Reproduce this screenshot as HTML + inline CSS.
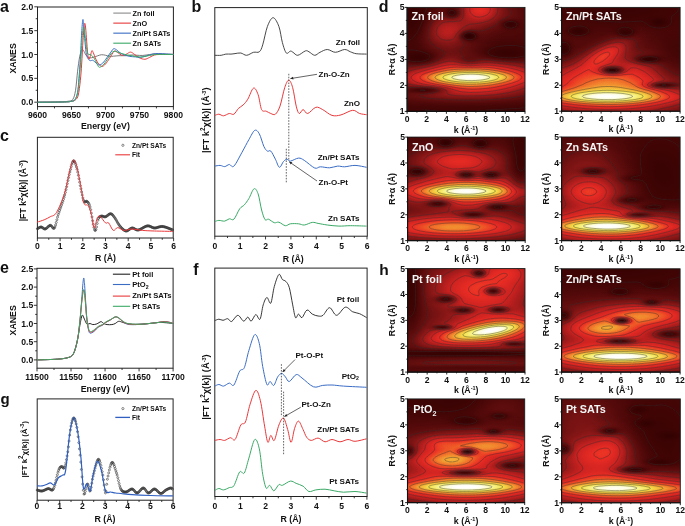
<!DOCTYPE html>
<html><head><meta charset="utf-8"><style>
html,body{margin:0;padding:0;background:#fff;width:685px;height:526px;overflow:hidden}
svg{display:block;font-family:"Liberation Sans",sans-serif;-webkit-font-smoothing:antialiased;will-change:transform}
</style></head><body>
<svg width="685" height="526" viewBox="0 0 685 526">
<defs>
<filter id="cm" x="0" y="0" width="1" height="1" color-interpolation-filters="sRGB"><feComponentTransfer><feFuncR type="table" tableValues="0.165 0.180 0.195 0.210 0.224 0.239 0.254 0.275 0.299 0.323 0.346 0.370 0.394 0.420 0.450 0.480 0.509 0.539 0.569 0.599 0.632 0.665 0.698 0.731 0.764 0.797 0.818 0.836 0.854 0.873 0.891 0.909 0.920 0.923 0.927 0.931 0.934 0.938 0.942 0.943 0.945 0.947 0.949 0.951 0.953 0.954 0.955 0.957 0.958 0.959 0.960 0.962 0.964 0.966 0.968 0.969 0.971 0.974 0.981 0.987 0.993 0.995 0.998 1.000"/><feFuncG type="table" tableValues="0.000 0.003 0.006 0.009 0.012 0.016 0.019 0.024 0.031 0.038 0.045 0.052 0.059 0.065 0.071 0.078 0.084 0.090 0.096 0.103 0.108 0.114 0.119 0.125 0.131 0.136 0.142 0.147 0.153 0.159 0.164 0.170 0.190 0.225 0.260 0.295 0.329 0.364 0.401 0.443 0.485 0.528 0.570 0.612 0.655 0.691 0.726 0.762 0.797 0.833 0.868 0.890 0.903 0.916 0.929 0.942 0.956 0.967 0.976 0.985 0.993 0.995 0.998 1.000"/><feFuncB type="table" tableValues="0.000 0.003 0.006 0.009 0.012 0.016 0.019 0.024 0.031 0.038 0.045 0.052 0.059 0.065 0.071 0.078 0.084 0.090 0.096 0.102 0.107 0.111 0.115 0.120 0.124 0.129 0.131 0.133 0.135 0.137 0.138 0.140 0.142 0.145 0.147 0.150 0.152 0.155 0.158 0.166 0.173 0.181 0.188 0.196 0.203 0.217 0.231 0.245 0.260 0.274 0.288 0.322 0.369 0.415 0.462 0.509 0.556 0.616 0.710 0.803 0.888 0.925 0.963 1.000"/></feComponentTransfer></filter>
<radialGradient id="gw"><stop offset="0.000" stop-color="#fff" stop-opacity="1.0000"/><stop offset="0.083" stop-color="#fff" stop-opacity="0.9692"/><stop offset="0.167" stop-color="#fff" stop-opacity="0.8825"/><stop offset="0.250" stop-color="#fff" stop-opacity="0.7548"/><stop offset="0.333" stop-color="#fff" stop-opacity="0.6065"/><stop offset="0.417" stop-color="#fff" stop-opacity="0.4578"/><stop offset="0.500" stop-color="#fff" stop-opacity="0.3247"/><stop offset="0.583" stop-color="#fff" stop-opacity="0.2163"/><stop offset="0.667" stop-color="#fff" stop-opacity="0.1353"/><stop offset="0.750" stop-color="#fff" stop-opacity="0.0796"/><stop offset="0.833" stop-color="#fff" stop-opacity="0.0439"/><stop offset="0.917" stop-color="#fff" stop-opacity="0.0228"/><stop offset="1.000" stop-color="#fff" stop-opacity="0.0000"/></radialGradient>
<radialGradient id="gb"><stop offset="0.000" stop-color="#000" stop-opacity="1.0000"/><stop offset="0.083" stop-color="#000" stop-opacity="0.9692"/><stop offset="0.167" stop-color="#000" stop-opacity="0.8825"/><stop offset="0.250" stop-color="#000" stop-opacity="0.7548"/><stop offset="0.333" stop-color="#000" stop-opacity="0.6065"/><stop offset="0.417" stop-color="#000" stop-opacity="0.4578"/><stop offset="0.500" stop-color="#000" stop-opacity="0.3247"/><stop offset="0.583" stop-color="#000" stop-opacity="0.2163"/><stop offset="0.667" stop-color="#000" stop-opacity="0.1353"/><stop offset="0.750" stop-color="#000" stop-opacity="0.0796"/><stop offset="0.833" stop-color="#000" stop-opacity="0.0439"/><stop offset="0.917" stop-color="#000" stop-opacity="0.0228"/><stop offset="1.000" stop-color="#000" stop-opacity="0.0000"/></radialGradient>
<clipPath id="cpd1"><rect x="407.1" y="7.4" width="117.9" height="104"/></clipPath>
<clipPath id="cpd2"><rect x="561.6" y="7.4" width="118.5" height="103.8"/></clipPath>
<clipPath id="cpd3"><rect x="407.6" y="137.1" width="117.6" height="103.5"/></clipPath>
<clipPath id="cpd4"><rect x="561.6" y="137" width="118.5" height="103.6"/></clipPath>
<clipPath id="cph1"><rect x="407.6" y="268.6" width="117.4" height="103.5"/></clipPath>
<clipPath id="cph2"><rect x="561.6" y="268.8" width="118.5" height="103.3"/></clipPath>
<clipPath id="cph3"><rect x="407.5" y="398.9" width="117.2" height="103.7"/></clipPath>
<clipPath id="cph4"><rect x="561.6" y="398.9" width="118.7" height="103.9"/></clipPath>
</defs>
<text x="0" y="11.8" font-size="16" text-anchor="start" font-weight="bold" fill="#111">a</text>
<text x="191.5" y="11.8" font-size="16" text-anchor="start" font-weight="bold" fill="#111">b</text>
<text x="0" y="141" font-size="16" text-anchor="start" font-weight="bold" fill="#111">c</text>
<text x="378.8" y="11.8" font-size="16" text-anchor="start" font-weight="bold" fill="#111">d</text>
<text x="0" y="273" font-size="16" text-anchor="start" font-weight="bold" fill="#111">e</text>
<text x="193.3" y="275.2" font-size="16" text-anchor="start" font-weight="bold" fill="#111">f</text>
<text x="0.5" y="403.5" font-size="15" text-anchor="start" font-weight="bold" fill="#111">g</text>
<text x="379.2" y="275" font-size="15.5" text-anchor="start" font-weight="bold" fill="#111">h</text>
<rect x="37.5" y="7" width="135.9" height="99.6" fill="none" stroke="#222" stroke-width="1"/>
<line x1="37.5" y1="106.6" x2="37.5" y2="109.8" stroke="#222" stroke-width="0.9"/>
<line x1="71.47" y1="106.6" x2="71.47" y2="109.8" stroke="#222" stroke-width="0.9"/>
<line x1="105.45" y1="106.6" x2="105.45" y2="109.8" stroke="#222" stroke-width="0.9"/>
<line x1="139.43" y1="106.6" x2="139.43" y2="109.8" stroke="#222" stroke-width="0.9"/>
<line x1="173.4" y1="106.6" x2="173.4" y2="109.8" stroke="#222" stroke-width="0.9"/>
<line x1="54.49" y1="106.6" x2="54.49" y2="108.4" stroke="#222" stroke-width="0.9"/>
<line x1="88.46" y1="106.6" x2="88.46" y2="108.4" stroke="#222" stroke-width="0.9"/>
<line x1="122.44" y1="106.6" x2="122.44" y2="108.4" stroke="#222" stroke-width="0.9"/>
<line x1="156.41" y1="106.6" x2="156.41" y2="108.4" stroke="#222" stroke-width="0.9"/>
<line x1="37.5" y1="102.2" x2="34.3" y2="102.2" stroke="#222" stroke-width="0.9"/>
<line x1="37.5" y1="78.35" x2="34.3" y2="78.35" stroke="#222" stroke-width="0.9"/>
<line x1="37.5" y1="54.5" x2="34.3" y2="54.5" stroke="#222" stroke-width="0.9"/>
<line x1="37.5" y1="30.65" x2="34.3" y2="30.65" stroke="#222" stroke-width="0.9"/>
<line x1="37.5" y1="6.8" x2="34.3" y2="6.8" stroke="#222" stroke-width="0.9"/>
<line x1="37.5" y1="90.28" x2="35.7" y2="90.28" stroke="#222" stroke-width="0.9"/>
<line x1="37.5" y1="66.42" x2="35.7" y2="66.42" stroke="#222" stroke-width="0.9"/>
<line x1="37.5" y1="42.58" x2="35.7" y2="42.58" stroke="#222" stroke-width="0.9"/>
<line x1="37.5" y1="18.72" x2="35.7" y2="18.72" stroke="#222" stroke-width="0.9"/>
<text x="37.5" y="117.7" font-size="8.6" text-anchor="middle" font-weight="bold" fill="#111">9600</text>
<text x="71.47" y="117.7" font-size="8.6" text-anchor="middle" font-weight="bold" fill="#111">9650</text>
<text x="105.45" y="117.7" font-size="8.6" text-anchor="middle" font-weight="bold" fill="#111">9700</text>
<text x="139.43" y="117.7" font-size="8.6" text-anchor="middle" font-weight="bold" fill="#111">9750</text>
<text x="173.4" y="117.7" font-size="8.6" text-anchor="middle" font-weight="bold" fill="#111">9800</text>
<text x="33.2" y="105.2" font-size="8.6" text-anchor="end" font-weight="bold" fill="#111">0.0</text>
<text x="33.2" y="81.35" font-size="8.6" text-anchor="end" font-weight="bold" fill="#111">0.5</text>
<text x="33.2" y="57.5" font-size="8.6" text-anchor="end" font-weight="bold" fill="#111">1.0</text>
<text x="33.2" y="33.65" font-size="8.6" text-anchor="end" font-weight="bold" fill="#111">1.5</text>
<text x="33.2" y="9.8" font-size="8.6" text-anchor="end" font-weight="bold" fill="#111">2.0</text>
<text x="105.4" y="129.2" font-size="8.8" text-anchor="middle" font-weight="bold" fill="#111">Energy (eV)</text>
<text x="16" y="58.4" font-size="8.8" text-anchor="middle" font-weight="bold" fill="#111" transform="rotate(-90 16 58.4)">XANES</text>
<path d="M37.5 102.2C40.9 102.16 52.79 102.12 57.88 101.96C62.98 101.8 65.59 101.68 68.08 101.25C70.57 100.81 71.59 101.17 72.83 99.34C74.08 97.51 74.76 94.97 75.55 90.28C76.34 85.58 76.91 76.76 77.59 71.19C78.27 65.63 78.95 60.38 79.63 56.89C80.31 53.39 81.1 51.4 81.67 50.21C82.23 49.01 82.46 49.17 83.03 49.73C83.59 50.29 84.39 52.43 85.06 53.55C85.74 54.66 86.31 55.69 87.1 56.41C87.9 57.12 88.8 57.68 89.82 57.84C90.84 58 91.97 57.68 93.22 57.36C94.46 57.04 95.94 56.37 97.3 55.93C98.65 55.49 100.01 54.86 101.37 54.74C102.73 54.62 104.09 54.94 105.45 55.22C106.81 55.49 108.17 56.25 109.53 56.41C110.89 56.57 112.02 56.29 113.6 56.17C115.19 56.05 117 55.77 119.04 55.69C121.08 55.61 123.8 55.81 125.83 55.69C127.87 55.57 129.46 55.06 131.27 54.98C133.08 54.9 134.78 55.14 136.71 55.22C138.63 55.3 140.67 55.57 142.82 55.45C144.97 55.33 147.35 54.78 149.62 54.5C151.88 54.22 154.15 53.86 156.41 53.78C158.68 53.7 160.38 53.94 163.21 54.02C166.04 54.1 171.7 54.22 173.4 54.26" fill="none" stroke="#6a6a6a" stroke-width="0.9" stroke-linejoin="round"/>
<path d="M37.5 102.2C42.03 102.16 59.02 102.12 64.68 101.96C70.34 101.8 69.66 101.6 71.47 101.25C73.29 100.89 74.42 100.85 75.55 99.81C76.68 98.78 77.48 98.22 78.27 95.05C79.06 91.87 79.74 85.9 80.31 80.73C80.87 75.57 81.21 70.8 81.67 64.04C82.12 57.28 82.57 46.79 83.03 40.19C83.48 33.59 83.99 26.83 84.39 24.45C84.78 22.06 85.07 23.65 85.4 25.88C85.74 28.11 86.03 33.03 86.42 37.8C86.82 42.57 87.33 50.92 87.78 54.5C88.24 58.08 88.69 59.11 89.14 59.27C89.59 59.43 90.05 56.88 90.5 55.45C90.95 54.02 91.41 51.16 91.86 50.68C92.31 50.21 92.54 51.16 93.22 52.59C93.9 54.02 95.03 57.36 95.94 59.27C96.84 61.18 97.64 62.85 98.66 64.04C99.67 65.23 100.92 66.42 102.05 66.42C103.19 66.42 104.2 65.39 105.45 64.04C106.7 62.69 108.05 60.46 109.53 58.32C111 56.17 112.92 52.11 114.28 51.16C115.64 50.21 116.32 51.88 117.68 52.59C119.04 53.31 120.97 55.22 122.44 55.45C123.91 55.69 125.16 54.58 126.51 54.02C127.87 53.47 129.23 52.04 130.59 52.11C131.95 52.19 133.2 53.55 134.67 54.5C136.14 55.45 137.73 57.04 139.43 57.84C141.12 58.63 143.16 59.35 144.86 59.27C146.56 59.19 148.03 58.08 149.62 57.36C151.2 56.65 152.68 55.45 154.37 54.98C156.07 54.5 157.77 54.58 159.81 54.5C161.85 54.42 164.34 54.5 166.6 54.5C168.87 54.5 172.27 54.5 173.4 54.5" fill="none" stroke="#e8383a" stroke-width="1.0" stroke-linejoin="round"/>
<path d="M37.5 102.2C42.03 102.16 59.02 102.12 64.68 101.96C70.34 101.8 69.78 101.6 71.47 101.25C73.17 100.89 73.85 101.25 74.87 99.81C75.89 98.38 76.91 96.24 77.59 92.66C78.27 89.08 78.5 83.91 78.95 78.35C79.4 72.78 79.86 66.82 80.31 59.27C80.76 51.72 81.25 39.63 81.67 33.03C82.09 26.44 82.48 20.87 82.82 19.68C83.16 18.49 83.33 22.06 83.71 25.88C84.08 29.7 84.61 37.8 85.06 42.58C85.52 47.35 85.86 51.72 86.42 54.5C86.99 57.28 87.78 58.24 88.46 59.27C89.14 60.3 89.82 60.54 90.5 60.7C91.18 60.86 91.86 60.06 92.54 60.22C93.22 60.38 93.79 61.02 94.58 61.66C95.37 62.29 96.5 63.48 97.3 64.04C98.09 64.6 98.43 65.15 99.33 64.99C100.24 64.84 101.49 64.28 102.73 63.09C103.98 61.89 105.45 59.67 106.81 57.84C108.17 56.01 109.75 53.63 110.89 52.11C112.02 50.6 112.7 49.17 113.6 48.78C114.51 48.38 115.19 49.01 116.32 49.73C117.45 50.45 119.04 52.19 120.4 53.07C121.76 53.94 122.89 54.42 124.48 54.98C126.06 55.53 128.1 56.09 129.91 56.41C131.72 56.73 133.65 56.73 135.35 56.89C137.05 57.04 138.29 57.52 140.1 57.36C141.92 57.2 144.07 56.49 146.22 55.93C148.37 55.37 150.98 54.42 153.01 54.02C155.05 53.63 156.19 53.55 158.45 53.55C160.72 53.55 164.11 53.86 166.6 54.02C169.1 54.18 172.27 54.42 173.4 54.5" fill="none" stroke="#3a6cc4" stroke-width="1.0" stroke-linejoin="round"/>
<path d="M37.5 102.2C42.03 102.16 59.02 102.12 64.68 101.96C70.34 101.8 69.78 101.6 71.47 101.25C73.17 100.89 73.85 101.25 74.87 99.81C75.89 98.38 76.85 96.24 77.59 92.66C78.33 89.08 78.72 84.31 79.29 78.35C79.86 72.39 80.48 64.04 80.99 56.89C81.5 49.73 81.89 40.39 82.35 35.42C82.8 30.45 83.25 27.07 83.71 27.07C84.16 27.07 84.61 32.04 85.06 35.42C85.52 38.8 85.97 44.32 86.42 47.35C86.88 50.37 87.33 52.35 87.78 53.55C88.24 54.74 88.58 54.26 89.14 54.5C89.71 54.74 90.39 54.42 91.18 54.98C91.97 55.53 92.99 56.49 93.9 57.84C94.8 59.19 95.82 61.58 96.62 63.09C97.41 64.6 97.98 66.27 98.66 66.9C99.33 67.54 99.79 67.38 100.69 66.9C101.6 66.42 102.85 65.55 104.09 64.04C105.34 62.53 106.92 59.67 108.17 57.84C109.41 56.01 110.55 54.18 111.57 53.07C112.58 51.96 113.26 51.32 114.28 51.16C115.3 51 116.44 51.72 117.68 52.11C118.93 52.51 120.17 53.07 121.76 53.55C123.34 54.02 125.38 54.58 127.19 54.98C129.01 55.37 130.82 55.61 132.63 55.93C134.44 56.25 136.37 56.73 138.07 56.89C139.76 57.04 140.9 57.12 142.82 56.89C144.75 56.65 147.35 55.85 149.62 55.45C151.88 55.06 153.58 54.66 156.41 54.5C159.24 54.34 163.77 54.5 166.6 54.5C169.44 54.5 172.27 54.5 173.4 54.5" fill="none" stroke="#3aa865" stroke-width="1.0" stroke-linejoin="round"/>
<line x1="113.3" y1="13.1" x2="131" y2="13.1" stroke="#8a8a8a" stroke-width="1.1"/>
<text x="132.6" y="15.9" font-size="7.3" text-anchor="start" font-weight="bold" fill="#111">Zn foil</text>
<line x1="113.3" y1="23.13" x2="131" y2="23.13" stroke="#e8383a" stroke-width="1.1"/>
<text x="132.6" y="25.93" font-size="7.3" text-anchor="start" font-weight="bold" fill="#111">ZnO</text>
<line x1="113.3" y1="33.16" x2="131" y2="33.16" stroke="#3a6cc4" stroke-width="1.1"/>
<text x="132.6" y="35.96" font-size="7.3" text-anchor="start" font-weight="bold" fill="#111">Zn/Pt SATs</text>
<line x1="113.3" y1="43.19" x2="131" y2="43.19" stroke="#3aa865" stroke-width="1.1"/>
<text x="132.6" y="45.99" font-size="7.3" text-anchor="start" font-weight="bold" fill="#111">Zn SATs</text>
<rect x="214.8" y="7.6" width="152.5" height="228.6" fill="none" stroke="#222" stroke-width="1"/>
<line x1="214.8" y1="236.2" x2="214.8" y2="239.4" stroke="#222" stroke-width="0.9"/>
<line x1="240.17" y1="236.2" x2="240.17" y2="239.4" stroke="#222" stroke-width="0.9"/>
<line x1="265.54" y1="236.2" x2="265.54" y2="239.4" stroke="#222" stroke-width="0.9"/>
<line x1="290.91" y1="236.2" x2="290.91" y2="239.4" stroke="#222" stroke-width="0.9"/>
<line x1="316.28" y1="236.2" x2="316.28" y2="239.4" stroke="#222" stroke-width="0.9"/>
<line x1="341.65" y1="236.2" x2="341.65" y2="239.4" stroke="#222" stroke-width="0.9"/>
<line x1="367.02" y1="236.2" x2="367.02" y2="239.4" stroke="#222" stroke-width="0.9"/>
<line x1="227.49" y1="236.2" x2="227.49" y2="238" stroke="#222" stroke-width="0.9"/>
<line x1="252.86" y1="236.2" x2="252.86" y2="238" stroke="#222" stroke-width="0.9"/>
<line x1="278.23" y1="236.2" x2="278.23" y2="238" stroke="#222" stroke-width="0.9"/>
<line x1="303.6" y1="236.2" x2="303.6" y2="238" stroke="#222" stroke-width="0.9"/>
<line x1="328.97" y1="236.2" x2="328.97" y2="238" stroke="#222" stroke-width="0.9"/>
<line x1="354.34" y1="236.2" x2="354.34" y2="238" stroke="#222" stroke-width="0.9"/>
<text x="214.8" y="248.8" font-size="8.6" text-anchor="middle" font-weight="bold" fill="#111">0</text>
<text x="240.17" y="248.8" font-size="8.6" text-anchor="middle" font-weight="bold" fill="#111">1</text>
<text x="265.54" y="248.8" font-size="8.6" text-anchor="middle" font-weight="bold" fill="#111">2</text>
<text x="290.91" y="248.8" font-size="8.6" text-anchor="middle" font-weight="bold" fill="#111">3</text>
<text x="316.28" y="248.8" font-size="8.6" text-anchor="middle" font-weight="bold" fill="#111">4</text>
<text x="341.65" y="248.8" font-size="8.6" text-anchor="middle" font-weight="bold" fill="#111">5</text>
<text x="367.02" y="248.8" font-size="8.6" text-anchor="middle" font-weight="bold" fill="#111">6</text>
<text x="293.21" y="261.5" font-size="8.8" text-anchor="middle" font-weight="bold" fill="#111">R (Å)</text>
<text x="208.7" y="120.2" font-size="9.4" text-anchor="middle" font-weight="bold" fill="#111" transform="rotate(-90 208.7 120.2)">|FT k<tspan font-size="6.3" dy="-3.4">2</tspan><tspan dy="3.4">χ(k)| (Å</tspan><tspan font-size="5.5" dy="-3">-3</tspan><tspan dy="3">)</tspan></text>
<path d="M214.8 55.3C215.87 55.3 219.37 55.5 221.2 55.3C223.03 55.1 224.17 54.3 225.8 54.1C227.43 53.9 229.47 54.18 231 54.1C232.53 54.02 233.37 53.78 235 53.6C236.63 53.42 238.87 52.72 240.8 53C242.73 53.28 244.48 55.42 246.6 55.3C248.72 55.18 251.38 52.88 253.5 52.3C255.62 51.72 257.77 53.03 259.3 51.8C260.83 50.57 261.35 49.12 262.7 44.9C264.05 40.68 265.67 31.03 267.4 26.5C269.13 21.97 271.18 17.7 273.1 17.7C275.02 17.7 277.35 22.35 278.9 26.5C280.45 30.65 281.17 38.18 282.4 42.6C283.63 47.02 284.97 51.58 286.3 53C287.63 54.42 289.28 51.22 290.4 51.1C291.52 50.98 291.77 51.6 293 52.3C294.23 53 295.73 55.53 297.8 55.3C299.87 55.07 303.53 51.48 305.4 50.9C307.27 50.32 307.45 51.07 309 51.8C310.55 52.53 312.87 55.22 314.7 55.3C316.53 55.38 317.9 53.27 320 52.3C322.1 51.33 324.73 49.5 327.3 49.5C329.87 49.5 332.52 52.3 335.4 52.3C338.28 52.3 342.1 49.58 344.6 49.5C347.1 49.42 348.47 51.1 350.4 51.8C352.33 52.5 353.5 53.32 356.2 53.7C358.9 54.08 364.87 54.03 366.6 54.1" fill="none" stroke="#333" stroke-width="0.9" stroke-linejoin="round"/>
<path d="M214.8 115.4C215.48 115.2 217.45 114.13 218.9 114.2C220.35 114.27 221.77 115.92 223.5 115.8C225.23 115.68 227.57 113.77 229.3 113.5C231.03 113.23 232.37 115.05 233.9 114.2C235.43 113.35 236.97 109.93 238.5 108.4C240.03 106.87 241.55 106.53 243.1 105C244.65 103.47 246.07 102.02 247.8 99.2C249.53 96.38 251.78 88.87 253.5 88.1C255.22 87.33 256.75 91.02 258.1 94.6C259.45 98.18 260.25 106.83 261.6 109.6C262.95 112.37 264.67 110.55 266.2 111.2C267.73 111.85 269.27 113 270.8 113.5C272.33 114 273.87 115.43 275.4 114.2C276.93 112.97 278.45 110.52 280 106.1C281.55 101.68 283.23 92.03 284.7 87.7C286.17 83.37 287.47 80.1 288.8 80.1C290.13 80.1 291.47 83.37 292.7 87.7C293.93 92.03 295.12 101.8 296.2 106.1C297.28 110.4 298.05 112.92 299.2 113.5C300.35 114.08 301.68 109.6 303.1 109.6C304.52 109.6 305.58 113.88 307.7 113.5C309.82 113.12 313.3 107.95 315.8 107.3C318.3 106.65 320 108.25 322.7 109.6C325.4 110.95 328.95 114.52 332 115.4C335.05 116.28 337.55 115.75 341 114.9C344.45 114.05 349.6 110.53 352.7 110.3C355.8 110.07 357.28 112.77 359.6 113.5C361.92 114.23 365.43 114.5 366.6 114.7" fill="none" stroke="#e8383a" stroke-width="1.0" stroke-linejoin="round"/>
<path d="M214.8 166.1C215.68 165.98 218.45 165.32 220.1 165.4C221.75 165.48 223.17 166.75 224.7 166.6C226.23 166.45 227.77 164.58 229.3 164.5C230.83 164.42 231.78 168.13 233.9 166.1C236.02 164.07 239.5 156.72 242 152.3C244.5 147.88 246.78 143.25 248.9 139.6C251.02 135.95 252.97 131.37 254.7 130.4C256.43 129.43 257.77 131.12 259.3 133.8C260.83 136.48 262.55 143.62 263.9 146.5C265.25 149.38 266.25 150.33 267.4 151.1C268.55 151.87 269.47 149.75 270.8 151.1C272.13 152.45 273.97 156.5 275.4 159.2C276.83 161.9 278.05 166.92 279.4 167.3C280.75 167.68 282.23 162.85 283.5 161.5C284.77 160.15 285.85 159.27 287 159.2C288.15 159.13 288.48 161.28 290.4 161.1C292.32 160.92 296.18 158.22 298.5 158.1C300.82 157.98 301.6 158.75 304.3 160.4C307 162.05 312.02 166.93 314.7 168C317.38 169.07 317.92 166.83 320.4 166.8C322.88 166.77 326.72 167.92 329.6 167.8C332.48 167.68 335.2 166.27 337.7 166.1C340.2 165.93 341.72 166.92 344.6 166.8C347.48 166.68 351.33 165.32 355 165.4C358.67 165.48 364.67 166.98 366.6 167.3" fill="none" stroke="#3a6cc4" stroke-width="1.0" stroke-linejoin="round"/>
<path d="M214.8 221.5C215.48 221.32 217.25 220.47 218.9 220.4C220.55 220.33 222.97 221.37 224.7 221.1C226.43 220.83 227.77 219.12 229.3 218.8C230.83 218.48 232.17 220.87 233.9 219.2C235.63 217.53 237.97 211.18 239.7 208.8C241.43 206.42 242.77 206.62 244.3 204.9C245.83 203.18 247.28 201.18 248.9 198.5C250.52 195.82 252.47 189.58 254 188.8C255.53 188.02 256.83 190.27 258.1 193.8C259.37 197.33 260.43 205.68 261.6 210C262.77 214.32 263.95 218.17 265.1 219.7C266.25 221.23 266.97 218.7 268.5 219.2C270.03 219.7 272.57 222.2 274.3 222.7C276.03 223.2 277.05 221.7 278.9 222.2C280.75 222.7 283.48 225.43 285.4 225.7C287.32 225.97 288.22 224.12 290.4 223.8C292.58 223.48 296.18 223.6 298.5 223.8C300.82 224 302 225.23 304.3 225C306.6 224.77 310 222.67 312.3 222.4C314.6 222.13 315.6 222.97 318.1 223.4C320.6 223.83 323.83 224.55 327.3 225C330.77 225.45 335.05 225.98 338.9 226.1C342.75 226.22 345.78 225.7 350.4 225.7C355.02 225.7 363.9 226.03 366.6 226.1" fill="none" stroke="#3aa865" stroke-width="1.0" stroke-linejoin="round"/>
<text x="360.1" y="45" font-size="8.1" text-anchor="end" font-weight="bold" fill="#111">Zn foil</text>
<text x="360.1" y="106.1" font-size="8.1" text-anchor="end" font-weight="bold" fill="#111">ZnO</text>
<text x="359.6" y="159.9" font-size="8.1" text-anchor="end" font-weight="bold" fill="#111">Zn/Pt SATs</text>
<text x="359.6" y="221" font-size="8.1" text-anchor="end" font-weight="bold" fill="#111">Zn SATs</text>
<line x1="288.8" y1="73.8" x2="288.8" y2="161" stroke="#222" stroke-width="0.7" stroke-dasharray="1.6 1.3"/>
<line x1="286.3" y1="148.8" x2="286.3" y2="182.3" stroke="#222" stroke-width="0.7" stroke-dasharray="1.6 1.3"/>
<line x1="317" y1="74.3" x2="290.4" y2="78.6" stroke="#222" stroke-width="0.7"/>
<path d="M290.4 78.6 L293.02 76.77 L293.47 79.51 Z" fill="#222"/>
<text x="318.6" y="77.3" font-size="8.0" text-anchor="start" font-weight="bold" fill="#111">Zn-O-Zn</text>
<line x1="317" y1="181" x2="289.2" y2="161.8" stroke="#222" stroke-width="0.7"/>
<path d="M289.2 161.8 L292.36 162.29 L290.78 164.58 Z" fill="#222"/>
<text x="318.6" y="185.4" font-size="8.0" text-anchor="start" font-weight="bold" fill="#111">Zn-O-Pt</text>
<rect x="37.4" y="137.3" width="135.8" height="100.7" fill="none" stroke="#222" stroke-width="1"/>
<line x1="37.4" y1="238" x2="37.4" y2="241.2" stroke="#222" stroke-width="0.9"/>
<line x1="60.1" y1="238" x2="60.1" y2="241.2" stroke="#222" stroke-width="0.9"/>
<line x1="82.8" y1="238" x2="82.8" y2="241.2" stroke="#222" stroke-width="0.9"/>
<line x1="105.5" y1="238" x2="105.5" y2="241.2" stroke="#222" stroke-width="0.9"/>
<line x1="128.2" y1="238" x2="128.2" y2="241.2" stroke="#222" stroke-width="0.9"/>
<line x1="150.9" y1="238" x2="150.9" y2="241.2" stroke="#222" stroke-width="0.9"/>
<line x1="173.6" y1="238" x2="173.6" y2="241.2" stroke="#222" stroke-width="0.9"/>
<line x1="48.75" y1="238" x2="48.75" y2="239.8" stroke="#222" stroke-width="0.9"/>
<line x1="71.45" y1="238" x2="71.45" y2="239.8" stroke="#222" stroke-width="0.9"/>
<line x1="94.15" y1="238" x2="94.15" y2="239.8" stroke="#222" stroke-width="0.9"/>
<line x1="116.85" y1="238" x2="116.85" y2="239.8" stroke="#222" stroke-width="0.9"/>
<line x1="139.55" y1="238" x2="139.55" y2="239.8" stroke="#222" stroke-width="0.9"/>
<line x1="162.25" y1="238" x2="162.25" y2="239.8" stroke="#222" stroke-width="0.9"/>
<text x="37.4" y="248.5" font-size="8.6" text-anchor="middle" font-weight="bold" fill="#111">0</text>
<text x="60.1" y="248.5" font-size="8.6" text-anchor="middle" font-weight="bold" fill="#111">1</text>
<text x="82.8" y="248.5" font-size="8.6" text-anchor="middle" font-weight="bold" fill="#111">2</text>
<text x="105.5" y="248.5" font-size="8.6" text-anchor="middle" font-weight="bold" fill="#111">3</text>
<text x="128.2" y="248.5" font-size="8.6" text-anchor="middle" font-weight="bold" fill="#111">4</text>
<text x="150.9" y="248.5" font-size="8.6" text-anchor="middle" font-weight="bold" fill="#111">5</text>
<text x="173.6" y="248.5" font-size="8.6" text-anchor="middle" font-weight="bold" fill="#111">6</text>
<text x="105.5" y="261.3" font-size="8.8" text-anchor="middle" font-weight="bold" fill="#111">R (Å)</text>
<text x="26.5" y="190.7" font-size="8.7" text-anchor="middle" font-weight="bold" fill="#111" transform="rotate(-90 26.5 190.7)">|FT k<tspan font-size="6.3" dy="-3.4">2</tspan><tspan dy="3.4">χ(k)| (Å</tspan><tspan font-size="5.5" dy="-3">-3</tspan><tspan dy="3">)</tspan></text>
<path d="M36.4 228.77a1.0 1.0 0 1 0 2 0a1.0 1.0 0 1 0 -2 0M37.05 228.34a1.0 1.0 0 1 0 2 0a1.0 1.0 0 1 0 -2 0M37.7 227.93a1.0 1.0 0 1 0 2 0a1.0 1.0 0 1 0 -2 0M38.35 227.56a1.0 1.0 0 1 0 2 0a1.0 1.0 0 1 0 -2 0M39 227.26a1.0 1.0 0 1 0 2 0a1.0 1.0 0 1 0 -2 0M39.65 227.05a1.0 1.0 0 1 0 2 0a1.0 1.0 0 1 0 -2 0M40.3 227.02a1.0 1.0 0 1 0 2 0a1.0 1.0 0 1 0 -2 0M40.95 227.26a1.0 1.0 0 1 0 2 0a1.0 1.0 0 1 0 -2 0M41.6 227.71a1.0 1.0 0 1 0 2 0a1.0 1.0 0 1 0 -2 0M42.25 228.24a1.0 1.0 0 1 0 2 0a1.0 1.0 0 1 0 -2 0M42.9 228.69a1.0 1.0 0 1 0 2 0a1.0 1.0 0 1 0 -2 0M43.55 228.97a1.0 1.0 0 1 0 2 0a1.0 1.0 0 1 0 -2 0M44.2 229a1.0 1.0 0 1 0 2 0a1.0 1.0 0 1 0 -2 0M44.85 228.73a1.0 1.0 0 1 0 2 0a1.0 1.0 0 1 0 -2 0M45.5 228.27a1.0 1.0 0 1 0 2 0a1.0 1.0 0 1 0 -2 0M46.15 227.69a1.0 1.0 0 1 0 2 0a1.0 1.0 0 1 0 -2 0M46.8 227.06a1.0 1.0 0 1 0 2 0a1.0 1.0 0 1 0 -2 0M47.45 226.44a1.0 1.0 0 1 0 2 0a1.0 1.0 0 1 0 -2 0M48.1 225.89a1.0 1.0 0 1 0 2 0a1.0 1.0 0 1 0 -2 0M48.75 225.47a1.0 1.0 0 1 0 2 0a1.0 1.0 0 1 0 -2 0M49.4 225.3a1.0 1.0 0 1 0 2 0a1.0 1.0 0 1 0 -2 0M50.05 225.58a1.0 1.0 0 1 0 2 0a1.0 1.0 0 1 0 -2 0M50.7 226.3a1.0 1.0 0 1 0 2 0a1.0 1.0 0 1 0 -2 0M51.35 227.22a1.0 1.0 0 1 0 2 0a1.0 1.0 0 1 0 -2 0M52 228.05a1.0 1.0 0 1 0 2 0a1.0 1.0 0 1 0 -2 0M52.65 228.45a1.0 1.0 0 1 0 2 0a1.0 1.0 0 1 0 -2 0M53.3 228.12a1.0 1.0 0 1 0 2 0a1.0 1.0 0 1 0 -2 0M53.95 226.93a1.0 1.0 0 1 0 2 0a1.0 1.0 0 1 0 -2 0M54.6 224.97a1.0 1.0 0 1 0 2 0a1.0 1.0 0 1 0 -2 0M55.25 222.48a1.0 1.0 0 1 0 2 0a1.0 1.0 0 1 0 -2 0M55.9 219.76a1.0 1.0 0 1 0 2 0a1.0 1.0 0 1 0 -2 0M56.55 217.1a1.0 1.0 0 1 0 2 0a1.0 1.0 0 1 0 -2 0M57.2 214.7a1.0 1.0 0 1 0 2 0a1.0 1.0 0 1 0 -2 0M57.85 212.6a1.0 1.0 0 1 0 2 0a1.0 1.0 0 1 0 -2 0M58.5 210.66a1.0 1.0 0 1 0 2 0a1.0 1.0 0 1 0 -2 0M59.15 208.79a1.0 1.0 0 1 0 2 0a1.0 1.0 0 1 0 -2 0M59.8 206.96a1.0 1.0 0 1 0 2 0a1.0 1.0 0 1 0 -2 0M60.45 205.12a1.0 1.0 0 1 0 2 0a1.0 1.0 0 1 0 -2 0M61.1 203.26a1.0 1.0 0 1 0 2 0a1.0 1.0 0 1 0 -2 0M61.75 201.34a1.0 1.0 0 1 0 2 0a1.0 1.0 0 1 0 -2 0M62.4 199.34a1.0 1.0 0 1 0 2 0a1.0 1.0 0 1 0 -2 0M63.05 197.23a1.0 1.0 0 1 0 2 0a1.0 1.0 0 1 0 -2 0M63.7 194.93a1.0 1.0 0 1 0 2 0a1.0 1.0 0 1 0 -2 0M64.35 192.38a1.0 1.0 0 1 0 2 0a1.0 1.0 0 1 0 -2 0M65 189.62a1.0 1.0 0 1 0 2 0a1.0 1.0 0 1 0 -2 0M65.65 186.68a1.0 1.0 0 1 0 2 0a1.0 1.0 0 1 0 -2 0M66.3 183.64a1.0 1.0 0 1 0 2 0a1.0 1.0 0 1 0 -2 0M66.95 180.57a1.0 1.0 0 1 0 2 0a1.0 1.0 0 1 0 -2 0M67.6 177.53a1.0 1.0 0 1 0 2 0a1.0 1.0 0 1 0 -2 0M68.25 174.65a1.0 1.0 0 1 0 2 0a1.0 1.0 0 1 0 -2 0M68.9 172.01a1.0 1.0 0 1 0 2 0a1.0 1.0 0 1 0 -2 0M69.55 169.36a1.0 1.0 0 1 0 2 0a1.0 1.0 0 1 0 -2 0M70.2 166.69a1.0 1.0 0 1 0 2 0a1.0 1.0 0 1 0 -2 0M70.85 164.25a1.0 1.0 0 1 0 2 0a1.0 1.0 0 1 0 -2 0M71.5 162.3a1.0 1.0 0 1 0 2 0a1.0 1.0 0 1 0 -2 0M72.15 161.12a1.0 1.0 0 1 0 2 0a1.0 1.0 0 1 0 -2 0M72.8 160.84a1.0 1.0 0 1 0 2 0a1.0 1.0 0 1 0 -2 0M73.45 161.4a1.0 1.0 0 1 0 2 0a1.0 1.0 0 1 0 -2 0M74.1 162.72a1.0 1.0 0 1 0 2 0a1.0 1.0 0 1 0 -2 0M74.75 164.61a1.0 1.0 0 1 0 2 0a1.0 1.0 0 1 0 -2 0M75.4 166.86a1.0 1.0 0 1 0 2 0a1.0 1.0 0 1 0 -2 0M76.05 169.28a1.0 1.0 0 1 0 2 0a1.0 1.0 0 1 0 -2 0M76.7 172.11a1.0 1.0 0 1 0 2 0a1.0 1.0 0 1 0 -2 0M77.35 175.31a1.0 1.0 0 1 0 2 0a1.0 1.0 0 1 0 -2 0M78 178.72a1.0 1.0 0 1 0 2 0a1.0 1.0 0 1 0 -2 0M78.65 182.2a1.0 1.0 0 1 0 2 0a1.0 1.0 0 1 0 -2 0M79.3 185.64a1.0 1.0 0 1 0 2 0a1.0 1.0 0 1 0 -2 0M79.95 188.87a1.0 1.0 0 1 0 2 0a1.0 1.0 0 1 0 -2 0M80.6 191.94a1.0 1.0 0 1 0 2 0a1.0 1.0 0 1 0 -2 0M81.25 195.06a1.0 1.0 0 1 0 2 0a1.0 1.0 0 1 0 -2 0M81.9 197.95a1.0 1.0 0 1 0 2 0a1.0 1.0 0 1 0 -2 0M82.55 200.26a1.0 1.0 0 1 0 2 0a1.0 1.0 0 1 0 -2 0M83.2 201.74a1.0 1.0 0 1 0 2 0a1.0 1.0 0 1 0 -2 0M83.85 202.12a1.0 1.0 0 1 0 2 0a1.0 1.0 0 1 0 -2 0M84.5 201.78a1.0 1.0 0 1 0 2 0a1.0 1.0 0 1 0 -2 0M85.15 201.3a1.0 1.0 0 1 0 2 0a1.0 1.0 0 1 0 -2 0M85.8 201.26a1.0 1.0 0 1 0 2 0a1.0 1.0 0 1 0 -2 0M86.45 201.82a1.0 1.0 0 1 0 2 0a1.0 1.0 0 1 0 -2 0M87.1 202.48a1.0 1.0 0 1 0 2 0a1.0 1.0 0 1 0 -2 0M87.75 203.46a1.0 1.0 0 1 0 2 0a1.0 1.0 0 1 0 -2 0M88.4 204.94a1.0 1.0 0 1 0 2 0a1.0 1.0 0 1 0 -2 0M89.05 206.96a1.0 1.0 0 1 0 2 0a1.0 1.0 0 1 0 -2 0M89.7 209.68a1.0 1.0 0 1 0 2 0a1.0 1.0 0 1 0 -2 0M90.35 213.14a1.0 1.0 0 1 0 2 0a1.0 1.0 0 1 0 -2 0M91 216.9a1.0 1.0 0 1 0 2 0a1.0 1.0 0 1 0 -2 0M91.65 220.7a1.0 1.0 0 1 0 2 0a1.0 1.0 0 1 0 -2 0M92.3 224.31a1.0 1.0 0 1 0 2 0a1.0 1.0 0 1 0 -2 0M92.95 227.46a1.0 1.0 0 1 0 2 0a1.0 1.0 0 1 0 -2 0M93.6 229.77a1.0 1.0 0 1 0 2 0a1.0 1.0 0 1 0 -2 0M94.25 230.6a1.0 1.0 0 1 0 2 0a1.0 1.0 0 1 0 -2 0M94.9 229.56a1.0 1.0 0 1 0 2 0a1.0 1.0 0 1 0 -2 0M95.55 226.96a1.0 1.0 0 1 0 2 0a1.0 1.0 0 1 0 -2 0M96.2 223.49a1.0 1.0 0 1 0 2 0a1.0 1.0 0 1 0 -2 0M96.85 220.26a1.0 1.0 0 1 0 2 0a1.0 1.0 0 1 0 -2 0M97.5 218.38a1.0 1.0 0 1 0 2 0a1.0 1.0 0 1 0 -2 0M98.15 217.32a1.0 1.0 0 1 0 2 0a1.0 1.0 0 1 0 -2 0M98.8 216.69a1.0 1.0 0 1 0 2 0a1.0 1.0 0 1 0 -2 0M99.45 216.36a1.0 1.0 0 1 0 2 0a1.0 1.0 0 1 0 -2 0M100.1 216.18a1.0 1.0 0 1 0 2 0a1.0 1.0 0 1 0 -2 0M100.75 216.05a1.0 1.0 0 1 0 2 0a1.0 1.0 0 1 0 -2 0M101.4 216.14a1.0 1.0 0 1 0 2 0a1.0 1.0 0 1 0 -2 0M102.05 216.37a1.0 1.0 0 1 0 2 0a1.0 1.0 0 1 0 -2 0M102.7 216.62a1.0 1.0 0 1 0 2 0a1.0 1.0 0 1 0 -2 0M103.35 216.81a1.0 1.0 0 1 0 2 0a1.0 1.0 0 1 0 -2 0M104 216.87a1.0 1.0 0 1 0 2 0a1.0 1.0 0 1 0 -2 0M104.65 216.75a1.0 1.0 0 1 0 2 0a1.0 1.0 0 1 0 -2 0M105.3 216.42a1.0 1.0 0 1 0 2 0a1.0 1.0 0 1 0 -2 0M105.95 215.96a1.0 1.0 0 1 0 2 0a1.0 1.0 0 1 0 -2 0M106.6 215.42a1.0 1.0 0 1 0 2 0a1.0 1.0 0 1 0 -2 0M107.25 214.88a1.0 1.0 0 1 0 2 0a1.0 1.0 0 1 0 -2 0M107.9 214.38a1.0 1.0 0 1 0 2 0a1.0 1.0 0 1 0 -2 0M108.55 213.97a1.0 1.0 0 1 0 2 0a1.0 1.0 0 1 0 -2 0M109.2 213.72a1.0 1.0 0 1 0 2 0a1.0 1.0 0 1 0 -2 0M109.85 213.74a1.0 1.0 0 1 0 2 0a1.0 1.0 0 1 0 -2 0M110.5 214a1.0 1.0 0 1 0 2 0a1.0 1.0 0 1 0 -2 0M111.15 214.48a1.0 1.0 0 1 0 2 0a1.0 1.0 0 1 0 -2 0M111.8 215.17a1.0 1.0 0 1 0 2 0a1.0 1.0 0 1 0 -2 0M112.45 216a1.0 1.0 0 1 0 2 0a1.0 1.0 0 1 0 -2 0M113.1 216.89a1.0 1.0 0 1 0 2 0a1.0 1.0 0 1 0 -2 0M113.75 217.77a1.0 1.0 0 1 0 2 0a1.0 1.0 0 1 0 -2 0M114.4 218.73a1.0 1.0 0 1 0 2 0a1.0 1.0 0 1 0 -2 0M115.05 219.82a1.0 1.0 0 1 0 2 0a1.0 1.0 0 1 0 -2 0M115.7 220.97a1.0 1.0 0 1 0 2 0a1.0 1.0 0 1 0 -2 0M116.35 222.13a1.0 1.0 0 1 0 2 0a1.0 1.0 0 1 0 -2 0M117 223.26a1.0 1.0 0 1 0 2 0a1.0 1.0 0 1 0 -2 0M117.65 224.31a1.0 1.0 0 1 0 2 0a1.0 1.0 0 1 0 -2 0M118.3 225.26a1.0 1.0 0 1 0 2 0a1.0 1.0 0 1 0 -2 0M118.95 226.08a1.0 1.0 0 1 0 2 0a1.0 1.0 0 1 0 -2 0M119.6 226.84a1.0 1.0 0 1 0 2 0a1.0 1.0 0 1 0 -2 0M120.25 227.58a1.0 1.0 0 1 0 2 0a1.0 1.0 0 1 0 -2 0M120.9 228.28a1.0 1.0 0 1 0 2 0a1.0 1.0 0 1 0 -2 0M121.55 228.93a1.0 1.0 0 1 0 2 0a1.0 1.0 0 1 0 -2 0M122.2 229.52a1.0 1.0 0 1 0 2 0a1.0 1.0 0 1 0 -2 0M122.85 230.03a1.0 1.0 0 1 0 2 0a1.0 1.0 0 1 0 -2 0M123.5 230.46a1.0 1.0 0 1 0 2 0a1.0 1.0 0 1 0 -2 0M124.15 230.78a1.0 1.0 0 1 0 2 0a1.0 1.0 0 1 0 -2 0M124.8 230.98a1.0 1.0 0 1 0 2 0a1.0 1.0 0 1 0 -2 0M125.45 231.01a1.0 1.0 0 1 0 2 0a1.0 1.0 0 1 0 -2 0M126.1 230.85a1.0 1.0 0 1 0 2 0a1.0 1.0 0 1 0 -2 0M126.75 230.54a1.0 1.0 0 1 0 2 0a1.0 1.0 0 1 0 -2 0M127.4 230.13a1.0 1.0 0 1 0 2 0a1.0 1.0 0 1 0 -2 0M128.05 229.66a1.0 1.0 0 1 0 2 0a1.0 1.0 0 1 0 -2 0M128.7 229.17a1.0 1.0 0 1 0 2 0a1.0 1.0 0 1 0 -2 0M129.35 228.72a1.0 1.0 0 1 0 2 0a1.0 1.0 0 1 0 -2 0M130 228.34a1.0 1.0 0 1 0 2 0a1.0 1.0 0 1 0 -2 0M130.65 228.08a1.0 1.0 0 1 0 2 0a1.0 1.0 0 1 0 -2 0M131.3 227.99a1.0 1.0 0 1 0 2 0a1.0 1.0 0 1 0 -2 0M131.95 228.08a1.0 1.0 0 1 0 2 0a1.0 1.0 0 1 0 -2 0M132.6 228.31a1.0 1.0 0 1 0 2 0a1.0 1.0 0 1 0 -2 0M133.25 228.65a1.0 1.0 0 1 0 2 0a1.0 1.0 0 1 0 -2 0M133.9 229.03a1.0 1.0 0 1 0 2 0a1.0 1.0 0 1 0 -2 0M134.55 229.4a1.0 1.0 0 1 0 2 0a1.0 1.0 0 1 0 -2 0M135.2 229.71a1.0 1.0 0 1 0 2 0a1.0 1.0 0 1 0 -2 0M135.85 229.92a1.0 1.0 0 1 0 2 0a1.0 1.0 0 1 0 -2 0M136.5 230.02a1.0 1.0 0 1 0 2 0a1.0 1.0 0 1 0 -2 0M137.15 230a1.0 1.0 0 1 0 2 0a1.0 1.0 0 1 0 -2 0M137.8 229.87a1.0 1.0 0 1 0 2 0a1.0 1.0 0 1 0 -2 0M138.45 229.65a1.0 1.0 0 1 0 2 0a1.0 1.0 0 1 0 -2 0M139.1 229.37a1.0 1.0 0 1 0 2 0a1.0 1.0 0 1 0 -2 0M139.75 229.05a1.0 1.0 0 1 0 2 0a1.0 1.0 0 1 0 -2 0M140.4 228.7a1.0 1.0 0 1 0 2 0a1.0 1.0 0 1 0 -2 0M141.05 228.34a1.0 1.0 0 1 0 2 0a1.0 1.0 0 1 0 -2 0M141.7 227.97a1.0 1.0 0 1 0 2 0a1.0 1.0 0 1 0 -2 0M142.35 227.6a1.0 1.0 0 1 0 2 0a1.0 1.0 0 1 0 -2 0M143 227.23a1.0 1.0 0 1 0 2 0a1.0 1.0 0 1 0 -2 0M143.65 226.89a1.0 1.0 0 1 0 2 0a1.0 1.0 0 1 0 -2 0M144.3 226.58a1.0 1.0 0 1 0 2 0a1.0 1.0 0 1 0 -2 0M144.95 226.3a1.0 1.0 0 1 0 2 0a1.0 1.0 0 1 0 -2 0M145.6 226.07a1.0 1.0 0 1 0 2 0a1.0 1.0 0 1 0 -2 0M146.25 225.92a1.0 1.0 0 1 0 2 0a1.0 1.0 0 1 0 -2 0M146.9 225.87a1.0 1.0 0 1 0 2 0a1.0 1.0 0 1 0 -2 0M147.55 225.91a1.0 1.0 0 1 0 2 0a1.0 1.0 0 1 0 -2 0M148.2 226.05a1.0 1.0 0 1 0 2 0a1.0 1.0 0 1 0 -2 0M148.85 226.26a1.0 1.0 0 1 0 2 0a1.0 1.0 0 1 0 -2 0M149.5 226.54a1.0 1.0 0 1 0 2 0a1.0 1.0 0 1 0 -2 0M150.15 226.86a1.0 1.0 0 1 0 2 0a1.0 1.0 0 1 0 -2 0M150.8 227.18a1.0 1.0 0 1 0 2 0a1.0 1.0 0 1 0 -2 0M151.45 227.48a1.0 1.0 0 1 0 2 0a1.0 1.0 0 1 0 -2 0M152.1 227.73a1.0 1.0 0 1 0 2 0a1.0 1.0 0 1 0 -2 0M152.75 227.9a1.0 1.0 0 1 0 2 0a1.0 1.0 0 1 0 -2 0M153.4 227.99a1.0 1.0 0 1 0 2 0a1.0 1.0 0 1 0 -2 0M154.05 227.99a1.0 1.0 0 1 0 2 0a1.0 1.0 0 1 0 -2 0M154.7 227.91a1.0 1.0 0 1 0 2 0a1.0 1.0 0 1 0 -2 0M155.35 227.78a1.0 1.0 0 1 0 2 0a1.0 1.0 0 1 0 -2 0M156 227.6a1.0 1.0 0 1 0 2 0a1.0 1.0 0 1 0 -2 0M156.65 227.4a1.0 1.0 0 1 0 2 0a1.0 1.0 0 1 0 -2 0M157.3 227.2a1.0 1.0 0 1 0 2 0a1.0 1.0 0 1 0 -2 0M157.95 226.99a1.0 1.0 0 1 0 2 0a1.0 1.0 0 1 0 -2 0M158.6 226.81a1.0 1.0 0 1 0 2 0a1.0 1.0 0 1 0 -2 0M159.25 226.66a1.0 1.0 0 1 0 2 0a1.0 1.0 0 1 0 -2 0M159.9 226.54a1.0 1.0 0 1 0 2 0a1.0 1.0 0 1 0 -2 0M160.55 226.47a1.0 1.0 0 1 0 2 0a1.0 1.0 0 1 0 -2 0M161.2 226.47a1.0 1.0 0 1 0 2 0a1.0 1.0 0 1 0 -2 0M161.85 226.52a1.0 1.0 0 1 0 2 0a1.0 1.0 0 1 0 -2 0M162.5 226.63a1.0 1.0 0 1 0 2 0a1.0 1.0 0 1 0 -2 0M163.15 226.77a1.0 1.0 0 1 0 2 0a1.0 1.0 0 1 0 -2 0M163.8 226.94a1.0 1.0 0 1 0 2 0a1.0 1.0 0 1 0 -2 0M164.45 227.14a1.0 1.0 0 1 0 2 0a1.0 1.0 0 1 0 -2 0M165.1 227.35a1.0 1.0 0 1 0 2 0a1.0 1.0 0 1 0 -2 0M165.75 227.57a1.0 1.0 0 1 0 2 0a1.0 1.0 0 1 0 -2 0M166.4 227.81a1.0 1.0 0 1 0 2 0a1.0 1.0 0 1 0 -2 0M167.05 228.06a1.0 1.0 0 1 0 2 0a1.0 1.0 0 1 0 -2 0M167.7 228.31a1.0 1.0 0 1 0 2 0a1.0 1.0 0 1 0 -2 0M168.35 228.57a1.0 1.0 0 1 0 2 0a1.0 1.0 0 1 0 -2 0M169 228.83a1.0 1.0 0 1 0 2 0a1.0 1.0 0 1 0 -2 0M169.65 229.1a1.0 1.0 0 1 0 2 0a1.0 1.0 0 1 0 -2 0M170.3 229.37a1.0 1.0 0 1 0 2 0a1.0 1.0 0 1 0 -2 0M170.95 229.64a1.0 1.0 0 1 0 2 0a1.0 1.0 0 1 0 -2 0M171.6 229.89a1.0 1.0 0 1 0 2 0a1.0 1.0 0 1 0 -2 0" fill="none" stroke="#303030" stroke-width="0.6"/>
<path d="M37 222.2C38.2 221.8 41.98 220.72 44.2 219.8C46.42 218.88 48.27 217.9 50.3 216.7C52.33 215.5 54.02 216.52 56.4 212.6C58.78 208.68 62.38 200.18 64.6 193.2C66.82 186.22 68.23 176.22 69.7 170.7C71.17 165.18 72.2 160.77 73.4 160.1C74.6 159.43 75.63 162.2 76.9 166.7C78.17 171.2 79.82 180.98 81 187.1C82.18 193.22 82.82 200.33 84 203.4C85.18 206.47 86.9 203.78 88.1 205.5C89.3 207.22 90.18 209.95 91.2 213.7C92.22 217.45 93.18 227.33 94.2 228C95.22 228.67 96.27 219.58 97.3 217.7C98.33 215.82 99.03 215.83 100.4 216.7C101.77 217.57 104.13 221.87 105.5 222.9C106.87 223.93 107.3 221.65 108.6 222.9C109.9 224.15 111.78 229.62 113.3 230.4C114.82 231.18 115.93 227.6 117.7 227.6C119.47 227.6 121.5 230.17 123.9 230.4C126.3 230.63 129.03 229 132.1 229C135.17 229 138.57 230.07 142.3 230.4C146.03 230.73 149.4 230.83 154.5 231C159.6 231.17 169.83 231.33 172.9 231.4" fill="none" stroke="#e8383a" stroke-width="1.0" stroke-linejoin="round"/>
<circle cx="122.9" cy="145.3" r="1.1" fill="none" stroke="#3a3a3a" stroke-width="0.6"/>
<text x="132" y="148.3" font-size="6.6" text-anchor="start" font-weight="bold" fill="#111">Zn/Pt SATs</text>
<line x1="115.3" y1="154.8" x2="130" y2="154.8" stroke="#e8383a" stroke-width="1.1"/>
<text x="132" y="157.4" font-size="6.6" text-anchor="start" font-weight="bold" fill="#111">Fit</text>
<rect x="37" y="268.3" width="136.1" height="99.9" fill="none" stroke="#222" stroke-width="1"/>
<line x1="37" y1="368.2" x2="37" y2="371.4" stroke="#222" stroke-width="0.9"/>
<line x1="71.03" y1="368.2" x2="71.03" y2="371.4" stroke="#222" stroke-width="0.9"/>
<line x1="105.05" y1="368.2" x2="105.05" y2="371.4" stroke="#222" stroke-width="0.9"/>
<line x1="139.07" y1="368.2" x2="139.07" y2="371.4" stroke="#222" stroke-width="0.9"/>
<line x1="173.1" y1="368.2" x2="173.1" y2="371.4" stroke="#222" stroke-width="0.9"/>
<line x1="54.01" y1="368.2" x2="54.01" y2="370" stroke="#222" stroke-width="0.9"/>
<line x1="88.04" y1="368.2" x2="88.04" y2="370" stroke="#222" stroke-width="0.9"/>
<line x1="122.06" y1="368.2" x2="122.06" y2="370" stroke="#222" stroke-width="0.9"/>
<line x1="156.09" y1="368.2" x2="156.09" y2="370" stroke="#222" stroke-width="0.9"/>
<line x1="37" y1="359.9" x2="33.8" y2="359.9" stroke="#222" stroke-width="0.9"/>
<line x1="37" y1="341.7" x2="33.8" y2="341.7" stroke="#222" stroke-width="0.9"/>
<line x1="37" y1="323.5" x2="33.8" y2="323.5" stroke="#222" stroke-width="0.9"/>
<line x1="37" y1="305.3" x2="33.8" y2="305.3" stroke="#222" stroke-width="0.9"/>
<line x1="37" y1="287.1" x2="33.8" y2="287.1" stroke="#222" stroke-width="0.9"/>
<line x1="37" y1="268.9" x2="33.8" y2="268.9" stroke="#222" stroke-width="0.9"/>
<line x1="37" y1="350.8" x2="35.2" y2="350.8" stroke="#222" stroke-width="0.9"/>
<line x1="37" y1="332.6" x2="35.2" y2="332.6" stroke="#222" stroke-width="0.9"/>
<line x1="37" y1="314.4" x2="35.2" y2="314.4" stroke="#222" stroke-width="0.9"/>
<line x1="37" y1="296.2" x2="35.2" y2="296.2" stroke="#222" stroke-width="0.9"/>
<line x1="37" y1="278" x2="35.2" y2="278" stroke="#222" stroke-width="0.9"/>
<text x="37" y="380.3" font-size="8.6" text-anchor="middle" font-weight="bold" fill="#111">11500</text>
<text x="71.03" y="380.3" font-size="8.6" text-anchor="middle" font-weight="bold" fill="#111">11550</text>
<text x="105.05" y="380.3" font-size="8.6" text-anchor="middle" font-weight="bold" fill="#111">11600</text>
<text x="139.07" y="380.3" font-size="8.6" text-anchor="middle" font-weight="bold" fill="#111">11650</text>
<text x="173.1" y="380.3" font-size="8.6" text-anchor="middle" font-weight="bold" fill="#111">11700</text>
<text x="33.2" y="362.9" font-size="8.6" text-anchor="end" font-weight="bold" fill="#111">0.0</text>
<text x="33.2" y="344.7" font-size="8.6" text-anchor="end" font-weight="bold" fill="#111">0.5</text>
<text x="33.2" y="326.5" font-size="8.6" text-anchor="end" font-weight="bold" fill="#111">1.0</text>
<text x="33.2" y="308.3" font-size="8.6" text-anchor="end" font-weight="bold" fill="#111">1.5</text>
<text x="33.2" y="290.1" font-size="8.6" text-anchor="end" font-weight="bold" fill="#111">2.0</text>
<text x="33.2" y="271.9" font-size="8.6" text-anchor="end" font-weight="bold" fill="#111">2.5</text>
<text x="105.2" y="391.5" font-size="8.8" text-anchor="middle" font-weight="bold" fill="#111">Energy (eV)</text>
<text x="15.6" y="320.3" font-size="8.8" text-anchor="middle" font-weight="bold" fill="#111" transform="rotate(-90 15.6 320.3)">XANES</text>
<path d="M37 359.9C40.4 359.78 52.31 359.54 57.41 359.17C62.52 358.81 65.13 358.38 67.62 357.72C70.12 357.05 71.14 356.62 72.39 355.17C73.63 353.71 74.2 351.83 75.11 348.98C76.02 346.13 77.04 342 77.83 338.06C78.62 334.12 79.25 328.84 79.87 325.32C80.5 321.8 81.12 318.65 81.57 316.95C82.03 315.25 82.2 314.95 82.59 315.13C82.99 315.31 83.39 316.77 83.95 318.04C84.52 319.31 85.43 321.74 86 322.77C86.56 323.8 86.68 324.11 87.36 324.23C88.04 324.35 89.17 323.44 90.08 323.5C90.99 323.56 91.67 324.53 92.8 324.59C93.94 324.65 95.52 324.35 96.88 323.86C98.25 323.38 99.83 321.74 100.97 321.68C102.1 321.62 102.67 323.01 103.69 323.5C104.71 323.99 105.73 324.41 107.09 324.59C108.45 324.77 110.49 324.77 111.86 324.59C113.22 324.41 114.12 324.05 115.26 323.5C116.39 322.95 117.41 321.5 118.66 321.32C119.91 321.13 121.38 322.04 122.74 322.41C124.1 322.77 125.24 323.2 126.83 323.5C128.41 323.8 130.23 324.11 132.27 324.23C134.31 324.35 136.81 324.29 139.07 324.23C141.34 324.17 143.61 324.05 145.88 323.86C148.15 323.68 150.42 323.38 152.69 323.14C154.95 322.89 157.22 322.47 159.49 322.41C161.76 322.35 164.03 322.59 166.29 322.77C168.56 322.95 171.97 323.38 173.1 323.5" fill="none" stroke="#222" stroke-width="1.0" stroke-linejoin="round"/>
<path d="M37 359.9C40.4 359.78 52.31 359.54 57.41 359.17C62.52 358.81 65.13 358.38 67.62 357.72C70.12 357.05 71.14 356.5 72.39 355.17C73.63 353.83 74.2 352.56 75.11 349.71C76.02 346.86 77.04 342.73 77.83 338.06C78.62 333.39 79.25 327.75 79.87 321.68C80.5 315.61 81.06 308.03 81.57 301.66C82.08 295.29 82.56 287.4 82.93 283.46C83.31 279.52 83.53 277.7 83.82 278C84.1 278.3 84.33 281.34 84.63 285.28C84.94 289.22 85.32 296.5 85.66 301.66C86 306.82 86.28 311.97 86.68 316.22C87.07 320.47 87.58 324.41 88.04 327.14C88.49 329.87 88.83 331.63 89.4 332.6C89.97 333.57 90.53 333.27 91.44 332.96C92.35 332.66 93.71 331.75 94.84 330.78C95.98 329.81 97 328.05 98.25 327.14C99.49 326.23 101.08 326.11 102.33 325.32C103.58 324.53 104.37 323.32 105.73 322.41C107.09 321.5 108.91 320.77 110.49 319.86C112.08 318.95 113.9 317.25 115.26 316.95C116.62 316.64 117.53 317.37 118.66 318.04C119.79 318.71 120.93 320.04 122.06 320.95C123.2 321.86 124.22 322.89 125.47 323.5C126.71 324.11 127.85 324.41 129.55 324.59C131.25 324.77 133.52 324.65 135.67 324.59C137.83 324.53 140.21 324.41 142.48 324.23C144.75 324.05 147.01 323.74 149.28 323.5C151.55 323.26 153.82 323.08 156.09 322.77C158.36 322.47 160.85 321.8 162.89 321.68C164.93 321.56 166.64 321.74 168.34 322.04C170.04 322.35 172.31 323.26 173.1 323.5" fill="none" stroke="#3a6cc4" stroke-width="1.0" stroke-linejoin="round"/>
<path d="M37 359.9C40.4 359.78 52.31 359.54 57.41 359.17C62.52 358.81 65.13 358.38 67.62 357.72C70.12 357.05 71.14 356.5 72.39 355.17C73.63 353.83 74.2 352.56 75.11 349.71C76.02 346.86 77.04 342.73 77.83 338.06C78.62 333.39 79.25 327.44 79.87 321.68C80.5 315.92 81.06 308.33 81.57 303.48C82.08 298.63 82.56 294.8 82.93 292.56C83.31 290.32 83.53 289.83 83.82 290.01C84.1 290.19 84.33 291.1 84.63 293.65C84.94 296.2 85.32 301.24 85.66 305.3C86 309.36 86.28 314.4 86.68 318.04C87.07 321.68 87.58 324.9 88.04 327.14C88.49 329.38 88.83 330.66 89.4 331.51C89.97 332.36 90.53 332.48 91.44 332.24C92.35 331.99 93.71 330.96 94.84 330.05C95.98 329.14 97 327.63 98.25 326.78C99.49 325.93 101.08 325.68 102.33 324.96C103.58 324.23 104.37 323.26 105.73 322.41C107.09 321.56 108.91 320.77 110.49 319.86C112.08 318.95 113.9 317.25 115.26 316.95C116.62 316.64 117.53 317.37 118.66 318.04C119.79 318.71 120.93 320.1 122.06 320.95C123.2 321.8 124.22 322.59 125.47 323.14C126.71 323.68 127.85 323.99 129.55 324.23C131.25 324.47 133.52 324.59 135.67 324.59C137.83 324.59 140.21 324.41 142.48 324.23C144.75 324.05 147.01 323.74 149.28 323.5C151.55 323.26 153.82 323.08 156.09 322.77C158.36 322.47 160.85 321.8 162.89 321.68C164.93 321.56 166.64 321.74 168.34 322.04C170.04 322.35 172.31 323.26 173.1 323.5" fill="none" stroke="#e8383a" stroke-width="1.0" stroke-linejoin="round"/>
<path d="M37 359.9C40.4 359.78 52.31 359.54 57.41 359.17C62.52 358.81 65.13 358.38 67.62 357.72C70.12 357.05 71.14 356.5 72.39 355.17C73.63 353.83 74.2 352.56 75.11 349.71C76.02 346.86 77.04 342.73 77.83 338.06C78.62 333.39 79.25 327.44 79.87 321.68C80.5 315.92 81.06 308.39 81.57 303.48C82.08 298.57 82.56 294.5 82.93 292.2C83.31 289.89 83.53 289.47 83.82 289.65C84.1 289.83 84.33 290.8 84.63 293.29C84.94 295.78 85.32 300.57 85.66 304.57C86 308.58 86.28 313.67 86.68 317.31C87.07 320.95 87.58 324.17 88.04 326.41C88.49 328.66 88.83 329.93 89.4 330.78C89.97 331.63 90.53 331.75 91.44 331.51C92.35 331.27 93.71 330.17 94.84 329.32C95.98 328.47 97 327.2 98.25 326.41C99.49 325.62 101.08 325.32 102.33 324.59C103.58 323.86 104.37 322.89 105.73 322.04C107.09 321.19 108.91 320.35 110.49 319.5C112.08 318.65 113.9 317.25 115.26 316.95C116.62 316.64 117.53 317.07 118.66 317.68C119.79 318.28 120.93 319.74 122.06 320.59C123.2 321.44 124.22 322.23 125.47 322.77C126.71 323.32 127.85 323.62 129.55 323.86C131.25 324.11 133.52 324.17 135.67 324.23C137.83 324.29 140.21 324.35 142.48 324.23C144.75 324.11 147.01 323.74 149.28 323.5C151.55 323.26 153.82 323.01 156.09 322.77C158.36 322.53 160.85 322.1 162.89 322.04C164.93 321.98 166.64 322.17 168.34 322.41C170.04 322.65 172.31 323.32 173.1 323.5" fill="none" stroke="#3aa865" stroke-width="1.0" stroke-linejoin="round"/>
<line x1="112.9" y1="274.2" x2="130.2" y2="274.2" stroke="#222" stroke-width="1.1"/>
<text x="132.2" y="276.5" font-size="7.6" text-anchor="start" font-weight="bold" fill="#111">Pt foil</text>
<line x1="112.9" y1="284.5" x2="130.2" y2="284.5" stroke="#3a6cc4" stroke-width="1.1"/>
<text x="132.2" y="286.8" font-size="7.6" text-anchor="start" font-weight="bold" fill="#111">PtO<tspan font-size="5.2" dy="1.8">2</tspan></text>
<line x1="112.9" y1="296.1" x2="130.2" y2="296.1" stroke="#e8383a" stroke-width="1.1"/>
<text x="132.2" y="298.4" font-size="7.6" text-anchor="start" font-weight="bold" fill="#111">Zn/Pt SATs</text>
<line x1="112.9" y1="306.3" x2="130.2" y2="306.3" stroke="#3aa865" stroke-width="1.1"/>
<text x="132.2" y="308.6" font-size="7.6" text-anchor="start" font-weight="bold" fill="#111">Pt SATs</text>
<rect x="37.2" y="398.9" width="135.9" height="101.3" fill="none" stroke="#222" stroke-width="1"/>
<line x1="37" y1="500.2" x2="37" y2="503.4" stroke="#222" stroke-width="0.9"/>
<line x1="59.68" y1="500.2" x2="59.68" y2="503.4" stroke="#222" stroke-width="0.9"/>
<line x1="82.36" y1="500.2" x2="82.36" y2="503.4" stroke="#222" stroke-width="0.9"/>
<line x1="105.04" y1="500.2" x2="105.04" y2="503.4" stroke="#222" stroke-width="0.9"/>
<line x1="127.72" y1="500.2" x2="127.72" y2="503.4" stroke="#222" stroke-width="0.9"/>
<line x1="150.4" y1="500.2" x2="150.4" y2="503.4" stroke="#222" stroke-width="0.9"/>
<line x1="173.08" y1="500.2" x2="173.08" y2="503.4" stroke="#222" stroke-width="0.9"/>
<line x1="48.34" y1="500.2" x2="48.34" y2="502" stroke="#222" stroke-width="0.9"/>
<line x1="71.02" y1="500.2" x2="71.02" y2="502" stroke="#222" stroke-width="0.9"/>
<line x1="93.7" y1="500.2" x2="93.7" y2="502" stroke="#222" stroke-width="0.9"/>
<line x1="116.38" y1="500.2" x2="116.38" y2="502" stroke="#222" stroke-width="0.9"/>
<line x1="139.06" y1="500.2" x2="139.06" y2="502" stroke="#222" stroke-width="0.9"/>
<line x1="161.74" y1="500.2" x2="161.74" y2="502" stroke="#222" stroke-width="0.9"/>
<text x="37" y="509.4" font-size="8.6" text-anchor="middle" font-weight="bold" fill="#111">0</text>
<text x="59.68" y="509.4" font-size="8.6" text-anchor="middle" font-weight="bold" fill="#111">1</text>
<text x="82.36" y="509.4" font-size="8.6" text-anchor="middle" font-weight="bold" fill="#111">2</text>
<text x="105.04" y="509.4" font-size="8.6" text-anchor="middle" font-weight="bold" fill="#111">3</text>
<text x="127.72" y="509.4" font-size="8.6" text-anchor="middle" font-weight="bold" fill="#111">4</text>
<text x="150.4" y="509.4" font-size="8.6" text-anchor="middle" font-weight="bold" fill="#111">5</text>
<text x="173.08" y="509.4" font-size="8.6" text-anchor="middle" font-weight="bold" fill="#111">6</text>
<text x="105.04" y="521.5" font-size="8.8" text-anchor="middle" font-weight="bold" fill="#111">R (Å)</text>
<text x="26.8" y="449.2" font-size="7.9" text-anchor="middle" font-weight="bold" fill="#111" transform="rotate(-90 26.8 449.2)">|FT k<tspan font-size="6.3" dy="-3.4">2</tspan><tspan dy="3.4">χ(k)| (Å</tspan><tspan font-size="5.5" dy="-3">-3</tspan><tspan dy="3">)</tspan></text>
<path d="M36.2 490.05a1.0 1.0 0 1 0 2 0a1.0 1.0 0 1 0 -2 0M36.85 490.25a1.0 1.0 0 1 0 2 0a1.0 1.0 0 1 0 -2 0M37.5 490.45a1.0 1.0 0 1 0 2 0a1.0 1.0 0 1 0 -2 0M38.15 490.65a1.0 1.0 0 1 0 2 0a1.0 1.0 0 1 0 -2 0M38.8 490.81a1.0 1.0 0 1 0 2 0a1.0 1.0 0 1 0 -2 0M39.45 490.94a1.0 1.0 0 1 0 2 0a1.0 1.0 0 1 0 -2 0M40.1 491.02a1.0 1.0 0 1 0 2 0a1.0 1.0 0 1 0 -2 0M40.75 491.03a1.0 1.0 0 1 0 2 0a1.0 1.0 0 1 0 -2 0M41.4 490.95a1.0 1.0 0 1 0 2 0a1.0 1.0 0 1 0 -2 0M42.05 490.77a1.0 1.0 0 1 0 2 0a1.0 1.0 0 1 0 -2 0M42.7 490.53a1.0 1.0 0 1 0 2 0a1.0 1.0 0 1 0 -2 0M43.35 490.25a1.0 1.0 0 1 0 2 0a1.0 1.0 0 1 0 -2 0M44 489.94a1.0 1.0 0 1 0 2 0a1.0 1.0 0 1 0 -2 0M44.65 489.62a1.0 1.0 0 1 0 2 0a1.0 1.0 0 1 0 -2 0M45.3 489.31a1.0 1.0 0 1 0 2 0a1.0 1.0 0 1 0 -2 0M45.95 489.02a1.0 1.0 0 1 0 2 0a1.0 1.0 0 1 0 -2 0M46.6 488.78a1.0 1.0 0 1 0 2 0a1.0 1.0 0 1 0 -2 0M47.25 488.61a1.0 1.0 0 1 0 2 0a1.0 1.0 0 1 0 -2 0M47.9 488.62a1.0 1.0 0 1 0 2 0a1.0 1.0 0 1 0 -2 0M48.55 488.89a1.0 1.0 0 1 0 2 0a1.0 1.0 0 1 0 -2 0M49.2 489.31a1.0 1.0 0 1 0 2 0a1.0 1.0 0 1 0 -2 0M49.85 489.76a1.0 1.0 0 1 0 2 0a1.0 1.0 0 1 0 -2 0M50.5 490.09a1.0 1.0 0 1 0 2 0a1.0 1.0 0 1 0 -2 0M51.15 490.16a1.0 1.0 0 1 0 2 0a1.0 1.0 0 1 0 -2 0M51.8 489.8a1.0 1.0 0 1 0 2 0a1.0 1.0 0 1 0 -2 0M52.45 488.9a1.0 1.0 0 1 0 2 0a1.0 1.0 0 1 0 -2 0M53.1 487.36a1.0 1.0 0 1 0 2 0a1.0 1.0 0 1 0 -2 0M53.75 485.29a1.0 1.0 0 1 0 2 0a1.0 1.0 0 1 0 -2 0M54.4 482.87a1.0 1.0 0 1 0 2 0a1.0 1.0 0 1 0 -2 0M55.05 480.21a1.0 1.0 0 1 0 2 0a1.0 1.0 0 1 0 -2 0M55.7 477.45a1.0 1.0 0 1 0 2 0a1.0 1.0 0 1 0 -2 0M56.35 474.73a1.0 1.0 0 1 0 2 0a1.0 1.0 0 1 0 -2 0M57 472.21a1.0 1.0 0 1 0 2 0a1.0 1.0 0 1 0 -2 0M57.65 470.19a1.0 1.0 0 1 0 2 0a1.0 1.0 0 1 0 -2 0M58.3 468.65a1.0 1.0 0 1 0 2 0a1.0 1.0 0 1 0 -2 0M58.95 467.55a1.0 1.0 0 1 0 2 0a1.0 1.0 0 1 0 -2 0M59.6 466.95a1.0 1.0 0 1 0 2 0a1.0 1.0 0 1 0 -2 0M60.25 466.62a1.0 1.0 0 1 0 2 0a1.0 1.0 0 1 0 -2 0M60.9 466.51a1.0 1.0 0 1 0 2 0a1.0 1.0 0 1 0 -2 0M61.55 467.13a1.0 1.0 0 1 0 2 0a1.0 1.0 0 1 0 -2 0M62.2 467.94a1.0 1.0 0 1 0 2 0a1.0 1.0 0 1 0 -2 0M62.85 468.27a1.0 1.0 0 1 0 2 0a1.0 1.0 0 1 0 -2 0M63.5 467.5a1.0 1.0 0 1 0 2 0a1.0 1.0 0 1 0 -2 0M64.15 465.56a1.0 1.0 0 1 0 2 0a1.0 1.0 0 1 0 -2 0M64.8 462.88a1.0 1.0 0 1 0 2 0a1.0 1.0 0 1 0 -2 0M65.45 459.63a1.0 1.0 0 1 0 2 0a1.0 1.0 0 1 0 -2 0M66.1 455.93a1.0 1.0 0 1 0 2 0a1.0 1.0 0 1 0 -2 0M66.75 451.87a1.0 1.0 0 1 0 2 0a1.0 1.0 0 1 0 -2 0M67.4 446.9a1.0 1.0 0 1 0 2 0a1.0 1.0 0 1 0 -2 0M68.05 441.05a1.0 1.0 0 1 0 2 0a1.0 1.0 0 1 0 -2 0M68.7 435.11a1.0 1.0 0 1 0 2 0a1.0 1.0 0 1 0 -2 0M69.35 429.92a1.0 1.0 0 1 0 2 0a1.0 1.0 0 1 0 -2 0M70 426.08a1.0 1.0 0 1 0 2 0a1.0 1.0 0 1 0 -2 0M70.65 422.98a1.0 1.0 0 1 0 2 0a1.0 1.0 0 1 0 -2 0M71.3 420.53a1.0 1.0 0 1 0 2 0a1.0 1.0 0 1 0 -2 0M71.95 418.85a1.0 1.0 0 1 0 2 0a1.0 1.0 0 1 0 -2 0M72.6 418.05a1.0 1.0 0 1 0 2 0a1.0 1.0 0 1 0 -2 0M73.25 418.23a1.0 1.0 0 1 0 2 0a1.0 1.0 0 1 0 -2 0M73.9 419.33a1.0 1.0 0 1 0 2 0a1.0 1.0 0 1 0 -2 0M74.55 421.28a1.0 1.0 0 1 0 2 0a1.0 1.0 0 1 0 -2 0M75.2 423.99a1.0 1.0 0 1 0 2 0a1.0 1.0 0 1 0 -2 0M75.85 427.41a1.0 1.0 0 1 0 2 0a1.0 1.0 0 1 0 -2 0M76.5 431.67a1.0 1.0 0 1 0 2 0a1.0 1.0 0 1 0 -2 0M77.15 436.84a1.0 1.0 0 1 0 2 0a1.0 1.0 0 1 0 -2 0M77.8 442.65a1.0 1.0 0 1 0 2 0a1.0 1.0 0 1 0 -2 0M78.45 448.85a1.0 1.0 0 1 0 2 0a1.0 1.0 0 1 0 -2 0M79.1 455.19a1.0 1.0 0 1 0 2 0a1.0 1.0 0 1 0 -2 0M79.75 462.07a1.0 1.0 0 1 0 2 0a1.0 1.0 0 1 0 -2 0M80.4 469.44a1.0 1.0 0 1 0 2 0a1.0 1.0 0 1 0 -2 0M81.05 476.92a1.0 1.0 0 1 0 2 0a1.0 1.0 0 1 0 -2 0M81.7 484.07a1.0 1.0 0 1 0 2 0a1.0 1.0 0 1 0 -2 0M82.35 490.28a1.0 1.0 0 1 0 2 0a1.0 1.0 0 1 0 -2 0M83 494.08a1.0 1.0 0 1 0 2 0a1.0 1.0 0 1 0 -2 0M83.65 493.58a1.0 1.0 0 1 0 2 0a1.0 1.0 0 1 0 -2 0M84.3 491.35a1.0 1.0 0 1 0 2 0a1.0 1.0 0 1 0 -2 0M84.95 488.6a1.0 1.0 0 1 0 2 0a1.0 1.0 0 1 0 -2 0M85.6 486.01a1.0 1.0 0 1 0 2 0a1.0 1.0 0 1 0 -2 0M86.25 484.19a1.0 1.0 0 1 0 2 0a1.0 1.0 0 1 0 -2 0M86.9 484.21a1.0 1.0 0 1 0 2 0a1.0 1.0 0 1 0 -2 0M87.55 486.38a1.0 1.0 0 1 0 2 0a1.0 1.0 0 1 0 -2 0M88.2 489.29a1.0 1.0 0 1 0 2 0a1.0 1.0 0 1 0 -2 0M88.85 491.07a1.0 1.0 0 1 0 2 0a1.0 1.0 0 1 0 -2 0M89.5 490.31a1.0 1.0 0 1 0 2 0a1.0 1.0 0 1 0 -2 0M90.15 487.31a1.0 1.0 0 1 0 2 0a1.0 1.0 0 1 0 -2 0M90.8 483.2a1.0 1.0 0 1 0 2 0a1.0 1.0 0 1 0 -2 0M91.45 479.25a1.0 1.0 0 1 0 2 0a1.0 1.0 0 1 0 -2 0M92.1 476.11a1.0 1.0 0 1 0 2 0a1.0 1.0 0 1 0 -2 0M92.75 473.47a1.0 1.0 0 1 0 2 0a1.0 1.0 0 1 0 -2 0M93.4 470.78a1.0 1.0 0 1 0 2 0a1.0 1.0 0 1 0 -2 0M94.05 468.14a1.0 1.0 0 1 0 2 0a1.0 1.0 0 1 0 -2 0M94.7 465.64a1.0 1.0 0 1 0 2 0a1.0 1.0 0 1 0 -2 0M95.35 463.38a1.0 1.0 0 1 0 2 0a1.0 1.0 0 1 0 -2 0M96 461.46a1.0 1.0 0 1 0 2 0a1.0 1.0 0 1 0 -2 0M96.65 460.02a1.0 1.0 0 1 0 2 0a1.0 1.0 0 1 0 -2 0M97.3 459.3a1.0 1.0 0 1 0 2 0a1.0 1.0 0 1 0 -2 0M97.95 459.59a1.0 1.0 0 1 0 2 0a1.0 1.0 0 1 0 -2 0M98.6 460.79a1.0 1.0 0 1 0 2 0a1.0 1.0 0 1 0 -2 0M99.25 462.8a1.0 1.0 0 1 0 2 0a1.0 1.0 0 1 0 -2 0M99.9 465.43a1.0 1.0 0 1 0 2 0a1.0 1.0 0 1 0 -2 0M100.55 468.47a1.0 1.0 0 1 0 2 0a1.0 1.0 0 1 0 -2 0M101.2 471.65a1.0 1.0 0 1 0 2 0a1.0 1.0 0 1 0 -2 0M101.85 475.09a1.0 1.0 0 1 0 2 0a1.0 1.0 0 1 0 -2 0M102.5 479.78a1.0 1.0 0 1 0 2 0a1.0 1.0 0 1 0 -2 0M103.15 485.09a1.0 1.0 0 1 0 2 0a1.0 1.0 0 1 0 -2 0M103.8 490a1.0 1.0 0 1 0 2 0a1.0 1.0 0 1 0 -2 0M104.45 492.91a1.0 1.0 0 1 0 2 0a1.0 1.0 0 1 0 -2 0M105.1 491.33a1.0 1.0 0 1 0 2 0a1.0 1.0 0 1 0 -2 0M105.75 484.24a1.0 1.0 0 1 0 2 0a1.0 1.0 0 1 0 -2 0M106.4 479.21a1.0 1.0 0 1 0 2 0a1.0 1.0 0 1 0 -2 0M107.05 476.04a1.0 1.0 0 1 0 2 0a1.0 1.0 0 1 0 -2 0M107.7 472.9a1.0 1.0 0 1 0 2 0a1.0 1.0 0 1 0 -2 0M108.35 469.94a1.0 1.0 0 1 0 2 0a1.0 1.0 0 1 0 -2 0M109 467.28a1.0 1.0 0 1 0 2 0a1.0 1.0 0 1 0 -2 0M109.65 465.04a1.0 1.0 0 1 0 2 0a1.0 1.0 0 1 0 -2 0M110.3 463.36a1.0 1.0 0 1 0 2 0a1.0 1.0 0 1 0 -2 0M110.95 462.44a1.0 1.0 0 1 0 2 0a1.0 1.0 0 1 0 -2 0M111.6 462.47a1.0 1.0 0 1 0 2 0a1.0 1.0 0 1 0 -2 0M112.25 463.3a1.0 1.0 0 1 0 2 0a1.0 1.0 0 1 0 -2 0M112.9 464.72a1.0 1.0 0 1 0 2 0a1.0 1.0 0 1 0 -2 0M113.55 466.55a1.0 1.0 0 1 0 2 0a1.0 1.0 0 1 0 -2 0M114.2 468.64a1.0 1.0 0 1 0 2 0a1.0 1.0 0 1 0 -2 0M114.85 470.84a1.0 1.0 0 1 0 2 0a1.0 1.0 0 1 0 -2 0M115.5 472.98a1.0 1.0 0 1 0 2 0a1.0 1.0 0 1 0 -2 0M116.15 475.1a1.0 1.0 0 1 0 2 0a1.0 1.0 0 1 0 -2 0M116.8 477.69a1.0 1.0 0 1 0 2 0a1.0 1.0 0 1 0 -2 0M117.45 480.57a1.0 1.0 0 1 0 2 0a1.0 1.0 0 1 0 -2 0M118.1 483.46a1.0 1.0 0 1 0 2 0a1.0 1.0 0 1 0 -2 0M118.75 486.03a1.0 1.0 0 1 0 2 0a1.0 1.0 0 1 0 -2 0M119.4 488.07a1.0 1.0 0 1 0 2 0a1.0 1.0 0 1 0 -2 0M120.05 489.47a1.0 1.0 0 1 0 2 0a1.0 1.0 0 1 0 -2 0M120.7 490.44a1.0 1.0 0 1 0 2 0a1.0 1.0 0 1 0 -2 0M121.35 491.11a1.0 1.0 0 1 0 2 0a1.0 1.0 0 1 0 -2 0M122 491.55a1.0 1.0 0 1 0 2 0a1.0 1.0 0 1 0 -2 0M122.65 491.8a1.0 1.0 0 1 0 2 0a1.0 1.0 0 1 0 -2 0M123.3 491.94a1.0 1.0 0 1 0 2 0a1.0 1.0 0 1 0 -2 0M123.95 491.99a1.0 1.0 0 1 0 2 0a1.0 1.0 0 1 0 -2 0M124.6 492a1.0 1.0 0 1 0 2 0a1.0 1.0 0 1 0 -2 0M125.25 491.96a1.0 1.0 0 1 0 2 0a1.0 1.0 0 1 0 -2 0M125.9 491.76a1.0 1.0 0 1 0 2 0a1.0 1.0 0 1 0 -2 0M126.55 491.42a1.0 1.0 0 1 0 2 0a1.0 1.0 0 1 0 -2 0M127.2 491a1.0 1.0 0 1 0 2 0a1.0 1.0 0 1 0 -2 0M127.85 490.54a1.0 1.0 0 1 0 2 0a1.0 1.0 0 1 0 -2 0M128.5 490.08a1.0 1.0 0 1 0 2 0a1.0 1.0 0 1 0 -2 0M129.15 489.66a1.0 1.0 0 1 0 2 0a1.0 1.0 0 1 0 -2 0M129.8 489.3a1.0 1.0 0 1 0 2 0a1.0 1.0 0 1 0 -2 0M130.45 489.06a1.0 1.0 0 1 0 2 0a1.0 1.0 0 1 0 -2 0M131.1 489a1.0 1.0 0 1 0 2 0a1.0 1.0 0 1 0 -2 0M131.75 489.21a1.0 1.0 0 1 0 2 0a1.0 1.0 0 1 0 -2 0M132.4 489.69a1.0 1.0 0 1 0 2 0a1.0 1.0 0 1 0 -2 0M133.05 490.38a1.0 1.0 0 1 0 2 0a1.0 1.0 0 1 0 -2 0M133.7 491.18a1.0 1.0 0 1 0 2 0a1.0 1.0 0 1 0 -2 0M134.35 491.95a1.0 1.0 0 1 0 2 0a1.0 1.0 0 1 0 -2 0M135 492.56a1.0 1.0 0 1 0 2 0a1.0 1.0 0 1 0 -2 0M135.65 492.93a1.0 1.0 0 1 0 2 0a1.0 1.0 0 1 0 -2 0M136.3 492.98a1.0 1.0 0 1 0 2 0a1.0 1.0 0 1 0 -2 0M136.95 492.72a1.0 1.0 0 1 0 2 0a1.0 1.0 0 1 0 -2 0M137.6 492.22a1.0 1.0 0 1 0 2 0a1.0 1.0 0 1 0 -2 0M138.25 491.57a1.0 1.0 0 1 0 2 0a1.0 1.0 0 1 0 -2 0M138.9 490.84a1.0 1.0 0 1 0 2 0a1.0 1.0 0 1 0 -2 0M139.55 490.09a1.0 1.0 0 1 0 2 0a1.0 1.0 0 1 0 -2 0M140.2 489.37a1.0 1.0 0 1 0 2 0a1.0 1.0 0 1 0 -2 0M140.85 488.73a1.0 1.0 0 1 0 2 0a1.0 1.0 0 1 0 -2 0M141.5 488.26a1.0 1.0 0 1 0 2 0a1.0 1.0 0 1 0 -2 0M142.15 488.02a1.0 1.0 0 1 0 2 0a1.0 1.0 0 1 0 -2 0M142.8 488.12a1.0 1.0 0 1 0 2 0a1.0 1.0 0 1 0 -2 0M143.45 488.58a1.0 1.0 0 1 0 2 0a1.0 1.0 0 1 0 -2 0M144.1 489.34a1.0 1.0 0 1 0 2 0a1.0 1.0 0 1 0 -2 0M144.75 490.29a1.0 1.0 0 1 0 2 0a1.0 1.0 0 1 0 -2 0M145.4 491.26a1.0 1.0 0 1 0 2 0a1.0 1.0 0 1 0 -2 0M146.05 492.11a1.0 1.0 0 1 0 2 0a1.0 1.0 0 1 0 -2 0M146.7 492.72a1.0 1.0 0 1 0 2 0a1.0 1.0 0 1 0 -2 0M147.35 492.99a1.0 1.0 0 1 0 2 0a1.0 1.0 0 1 0 -2 0M148 492.91a1.0 1.0 0 1 0 2 0a1.0 1.0 0 1 0 -2 0M148.65 492.58a1.0 1.0 0 1 0 2 0a1.0 1.0 0 1 0 -2 0M149.3 492.07a1.0 1.0 0 1 0 2 0a1.0 1.0 0 1 0 -2 0M149.95 491.46a1.0 1.0 0 1 0 2 0a1.0 1.0 0 1 0 -2 0M150.6 490.81a1.0 1.0 0 1 0 2 0a1.0 1.0 0 1 0 -2 0M151.25 490.19a1.0 1.0 0 1 0 2 0a1.0 1.0 0 1 0 -2 0M151.9 489.65a1.0 1.0 0 1 0 2 0a1.0 1.0 0 1 0 -2 0M152.55 489.24a1.0 1.0 0 1 0 2 0a1.0 1.0 0 1 0 -2 0M153.2 489.02a1.0 1.0 0 1 0 2 0a1.0 1.0 0 1 0 -2 0M153.85 489.06a1.0 1.0 0 1 0 2 0a1.0 1.0 0 1 0 -2 0M154.5 489.33a1.0 1.0 0 1 0 2 0a1.0 1.0 0 1 0 -2 0M155.15 489.79a1.0 1.0 0 1 0 2 0a1.0 1.0 0 1 0 -2 0M155.8 490.36a1.0 1.0 0 1 0 2 0a1.0 1.0 0 1 0 -2 0M156.45 491.01a1.0 1.0 0 1 0 2 0a1.0 1.0 0 1 0 -2 0M157.1 491.68a1.0 1.0 0 1 0 2 0a1.0 1.0 0 1 0 -2 0M157.75 492.33a1.0 1.0 0 1 0 2 0a1.0 1.0 0 1 0 -2 0M158.4 492.89a1.0 1.0 0 1 0 2 0a1.0 1.0 0 1 0 -2 0M159.05 493.3a1.0 1.0 0 1 0 2 0a1.0 1.0 0 1 0 -2 0M159.7 493.5a1.0 1.0 0 1 0 2 0a1.0 1.0 0 1 0 -2 0M160.35 493.45a1.0 1.0 0 1 0 2 0a1.0 1.0 0 1 0 -2 0M161 493.2a1.0 1.0 0 1 0 2 0a1.0 1.0 0 1 0 -2 0M161.65 492.8a1.0 1.0 0 1 0 2 0a1.0 1.0 0 1 0 -2 0M162.3 492.27a1.0 1.0 0 1 0 2 0a1.0 1.0 0 1 0 -2 0M162.95 491.68a1.0 1.0 0 1 0 2 0a1.0 1.0 0 1 0 -2 0M163.6 491.07a1.0 1.0 0 1 0 2 0a1.0 1.0 0 1 0 -2 0M164.25 490.51a1.0 1.0 0 1 0 2 0a1.0 1.0 0 1 0 -2 0M164.9 490.06a1.0 1.0 0 1 0 2 0a1.0 1.0 0 1 0 -2 0M165.55 489.7a1.0 1.0 0 1 0 2 0a1.0 1.0 0 1 0 -2 0M166.2 489.36a1.0 1.0 0 1 0 2 0a1.0 1.0 0 1 0 -2 0M166.85 489.03a1.0 1.0 0 1 0 2 0a1.0 1.0 0 1 0 -2 0M167.5 488.72a1.0 1.0 0 1 0 2 0a1.0 1.0 0 1 0 -2 0M168.15 488.44a1.0 1.0 0 1 0 2 0a1.0 1.0 0 1 0 -2 0M168.8 488.21a1.0 1.0 0 1 0 2 0a1.0 1.0 0 1 0 -2 0M169.45 488.04a1.0 1.0 0 1 0 2 0a1.0 1.0 0 1 0 -2 0M170.1 488.02a1.0 1.0 0 1 0 2 0a1.0 1.0 0 1 0 -2 0M170.75 488.33a1.0 1.0 0 1 0 2 0a1.0 1.0 0 1 0 -2 0M171.4 489.08a1.0 1.0 0 1 0 2 0a1.0 1.0 0 1 0 -2 0" fill="none" stroke="#303030" stroke-width="0.6"/>
<path d="M37 485.9C37.85 485.9 40.52 486.13 42.1 485.9C43.68 485.67 45.13 485.02 46.5 484.5C47.87 483.98 48.98 482.73 50.3 482.8C51.62 482.87 53.03 485.75 54.4 484.9C55.77 484.05 57.13 479.33 58.5 477.7C59.87 476.07 61.42 476.28 62.6 475.1C63.78 473.92 64.42 477.48 65.6 470.6C66.78 463.72 68.33 442.67 69.7 433.8C71.07 424.93 72.43 417.57 73.8 417.4C75.17 417.23 76.7 425.98 77.9 432.8C79.1 439.62 80.08 449.1 81 458.3C81.92 467.5 82.45 483.73 83.4 488C84.35 492.27 85.57 483.4 86.7 483.9C87.83 484.4 89.12 492.53 90.2 491C91.28 489.47 92.02 479.63 93.2 474.7C94.38 469.77 95.93 462.08 97.3 461.4C98.67 460.72 100.03 465.67 101.4 470.6C102.77 475.53 103.97 487.43 105.5 491C107.03 494.57 108.9 491.67 110.6 492C112.3 492.33 113.97 492.75 115.7 493C117.43 493.25 118.27 493.22 121 493.5C123.73 493.78 127.2 494.37 132.1 494.7C137 495.03 143.6 495.3 150.4 495.5C157.2 495.7 169.15 495.83 172.9 495.9" fill="none" stroke="#2f5fc0" stroke-width="1.2" stroke-linejoin="round"/>
<circle cx="122.9" cy="408.6" r="1.1" fill="none" stroke="#3a3a3a" stroke-width="0.6"/>
<text x="132" y="411.2" font-size="6.6" text-anchor="start" font-weight="bold" fill="#111">Zn/Pt SATs</text>
<line x1="115.3" y1="417.4" x2="130" y2="417.4" stroke="#2f5fc0" stroke-width="1.3"/>
<text x="132" y="420" font-size="6.6" text-anchor="start" font-weight="bold" fill="#111">Fit</text>
<rect x="214.8" y="268.1" width="152.3" height="228.4" fill="none" stroke="#222" stroke-width="1"/>
<line x1="215" y1="496.5" x2="215" y2="499.7" stroke="#222" stroke-width="0.9"/>
<line x1="240.32" y1="496.5" x2="240.32" y2="499.7" stroke="#222" stroke-width="0.9"/>
<line x1="265.64" y1="496.5" x2="265.64" y2="499.7" stroke="#222" stroke-width="0.9"/>
<line x1="290.96" y1="496.5" x2="290.96" y2="499.7" stroke="#222" stroke-width="0.9"/>
<line x1="316.28" y1="496.5" x2="316.28" y2="499.7" stroke="#222" stroke-width="0.9"/>
<line x1="341.6" y1="496.5" x2="341.6" y2="499.7" stroke="#222" stroke-width="0.9"/>
<line x1="366.92" y1="496.5" x2="366.92" y2="499.7" stroke="#222" stroke-width="0.9"/>
<line x1="227.66" y1="496.5" x2="227.66" y2="498.3" stroke="#222" stroke-width="0.9"/>
<line x1="252.98" y1="496.5" x2="252.98" y2="498.3" stroke="#222" stroke-width="0.9"/>
<line x1="278.3" y1="496.5" x2="278.3" y2="498.3" stroke="#222" stroke-width="0.9"/>
<line x1="303.62" y1="496.5" x2="303.62" y2="498.3" stroke="#222" stroke-width="0.9"/>
<line x1="328.94" y1="496.5" x2="328.94" y2="498.3" stroke="#222" stroke-width="0.9"/>
<line x1="354.26" y1="496.5" x2="354.26" y2="498.3" stroke="#222" stroke-width="0.9"/>
<text x="215" y="509.2" font-size="8.6" text-anchor="middle" font-weight="bold" fill="#111">0</text>
<text x="240.32" y="509.2" font-size="8.6" text-anchor="middle" font-weight="bold" fill="#111">1</text>
<text x="265.64" y="509.2" font-size="8.6" text-anchor="middle" font-weight="bold" fill="#111">2</text>
<text x="290.96" y="509.2" font-size="8.6" text-anchor="middle" font-weight="bold" fill="#111">3</text>
<text x="316.28" y="509.2" font-size="8.6" text-anchor="middle" font-weight="bold" fill="#111">4</text>
<text x="341.6" y="509.2" font-size="8.6" text-anchor="middle" font-weight="bold" fill="#111">5</text>
<text x="366.92" y="509.2" font-size="8.6" text-anchor="middle" font-weight="bold" fill="#111">6</text>
<text x="290.96" y="522" font-size="8.8" text-anchor="middle" font-weight="bold" fill="#111">R (Å)</text>
<text x="208.7" y="387" font-size="9.4" text-anchor="middle" font-weight="bold" fill="#111" transform="rotate(-90 208.7 387)">|FT k<tspan font-size="6.3" dy="-3.4">2</tspan><tspan dy="3.4">χ(k)| (Å</tspan><tspan font-size="5.5" dy="-3">-3</tspan><tspan dy="3">)</tspan></text>
<path d="M214.8 320.6C215.48 320.37 217.53 319.25 218.9 319.2C220.27 319.15 221.53 320.38 223 320.3C224.47 320.22 226.27 318.5 227.7 318.7C229.13 318.9 229.92 322.07 231.6 321.5C233.28 320.93 235.8 315.37 237.8 315.3C239.8 315.23 241.93 320.8 243.6 321.1C245.27 321.4 246.53 317.1 247.8 317.1C249.07 317.1 249.87 321.52 251.2 321.1C252.53 320.68 254.33 314.92 255.8 314.6C257.27 314.28 258.77 320.82 260 319.2C261.23 317.58 262.05 308.52 263.2 304.9C264.35 301.28 265.63 297.8 266.9 297.5C268.17 297.2 269.57 304.93 270.8 303.1C272.03 301.27 272.95 291.27 274.3 286.5C275.65 281.73 277.55 275.67 278.9 274.5C280.25 273.33 281.25 278.35 282.4 279.5C283.55 280.65 284.65 280.05 285.8 281.4C286.95 282.75 288.15 283.68 289.3 287.6C290.45 291.52 291.67 299.9 292.7 304.9C293.73 309.9 294.53 316.07 295.5 317.6C296.47 319.13 297.42 314.1 298.5 314.1C299.58 314.1 300.58 318.28 302 317.6C303.42 316.92 305.28 310.58 307 310C308.72 309.42 310.45 313.1 312.3 314.1C314.15 315.1 316.32 315.8 318.1 316C319.88 316.2 321.08 316.68 323 315.3C324.92 313.92 327.33 307.7 329.6 307.7C331.87 307.7 333.98 315.38 336.6 315.3C339.22 315.22 342.62 307.78 345.3 307.2C347.98 306.62 350.32 310.72 352.7 311.8C355.08 312.88 357.28 312.73 359.6 313.7C361.92 314.67 365.43 316.95 366.6 317.6" fill="none" stroke="#222" stroke-width="0.9" stroke-linejoin="round"/>
<path d="M214.8 386.1C215.48 385.83 217.45 384.5 218.9 384.5C220.35 384.5 221.77 386.33 223.5 386.1C225.23 385.87 227.57 383.28 229.3 383.1C231.03 382.92 232.17 387 233.9 385C235.63 383 237.97 373.98 239.7 371.1C241.43 368.22 242.77 371.15 244.3 367.7C245.83 364.25 247.17 355.9 248.9 350.4C250.63 344.9 252.97 335.85 254.7 334.7C256.43 333.55 257.97 338.2 259.3 343.5C260.63 348.8 261.43 359.67 262.7 366.5C263.97 373.33 265.67 382 266.9 384.5C268.13 387 268.95 381.35 270.1 381.5C271.25 381.65 272.53 386.17 273.8 385.4C275.07 384.63 276.38 378.9 277.7 376.9C279.02 374.9 280.42 373.4 281.7 373.4C282.98 373.4 284.13 375.55 285.4 376.9C286.67 378.25 287.5 381.88 289.3 381.5C291.1 381.12 294.08 375.18 296.2 374.6C298.32 374.02 299.12 375.97 302 378C304.88 380.03 310.05 385.57 313.5 386.8C316.95 388.03 319.62 385.7 322.7 385.4C325.78 385.1 328.53 384.88 332 385C335.47 385.12 337.73 385.72 343.5 386.1C349.27 386.48 362.75 387.1 366.6 387.3" fill="none" stroke="#3a6cc4" stroke-width="1.0" stroke-linejoin="round"/>
<path d="M214.8 440.4C215.68 440.25 218.45 439.5 220.1 439.5C221.75 439.5 222.97 440.7 224.7 440.4C226.43 440.1 228.77 437.85 230.5 437.7C232.23 437.55 233.38 441.62 235.1 439.5C236.82 437.38 239.08 427.92 240.8 425C242.52 422.08 243.85 425.47 245.4 422C246.95 418.53 248.37 409.47 250.1 404.2C251.83 398.93 254.08 390.97 255.8 390.4C257.52 389.83 258.93 394.85 260.4 400.8C261.87 406.75 263.37 419.18 264.6 426.1C265.83 433.02 266.77 440.75 267.8 442.3C268.83 443.85 269.72 435.72 270.8 435.4C271.88 435.08 272.95 442.13 274.3 440.4C275.65 438.67 277.37 428.72 278.9 425C280.43 421.28 282.03 417.33 283.5 418.1C284.97 418.87 286.43 425.57 287.7 429.6C288.97 433.63 289.95 442.5 291.1 442.3C292.25 442.1 293.37 431.93 294.6 428.4C295.83 424.87 297.08 420.9 298.5 421.1C299.92 421.3 301.75 426.92 303.1 429.6C304.45 432.28 305.25 435.4 306.6 437.2C307.95 439 309.28 440.25 311.2 440.4C313.12 440.55 315.8 437.87 318.1 438.1C320.4 438.33 322.68 441.57 325 441.8C327.32 442.03 329.5 439.5 332 439.5C334.5 439.5 337.33 441.8 340 441.8C342.67 441.8 345.5 439.58 348 439.5C350.5 439.42 351.9 441.42 355 441.3C358.1 441.18 364.67 439.22 366.6 438.8" fill="none" stroke="#e8383a" stroke-width="1.0" stroke-linejoin="round"/>
<path d="M214.8 490.4C215.48 490.08 217.45 488.58 218.9 488.5C220.35 488.42 221.77 490.05 223.5 489.9C225.23 489.75 227.57 488.3 229.3 487.6C231.03 486.9 232.17 488.32 233.9 485.7C235.63 483.08 237.97 474.02 239.7 471.9C241.43 469.78 242.77 475.3 244.3 473C245.83 470.7 247.17 463.67 248.9 458.1C250.63 452.53 252.97 441.15 254.7 439.6C256.43 438.05 257.97 443.03 259.3 448.8C260.63 454.57 261.55 467.65 262.7 474.2C263.85 480.75 265.03 486.25 266.2 488.1C267.37 489.95 268.43 484.85 269.7 485.3C270.97 485.75 272.27 490.92 273.8 490.8C275.33 490.68 277.47 485.52 278.9 484.6C280.33 483.68 280.48 485.88 282.4 485.3C284.32 484.72 288.1 481.42 290.4 481.1C292.7 480.78 294.08 482.55 296.2 483.4C298.32 484.25 300.98 484.85 303.1 486.2C305.22 487.55 306.78 490.88 308.9 491.5C311.02 492.12 313.12 490.28 315.8 489.9C318.48 489.52 321.93 489.05 325 489.2C328.07 489.35 331.12 490.3 334.2 490.8C337.28 491.3 340.03 492.08 343.5 492.2C346.97 492.32 351.15 491.35 355 491.5C358.85 491.65 364.67 492.83 366.6 493.1" fill="none" stroke="#3aa865" stroke-width="1.0" stroke-linejoin="round"/>
<text x="359.2" y="302.1" font-size="8.1" text-anchor="end" font-weight="bold" fill="#111">Pt foil</text>
<text x="359" y="378.5" font-size="8.1" text-anchor="end" font-weight="bold" fill="#111">PtO<tspan font-size="5.2" dy="1.8">2</tspan></text>
<text x="359.2" y="431.9" font-size="8.1" text-anchor="end" font-weight="bold" fill="#111">Zn/Pt SATs</text>
<text x="359" y="483.9" font-size="8.1" text-anchor="end" font-weight="bold" fill="#111">Pt SATs</text>
<line x1="281.4" y1="364.2" x2="281.4" y2="416.5" stroke="#222" stroke-width="0.7" stroke-dasharray="1.6 1.3"/>
<line x1="283.6" y1="391.7" x2="283.6" y2="454.5" stroke="#222" stroke-width="0.7" stroke-dasharray="1.6 1.3"/>
<line x1="295" y1="359.6" x2="282.6" y2="372" stroke="#222" stroke-width="0.7"/>
<path d="M282.6 372 L283.65 368.98 L285.62 370.95 Z" fill="#222"/>
<text x="295.5" y="358.4" font-size="8.0" text-anchor="start" font-weight="bold" fill="#111">Pt-O-Pt</text>
<line x1="300.8" y1="407.2" x2="284.4" y2="416.6" stroke="#222" stroke-width="0.7"/>
<path d="M284.4 416.6 L286.21 413.96 L287.59 416.37 Z" fill="#222"/>
<text x="301.5" y="406.5" font-size="8.0" text-anchor="start" font-weight="bold" fill="#111">Pt-O-Zn</text>
<g clip-path="url(#cpd1)"><g filter="url(#cm)">
<rect x="405.1" y="5.4" width="121.9" height="108" fill="rgb(31,31,31)"/>
<g style="isolation:isolate">
<ellipse cx="470.96" cy="77.34" rx="106.11" ry="11.7" fill="url(#gw)" fill-opacity="0.3" style="mix-blend-mode:plus-lighter"/>
<ellipse cx="470.96" cy="77.34" rx="123.79" ry="35.1" fill="url(#gw)" fill-opacity="0.7" style="mix-blend-mode:plus-lighter"/>
<ellipse cx="479.81" cy="7.4" rx="38.32" ry="32.76" fill="url(#gw)" fill-opacity="0.4" style="mix-blend-mode:plus-lighter"/>
<ellipse cx="444.44" cy="30.8" rx="58.95" ry="35.1" fill="url(#gw)" fill-opacity="0.3" style="mix-blend-mode:plus-lighter"/>
<ellipse cx="505.35" cy="15.2" rx="44.21" ry="31.2" fill="url(#gw)" fill-opacity="0.08" style="mix-blend-mode:plus-lighter"/>
<ellipse cx="456.23" cy="102.3" rx="147.37" ry="27.3" fill="url(#gw)" fill-opacity="0.05" style="mix-blend-mode:plus-lighter"/>
</g>
<ellipse cx="452.3" cy="13.12" rx="14.74" ry="10.14" fill="url(#gb)" fill-opacity="0.69"/>
<ellipse cx="469" cy="36" rx="17.68" ry="10.14" fill="url(#gb)" fill-opacity="0.95"/>
<ellipse cx="510.26" cy="24.3" rx="17.68" ry="9.36" fill="url(#gb)" fill-opacity="0.69"/>
<ellipse cx="505.35" cy="54.2" rx="58.95" ry="17.16" fill="url(#gb)" fill-opacity="0.69"/>
<ellipse cx="419.87" cy="58.1" rx="41.26" ry="15.6" fill="url(#gb)" fill-opacity="0.69"/>
<ellipse cx="424.79" cy="90.08" rx="47.16" ry="7.8" fill="url(#gb)" fill-opacity="0.69"/>
<ellipse cx="469" cy="60.7" rx="29.47" ry="11.7" fill="url(#gb)" fill-opacity="0.4"/>
<ellipse cx="414.96" cy="23" rx="41.26" ry="54.6" fill="url(#gb)" fill-opacity="0.63"/>
<ellipse cx="466.05" cy="107.5" rx="206.32" ry="19.5" fill="url(#gb)" fill-opacity="0.4"/>
</g>
<path d="M407.1 40.4 408.4 40.6 409.4 40.2 410.1 39.7 411.1 39.2 411.8 38.7 412.7 38.1 413.2 37.4 413.9 36.7 414.4 36.0 415.1 35.2 415.7 34.4 416.2 33.7 416.8 32.9 417.3 32.1 417.8 31.3 418.3 30.4 418.8 29.4 419.1 28.7 419.6 27.7 420.0 26.7 420.4 25.8 420.8 25.0 421.1 24.1 421.5 23.1 421.9 22.1 422.2 21.1 422.6 20.1 422.9 19.1 423.3 18.1 423.6 17.1 423.9 16.1 424.3 15.1 424.6 14.1 424.9 13.1 425.2 12.1 425.6 11.1 426.0 10.1 426.2 9.1 426.4 7.9M453.5 14.7 454.4 14.2 454.9 13.4 454.8 12.1 454.3 11.4 453.4 10.9 452.4 10.6 451.1 10.5 450.1 10.8 449.2 11.4 448.7 12.1 448.8 13.4 449.3 14.1 450.1 14.6 451.1 14.9 452.4 15.0 453.5 14.7M513.0 27.7 514.1 27.4 514.9 27.1 515.8 26.5 516.4 25.9 516.8 25.1 516.8 24.0 516.1 23.1 515.4 22.5 514.6 22.1 513.6 21.7 512.4 21.5 511.1 21.5 509.8 21.5 508.4 21.7 507.4 22.0 506.5 22.4 505.8 22.8 505.1 23.5 504.7 24.4 504.8 25.4 505.4 26.3 506.1 26.8 507.1 27.3 508.1 27.7 509.1 27.9 510.4 28.0 511.8 28.0 513.0 27.7M472.3 39.4 473.2 39.1 474.1 38.6 474.8 38.1 475.4 37.1 475.5 36.1 475.1 35.1 474.6 34.4 473.8 33.8 472.8 33.4 471.8 33.1 470.8 32.9 469.4 32.8 468.1 32.9 467.1 33.1 466.1 33.4 465.1 33.9 464.4 34.4 463.8 35.3 463.6 36.4 463.9 37.4 464.5 38.1 465.4 38.7 466.2 39.1 467.2 39.4 468.4 39.6 469.8 39.7 471.1 39.6 472.3 39.4M524.8 47.8 523.9 47.4 523.0 47.1 522.0 46.7 520.8 46.4 519.8 46.2 518.8 46.0 517.4 45.8 516.4 45.7 515.1 45.6 513.8 45.5 512.4 45.5 511.1 45.5 509.8 45.5 508.4 45.6 507.1 45.6 505.8 45.7 504.8 45.8 503.4 45.9 502.1 46.0 501.1 46.1 499.8 46.2 498.7 46.4 497.4 46.6 496.4 46.8 495.4 47.2 494.4 47.5 493.4 47.9 492.4 48.2 491.4 48.6 490.7 49.1 489.8 49.7 489.1 50.3 488.4 51.0 488.1 51.7 488.1 52.7 488.6 53.7 489.4 54.4 490.1 54.8 491.1 55.2 492.1 55.6 493.1 55.9 494.1 56.2 495.1 56.4 496.4 56.7 497.4 56.9 498.4 57.1 499.8 57.3 500.8 57.4 502.1 57.6 503.4 57.7 504.4 57.7 505.8 57.8 507.1 57.8 508.4 57.9 509.8 57.8 511.1 57.8 512.4 57.8 513.4 57.7 514.8 57.6 516.1 57.5 517.1 57.3 518.4 57.1 519.4 56.9 520.6 56.7 521.8 56.5 522.8 56.3 523.8 56.0M407.1 60.1 408.1 60.4 409.2 60.7 410.4 61.0 411.4 61.2 412.6 61.4 413.8 61.5 415.1 61.6 416.4 61.7 417.8 61.7 419.1 61.6 420.4 61.5 421.4 61.4 422.8 61.1 423.8 60.9 424.8 60.7 425.8 60.3 426.8 59.9 427.8 59.4 428.4 59.0 429.1 58.4 429.8 57.5 429.8 56.4 429.4 55.7 428.8 55.0 428.1 54.4 427.1 53.7 426.4 53.4 425.4 53.0 424.4 52.6 423.4 52.3 422.4 51.9 421.4 51.6 420.4 51.3 419.2 51.1 418.1 50.8 417.1 50.6 415.8 50.4 414.8 50.2 413.8 50.1 412.4 50.0 411.1 50.0 409.8 50.1 408.8 50.2 407.7 50.4M425.1 90.4 425.4 90.1 424.1 89.9 422.8 89.9 421.4 89.8 420.2 90.1 421.1 90.6 422.4 90.7 423.8 90.7 425.1 90.4M524.8 107.8 523.4 107.9 522.1 108.0 521.1 108.1 519.8 108.2 518.4 108.3 517.1 108.3 516.0 108.4 514.8 108.5 513.4 108.6 512.1 108.7 511.1 108.7 509.8 108.8 508.4 108.9 507.1 109.0 505.8 109.0 504.8 109.1 503.4 109.2 502.1 109.3 500.8 109.3 499.4 109.4 498.4 109.4 497.1 109.5 495.8 109.6 494.4 109.6 493.1 109.7 492.1 109.7 490.8 109.8 489.4 109.9 488.1 110.0 486.8 110.0 485.8 110.1 484.4 110.3 483.1 110.3 481.8 110.4 480.8 110.5 479.4 110.7 478.4 110.9 477.4 111.1 476.1 111.3M423.7 109.7 423.4 109.7 423.1 109.7 422.8 109.7 422.6 109.7 422.8 109.8 423.1 109.8 423.4 109.8 423.7 109.7M439.0 111.1 437.8 111.0 436.4 110.9 435.2 110.7 434.1 110.6 432.8 110.5 431.4 110.4 430.4 110.3 429.1 110.2 427.8 110.2 426.8 110.0 425.4 110.0 424.8 110.1 426.1 110.3 427.1 110.4 428.4 110.6 429.8 110.7 430.8 110.8 432.1 110.9 433.4 111.0 434.4 111.1 435.8 111.2 437.1 111.2 438.4 111.2M442.7 111.4 442.4 111.4 442.1 111.3 441.8 111.3 441.4 111.3 441.1 111.3 440.8 111.2 440.4 111.3 440.1 111.3 439.8 111.3 439.5 111.4M407.1 66.2 408.4 66.1 409.4 66.0 410.8 66.0 412.1 65.9 413.4 65.8 414.4 65.7 415.8 65.6 417.1 65.4 418.1 65.3 419.4 65.2 420.6 65.1 421.8 64.9 422.9 64.7 424.1 64.5 425.1 64.4 426.4 64.1 427.4 63.9 428.4 63.6 429.4 63.3 430.4 63.1 431.4 62.7 432.4 62.4 433.4 62.0 434.4 61.6 435.4 61.2 436.4 60.7 437.1 60.4 438.1 59.9 438.9 59.4 439.8 58.8 440.4 58.3 441.2 57.7 442.0 57.1 442.7 56.4 443.3 55.7 444.0 55.1 444.2 54.1 444.3 52.7 444.0 51.7 443.1 51.1 442.4 50.7 441.4 50.1 440.8 49.7 439.8 49.2 438.8 48.7 438.1 48.3 437.1 47.8 436.4 47.4 435.4 46.9 434.8 46.4 434.0 45.7 433.3 45.1 432.7 44.4 432.0 43.7 431.2 43.1 430.6 42.4 430.1 41.7 429.5 40.7 429.1 39.9 428.8 39.1 428.4 38.0 428.2 36.7 428.1 35.4 428.1 34.4 428.1 33.4 428.3 32.1 428.4 31.1 428.7 29.7 429.0 28.7 429.3 27.7 429.7 26.7 430.1 25.7 430.4 24.9 430.8 24.1 431.3 23.1 431.8 22.3 432.4 21.4 432.9 20.7 433.4 20.0 434.1 19.2 434.8 18.5 435.4 17.9 436.1 17.4 437.0 16.7 437.8 16.2 438.8 15.8 439.8 15.6 441.1 15.5 442.4 15.7 443.4 15.9 444.4 16.2 445.4 16.5 446.4 16.9 447.4 17.2 448.4 17.5 449.8 17.7 450.8 17.8 452.1 17.9 453.4 17.7 454.4 17.5 455.4 17.2 456.4 16.8 457.1 16.3 457.8 15.7 458.4 15.0 458.9 14.1 459.1 13.1 459.1 11.9 458.8 10.7 458.4 9.9 458.0 9.1 457.5 8.1 457.0 7.4M508.3 7.4 508.8 8.1 509.4 9.1 509.8 9.7 510.2 10.7 510.5 11.7 510.7 13.1 510.7 14.4 510.1 15.4 509.4 16.0 508.8 16.5 507.8 17.1 507.1 17.4 506.1 17.8 505.1 18.3 504.2 18.7 503.4 19.1 502.4 19.6 501.7 20.1 500.8 20.6 500.1 21.1 499.4 21.7 498.6 22.4 497.9 23.1 497.3 23.7 496.6 24.4 495.9 25.1 495.1 25.6 494.4 26.1 493.4 26.7 492.7 27.1 491.8 27.4 490.8 27.8 489.8 28.2 488.8 28.5 487.8 28.9 486.8 29.3 485.8 29.7 484.9 30.1 484.1 30.4 482.8 30.7 481.8 30.8 480.4 31.0 479.1 31.0 477.8 30.9 476.4 30.8 475.4 30.6 474.1 30.5 472.8 30.4 471.8 30.4 470.4 30.4 469.4 30.4 468.1 30.6 467.1 30.8 466.1 31.1 465.1 31.4 464.1 31.8 463.1 32.3 462.4 32.8 461.7 33.4 461.1 34.1 460.4 35.1 460.1 36.1 460.2 37.4 460.4 38.4 461.0 39.4 461.4 40.1 462.1 41.0 462.8 41.7 463.2 42.4 463.8 43.1 464.2 44.1 464.4 45.2 464.3 46.1 463.5 46.7 462.8 47.3 462.1 47.8 461.3 48.4 461.1 49.4 460.4 50.3 459.9 51.1 460.4 52.1 461.1 52.7 461.4 53.4 461.4 54.1 462.1 55.0 462.5 55.7 462.5 57.1 463.0 58.1 463.4 58.8 464.1 59.5 465.0 60.1 465.9 60.4 467.1 60.7 468.1 60.9 469.4 61.0 470.8 61.0 472.1 60.9 473.3 60.7 474.4 60.6 475.4 60.4 476.8 60.1 477.8 59.9 479.1 59.8 480.1 59.6 481.4 59.5 482.8 59.5 484.1 59.5 485.4 59.5 486.8 59.6 488.1 59.7 489.1 59.8 490.4 59.9 491.7 60.1 492.8 60.2 494.1 60.3 495.1 60.4 496.4 60.6 497.8 60.7 498.8 60.8 500.1 60.9 501.4 61.0 502.4 61.1 503.8 61.2 505.1 61.3 506.1 61.4 507.4 61.5 508.8 61.6 510.1 61.6 511.4 61.7 512.4 61.8 513.8 61.8 515.1 61.9 516.4 61.9 517.8 62.0 518.8 62.1 520.1 62.1 521.4 62.2 522.8 62.2 524.1 62.3M524.8 95.6 523.8 95.8 522.4 96.0 521.4 96.2 520.4 96.4 519.1 96.6 518.1 96.8 516.8 97.0 515.8 97.2 514.4 97.4 513.4 97.5 512.1 97.7 511.1 97.8 509.8 98.0 508.7 98.1 507.4 98.2 506.1 98.4 505.1 98.5 503.8 98.6 502.4 98.7 501.4 98.8 500.1 98.9 498.8 99.0 497.8 99.1 496.4 99.2 495.1 99.3 493.8 99.4 492.8 99.5 491.4 99.5 490.1 99.6 488.8 99.7 487.7 99.7 486.4 99.8 485.1 99.8 483.8 99.9 482.4 99.9 481.1 100.0 479.8 100.0 478.4 100.1 477.4 100.1 476.1 100.1 474.8 100.1 473.4 100.1 472.1 100.1 470.8 100.2 469.4 100.2 468.1 100.2 466.8 100.2 465.4 100.2 464.1 100.2 462.8 100.1 461.4 100.1 460.1 100.1 458.8 100.1 457.8 100.1 456.4 100.0 455.1 100.0 453.8 99.9 452.4 99.9 451.1 99.8 449.8 99.8 448.7 99.7 447.4 99.7 446.1 99.6 444.8 99.5 443.4 99.4 442.4 99.4 441.1 99.3 439.8 99.2 438.4 99.1 437.4 99.1 436.1 99.0 434.8 98.8 433.5 98.7 432.4 98.6 431.1 98.5 429.9 98.4 428.8 98.3 427.4 98.1 426.4 98.0 425.1 97.8 424.1 97.5 423.1 97.3 422.1 97.1 420.8 96.7 419.9 96.4 419.3 95.7 419.8 95.0 420.8 94.7 422.1 94.5 423.1 94.3 424.4 94.2 425.4 94.0 426.8 93.9 427.9 93.7 429.1 93.5 430.1 93.4 431.4 93.1 432.4 93.0 433.6 92.7 434.8 92.5 435.8 92.2 436.8 91.9 437.7 91.4 438.4 90.7 437.8 89.8 437.0 89.4 436.0 89.1 434.8 88.7 433.8 88.6 432.8 88.4 431.4 88.2 430.4 88.1 429.1 87.9 427.8 87.8 426.7 87.7 425.4 87.7 424.1 87.6 422.8 87.5 421.4 87.5 420.1 87.4 418.8 87.4 417.8 87.4 416.4 87.4 415.1 87.4 413.9 87.4 412.8 87.4 411.4 87.4 410.1 87.4 408.8 87.4 407.4 87.4M497.5 7.4 497.7 8.7 497.8 9.7 497.7 10.7 497.5 12.1 497.1 13.1 496.8 13.8 496.2 14.7 495.8 15.5 495.1 16.3 494.4 17.0 493.8 17.6 493.1 18.2 492.3 18.7 491.4 19.3 490.5 19.7 489.8 20.1 488.8 20.6 487.8 21.0 486.8 21.4 485.8 21.7 484.8 22.0 483.8 22.3 482.8 22.5 481.7 22.7 480.4 23.0 479.4 23.2 478.1 23.4 477.1 23.5 475.8 23.6 474.8 23.8 473.4 24.0 472.1 24.1 471.1 24.1 469.8 24.3 468.8 24.6 467.8 25.0 466.8 25.4 466.1 25.8 465.2 26.4 464.4 26.8 463.4 27.4 462.8 27.9 462.1 28.5 461.4 29.1 460.6 29.7 459.9 30.4 459.2 31.1 458.4 31.7 457.8 32.4 457.2 33.1 456.6 33.7 456.1 34.7 455.8 35.4 455.3 36.4 454.8 37.3 454.2 38.1 453.5 38.7 452.8 39.3 452.0 39.7 450.8 39.9 449.8 40.1 448.4 40.2 447.1 40.3 445.8 40.2 444.7 40.1 443.4 39.9 442.4 39.6 441.4 39.2 440.5 38.7 439.8 38.3 439.1 37.7 438.4 37.1 437.8 36.3 437.1 35.4 436.8 34.7 436.5 33.4 436.4 32.4 436.4 31.1 436.6 30.1 436.9 29.1 437.2 28.1 437.7 27.1 438.1 26.4 438.8 25.5 439.4 24.9 440.1 24.4 441.0 23.7 441.8 23.2 442.8 22.7 443.7 22.4 444.7 22.1 445.8 21.9 447.1 21.8 448.1 21.7 449.4 21.6 450.8 21.6 452.1 21.7 453.4 21.6 454.8 21.5 456.1 21.4 457.1 21.3 458.4 21.1 459.4 21.0 460.4 20.6 461.3 20.1 462.1 19.4 462.5 18.7 462.9 17.7 463.3 16.7 463.5 15.7 463.7 14.4 463.7 13.1 463.6 11.7 463.6 10.4 463.6 9.1 463.6 7.7M407.1 71.9 408.1 71.5 409.1 71.1 410.1 70.8 411.1 70.5 412.1 70.2 413.1 70.0 414.1 69.7 415.4 69.4 416.4 69.2 417.4 68.9 418.4 68.7 419.8 68.4 420.8 68.2 421.8 68.0 423.1 67.7 424.1 67.5 425.1 67.3 426.4 67.1 427.4 66.9 428.4 66.6 429.4 66.4 430.8 66.1 431.8 65.8 432.8 65.6 433.8 65.3 434.8 65.0 435.8 64.7 436.8 64.4 437.8 64.0 438.8 63.7 439.8 63.4 440.8 63.1 441.9 62.7 443.0 62.4 444.1 62.1 445.1 61.9 446.1 61.6 447.4 61.4 448.4 61.3 449.8 61.2 451.1 61.2 452.4 61.2 453.7 61.4 454.8 61.6 455.8 61.8 457.1 62.1 458.1 62.3 459.1 62.5 460.1 62.8 461.4 63.1 462.4 63.2 463.4 63.4 464.8 63.6 466.1 63.7 467.1 63.8 468.4 63.8 469.8 63.8 471.1 63.8 472.4 63.7 473.4 63.7 474.8 63.6 476.1 63.4 477.1 63.3 478.4 63.2 479.4 63.0 480.8 62.9 482.1 62.8 483.1 62.7 484.4 62.6 485.8 62.6 487.1 62.6 488.4 62.6 489.8 62.7 490.8 62.8 492.1 62.9 493.4 63.0 494.4 63.1 495.8 63.2 497.1 63.3 498.1 63.4 499.4 63.6 500.8 63.7 501.8 63.8 503.1 64.0 504.1 64.1 505.4 64.2 506.8 64.4 507.8 64.5 509.1 64.7 510.1 64.8 511.4 65.0 512.4 65.1 513.8 65.3 514.8 65.5 516.1 65.7 517.1 65.9 518.1 66.1 519.4 66.3 520.4 66.6 521.4 66.8 522.4 67.1 523.8 67.4 524.8 67.6M524.8 88.0 523.8 88.4 522.9 88.7 522.0 89.1 521.0 89.4 520.0 89.7 518.9 90.1 517.8 90.4 516.8 90.7 515.8 91.0 514.8 91.3 513.8 91.5 512.8 91.8 511.5 92.1 510.4 92.3 509.4 92.5 508.2 92.7 507.1 93.0 506.1 93.1 504.8 93.4 503.8 93.5 502.5 93.7 501.4 93.9 500.2 94.1 499.1 94.2 497.8 94.4 496.8 94.5 495.4 94.7 494.4 94.8 493.1 94.9 491.8 95.0 490.8 95.1 489.4 95.2 488.1 95.3 487.0 95.4 485.8 95.5 484.4 95.6 483.1 95.6 481.8 95.7 480.8 95.7 479.4 95.8 478.1 95.9 476.8 95.9 475.4 95.9 474.1 96.0 472.8 96.0 471.4 96.0 470.1 96.0 468.8 96.0 467.4 96.0 466.1 96.0 464.8 96.0 463.4 95.9 462.1 95.9 460.8 95.9 459.4 95.8 458.1 95.8 457.1 95.7 455.8 95.6 454.4 95.4 453.4 95.3 452.1 95.1 451.1 95.0 449.8 94.7 448.8 94.5 447.9 94.1 447.2 93.4 446.9 92.4 446.8 91.3 446.3 90.4 445.4 89.8 444.6 89.4 443.8 89.1 442.7 88.7 441.5 88.4 440.4 88.2 439.4 88.0 438.2 87.7 437.1 87.5 436.1 87.4 434.8 87.2 433.8 87.1 432.4 86.9 431.1 86.7 430.1 86.6 428.8 86.5 427.5 86.4 426.4 86.3 425.1 86.2 423.8 86.1 422.8 86.0 421.4 85.9 420.1 85.8 419.1 85.7 417.8 85.5 416.8 85.4 415.4 85.2 414.1 85.1 413.1 84.9 412.1 84.7 410.8 84.5 409.8 84.2 408.8 84.0 407.8 83.6M490.3 7.4 490.4 8.7 490.3 10.1 490.0 11.1 489.6 12.1 489.1 12.8 488.4 13.6 487.8 14.2 487.1 14.7 486.1 15.3 485.3 15.7 484.4 16.1 483.4 16.4 482.2 16.7 481.1 16.9 479.8 17.1 478.8 17.1 477.8 17.0 476.4 16.8 475.4 16.5 474.4 16.1 473.6 15.7 472.8 15.2 472.1 14.6 471.4 13.9 470.8 13.1 470.4 12.4 470.0 11.4 469.8 10.2 469.7 9.1 469.8 7.7M524.8 82.2 523.8 82.7 522.9 83.1 522.1 83.4 521.1 83.8 520.1 84.2 519.1 84.5 518.1 84.9 517.1 85.3 516.1 85.6 515.1 85.9 514.1 86.3 513.1 86.6 512.1 86.9 511.1 87.2 510.1 87.5 509.1 87.7 507.8 88.1 506.8 88.3 505.8 88.6 504.8 88.8 503.6 89.1 502.4 89.3 501.4 89.5 500.4 89.7 499.1 90.0 498.1 90.2 496.8 90.4 495.8 90.6 494.7 90.7 493.4 90.9 492.4 91.1 491.1 91.2 489.8 91.4 488.8 91.5 487.4 91.6 486.4 91.7 485.1 91.8 483.8 91.9 482.4 92.0 481.4 92.1 480.1 92.2 478.8 92.3 477.4 92.3 476.1 92.4 474.8 92.4 473.8 92.4 472.4 92.4 471.1 92.5 469.8 92.5 468.7 92.4 467.4 92.3 466.1 92.2 464.8 92.1 463.8 92.0 462.4 91.9 461.4 91.7 460.1 91.5 459.1 91.3 458.1 91.0 457.0 90.7 455.8 90.4 454.9 90.1 453.9 89.7 452.9 89.4 451.8 89.1 450.8 88.8 449.8 88.5 448.8 88.3 447.8 88.0 446.5 87.7 445.4 87.5 444.4 87.3 443.1 87.1 442.1 86.9 441.1 86.7 439.8 86.5 438.8 86.3 437.4 86.2 436.4 86.0 435.1 85.8 434.1 85.7 432.8 85.5 431.8 85.4 430.4 85.2 429.4 85.0 428.1 84.8 427.1 84.7 425.8 84.5 424.8 84.3 423.5 84.1 422.4 83.8 421.4 83.6 420.4 83.4 419.4 83.1 418.2 82.7 417.1 82.4 416.4 82.1 415.4 81.6 414.4 81.1 413.8 80.7 412.9 80.1 412.1 79.4 411.5 78.7 411.1 77.8 411.1 77.1 411.7 76.1 412.4 75.4 413.1 74.8 413.8 74.4 414.8 73.8 415.7 73.4 416.6 73.1 417.5 72.7 418.5 72.4 419.5 72.1 420.6 71.7 421.6 71.4 422.7 71.1 423.8 70.8 424.8 70.5 425.8 70.3 426.8 70.0 427.8 69.7 428.9 69.4 430.1 69.1 431.1 68.8 432.1 68.6 433.1 68.3 434.1 68.1 435.4 67.7 436.4 67.5 437.4 67.2 438.4 66.9 439.4 66.7 440.7 66.4 441.8 66.2 442.8 65.9 443.8 65.7 445.1 65.5 446.1 65.3 447.4 65.1 448.4 64.9 449.8 64.8 451.1 64.7 452.1 64.7 453.4 64.7 454.8 64.7 455.8 64.8 457.1 64.8 458.4 65.0 459.4 65.1 460.8 65.2 462.1 65.3 463.1 65.4 464.4 65.5 465.8 65.6 467.1 65.7 468.4 65.7 469.8 65.7 471.1 65.7 472.4 65.6 473.8 65.6 475.1 65.5 476.4 65.4 477.4 65.4 478.8 65.3 480.1 65.2 481.4 65.1 482.8 65.1 484.1 65.1 485.1 65.1 486.1 65.1 487.4 65.1 488.8 65.2 490.1 65.2 491.4 65.4 492.4 65.4 493.8 65.6 495.1 65.7 496.1 65.8 497.4 66.0 498.4 66.1 499.8 66.3 500.8 66.5 502.1 66.7 503.1 66.8 504.4 67.0 505.4 67.2 506.7 67.4 507.8 67.6 508.8 67.8 510.0 68.1 511.1 68.3 512.1 68.5 513.1 68.8 514.3 69.1 515.4 69.4 516.4 69.6 517.4 69.9 518.4 70.2 519.4 70.5 520.4 70.8 521.4 71.1 522.4 71.5 523.4 71.9 524.4 72.4M476.8 89.1 475.4 89.1 474.1 89.2 472.8 89.2 471.4 89.2 470.1 89.1 469.1 89.1 467.8 89.0 466.4 88.9 465.1 88.8 464.1 88.7 462.8 88.6 461.4 88.4 460.4 88.3 459.1 88.1 458.1 88.0 456.8 87.7 455.8 87.6 454.8 87.4 453.4 87.1 452.4 87.0 451.2 86.7 450.1 86.6 449.1 86.4 447.8 86.2 446.8 86.0 445.4 85.8 444.4 85.6 443.1 85.4 442.1 85.2 441.0 85.1 439.8 84.9 438.8 84.7 437.4 84.5 436.4 84.3 435.2 84.1 434.1 83.9 433.1 83.7 431.8 83.4 430.8 83.2 429.8 82.9 428.8 82.7 427.6 82.4 426.5 82.1 425.6 81.7 424.8 81.4 423.8 81.0 422.8 80.5 422.1 80.1 421.1 79.4 420.4 78.8 420.0 78.1 420.0 76.7 420.5 76.1 421.3 75.4 422.1 74.9 422.9 74.4 423.8 74.0 424.8 73.6 425.8 73.2 426.8 72.9 427.8 72.6 428.8 72.3 429.8 72.0 430.8 71.7 431.8 71.4 433.0 71.1 434.1 70.8 435.1 70.5 436.1 70.3 437.1 70.0 438.4 69.7 439.4 69.5 440.4 69.3 441.4 69.1 442.8 68.8 443.8 68.6 444.8 68.4 446.1 68.1 447.1 68.0 448.4 67.8 449.4 67.6 450.8 67.5 451.8 67.4 453.1 67.2 454.4 67.2 455.8 67.2 457.1 67.1 458.4 67.2 459.8 67.2 461.1 67.2 462.4 67.2 463.8 67.3 465.1 67.3 466.4 67.3 467.8 67.3 469.1 67.3 470.4 67.3 471.8 67.3 473.1 67.3 474.4 67.3 475.8 67.3 477.1 67.2 478.4 67.2 479.8 67.2 481.1 67.2 482.4 67.2 483.8 67.2 485.1 67.3 486.4 67.3 487.4 67.4 488.8 67.5 490.1 67.6 491.4 67.7 492.4 67.8 493.8 68.0 494.8 68.2 496.1 68.4 497.1 68.5 498.3 68.7 499.4 68.9 500.4 69.1 501.8 69.4 502.8 69.5 503.8 69.7 505.1 70.0 506.1 70.2 507.1 70.4 508.3 70.7 509.4 71.0 510.4 71.2 511.4 71.5 512.4 71.8 513.4 72.1 514.4 72.5 515.4 72.8 516.4 73.2 517.4 73.6 518.4 74.1 519.1 74.4 520.1 75.1 520.8 75.6 521.4 76.3 521.8 77.1 521.6 78.1 521.1 78.8 520.4 79.4 519.5 80.1 518.8 80.5 517.8 81.0 516.8 81.4 515.9 81.7 515.0 82.1 514.1 82.4 513.1 82.7 512.1 83.1 511.0 83.4 509.9 83.7 508.8 84.0 507.8 84.3 506.8 84.6 505.8 84.9 504.8 85.1 503.6 85.4 502.4 85.7 501.4 85.9 500.4 86.1 499.2 86.4 498.1 86.6 497.1 86.8 495.9 87.1 494.8 87.3 493.8 87.4 492.4 87.7 491.4 87.8 490.1 88.0 489.1 88.1 487.8 88.3 486.6 88.4 485.4 88.5 484.1 88.6 482.8 88.7 481.8 88.8 480.4 88.9 479.1 89.0 477.8 89.0 476.8 89.1M475.4 86.4 474.1 86.4 472.8 86.5 471.4 86.5 470.1 86.5 468.8 86.5 467.4 86.5 466.1 86.4 465.1 86.3 463.8 86.2 462.4 86.1 461.4 86.0 460.1 85.9 458.9 85.7 457.8 85.6 456.4 85.5 455.4 85.3 454.1 85.2 453.1 85.0 451.8 84.8 450.8 84.7 449.4 84.5 448.4 84.4 447.1 84.2 446.1 84.0 444.8 83.8 443.8 83.6 442.6 83.4 441.4 83.2 440.4 83.0 439.1 82.8 438.1 82.6 437.1 82.3 436.1 82.1 435.0 81.7 433.9 81.4 432.9 81.1 432.0 80.7 431.1 80.4 430.1 79.9 429.2 79.4 428.4 78.9 427.8 78.1 427.6 77.1 428.1 76.2 428.8 75.6 429.7 75.1 430.4 74.7 431.4 74.2 432.4 73.9 433.4 73.5 434.4 73.2 435.4 72.9 436.4 72.6 437.4 72.4 438.6 72.1 439.8 71.8 440.8 71.6 441.8 71.4 443.1 71.1 444.1 70.9 445.1 70.7 446.4 70.5 447.4 70.3 448.8 70.1 449.8 70.0 451.1 69.8 452.1 69.7 453.4 69.6 454.8 69.5 455.9 69.4 457.1 69.3 458.4 69.3 459.8 69.2 461.1 69.2 462.4 69.1 463.8 69.1 465.1 69.1 466.4 69.1 467.8 69.1 468.8 69.1 470.1 69.0 471.4 69.0 472.8 69.0 474.1 69.0 475.4 69.0 476.8 69.0 478.1 69.0 479.1 69.1 480.4 69.1 481.8 69.2 483.1 69.3 484.4 69.3 485.4 69.4 486.8 69.5 488.1 69.6 489.1 69.7 490.4 69.9 491.7 70.1 492.8 70.2 494.1 70.4 495.1 70.6 496.2 70.7 497.4 70.9 498.4 71.1 499.8 71.4 500.8 71.6 501.8 71.8 503.0 72.1 504.1 72.3 505.1 72.6 506.1 72.9 507.1 73.2 508.1 73.5 509.1 73.8 510.1 74.2 511.1 74.6 512.0 75.1 512.8 75.5 513.4 76.1 514.1 77.1 513.8 78.3 513.1 78.9 512.4 79.4 511.4 80.0 510.5 80.4 509.6 80.7 508.7 81.1 507.6 81.4 506.5 81.7 505.4 82.1 504.4 82.3 503.4 82.6 502.4 82.8 501.4 83.1 500.1 83.3 499.1 83.5 498.1 83.8 496.8 84.0 495.8 84.2 494.6 84.4 493.4 84.6 492.4 84.8 491.1 85.0 490.1 85.1 488.8 85.3 487.8 85.4 486.4 85.6 485.1 85.7 484.1 85.8 482.8 85.9 481.4 86.1 480.4 86.1 479.1 86.2 477.8 86.3 476.4 86.4 475.4 86.4M476.1 84.1 474.8 84.1 473.4 84.2 472.1 84.2 470.8 84.2 469.4 84.2 468.1 84.2 466.8 84.1 465.4 84.1 464.4 84.0 463.1 84.0 461.8 83.9 460.4 83.8 459.4 83.7 458.1 83.6 456.8 83.5 455.8 83.4 454.4 83.2 453.1 83.1 452.1 82.9 450.8 82.7 449.8 82.6 448.4 82.4 447.4 82.2 446.4 82.1 445.1 81.8 444.1 81.6 443.1 81.4 441.9 81.1 440.8 80.7 439.8 80.4 438.8 80.1 437.8 79.7 437.1 79.4 436.1 78.8 435.4 78.3 435.0 77.4 435.4 76.5 436.1 75.9 437.0 75.4 437.8 75.0 438.8 74.6 439.8 74.3 440.8 74.0 441.8 73.7 443.0 73.4 444.1 73.2 445.1 73.0 446.3 72.7 447.4 72.5 448.4 72.4 449.8 72.2 450.8 72.0 452.1 71.8 453.1 71.7 454.4 71.5 455.7 71.4 456.8 71.3 458.1 71.2 459.4 71.1 460.7 71.1 461.8 71.0 463.1 71.0 464.4 70.9 465.8 70.9 467.1 70.8 468.4 70.8 469.8 70.8 471.1 70.8 472.4 70.8 473.8 70.8 475.1 70.8 476.4 70.9 477.8 70.9 479.1 70.9 480.4 71.0 481.8 71.0 482.8 71.1 484.1 71.2 485.4 71.3 486.4 71.4 487.8 71.6 488.8 71.7 490.1 71.9 491.2 72.1 492.4 72.2 493.5 72.4 494.8 72.6 495.8 72.8 497.1 73.1 498.1 73.3 499.1 73.5 500.1 73.8 501.1 74.1 502.2 74.4 503.2 74.7 504.1 75.1 505.1 75.6 505.8 76.1 506.4 76.8 506.4 77.9 505.8 78.7 505.1 79.1 504.1 79.6 503.1 80.0 502.1 80.4 501.1 80.7 500.1 80.9 499.1 81.2 498.1 81.5 496.8 81.7 495.8 81.9 494.8 82.1 493.4 82.3 492.4 82.5 491.1 82.7 490.1 82.8 488.8 83.0 487.8 83.2 486.4 83.3 485.4 83.4 484.1 83.6 482.8 83.7 481.8 83.8 480.4 83.9 479.1 83.9 477.8 84.0 476.4 84.1M479.1 82.1 477.8 82.2 476.4 82.2 475.1 82.3 473.8 82.3 472.4 82.3 471.1 82.3 469.8 82.3 468.4 82.3 467.1 82.3 465.8 82.2 464.4 82.2 463.1 82.1 462.1 82.1 460.8 82.0 459.4 81.9 458.1 81.8 457.1 81.7 455.8 81.5 454.8 81.4 453.4 81.2 452.4 81.0 451.1 80.8 450.1 80.6 449.1 80.4 447.9 80.1 446.8 79.8 445.8 79.4 444.8 79.1 444.1 78.7 443.1 78.1 442.9 77.1 443.4 76.4 444.4 75.8 445.4 75.4 446.4 75.1 447.4 74.8 448.4 74.5 449.4 74.3 450.5 74.1 451.8 73.8 452.8 73.7 454.1 73.5 455.1 73.3 456.4 73.2 457.4 73.0 458.8 72.9 460.1 72.8 461.4 72.7 462.4 72.7 463.8 72.6 465.1 72.5 466.4 72.5 467.8 72.5 469.1 72.4 470.4 72.4 471.8 72.4 473.1 72.4 474.4 72.5 475.8 72.5 477.1 72.6 478.4 72.6 479.8 72.7 480.8 72.8 482.1 72.9 483.4 73.0 484.4 73.1 485.8 73.2 487.1 73.4 488.1 73.5 489.3 73.7 490.4 73.9 491.4 74.1 492.7 74.4 493.8 74.7 494.8 74.9 495.8 75.2 496.8 75.6 497.7 76.1 498.4 76.6 498.8 77.4 498.4 78.1 497.6 78.7 496.8 79.1 495.8 79.5 494.8 79.8 493.8 80.1 492.4 80.4 491.4 80.6 490.4 80.8 489.1 81.0 488.1 81.2 486.8 81.4 485.8 81.5 484.4 81.7 483.4 81.8 482.1 81.9 480.8 82.0 479.4 82.1M476.8 80.4 475.4 80.5 474.1 80.5 472.8 80.6 471.4 80.6 470.1 80.6 468.8 80.6 467.4 80.5 466.1 80.5 464.8 80.4 463.8 80.3 462.4 80.2 461.1 80.1 460.1 80.0 458.8 79.8 457.8 79.6 456.6 79.4 455.4 79.2 454.4 78.9 453.4 78.6 452.4 78.1 451.8 77.4 452.1 76.8 452.8 76.4 453.8 76.0 454.8 75.7 456.1 75.4 457.1 75.2 458.1 75.1 459.4 74.9 460.4 74.7 461.8 74.6 463.1 74.5 464.1 74.4 465.4 74.3 466.8 74.2 468.1 74.2 469.4 74.1 470.8 74.1 472.1 74.1 473.4 74.2 474.8 74.2 476.1 74.3 477.4 74.4 478.4 74.4 479.8 74.6 481.1 74.7 482.1 74.8 483.4 75.0 484.4 75.2 485.4 75.4 486.8 75.7 487.8 76.0 488.8 76.4 489.4 76.7 489.8 77.6 489.1 78.2 488.1 78.6 487.1 78.9 486.1 79.2 485.1 79.4 483.8 79.6 482.8 79.8 481.4 80.0 480.4 80.1 479.1 80.2 477.8 80.3 476.8 80.4" fill="none" stroke="#303030" stroke-opacity="0.6" stroke-width="0.7"/>
</g>
<rect x="407.1" y="7.4" width="117.9" height="104" fill="none" stroke="#1a1a1a" stroke-width="0.9"/>
<line x1="407.1" y1="7.4" x2="407.1" y2="111.9" stroke="#111" stroke-width="1.1"/>
<line x1="406.6" y1="111.4" x2="525" y2="111.4" stroke="#111" stroke-width="1.1"/>
<line x1="407.1" y1="111.4" x2="404.7" y2="111.4" stroke="#111" stroke-width="0.9"/>
<text x="404.5" y="114.3" font-size="8.6" text-anchor="end" font-weight="bold" fill="#111">1</text>
<line x1="407.1" y1="85.4" x2="404.7" y2="85.4" stroke="#111" stroke-width="0.9"/>
<text x="404.5" y="88.3" font-size="8.6" text-anchor="end" font-weight="bold" fill="#111">2</text>
<line x1="407.1" y1="59.4" x2="404.7" y2="59.4" stroke="#111" stroke-width="0.9"/>
<text x="404.5" y="62.3" font-size="8.6" text-anchor="end" font-weight="bold" fill="#111">3</text>
<line x1="407.1" y1="33.4" x2="404.7" y2="33.4" stroke="#111" stroke-width="0.9"/>
<text x="404.5" y="36.3" font-size="8.6" text-anchor="end" font-weight="bold" fill="#111">4</text>
<line x1="407.1" y1="7.4" x2="404.7" y2="7.4" stroke="#111" stroke-width="0.9"/>
<text x="404.5" y="10.3" font-size="8.6" text-anchor="end" font-weight="bold" fill="#111">5</text>
<line x1="407.1" y1="98.4" x2="405.8" y2="98.4" stroke="#111" stroke-width="0.8"/>
<line x1="407.1" y1="72.4" x2="405.8" y2="72.4" stroke="#111" stroke-width="0.8"/>
<line x1="407.1" y1="46.4" x2="405.8" y2="46.4" stroke="#111" stroke-width="0.8"/>
<line x1="407.1" y1="20.4" x2="405.8" y2="20.4" stroke="#111" stroke-width="0.8"/>
<line x1="407.1" y1="111.4" x2="407.1" y2="113.8" stroke="#111" stroke-width="0.9"/>
<text x="407.1" y="122" font-size="8.6" text-anchor="middle" font-weight="bold" fill="#111">0</text>
<line x1="426.75" y1="111.4" x2="426.75" y2="113.8" stroke="#111" stroke-width="0.9"/>
<text x="426.75" y="122" font-size="8.6" text-anchor="middle" font-weight="bold" fill="#111">2</text>
<line x1="446.4" y1="111.4" x2="446.4" y2="113.8" stroke="#111" stroke-width="0.9"/>
<text x="446.4" y="122" font-size="8.6" text-anchor="middle" font-weight="bold" fill="#111">4</text>
<line x1="466.05" y1="111.4" x2="466.05" y2="113.8" stroke="#111" stroke-width="0.9"/>
<text x="466.05" y="122" font-size="8.6" text-anchor="middle" font-weight="bold" fill="#111">6</text>
<line x1="485.7" y1="111.4" x2="485.7" y2="113.8" stroke="#111" stroke-width="0.9"/>
<text x="485.7" y="122" font-size="8.6" text-anchor="middle" font-weight="bold" fill="#111">8</text>
<line x1="505.35" y1="111.4" x2="505.35" y2="113.8" stroke="#111" stroke-width="0.9"/>
<text x="505.35" y="122" font-size="8.6" text-anchor="middle" font-weight="bold" fill="#111">10</text>
<line x1="525" y1="111.4" x2="525" y2="113.8" stroke="#111" stroke-width="0.9"/>
<text x="525" y="122" font-size="8.6" text-anchor="middle" font-weight="bold" fill="#111">12</text>
<line x1="416.93" y1="111.4" x2="416.93" y2="112.7" stroke="#111" stroke-width="0.8"/>
<line x1="436.58" y1="111.4" x2="436.58" y2="112.7" stroke="#111" stroke-width="0.8"/>
<line x1="456.23" y1="111.4" x2="456.23" y2="112.7" stroke="#111" stroke-width="0.8"/>
<line x1="475.88" y1="111.4" x2="475.88" y2="112.7" stroke="#111" stroke-width="0.8"/>
<line x1="495.52" y1="111.4" x2="495.52" y2="112.7" stroke="#111" stroke-width="0.8"/>
<line x1="515.17" y1="111.4" x2="515.17" y2="112.7" stroke="#111" stroke-width="0.8"/>
<text x="466.05" y="132.6" font-size="8.8" text-anchor="middle" font-weight="bold" fill="#111">k (Å<tspan font-size="5.5" dy="-3">-1</tspan><tspan dy="3">)</tspan></text>
<text x="395" y="59.4" font-size="8.8" text-anchor="middle" font-weight="bold" fill="#111" transform="rotate(-90 395 59.4)">R+α (Å)</text>
<text x="411.4" y="19.8" font-size="10.8" text-anchor="start" font-weight="bold" fill="#f4f4f4">Zn foil</text>
<g clip-path="url(#cpd2)"><g filter="url(#cm)">
<rect x="559.6" y="5.4" width="122.5" height="107.8" fill="rgb(38,38,38)"/>
<g style="isolation:isolate">
<ellipse cx="605.54" cy="96.93" rx="148.12" ry="12.46" fill="url(#gw)" fill-opacity="0.36" style="mix-blend-mode:plus-lighter"/>
<ellipse cx="609" cy="96.93" rx="148.12" ry="32.7" fill="url(#gw)" fill-opacity="0.58" style="mix-blend-mode:plus-lighter"/>
<ellipse cx="606.04" cy="77.47" rx="133.31" ry="31.14" fill="url(#gw)" fill-opacity="0.38" style="mix-blend-mode:plus-lighter"/>
<ellipse cx="605.05" cy="54.11" rx="53.33" ry="19.46" fill="url(#gw)" fill-opacity="0.36" style="mix-blend-mode:plus-lighter" transform="rotate(-27 605.05 54.11)"/>
<ellipse cx="630.73" cy="61.9" rx="74.06" ry="31.14" fill="url(#gw)" fill-opacity="0.1" style="mix-blend-mode:plus-lighter"/>
</g>
<ellipse cx="612.46" cy="70.2" rx="23.7" ry="7.79" fill="url(#gb)" fill-opacity="0.95"/>
<ellipse cx="648.5" cy="59.3" rx="26.66" ry="7.79" fill="url(#gb)" fill-opacity="0.86"/>
<ellipse cx="663.31" cy="85.25" rx="29.62" ry="6.23" fill="url(#gb)" fill-opacity="0.75"/>
<ellipse cx="578.39" cy="31.27" rx="20.74" ry="9.34" fill="url(#gb)" fill-opacity="0.69"/>
<ellipse cx="625.79" cy="32.57" rx="17.77" ry="9.34" fill="url(#gb)" fill-opacity="0.69"/>
<ellipse cx="658.87" cy="22.45" rx="17.77" ry="9.34" fill="url(#gb)" fill-opacity="0.69"/>
<ellipse cx="564.07" cy="48.92" rx="14.81" ry="15.57" fill="url(#gb)" fill-opacity="0.69"/>
<ellipse cx="620.85" cy="7.4" rx="177.75" ry="46.71" fill="url(#gb)" fill-opacity="0.52"/>
<ellipse cx="675.16" cy="59.3" rx="44.44" ry="62.28" fill="url(#gb)" fill-opacity="0.34"/>
</g>
<path d="M565.3 7.4 565.6 8.7 565.9 9.5 566.5 10.4 567.1 11.1 567.9 11.7 568.6 12.3 569.3 12.8 570.3 13.4 570.9 13.8 571.9 14.3 572.9 14.7 573.6 15.1 574.6 15.5 575.6 15.8 576.6 16.2 577.6 16.5 578.6 16.8 579.6 17.1 580.6 17.4 581.7 17.7 582.9 18.0 583.9 18.3 584.9 18.5 586.0 18.7 587.3 19.0 588.3 19.2 589.4 19.4 590.6 19.6 591.6 19.8 592.9 20.0 593.9 20.1 595.3 20.3 596.3 20.5 597.6 20.6 598.6 20.7 599.9 20.9 601.3 21.0 602.3 21.1 603.6 21.2 604.9 21.4 605.9 21.4 607.3 21.5 608.6 21.6 609.9 21.7 610.9 21.7 612.3 21.8 613.6 21.8 614.9 21.9 616.3 21.9 617.6 21.9 618.9 22.0 620.3 22.0 621.6 22.0 622.9 22.0 624.3 21.9 625.6 21.9 626.9 21.9 628.3 21.8 629.6 21.8 630.6 21.7 631.9 21.7 633.3 21.6 634.6 21.5 635.9 21.4 636.9 21.3 638.3 21.2 639.6 21.1 640.6 21.0 641.6 21.2 642.6 21.6 643.6 21.9 644.5 22.4 645.3 22.9 645.9 23.4 646.8 24.1 647.6 24.6 648.3 25.1 649.3 25.7 650.0 26.1 650.9 26.5 651.9 26.8 652.9 27.2 653.9 27.4 655.3 27.7 656.3 27.8 657.6 28.0 658.9 28.0 660.3 28.0 661.6 27.9 662.9 27.7 663.9 27.5 664.9 27.3 665.9 27.0 666.9 26.6 667.9 26.1 668.6 25.7 669.4 25.1 670.1 24.4 670.6 23.7 671.2 22.7 671.5 21.7 671.6 20.7 671.7 19.4 671.7 18.1 671.8 16.7 672.3 15.8 673.0 15.4 673.9 14.8 674.6 14.3 675.3 13.7 676.0 13.1 676.6 12.4 677.3 11.6 677.8 10.7 678.2 9.7 678.3 8.7 678.2 7.7M580.3 35.4 581.6 35.3 582.7 35.1 583.9 34.8 584.9 34.4 585.8 34.1 586.6 33.6 587.4 33.1 588.1 32.4 588.6 31.5 588.8 30.4 588.4 29.4 587.9 28.7 587.2 28.1 586.3 27.5 585.3 27.1 584.3 26.7 583.3 26.5 582.3 26.3 580.9 26.1 579.9 26.0 578.6 26.0 577.4 26.1 576.3 26.2 575.0 26.4 573.9 26.6 572.9 26.9 571.9 27.3 571.1 27.7 570.3 28.2 569.6 28.8 568.9 29.5 568.6 30.4 568.6 31.5 569.0 32.4 569.7 33.1 570.6 33.7 571.3 34.1 572.3 34.5 573.3 34.8 574.4 35.1 575.6 35.3 576.7 35.4 577.9 35.5 579.3 35.5 580.3 35.4M628.4 35.1 629.6 34.7 630.4 34.4 631.3 33.9 631.9 33.4 632.6 32.4 632.8 31.4 632.5 30.4 631.9 29.6 631.3 29.0 630.3 28.5 629.4 28.1 628.5 27.7 627.3 27.4 626.3 27.3 624.9 27.2 623.6 27.2 622.6 27.4 621.4 27.7 620.6 28.1 619.6 28.6 618.9 29.2 618.3 30.1 617.9 30.9 617.9 31.8 618.4 32.7 619.0 33.4 619.9 34.0 620.7 34.4 621.6 34.7 622.9 35.1 623.9 35.2 625.3 35.3 626.6 35.3 627.9 35.2M561.6 53.7 562.6 54.0 563.6 54.2 564.9 54.1 565.9 53.8 566.8 53.4 567.6 52.8 568.3 52.2 568.8 51.4 569.3 50.6 569.6 49.7 569.9 48.4 569.8 47.1 569.5 46.1 569.0 45.1 568.5 44.4 567.8 43.7 566.9 43.1 566.1 42.7 564.9 42.4 563.9 42.4 562.9 42.5 561.9 42.8M653.8 61.1 654.9 60.8 655.9 60.6 656.9 60.2 657.8 59.7 658.2 58.7 657.5 58.1 656.6 57.7 655.6 57.3 654.3 57.1 653.3 56.9 651.9 56.8 650.6 56.7 649.6 56.7 648.6 56.8 647.3 56.8 645.9 57.0 644.9 57.2 643.9 57.4 642.8 57.7 641.9 58.2 641.3 59.1 641.9 59.9 642.8 60.4 643.8 60.7 644.9 61.0 645.9 61.2 647.3 61.3 648.6 61.4 649.9 61.4 651.3 61.3 652.6 61.2 653.8 61.1M614.8 71.4 615.9 71.1 616.7 70.7 617.1 69.7 616.3 69.2 615.3 68.8 614.3 68.6 612.9 68.5 611.6 68.5 610.3 68.7 609.3 68.9 608.3 69.3 607.7 70.1 608.3 70.8 609.3 71.2 610.3 71.4 611.6 71.6 612.9 71.6 614.3 71.5M665.9 85.4 665.9 84.9 664.9 84.7 663.6 84.6 662.5 84.7 661.9 85.2 662.9 85.5 664.3 85.6 665.6 85.5M561.6 61.0 562.9 60.9 563.9 60.7 565.2 60.4 566.3 60.1 567.3 59.8 568.3 59.4 569.2 59.1 570.0 58.7 570.9 58.4 571.9 57.9 572.7 57.4 573.6 56.9 574.4 56.4 575.3 55.9 576.1 55.4 576.9 54.9 577.6 54.4 578.6 53.8 579.4 53.4 580.3 52.9 581.3 52.4 581.9 52.1 582.9 51.5 583.6 51.1 584.6 50.5 585.4 50.1 586.3 49.6 587.3 49.1 588.0 48.7 588.9 48.3 589.9 47.8 590.7 47.4 591.6 46.9 592.6 46.4 593.3 46.1 594.3 45.5 595.1 45.1 595.9 44.7 596.9 44.2 597.8 43.7 598.6 43.4 599.6 42.9 600.6 42.5 601.5 42.1 602.3 41.7 603.3 41.4 604.3 41.0 605.3 40.6 606.3 40.2 607.3 39.9 608.3 39.6 609.3 39.3 610.3 39.0 611.3 38.7 612.5 38.4 613.6 38.3 614.9 38.1 615.9 38.0 617.3 38.0 618.6 38.0 619.9 38.1 620.9 38.1 622.3 38.2 623.6 38.3 624.7 38.4 625.9 38.5 627.3 38.5 628.6 38.6 629.9 38.7 630.9 38.8 632.2 39.1 633.3 39.3 634.2 39.7 634.9 40.2 635.6 40.9 636.0 41.7 636.3 42.7 636.6 44.0 636.9 45.0 637.1 46.1 637.3 47.1 637.9 47.9 638.6 48.6 639.3 49.2 640.0 49.7 640.9 50.3 641.6 50.8 642.3 51.4 642.9 52.1 643.0 53.4 642.3 53.9 641.3 54.4 640.4 54.7 639.5 55.1 638.6 55.4 637.6 56.0 636.9 56.4 636.0 57.1 635.4 57.7 635.2 58.7 635.6 59.5 636.3 60.2 637.1 60.7 637.9 61.1 638.9 61.5 639.9 61.8 640.9 62.1 642.3 62.4 643.3 62.5 644.4 62.7 645.6 62.9 646.9 63.0 647.9 63.1 649.3 63.2 650.6 63.3 651.6 63.4 652.9 63.5 654.3 63.6 655.6 63.7 656.6 63.8 657.9 64.0 658.9 64.2 659.9 64.5 660.9 64.9 661.9 65.4 662.7 65.7 663.4 66.4 664.3 67.0 664.9 67.5 665.7 68.1 666.6 68.7 667.3 69.2 668.1 69.7 668.9 70.3 669.6 70.8 670.6 71.4 671.3 71.8 672.1 72.4 672.9 72.9 673.9 73.4 674.6 73.7 675.6 74.2 676.6 74.6 677.6 74.9 678.6 75.3 679.6 75.5M615.0 72.4 616.3 72.2 617.3 72.0 618.3 71.7 619.3 71.2 619.9 70.7 620.3 69.7 619.9 69.1 618.9 68.5 617.9 68.1 616.9 67.8 615.9 67.6 614.6 67.5 613.5 67.4 612.3 67.4 611.3 67.4 609.9 67.5 608.7 67.7 607.6 68.0 606.6 68.3 605.7 68.7 604.9 69.4 604.8 70.4 605.4 71.1 606.3 71.5 607.3 71.9 608.3 72.1 609.6 72.4 610.6 72.5 611.9 72.5 613.3 72.5 614.6 72.4M668.4 87.1 669.6 87.0 670.9 86.9 672.1 86.7 673.3 86.5 674.3 86.4 675.5 86.1 676.5 85.7 677.3 85.2 677.2 84.4 676.3 83.9 675.3 83.6 674.3 83.3 672.9 83.1 671.9 83.0 670.6 82.9 669.3 82.8 667.9 82.8 666.6 82.8 665.3 82.8 663.9 82.9 662.6 83.0 661.6 83.1 660.3 83.2 659.1 83.4 657.9 83.6 656.9 83.9 655.9 84.3 655.3 85.0 655.6 85.6 656.6 86.1 657.6 86.4 658.6 86.6 659.6 86.7 660.9 86.9 662.3 87.0 663.3 87.1 664.6 87.1 665.9 87.1 667.3 87.1 668.4 87.1M561.6 68.2 562.6 67.9 563.6 67.5 564.6 67.2 565.6 66.9 566.6 66.6 567.6 66.2 568.6 65.9 569.6 65.6 570.6 65.1 571.4 64.7 572.3 64.3 573.3 63.9 574.2 63.4 574.9 62.9 575.8 62.4 576.6 62.0 577.6 61.4 578.3 61.0 579.3 60.4 579.9 59.9 580.7 59.4 581.6 58.8 582.3 58.3 583.1 57.7 583.9 57.2 584.6 56.7 585.5 56.1 586.3 55.5 586.9 55.1 587.9 54.4 588.6 53.9 589.3 53.4 590.3 52.8 590.9 52.4 591.9 51.8 592.6 51.4 593.6 50.7 594.3 50.4 595.3 49.8 596.0 49.4 596.9 48.9 597.9 48.4 598.6 48.1 599.6 47.6 600.6 47.1 601.5 46.7 602.3 46.4 603.3 46.0 604.3 45.6 605.3 45.2 606.3 44.8 607.3 44.4 608.3 44.1 609.3 43.8 610.3 43.5 611.3 43.2 612.3 43.0 613.6 42.7 614.6 42.6 615.7 42.4 616.9 42.3 618.3 42.2 619.6 42.3 620.9 42.4 621.9 42.6 622.9 42.9 623.8 43.4 624.6 44.0 625.3 44.7 625.7 45.4 626.0 46.4 626.3 47.7 626.3 48.7 626.2 49.7 626.1 51.1 625.9 52.1 625.7 53.4 625.6 54.4 625.6 55.1 625.3 56.1 625.2 57.4 625.5 58.4 626.1 59.1 626.8 59.7 627.6 60.3 628.5 60.7 629.3 61.1 630.3 61.6 631.3 61.9 632.3 62.3 633.3 62.6 634.3 62.9 635.3 63.2 636.3 63.4 637.5 63.7 638.6 64.0 639.6 64.2 640.6 64.4 641.9 64.7 642.9 64.9 643.9 65.1 645.3 65.4 646.3 65.6 647.3 65.9 648.3 66.2 649.3 66.5 650.3 66.8 651.3 67.3 652.0 67.7 652.9 68.4 653.6 68.9 654.3 69.4 655.0 70.1 655.8 70.7 656.5 71.4 657.2 72.1 657.9 72.7 658.6 73.3 659.3 73.9 659.9 74.6 660.6 75.3 661.3 75.9 661.9 76.5 662.6 77.1 663.3 77.8 663.9 78.5 664.4 79.4 664.0 80.4 663.3 80.7 662.3 81.1 660.9 81.4 659.9 81.6 658.9 81.9 657.9 82.1 656.6 82.4 655.6 82.6 654.6 82.9 653.6 83.3 652.6 83.7 651.9 84.1 651.3 85.1 651.9 85.8 652.9 86.4 653.9 86.7 654.9 87.0 655.9 87.2 656.9 87.4 658.3 87.6 659.3 87.8 660.6 87.9 661.9 88.1 662.9 88.1 664.3 88.2 665.6 88.3 666.9 88.4 667.9 88.4 669.3 88.5 670.6 88.6 671.9 88.6 673.3 88.7 674.6 88.7 675.6 88.8 676.9 88.8 678.3 89.0 679.3 89.1M616.8 73.1 617.9 72.9 618.9 72.7 619.9 72.4 620.9 72.1 621.9 71.6 622.7 71.1 623.3 70.4 623.4 69.1 622.9 68.4 622.0 67.7 621.3 67.4 620.3 67.0 619.2 66.7 617.9 66.5 616.9 66.3 615.6 66.2 614.3 66.1 612.9 66.1 611.6 66.2 610.3 66.3 609.3 66.4 607.9 66.6 606.9 66.8 605.9 67.1 604.9 67.4 603.9 67.8 602.9 68.4 602.3 69.0 601.9 69.7 602.1 70.7 602.9 71.4 603.6 71.8 604.6 72.2 605.6 72.5 606.6 72.8 607.9 73.0 608.9 73.2 610.3 73.3 611.6 73.4 612.9 73.4 614.3 73.3 615.6 73.2 616.8 73.1M679.9 104.3 678.9 104.5 677.9 104.8 676.9 105.1 675.6 105.4 674.6 105.7 673.6 106.0 672.6 106.2 671.6 106.5 670.5 106.7 669.3 107.0 668.3 107.3 667.3 107.5 666.0 107.7 664.9 108.0 663.9 108.2 662.8 108.4 661.6 108.7 660.6 108.9 659.6 109.2 658.5 109.4 657.3 109.7 656.3 109.9 655.2 110.1 653.9 110.3 652.9 110.5 651.6 110.7 650.6 110.9 649.5 111.1M568.3 111.1 567.3 110.9 566.0 110.7 564.9 110.6 563.9 110.4 562.6 110.2 561.6 110.0M561.6 75.7 562.3 75.4 563.3 74.9 564.2 74.4 564.9 74.0 565.9 73.4 566.6 73.0 567.6 72.5 568.4 72.1 569.3 71.7 570.3 71.2 571.1 70.7 571.9 70.3 572.9 69.8 573.6 69.4 574.6 68.8 575.3 68.4 576.3 67.9 577.2 67.4 577.9 67.0 578.9 66.4 579.6 66.0 580.5 65.4 581.3 64.9 581.9 64.4 582.7 63.7 583.5 63.1 584.3 62.4 584.9 61.8 585.6 61.2 586.3 60.6 586.9 60.1 587.7 59.4 588.4 58.7 589.2 58.1 589.9 57.5 590.6 57.0 591.3 56.4 592.1 55.7 592.9 55.1 593.6 54.7 594.5 54.1 595.3 53.5 596.0 53.1 596.9 52.5 597.6 52.1 598.6 51.5 599.4 51.1 600.3 50.6 601.3 50.1 602.1 49.7 602.9 49.4 603.9 49.0 604.9 48.6 605.9 48.2 606.9 47.9 607.9 47.6 608.9 47.4 610.3 47.1 611.3 47.0 612.6 46.8 613.9 46.8 615.3 46.9 616.3 47.2 617.3 47.6 617.9 48.2 618.5 49.1 618.7 50.1 618.6 51.3 618.3 52.4 618.0 53.4 617.6 54.1 617.1 55.1 616.6 55.8 615.9 56.7 615.5 57.4 614.9 58.3 614.4 59.1 613.9 59.8 613.4 60.7 613.0 61.7 612.6 62.5 611.6 63.0 610.9 63.4 609.9 63.8 608.9 64.2 607.9 64.5 606.9 64.8 605.9 65.1 604.9 65.5 603.9 65.8 602.9 66.2 601.9 66.6 600.9 67.0 600.3 67.4 599.4 68.1 598.7 68.7 598.4 69.7 598.7 70.7 599.4 71.4 600.3 72.0 601.0 72.4 601.9 72.8 602.9 73.1 604.1 73.4 605.3 73.6 606.3 73.8 607.6 74.0 608.6 74.1 609.9 74.2 611.3 74.3 612.6 74.3 613.9 74.3 615.3 74.2 616.6 74.1 617.6 74.0 618.9 73.8 619.9 73.6 621.0 73.4 622.3 73.1 623.3 72.8 624.3 72.5 625.3 72.1 626.0 71.7 626.9 71.2 627.6 70.7 628.4 70.1 629.1 69.4 629.7 68.7 630.6 68.2 631.6 67.9 632.9 67.8 634.3 67.8 635.6 67.9 636.6 68.2 637.6 68.5 638.6 68.9 639.6 69.3 640.6 69.7 641.4 70.1 642.3 70.5 643.3 71.0 644.0 71.4 644.9 72.0 645.6 72.4 646.5 73.1 647.3 73.6 647.9 74.1 648.7 74.7 649.5 75.4 650.3 76.1 650.9 76.7 651.6 77.4 652.3 78.0 652.9 78.5 653.6 79.4 653.1 80.4 652.5 81.1 651.6 81.6 650.7 82.1 649.9 82.4 648.9 83.0 648.3 83.4 647.6 84.1 647.5 85.4 648.3 86.1 648.9 86.5 649.9 86.9 650.9 87.3 651.9 87.6 652.9 87.8 654.0 88.1 655.3 88.3 656.3 88.5 657.6 88.7 658.6 88.9 659.7 89.1 660.9 89.3 661.9 89.4 663.3 89.7 664.3 89.8 665.6 90.1 666.6 90.3 667.6 90.5 668.8 90.7 669.9 91.0 670.9 91.3 671.9 91.6 672.9 92.0 673.9 92.4 674.9 92.7 675.9 93.1 676.7 93.4 677.6 93.8 678.6 94.2 679.6 94.7M679.9 98.6 679.2 99.1 678.3 99.5 677.3 100.0 676.3 100.3 675.3 100.7 674.3 101.0 673.3 101.3 672.3 101.6 671.3 101.9 670.3 102.1 669.3 102.4 668.0 102.7 666.9 103.0 665.9 103.2 664.9 103.4 663.7 103.7 662.6 104.0 661.6 104.2 660.6 104.4 659.3 104.7 658.3 104.9 657.2 105.1 655.9 105.3 654.9 105.5 653.8 105.7 652.6 106.0 651.6 106.1 650.3 106.3 649.3 106.5 648.0 106.7 646.9 106.9 645.9 107.1 644.6 107.2 643.4 107.4 642.3 107.5 640.9 107.7 639.9 107.8 638.6 108.0 637.6 108.1 636.3 108.2 634.9 108.3 633.9 108.4 632.6 108.5 631.3 108.6 629.9 108.7 628.9 108.8 627.6 108.9 626.3 109.0 624.9 109.0 623.9 109.1 622.6 109.2 621.3 109.2 619.9 109.3 618.6 109.3 617.3 109.4 616.3 109.4 614.9 109.4 613.6 109.5 612.3 109.5 610.9 109.5 609.6 109.5 608.3 109.5 606.9 109.5 605.6 109.5 604.3 109.5 602.9 109.4 601.6 109.4 600.6 109.4 599.3 109.3 597.9 109.3 596.6 109.2 595.3 109.2 593.9 109.1 592.9 109.1 591.6 109.0 590.3 108.9 588.9 108.8 587.7 108.7 586.6 108.7 585.3 108.6 583.9 108.4 582.9 108.4 581.6 108.2 580.3 108.1 579.3 108.0 577.9 107.9 576.9 107.7 575.6 107.6 574.3 107.4 573.3 107.3 571.9 107.1 570.9 107.0 569.6 106.8 568.6 106.7 567.3 106.5 566.3 106.3 564.9 106.1 563.9 106.0 562.6 105.8 561.6 105.6M595.9 64.1 594.9 64.0 594.0 63.4 593.9 62.4 594.0 61.4 594.5 60.4 595.0 59.7 595.6 58.9 596.2 58.1 596.9 57.4 597.6 56.9 598.3 56.3 599.0 55.7 599.9 55.1 600.6 54.6 601.6 54.1 602.3 53.7 603.3 53.2 604.3 52.9 605.3 52.6 606.3 52.4 607.6 52.2 608.9 52.3 609.6 52.9 609.8 54.1 609.5 55.1 608.9 55.8 608.3 56.5 607.6 57.3 606.9 57.9 606.3 58.5 605.6 59.1 604.8 59.7 603.9 60.3 603.3 60.8 602.3 61.4 601.6 61.7 600.6 62.3 599.9 62.7 598.9 63.2 597.9 63.6 596.9 63.9 595.9 64.1M561.6 87.1 562.3 86.7 563.3 86.1 564.0 85.7 564.9 85.2 565.8 84.7 566.6 84.1 567.3 83.6 567.9 82.8 568.5 82.1 569.1 81.4 569.9 80.7 570.6 80.2 571.3 79.7 572.0 79.1 572.8 78.4 573.6 77.8 574.3 77.4 575.3 76.8 576.2 76.4 576.9 75.9 577.6 75.4 578.6 74.8 579.3 74.4 580.3 73.9 581.3 73.4 582.0 73.1 582.9 72.4 583.6 72.0 584.6 71.5 585.4 71.1 586.3 70.6 587.3 70.1 588.0 69.7 589.3 69.7 589.9 70.2 590.6 70.8 591.6 71.3 592.4 71.7 593.3 72.2 594.3 72.5 595.3 72.9 596.3 73.3 597.3 73.6 598.3 73.8 599.3 74.1 600.6 74.4 601.6 74.5 602.7 74.7 603.9 74.9 604.9 75.1 606.3 75.2 607.6 75.3 608.8 75.4 609.9 75.4 611.3 75.5 612.6 75.5 613.9 75.5 615.3 75.5 616.6 75.4 617.6 75.4 618.9 75.3 620.3 75.2 621.3 75.1 622.6 74.9 623.9 74.7 624.9 74.6 626.3 74.5 627.3 74.4 628.6 74.3 629.9 74.3 631.3 74.2 632.6 74.3 633.6 74.7 634.5 75.1 635.3 75.5 636.3 76.0 637.1 76.4 637.9 76.9 638.9 77.4 639.6 77.8 640.4 78.4 641.1 79.1 641.9 79.7 642.6 80.2 643.0 81.1 642.7 82.1 642.4 83.1 642.2 84.1 642.4 85.1 643.0 85.7 643.9 86.4 644.6 86.8 645.6 87.2 646.6 87.6 647.6 88.0 648.6 88.3 649.6 88.6 650.6 88.9 651.6 89.1 652.8 89.4 653.9 89.7 654.9 89.9 655.9 90.2 656.9 90.5 657.9 90.7 659.2 91.1 660.3 91.3 661.3 91.7 662.3 92.1 663.1 92.4 663.9 92.8 664.9 93.2 665.9 93.6 666.9 94.1 667.6 94.5 668.5 95.1 669.1 95.7 669.6 96.7 669.4 97.4 668.9 98.1 667.9 98.7 667.3 99.1 666.3 99.5 665.3 99.9 664.3 100.2 663.3 100.6 662.3 100.9 661.3 101.1 660.3 101.4 658.9 101.7 657.9 102.0 656.9 102.2 655.9 102.4 654.6 102.6 653.6 102.8 652.3 103.1 651.3 103.3 650.3 103.4 648.9 103.7 647.9 103.8 646.6 104.0 645.6 104.2 644.3 104.4 643.3 104.5 641.9 104.7 640.9 104.8 639.6 104.9 638.5 105.1 637.3 105.2 635.9 105.3 634.9 105.4 633.6 105.6 632.3 105.7 631.3 105.7 629.9 105.9 628.6 106.0 627.3 106.0 626.3 106.1 624.9 106.2 623.6 106.3 622.3 106.3 621.1 106.4 619.9 106.4 618.6 106.5 617.3 106.5 615.9 106.6 614.6 106.6 613.3 106.6 611.9 106.7 610.6 106.7 609.3 106.7 607.9 106.7 606.6 106.7 605.3 106.7 603.9 106.6 602.6 106.6 601.3 106.6 599.9 106.5 598.6 106.5 597.3 106.4 596.2 106.4 594.9 106.3 593.6 106.3 592.3 106.2 590.9 106.1 589.9 106.0 588.6 106.0 587.3 105.9 585.9 105.8 584.9 105.7 583.6 105.6 582.3 105.4 581.3 105.4 579.9 105.2 578.6 105.1 577.6 105.0 576.3 104.8 575.3 104.7 573.9 104.6 572.6 104.4 571.6 104.3 570.3 104.1 569.3 104.0 567.9 103.8 566.9 103.6 565.6 103.4 564.6 103.3 563.3 103.1 562.3 102.9M561.6 91.6 562.6 91.3 563.6 91.0 564.7 90.7 565.9 90.4 566.9 90.1 567.9 89.8 568.9 89.5 569.9 89.2 570.9 88.9 571.9 88.6 572.9 88.3 573.9 88.0 574.9 87.6 575.9 87.2 576.9 86.9 577.9 86.4 578.8 86.1 579.6 85.7 580.6 85.4 581.6 85.0 582.6 84.6 583.6 84.1 584.3 83.6 585.3 83.1 586.1 82.7 586.9 82.4 587.9 82.0 588.9 81.6 589.9 81.2 590.9 80.9 591.9 80.6 592.9 80.3 593.9 80.0 595.0 79.7 596.1 79.4 597.3 79.1 598.3 78.9 599.6 78.8 600.6 78.7 601.9 78.6 603.3 78.4 604.3 78.3 605.6 78.2 606.9 78.2 608.3 78.1 609.6 78.1 610.9 78.2 612.3 78.2 613.6 78.2 614.9 78.3 616.3 78.4 617.3 78.5 618.3 78.7 619.6 79.0 620.6 79.2 621.6 79.5 622.7 79.7 623.9 80.0 624.9 80.4 625.6 80.7 626.6 81.2 627.6 81.6 628.6 82.0 629.6 82.4 630.3 82.7 631.3 83.3 631.9 83.7 632.9 84.4 633.6 84.7 634.6 85.3 635.3 85.8 636.3 86.4 636.9 86.8 637.9 87.3 638.9 87.7 639.9 88.1 640.9 88.4 641.9 88.7 642.9 89.1 643.9 89.4 644.9 89.6 645.9 89.9 646.9 90.2 647.9 90.4 649.0 90.7 650.0 91.1 651.0 91.4 651.9 91.8 652.9 92.1 653.9 92.4 654.9 92.8 655.9 93.2 656.9 93.6 657.8 94.1 658.6 94.5 659.6 95.1 660.3 95.7 660.5 96.7 659.9 97.7 659.3 98.2 658.4 98.7 657.6 99.1 656.6 99.4 655.6 99.7 654.4 100.1 653.3 100.4 652.3 100.6 651.3 100.8 650.1 101.1 648.9 101.3 647.9 101.5 646.6 101.7 645.6 101.9 644.5 102.1 643.3 102.3 642.3 102.4 640.9 102.6 639.6 102.7 638.6 102.9 637.3 103.0 636.3 103.1 634.9 103.2 633.6 103.4 632.6 103.5 631.3 103.6 629.9 103.7 628.9 103.7 627.6 103.8 626.3 103.9 624.9 104.0 623.9 104.1 622.6 104.1 621.3 104.2 619.9 104.3 618.6 104.3 617.3 104.4 615.9 104.4 614.9 104.4 613.6 104.5 612.3 104.5 610.9 104.5 609.6 104.5 608.3 104.5 606.9 104.5 605.6 104.5 604.3 104.5 602.9 104.4 601.6 104.4 600.6 104.4 599.3 104.4 597.9 104.3 596.6 104.3 595.3 104.2 593.9 104.1 592.8 104.1 591.6 104.0 590.3 103.9 588.9 103.8 587.6 103.7 586.6 103.7 585.3 103.6 583.9 103.5 582.9 103.4 581.6 103.2 580.3 103.1 579.3 103.0 577.9 102.9 576.7 102.7 575.6 102.6 574.3 102.4 573.3 102.3 571.9 102.1 570.9 102.0 569.6 101.8 568.6 101.7 567.3 101.5 566.3 101.3 564.9 101.1 563.9 100.9 562.9 100.7 561.6 100.5M561.6 95.8 562.3 95.2 563.0 94.7 563.9 94.3 564.9 93.9 565.9 93.6 566.9 93.3 567.9 93.0 568.9 92.7 570.1 92.4 571.3 92.1 572.3 91.9 573.3 91.7 574.6 91.4 575.6 91.2 576.6 91.0 577.7 90.7 578.9 90.5 579.9 90.3 581.0 90.1 582.3 89.8 583.3 89.7 584.6 89.4 585.6 89.2 586.6 89.0 587.9 88.8 588.9 88.6 590.2 88.4 591.3 88.2 592.3 88.0 593.6 87.8 594.6 87.7 595.9 87.5 596.9 87.3 598.3 87.1 599.3 87.0 600.6 86.8 601.9 86.7 602.9 86.6 604.3 86.6 605.6 86.5 606.9 86.5 608.3 86.5 609.6 86.5 610.9 86.5 612.3 86.6 613.6 86.7 614.6 86.8 615.9 86.9 617.3 87.1 618.3 87.2 619.6 87.4 620.6 87.5 621.9 87.7 622.9 87.9 624.1 88.1 625.3 88.3 626.3 88.5 627.6 88.7 628.6 88.9 629.6 89.1 630.9 89.3 631.9 89.5 633.0 89.7 634.3 90.0 635.3 90.2 636.4 90.4 637.6 90.7 638.6 91.0 639.6 91.2 640.6 91.5 641.8 91.7 642.9 92.0 643.9 92.3 644.9 92.6 645.9 92.9 646.9 93.2 647.9 93.6 648.9 94.0 649.9 94.4 650.6 94.8 651.5 95.4 652.0 96.1 651.9 97.1 651.2 97.7 650.3 98.2 649.3 98.6 648.3 99.0 647.3 99.3 646.3 99.5 645.3 99.8 644.0 100.1 642.9 100.3 641.9 100.5 640.6 100.7 639.6 100.8 638.3 101.0 637.3 101.1 635.9 101.3 634.7 101.4 633.6 101.5 632.3 101.6 631.3 101.7 629.9 101.9 628.6 102.0 627.3 102.1 626.3 102.1 624.9 102.2 623.6 102.3 622.3 102.4 621.3 102.4 619.9 102.5 618.6 102.6 617.3 102.6 615.9 102.6 614.6 102.7 613.3 102.7 611.9 102.7 610.9 102.7 609.6 102.8 608.3 102.8 606.9 102.8 605.6 102.7 604.6 102.7 603.3 102.7 601.9 102.7 600.6 102.7 599.3 102.6 597.9 102.6 596.6 102.5 595.3 102.5 594.2 102.4 592.9 102.3 591.6 102.3 590.3 102.2 588.9 102.1 587.9 102.0 586.6 101.9 585.3 101.8 584.3 101.7 582.9 101.6 581.6 101.5 580.6 101.4 579.3 101.2 578.0 101.1 576.9 100.9 575.6 100.8 574.6 100.6 573.3 100.4 572.3 100.3 571.2 100.1 569.9 99.8 568.9 99.6 567.8 99.4 566.6 99.1 565.6 98.8 564.6 98.5 563.6 98.2 562.7 97.7 561.9 97.3M615.6 101.1 614.3 101.1 612.9 101.1 611.6 101.2 610.3 101.2 608.9 101.2 607.6 101.2 606.3 101.2 604.9 101.2 603.6 101.2 602.3 101.1 600.9 101.1 599.7 101.1 598.6 101.0 597.3 101.0 595.9 100.9 594.6 100.9 593.3 100.8 592.3 100.7 590.9 100.6 589.6 100.5 588.3 100.4 587.3 100.3 585.9 100.2 584.9 100.1 583.6 99.9 582.3 99.7 581.3 99.6 579.9 99.4 578.9 99.2 577.9 99.1 576.6 98.8 575.6 98.6 574.6 98.3 573.6 98.0 572.6 97.7 571.6 97.1 571.2 96.4 571.6 95.5 572.3 95.1 573.3 94.7 574.3 94.3 575.3 94.0 576.4 93.7 577.6 93.4 578.6 93.2 579.6 93.0 580.9 92.7 581.9 92.6 583.0 92.4 584.3 92.2 585.3 92.1 586.6 91.9 587.6 91.7 588.9 91.5 590.0 91.4 591.3 91.3 592.6 91.1 593.6 91.0 594.9 90.9 596.3 90.8 597.3 90.7 598.6 90.6 599.9 90.6 601.3 90.5 602.6 90.4 603.6 90.4 604.9 90.4 606.3 90.3 607.6 90.3 608.9 90.3 610.3 90.3 611.6 90.4 612.7 90.4 613.9 90.4 615.3 90.5 616.6 90.6 617.9 90.7 618.9 90.8 620.3 90.9 621.6 91.0 622.6 91.1 623.9 91.2 625.3 91.4 626.3 91.5 627.6 91.7 628.6 91.8 629.9 92.0 630.9 92.2 632.3 92.4 633.3 92.6 634.3 92.7 635.6 93.0 636.6 93.2 637.6 93.5 638.6 93.8 639.6 94.1 640.6 94.4 641.6 94.8 642.6 95.4 643.1 96.1 642.9 97.1 642.0 97.7 641.2 98.1 640.2 98.4 638.9 98.7 637.9 98.9 636.9 99.1 635.6 99.4 634.6 99.5 633.3 99.7 632.3 99.9 630.9 100.0 629.9 100.1 628.6 100.3 627.5 100.4 626.3 100.5 624.9 100.6 623.6 100.7 622.6 100.8 621.3 100.8 619.9 100.9 618.6 101.0 617.3 101.0 615.9 101.1M616.6 99.4 615.3 99.5 613.9 99.5 612.6 99.6 611.3 99.6 609.9 99.6 608.6 99.6 607.3 99.6 605.9 99.6 604.6 99.6 603.3 99.6 601.9 99.5 600.6 99.5 599.3 99.4 598.3 99.4 596.9 99.3 595.6 99.2 594.3 99.1 593.3 99.0 591.9 98.9 590.7 98.7 589.6 98.6 588.3 98.4 587.3 98.3 586.1 98.1 584.9 97.8 583.9 97.5 583.0 97.1 582.3 96.4 582.9 95.6 583.9 95.2 584.9 94.9 585.9 94.6 586.9 94.3 588.1 94.1 589.3 93.9 590.4 93.7 591.6 93.6 592.9 93.4 593.9 93.3 595.3 93.2 596.6 93.1 597.6 93.0 598.9 92.9 600.3 92.9 601.6 92.8 602.9 92.7 603.9 92.7 605.3 92.7 606.6 92.7 607.9 92.7 609.3 92.7 610.6 92.7 611.7 92.7 612.9 92.8 614.3 92.8 615.6 92.9 616.9 93.0 618.1 93.1 619.3 93.2 620.6 93.3 621.7 93.4 622.9 93.5 624.3 93.7 625.3 93.9 626.6 94.1 627.6 94.3 628.6 94.5 629.6 94.7 630.7 95.1 631.6 95.4 632.5 96.1 632.4 96.7 631.6 97.2 630.6 97.6 629.6 97.8 628.6 98.1 627.3 98.3 626.3 98.5 624.9 98.7 623.9 98.8 622.6 98.9 621.3 99.1 620.3 99.1 618.9 99.3 617.6 99.3 616.6 99.4" fill="none" stroke="#303030" stroke-opacity="0.6" stroke-width="0.7"/>
</g>
<rect x="561.6" y="7.4" width="118.5" height="103.8" fill="none" stroke="#1a1a1a" stroke-width="0.9"/>
<line x1="561.6" y1="7.4" x2="561.6" y2="111.7" stroke="#111" stroke-width="1.1"/>
<line x1="561.1" y1="111.2" x2="680.1" y2="111.2" stroke="#111" stroke-width="1.1"/>
<line x1="561.6" y1="111.2" x2="559.2" y2="111.2" stroke="#111" stroke-width="0.9"/>
<text x="559" y="114.1" font-size="8.6" text-anchor="end" font-weight="bold" fill="#111">1</text>
<line x1="561.6" y1="85.25" x2="559.2" y2="85.25" stroke="#111" stroke-width="0.9"/>
<text x="559" y="88.15" font-size="8.6" text-anchor="end" font-weight="bold" fill="#111">2</text>
<line x1="561.6" y1="59.3" x2="559.2" y2="59.3" stroke="#111" stroke-width="0.9"/>
<text x="559" y="62.2" font-size="8.6" text-anchor="end" font-weight="bold" fill="#111">3</text>
<line x1="561.6" y1="33.35" x2="559.2" y2="33.35" stroke="#111" stroke-width="0.9"/>
<text x="559" y="36.25" font-size="8.6" text-anchor="end" font-weight="bold" fill="#111">4</text>
<line x1="561.6" y1="7.4" x2="559.2" y2="7.4" stroke="#111" stroke-width="0.9"/>
<text x="559" y="10.3" font-size="8.6" text-anchor="end" font-weight="bold" fill="#111">5</text>
<line x1="561.6" y1="98.23" x2="560.3" y2="98.23" stroke="#111" stroke-width="0.8"/>
<line x1="561.6" y1="72.28" x2="560.3" y2="72.28" stroke="#111" stroke-width="0.8"/>
<line x1="561.6" y1="46.33" x2="560.3" y2="46.33" stroke="#111" stroke-width="0.8"/>
<line x1="561.6" y1="20.38" x2="560.3" y2="20.38" stroke="#111" stroke-width="0.8"/>
<line x1="561.6" y1="111.2" x2="561.6" y2="113.6" stroke="#111" stroke-width="0.9"/>
<text x="561.6" y="121.8" font-size="8.6" text-anchor="middle" font-weight="bold" fill="#111">0</text>
<line x1="581.35" y1="111.2" x2="581.35" y2="113.6" stroke="#111" stroke-width="0.9"/>
<text x="581.35" y="121.8" font-size="8.6" text-anchor="middle" font-weight="bold" fill="#111">2</text>
<line x1="601.1" y1="111.2" x2="601.1" y2="113.6" stroke="#111" stroke-width="0.9"/>
<text x="601.1" y="121.8" font-size="8.6" text-anchor="middle" font-weight="bold" fill="#111">4</text>
<line x1="620.85" y1="111.2" x2="620.85" y2="113.6" stroke="#111" stroke-width="0.9"/>
<text x="620.85" y="121.8" font-size="8.6" text-anchor="middle" font-weight="bold" fill="#111">6</text>
<line x1="640.6" y1="111.2" x2="640.6" y2="113.6" stroke="#111" stroke-width="0.9"/>
<text x="640.6" y="121.8" font-size="8.6" text-anchor="middle" font-weight="bold" fill="#111">8</text>
<line x1="660.35" y1="111.2" x2="660.35" y2="113.6" stroke="#111" stroke-width="0.9"/>
<text x="660.35" y="121.8" font-size="8.6" text-anchor="middle" font-weight="bold" fill="#111">10</text>
<line x1="680.1" y1="111.2" x2="680.1" y2="113.6" stroke="#111" stroke-width="0.9"/>
<text x="680.1" y="121.8" font-size="8.6" text-anchor="middle" font-weight="bold" fill="#111">12</text>
<line x1="571.48" y1="111.2" x2="571.48" y2="112.5" stroke="#111" stroke-width="0.8"/>
<line x1="591.23" y1="111.2" x2="591.23" y2="112.5" stroke="#111" stroke-width="0.8"/>
<line x1="610.98" y1="111.2" x2="610.98" y2="112.5" stroke="#111" stroke-width="0.8"/>
<line x1="630.73" y1="111.2" x2="630.73" y2="112.5" stroke="#111" stroke-width="0.8"/>
<line x1="650.48" y1="111.2" x2="650.48" y2="112.5" stroke="#111" stroke-width="0.8"/>
<line x1="670.23" y1="111.2" x2="670.23" y2="112.5" stroke="#111" stroke-width="0.8"/>
<text x="620.85" y="132.4" font-size="8.8" text-anchor="middle" font-weight="bold" fill="#111">k (Å<tspan font-size="5.5" dy="-3">-1</tspan><tspan dy="3">)</tspan></text>
<text x="549.5" y="59.3" font-size="8.8" text-anchor="middle" font-weight="bold" fill="#111" transform="rotate(-90 549.5 59.3)">R+α (Å)</text>
<text x="565.9" y="20.4" font-size="10.8" text-anchor="start" font-weight="bold" fill="#f4f4f4">Zn/Pt SATs</text>
<g clip-path="url(#cpd3)"><g filter="url(#cm)">
<rect x="405.6" y="135.1" width="121.6" height="107.5" fill="rgb(33,33,33)"/>
<g style="isolation:isolate">
<ellipse cx="466.4" cy="191.18" rx="111.72" ry="11.64" fill="url(#gw)" fill-opacity="0.3" style="mix-blend-mode:plus-lighter"/>
<ellipse cx="466.4" cy="191.18" rx="126.42" ry="32.6" fill="url(#gw)" fill-opacity="0.7" style="mix-blend-mode:plus-lighter"/>
<ellipse cx="454.64" cy="227.14" rx="147" ry="23.29" fill="url(#gw)" fill-opacity="0.62" style="mix-blend-mode:plus-lighter"/>
<ellipse cx="459.54" cy="160.39" rx="88.2" ry="24.84" fill="url(#gw)" fill-opacity="0.4" style="mix-blend-mode:plus-lighter"/>
</g>
<ellipse cx="445.82" cy="142.79" rx="16.17" ry="9.31" fill="url(#gb)" fill-opacity="0.8"/>
<ellipse cx="480.12" cy="143.83" rx="16.17" ry="9.31" fill="url(#gb)" fill-opacity="0.8"/>
<ellipse cx="417.4" cy="171.77" rx="20.58" ry="9.31" fill="url(#gb)" fill-opacity="0.8"/>
<ellipse cx="466.4" cy="174.88" rx="20.58" ry="7.76" fill="url(#gb)" fill-opacity="0.8"/>
<ellipse cx="490.9" cy="174.88" rx="20.58" ry="7.76" fill="url(#gb)" fill-opacity="0.8"/>
<ellipse cx="437.98" cy="203.6" rx="26.46" ry="7.76" fill="url(#gb)" fill-opacity="0.75"/>
<ellipse cx="497.76" cy="206.96" rx="26.46" ry="7.76" fill="url(#gb)" fill-opacity="0.75"/>
<ellipse cx="473.26" cy="214.72" rx="26.46" ry="6.21" fill="url(#gb)" fill-opacity="0.69"/>
<ellipse cx="520.3" cy="162.97" rx="23.52" ry="77.62" fill="url(#gb)" fill-opacity="0.52"/>
</g>
<path d="M513.9 137.1 513.5 138.1 513.2 139.1 512.9 140.1 512.9 141.2 513.3 142.4 513.5 143.4 513.7 144.4 513.8 145.8 514.0 146.8 514.3 147.8 514.6 149.1 514.8 150.1 515.1 151.1 515.3 152.1 515.6 153.2 515.8 154.4 516.0 155.4 516.1 156.8 516.2 158.1 516.3 159.4 516.2 160.8 516.3 161.8 516.6 162.9 516.8 164.1 517.0 165.1 517.3 166.4 517.4 167.4 517.9 168.4 518.3 169.2 518.9 170.0 519.6 170.6 520.6 171.0 521.9 170.8 522.6 170.4 523.4 169.8 523.9 169.1 524.5 168.1 524.9 167.1M446.9 145.8 447.9 145.6 448.9 145.3 449.9 144.9 450.7 144.4 451.5 143.8 452.0 143.1 452.3 142.1 452.1 141.1 451.6 140.3 450.9 139.7 449.9 139.1 449.0 138.8 447.9 138.5 446.9 138.3 445.6 138.3 444.3 138.3 443.3 138.5 442.3 138.8 441.3 139.2 440.3 139.8 439.6 140.3 439.1 141.1 438.9 142.1 439.2 143.1 439.7 143.8 440.4 144.4 441.3 144.9 442.3 145.3 443.3 145.6 444.3 145.8 445.6 145.8 446.9 145.8M481.2 146.8 482.3 146.6 483.3 146.4 484.3 146.0 485.3 145.4 485.9 144.8 486.4 144.1 486.7 143.1 486.4 142.1 485.9 141.4 485.2 140.8 484.3 140.2 483.3 139.9 482.3 139.6 481.0 139.4 479.9 139.4 478.9 139.5 477.6 139.7 476.6 140.0 475.6 140.4 474.9 140.8 474.3 141.5 473.7 142.4 473.8 143.8 474.3 144.6 474.9 145.2 475.7 145.8 476.6 146.2 477.6 146.5 478.9 146.7 479.9 146.8 481.2 146.8M419.5 173.8 420.5 173.4 421.3 173.1 422.0 172.4 422.1 171.1 421.5 170.4 420.6 169.9 419.6 169.6 418.6 169.4 417.3 169.3 415.9 169.3 414.7 169.4 413.6 169.7 412.6 170.1 411.9 170.5 411.3 171.4 411.7 172.4 412.5 173.1 413.3 173.5 414.3 173.8 415.6 174.0 416.9 174.1 418.3 174.0 419.5 173.8M493.0 175.8 493.9 175.3 494.3 174.4 493.6 173.9 492.6 173.6 491.6 173.4 490.3 173.4 489.3 173.6 488.3 173.9 487.5 174.4 487.9 175.3 488.9 175.8 489.9 175.9 491.3 176.0 492.6 175.8M467.9 175.4 468.6 175.0 468.3 174.3 467.3 173.9 465.9 173.9 464.6 174.1 463.9 174.6 464.3 175.2 465.3 175.6 466.6 175.6 467.9 175.4M438.5 203.8 438.4 203.4 438.3 203.4 437.9 203.3 437.6 203.4 437.3 203.4 437.0 203.4 436.9 203.5 436.6 203.8 436.9 203.9 437.3 203.9 437.6 204.0 437.9 203.9 438.3 203.8 438.5 203.8M499.8 208.1 500.9 207.9 501.9 207.4 501.9 206.7 500.9 206.2 499.9 206.0 498.6 205.9 497.3 205.9 495.9 206.0 494.9 206.3 494.0 206.8 494.6 207.7 495.6 208.0 496.6 208.2 497.9 208.2 499.3 208.2M407.6 157.7 408.3 156.8 408.9 156.1 409.6 155.5 410.3 155.0 411.1 154.4 411.9 153.9 412.8 153.4 413.6 153.0 414.6 152.5 415.6 152.1 416.4 151.8 417.3 151.4 418.3 151.1 419.3 150.7 420.3 150.4 421.3 150.1 422.4 149.8 423.6 149.5 424.6 149.2 425.6 149.0 426.6 148.7 427.9 148.4 428.9 148.2 429.9 148.0 431.3 147.8 432.3 147.7 433.6 147.7 434.9 147.7 436.3 147.8 437.3 147.8 438.6 147.9 439.9 148.1 440.9 148.2 442.3 148.3 443.6 148.3 444.9 148.4 446.3 148.3 447.6 148.2 448.6 148.1 449.9 147.9 450.9 147.7 452.1 147.4 453.3 147.1 454.3 146.9 455.3 146.6 456.3 146.3 457.5 146.1 458.6 145.9 459.6 145.8 460.9 145.5 462.3 145.5 463.6 145.5 464.9 145.7 465.9 145.9 466.9 146.1 468.2 146.4 469.3 146.7 470.3 147.1 471.3 147.4 472.3 147.8 473.3 148.1 474.3 148.4 475.3 148.6 476.3 148.8 477.6 149.0 478.6 149.2 479.9 149.3 481.3 149.3 482.6 149.3 483.9 149.3 485.3 149.2 486.3 149.1 487.6 149.0 488.9 148.9 490.3 148.9 491.6 149.0 492.9 149.0 493.9 149.1 495.2 149.4 496.3 149.7 497.3 150.1 498.1 150.4 498.9 150.8 499.9 151.3 500.9 151.8 501.6 152.2 502.5 152.8 503.3 153.4 503.9 154.0 504.6 154.7 505.1 155.4 505.6 156.3 506.0 157.1 506.3 158.1 506.5 159.4 506.7 160.4 507.0 161.4 507.2 162.8 507.2 164.1 507.1 165.4 507.2 166.8 507.3 167.8 507.3 169.1 507.7 170.1 508.1 171.1 508.4 172.1 508.9 172.9 509.6 173.6 510.3 174.3 510.9 175.0 511.6 175.7 512.2 176.4 512.9 177.1 513.6 177.8 514.2 178.4 514.8 179.1 515.5 179.8 516.3 180.4 516.9 180.9 517.9 181.4 518.8 181.8 519.8 182.1 520.9 182.3 522.3 182.4 523.6 182.2 524.6 182.0M407.6 175.8 408.9 175.9 410.3 176.1 411.3 176.2 412.6 176.3 413.9 176.4 415.3 176.4 416.6 176.4 417.9 176.3 419.3 176.1 420.3 176.0 421.3 175.8 422.4 175.4 423.4 175.1 424.3 174.7 425.3 174.2 425.9 173.7 426.6 172.9 427.0 172.1 426.9 171.0 426.4 170.1 425.8 169.4 424.9 168.8 424.2 168.4 423.3 168.0 422.3 167.6 421.3 167.3 420.3 167.1 419.0 166.8 417.9 166.6 416.7 166.4 415.6 166.3 414.3 166.2 413.3 166.1 411.9 165.9 410.6 165.8 409.6 165.7 408.5 165.4 407.6 164.9M495.0 177.1 496.3 176.8 497.3 176.5 498.2 176.1 498.9 175.7 499.6 175.1 500.1 174.1 499.6 173.3 498.8 172.8 497.9 172.4 496.9 172.1 495.6 171.8 494.6 171.7 493.3 171.5 491.9 171.5 490.6 171.5 489.3 171.7 488.3 171.8 486.9 172.1 485.9 172.4 484.9 172.7 484.2 173.1 483.4 173.8 483.1 174.8 483.6 175.5 484.5 176.1 485.3 176.5 486.3 176.8 487.6 177.1 488.6 177.3 489.9 177.4 491.3 177.4 492.6 177.4 493.9 177.3 495.0 177.1M469.6 176.8 470.9 176.4 471.8 176.1 472.6 175.6 473.3 174.9 473.2 174.1 472.4 173.4 471.6 173.1 470.6 172.7 469.3 172.4 468.3 172.3 466.9 172.2 465.6 172.2 464.3 172.3 463.3 172.5 462.1 172.8 461.2 173.1 460.3 173.6 459.6 174.4 460.0 175.4 460.9 176.1 461.8 176.4 462.9 176.8 463.9 176.9 465.3 177.1 466.6 177.1 467.9 177.0 469.3 176.8M438.7 206.4 439.9 206.3 441.3 206.1 442.3 205.9 443.3 205.7 444.3 205.3 445.1 204.8 445.6 204.1 445.3 203.2 444.6 202.7 443.6 202.3 442.6 202.0 441.3 201.8 440.3 201.6 438.9 201.5 437.6 201.5 436.3 201.5 434.9 201.5 433.6 201.7 432.6 201.8 431.3 202.1 430.3 202.4 429.4 202.8 428.6 203.3 428.0 204.1 428.6 204.9 429.6 205.4 430.6 205.8 431.6 206.0 432.6 206.2 433.9 206.4 434.9 206.4 436.3 206.5 437.6 206.5 438.7 206.4M524.9 205.7 523.9 205.8 522.6 205.8 521.3 205.9 519.9 206.0 518.9 206.1 517.6 206.4 516.6 206.6 515.3 206.6 514.3 206.4 512.9 206.1 511.9 205.9 510.9 205.7 509.9 205.4 508.6 205.2 507.6 205.0 506.4 204.8 505.3 204.6 504.1 204.4 502.9 204.3 501.6 204.2 500.3 204.2 498.9 204.1 497.6 204.2 496.3 204.2 494.9 204.3 493.9 204.5 492.6 204.7 491.6 204.9 490.6 205.2 489.6 205.5 488.6 206.0 487.9 206.5 487.5 207.4 487.9 208.4 488.6 208.9 489.6 209.4 490.6 209.7 491.6 210.0 492.6 210.2 493.9 210.4 494.9 210.6 496.3 210.7 497.3 210.8 498.6 210.8 499.9 210.9 501.3 210.9 502.6 210.9 503.9 210.8 504.9 210.8 506.3 210.7 507.6 210.6 508.9 210.5 509.9 210.4 510.9 210.5 512.3 210.6 513.3 210.8 514.3 211.2 514.9 211.8 515.9 212.3 516.8 212.8 517.6 213.1 518.6 213.6 519.6 214.0 520.6 214.3 521.6 214.6 522.6 214.8 523.9 215.0 524.9 215.2M475.0 216.4 476.3 216.4 477.6 216.3 478.9 216.1 479.9 215.9 480.9 215.7 481.9 215.4 482.9 214.8 483.3 214.1 482.6 213.5 481.7 213.1 480.6 212.8 479.6 212.6 478.6 212.4 477.3 212.3 475.9 212.2 474.6 212.2 473.3 212.1 471.9 212.2 470.6 212.3 469.3 212.4 468.3 212.5 466.9 212.7 465.9 213.0 464.9 213.3 464.2 213.8 464.3 214.8 465.3 215.4 466.3 215.7 467.3 215.9 468.3 216.1 469.6 216.3 470.9 216.4 472.1 216.4 473.3 216.5 474.6 216.4M524.9 238.0 523.9 238.2 522.6 238.3 521.6 238.5 520.3 238.7 519.3 238.8 517.9 239.0 516.9 239.2 515.6 239.4 514.6 239.5 513.3 239.6 512.1 239.8 510.9 239.9 509.6 240.0 508.6 240.1 507.3 240.3 505.9 240.4M407.6 182.1 408.6 181.8 409.6 181.5 410.6 181.2 411.6 180.8 412.6 180.5 413.6 180.2 414.6 180.0 415.6 179.7 416.7 179.4 417.9 179.2 418.9 179.0 420.0 178.8 421.3 178.5 422.3 178.3 423.3 178.0 424.3 177.7 425.3 177.4 426.3 177.1 427.3 176.8 428.3 176.4 429.3 175.9 430.3 175.4 430.9 175.1 431.9 174.5 432.6 173.9 433.2 173.1 433.6 172.1 433.7 171.1 433.3 170.3 432.6 169.5 431.9 168.8 431.3 168.2 430.6 167.7 429.7 167.1 428.9 166.6 428.2 166.1 427.3 165.5 426.6 165.1 425.6 164.4 424.9 163.9 424.3 163.4 423.7 162.4 423.9 161.1 424.3 160.2 424.5 159.1 424.9 158.4 425.6 157.7 426.3 157.1 427.1 156.4 427.9 155.9 428.9 155.4 429.6 155.1 430.6 154.7 431.6 154.3 432.6 153.9 433.6 153.6 434.6 153.3 435.6 153.1 436.8 152.8 437.9 152.5 438.9 152.3 440.0 152.1 441.3 151.9 442.3 151.7 443.6 151.6 444.9 151.5 445.9 151.4 447.3 151.3 448.6 151.2 449.6 151.1 450.9 150.9 452.3 150.8 453.3 150.7 454.6 150.6 455.9 150.5 457.3 150.5 458.6 150.4 459.9 150.4 461.3 150.5 462.6 150.5 463.9 150.5 465.3 150.6 466.6 150.7 467.9 150.7 468.9 150.8 470.3 151.0 471.3 151.1 472.6 151.4 473.6 151.5 474.9 151.7 475.9 151.9 477.2 152.1 478.3 152.3 479.4 152.4 480.6 152.6 481.6 152.8 482.9 153.0 483.9 153.2 484.9 153.5 485.9 153.8 486.9 154.2 487.9 154.6 488.9 155.0 489.9 155.4 490.6 155.8 491.6 156.4 492.3 156.8 493.0 157.4 493.7 158.1 494.3 159.0 494.8 159.8 495.3 160.4 495.8 161.4 496.0 162.4 495.8 163.4 495.4 164.4 494.9 165.2 494.5 166.1 493.9 166.9 493.0 167.4 492.2 167.8 491.3 168.2 490.3 168.6 489.3 168.9 488.3 169.2 487.2 169.4 485.9 169.8 484.9 170.1 483.9 170.4 482.9 170.7 481.9 171.0 480.9 171.3 479.9 171.6 478.9 171.8 477.6 171.9 476.3 171.8 475.3 171.7 473.9 171.4 472.9 171.3 471.7 171.1 470.6 170.9 469.3 170.8 468.3 170.8 466.9 170.7 465.6 170.7 464.6 170.8 463.3 170.9 461.9 171.1 460.9 171.3 459.9 171.5 458.9 171.8 457.9 172.1 456.9 172.6 456.3 173.1 455.7 174.1 455.9 175.2 456.6 175.9 457.5 176.4 458.3 176.8 459.3 177.2 460.3 177.5 461.6 177.7 462.6 177.9 463.9 178.0 464.9 178.1 466.3 178.1 467.6 178.1 468.6 178.1 469.9 177.9 470.9 177.8 472.3 177.5 473.3 177.3 474.3 177.1 475.3 176.8 476.6 176.5 477.6 176.3 478.9 176.3 479.9 176.5 480.9 176.8 482.0 177.1 483.1 177.4 484.3 177.7 485.3 177.9 486.3 178.1 487.6 178.3 488.6 178.5 489.9 178.6 491.3 178.6 492.6 178.6 493.9 178.6 495.3 178.5 496.3 178.4 497.6 178.3 498.9 178.1 499.9 178.0 501.3 177.9 502.6 177.9 503.9 177.9 504.9 178.1 505.9 178.5 506.9 178.8 507.9 179.4 508.6 179.9 509.3 180.5 510.1 181.1 510.9 181.7 511.6 182.2 512.3 182.8 513.1 183.4 513.9 184.1 514.6 184.5 515.4 185.1 516.3 185.7 517.0 186.1 517.9 186.6 518.9 187.1 519.7 187.4 520.8 187.8 521.9 188.0 522.9 188.1 524.3 188.1M524.9 196.2 523.6 196.4 522.6 196.6 521.6 196.9 520.6 197.3 519.6 197.7 518.8 198.1 517.9 198.6 517.1 199.1 516.3 199.7 515.6 200.1 514.6 200.6 513.6 201.1 512.6 201.4 511.6 201.7 510.6 202.0 509.6 202.2 508.3 202.4 507.3 202.5 505.9 202.6 504.6 202.6 503.3 202.7 501.9 202.7 500.6 202.7 499.6 202.8 498.3 202.8 496.9 202.9 495.6 203.0 494.3 203.1 493.3 203.2 491.9 203.4 490.9 203.5 489.6 203.7 488.6 203.9 487.6 204.2 486.6 204.4 485.6 204.8 484.6 205.1 483.6 205.6 482.6 206.1 481.9 206.4 480.9 207.0 480.3 207.5 479.3 208.1 478.6 208.6 477.6 208.9 476.6 209.1 475.3 209.3 474.3 209.5 472.9 209.6 471.6 209.7 470.3 209.7 468.9 209.8 467.9 209.8 466.6 209.9 465.3 210.0 463.9 210.1 462.9 210.2 461.6 210.3 460.5 210.4 459.3 210.6 457.9 210.7 456.9 210.9 455.6 211.0 454.6 211.1 453.3 211.3 452.1 211.4 451.6 212.1 452.3 212.5 453.3 212.9 454.1 213.4 454.9 213.8 455.9 214.3 456.8 214.8 457.6 215.1 458.6 215.5 459.6 215.8 460.7 216.1 461.9 216.4 462.9 216.6 464.0 216.8 465.3 217.0 466.3 217.1 467.6 217.2 468.9 217.4 470.0 217.4 471.3 217.5 472.6 217.5 473.9 217.6 475.3 217.6 476.6 217.5 477.9 217.5 478.9 217.4 480.3 217.3 481.6 217.2 482.9 217.1 483.9 217.0 485.3 216.8 486.3 216.7 487.6 216.6 488.6 216.4 489.9 216.3 491.3 216.1 492.3 216.0 493.6 216.0 494.9 216.0 496.3 216.1 497.3 216.1 498.6 216.2 499.8 216.4 500.9 216.6 501.9 216.8 503.3 217.1 504.3 217.3 505.3 217.5 506.3 217.8 507.4 218.1 508.6 218.4 509.6 218.7 510.6 219.0 511.6 219.4 512.6 219.7 513.6 220.1 514.6 220.4 515.5 220.8 516.4 221.1 517.6 221.4 518.6 221.7 519.6 222.1 520.6 222.4 521.6 222.7 522.6 223.1 523.5 223.4 524.3 223.8M407.6 217.4 408.9 217.1 409.9 217.0 411.1 216.8 412.3 216.6 413.4 216.4 414.6 216.3 415.8 216.1 416.9 216.0 418.3 215.8 419.3 215.7 420.6 215.5 421.6 215.4 422.9 215.2 423.9 215.1 425.3 214.9 426.3 214.8 427.6 214.6 428.9 214.5 429.9 214.4 431.3 214.2 432.6 214.1 433.6 214.0 434.9 213.8 435.9 213.7 437.3 213.5 438.3 213.3 439.6 213.1 440.6 213.0 441.9 212.8 442.9 212.6 444.3 212.5 445.3 212.4 446.6 212.2 447.6 212.0 448.6 211.6 448.6 211.2 447.8 210.8 448.6 210.3 449.6 209.9 449.3 209.3 448.6 208.7 448.9 207.9 449.5 207.1 449.9 206.4 450.4 205.4 450.4 204.1 449.9 203.4 449.0 202.8 448.3 202.4 447.3 202.0 446.3 201.6 445.3 201.4 444.1 201.1 442.9 200.9 441.9 200.7 440.6 200.6 439.3 200.5 438.1 200.4 436.9 200.4 435.6 200.4 434.4 200.4 433.3 200.5 431.9 200.6 430.6 200.7 429.6 200.8 428.3 201.0 427.3 201.1 425.9 201.3 424.9 201.5 423.6 201.7 422.6 201.9 421.3 202.1 420.3 202.1 418.9 202.2 417.6 202.2 416.3 202.2 415.3 202.0 413.9 201.8 412.9 201.7 411.9 201.4 410.9 201.1 409.8 200.8 408.7 200.4 407.7 200.1M524.9 230.3 524.0 230.8 523.3 231.1 522.3 231.5 521.3 231.9 520.3 232.2 519.3 232.5 518.3 232.8 517.3 233.1 516.1 233.4 514.9 233.7 513.9 234.0 512.9 234.2 511.9 234.5 510.6 234.8 509.6 234.9 508.6 235.1 507.3 235.3 506.3 235.5 504.9 235.7 503.9 235.8 502.6 236.0 501.6 236.1 500.3 236.3 499.2 236.4 497.9 236.6 496.6 236.7 495.6 236.8 494.3 237.0 493.0 237.1 491.9 237.2 490.6 237.3 489.3 237.4 488.3 237.5 486.9 237.6 485.6 237.7 484.6 237.8 483.3 237.9 481.9 238.0 480.6 238.1 479.6 238.1 478.3 238.2 476.9 238.2 475.6 238.3 474.3 238.4 472.9 238.4 471.9 238.5 470.6 238.5 469.3 238.6 467.9 238.6 466.6 238.6 465.3 238.7 463.9 238.7 462.6 238.7 461.3 238.7 459.9 238.8 458.9 238.8 457.6 238.8 456.3 238.8 454.9 238.8 453.6 238.8 452.3 238.8 450.9 238.8 449.6 238.8 448.6 238.8 447.3 238.7 445.9 238.7 444.6 238.7 443.3 238.7 441.9 238.6 440.6 238.6 439.3 238.5 437.9 238.5 436.6 238.4 435.6 238.4 434.3 238.4 432.9 238.3 431.6 238.2 430.3 238.1 429.3 238.1 427.9 238.0 426.6 237.9 425.3 237.8 424.2 237.8 422.9 237.7 421.6 237.6 420.3 237.5 419.3 237.4 417.9 237.3 416.6 237.1 415.6 237.1 414.3 236.9 412.9 236.8 411.9 236.7 410.6 236.5 409.6 236.4 408.3 236.2M457.6 168.8 456.3 168.8 454.9 168.9 453.6 169.0 452.3 169.0 451.3 168.8 449.9 168.5 448.9 168.2 447.9 167.9 446.9 167.6 445.9 167.2 444.9 166.9 443.9 166.6 442.9 166.2 442.0 165.8 441.3 165.4 440.3 164.8 439.6 164.4 438.7 163.8 438.0 163.1 437.5 162.4 437.4 161.1 437.9 160.2 438.6 159.6 439.3 158.9 439.9 158.3 440.8 157.8 441.6 157.3 442.6 156.9 443.6 156.6 444.6 156.2 445.6 156.0 446.6 155.7 447.9 155.5 448.9 155.3 450.2 155.1 451.3 155.0 452.6 154.8 453.6 154.7 454.9 154.6 456.3 154.6 457.6 154.5 458.9 154.5 460.3 154.5 461.6 154.5 462.9 154.6 464.3 154.7 465.6 154.8 466.6 154.9 467.9 155.0 468.9 155.1 470.3 155.4 471.3 155.5 472.4 155.8 473.6 156.1 474.6 156.3 475.6 156.7 476.6 157.0 477.5 157.4 478.3 157.9 479.1 158.4 479.9 159.0 480.6 159.5 481.3 160.1 481.9 161.1 481.9 161.9 481.6 162.8 480.9 163.5 480.2 164.1 479.4 164.8 478.6 165.3 477.8 165.8 476.9 166.2 475.9 166.6 474.9 167.0 474.0 167.4 472.9 167.6 471.7 167.8 470.6 167.9 469.3 168.0 467.9 168.1 466.9 168.2 465.6 168.2 464.3 168.3 463.1 168.4 461.9 168.5 460.6 168.6 459.3 168.7 457.9 168.8M407.6 187.6 408.5 187.1 409.3 186.8 410.3 186.4 411.3 186.0 412.3 185.6 413.3 185.2 414.3 184.9 415.3 184.6 416.3 184.2 417.3 183.9 418.3 183.6 419.3 183.3 420.3 183.0 421.3 182.8 422.3 182.4 423.3 182.1 424.4 181.8 425.5 181.4 426.6 181.1 427.6 180.9 428.6 180.6 429.6 180.4 430.8 180.1 431.9 179.8 432.9 179.6 433.9 179.3 434.9 179.0 436.0 178.8 437.3 178.5 438.3 178.3 439.3 178.0 440.4 177.8 441.6 177.5 442.6 177.3 443.6 177.1 444.9 176.8 445.9 176.6 447.3 176.6 448.6 176.7 449.6 176.8 450.9 177.0 451.9 177.1 453.2 177.4 454.3 177.7 455.3 177.9 456.3 178.1 457.6 178.4 458.6 178.6 459.7 178.8 460.9 178.9 462.3 179.1 463.3 179.1 464.6 179.2 465.9 179.3 467.3 179.2 468.6 179.2 469.9 179.1 470.9 179.0 472.3 178.9 473.3 178.8 474.6 178.7 475.9 178.5 477.3 178.5 478.6 178.5 479.9 178.6 481.1 178.8 482.3 178.9 483.5 179.1 484.6 179.3 485.6 179.5 486.9 179.6 487.9 179.8 489.3 179.9 490.6 180.0 491.9 180.1 492.9 180.1 494.3 180.2 495.6 180.2 496.9 180.3 498.3 180.4 499.3 180.5 500.6 180.8 501.6 180.9 502.6 181.2 503.6 181.6 504.6 182.0 505.5 182.4 506.3 182.8 507.3 183.4 507.9 183.8 508.9 184.4 509.6 184.8 510.5 185.4 511.3 186.0 511.9 186.5 512.7 187.1 513.5 187.8 514.3 188.4 514.9 189.1 515.5 189.8 516.0 190.4 516.4 191.4 516.3 192.8 515.9 193.4 515.3 194.3 514.6 195.0 513.9 195.6 513.3 196.1 512.4 196.8 511.6 197.3 510.8 197.8 509.9 198.3 509.0 198.8 508.3 199.2 507.3 199.6 506.3 199.9 505.3 200.1 503.9 200.4 502.9 200.6 501.9 200.8 500.6 201.0 499.6 201.1 498.3 201.2 496.9 201.3 495.9 201.4 494.6 201.6 493.3 201.7 492.3 201.8 490.9 202.0 489.9 202.1 488.6 202.3 487.6 202.4 486.3 202.7 485.3 202.8 483.9 203.1 482.9 203.2 481.9 203.4 480.6 203.7 479.6 203.8 478.3 204.1 477.3 204.3 476.2 204.4 474.9 204.6 473.9 204.8 472.6 205.0 471.6 205.1 470.3 205.2 468.9 205.2 467.6 205.2 466.3 205.3 464.9 205.3 463.6 205.2 462.6 205.1 461.3 204.8 460.3 204.7 459.2 204.4 457.9 204.1 457.0 203.8 456.0 203.4 455.1 203.1 454.3 202.7 453.3 202.4 452.3 202.0 451.3 201.7 450.3 201.3 449.3 201.1 448.1 200.8 446.9 200.5 445.9 200.3 444.7 200.1 443.6 199.9 442.3 199.8 441.3 199.7 439.9 199.5 438.6 199.5 437.6 199.4 436.3 199.4 434.9 199.3 433.6 199.3 432.3 199.3 430.9 199.3 429.6 199.3 428.3 199.3 426.9 199.3 425.6 199.3 424.3 199.2 422.9 199.1 421.9 199.0 420.6 198.9 419.6 198.7 418.3 198.5 417.3 198.3 416.3 197.9 415.3 197.6 414.3 197.3 413.3 197.0 412.3 196.6 411.3 196.2 410.3 195.8 409.3 195.4 408.6 195.1 407.6 194.6M407.6 221.7 408.9 221.4 409.9 221.2 410.9 221.0 412.3 220.8 413.3 220.6 414.3 220.4 415.6 220.2 416.6 220.0 417.8 219.8 418.9 219.6 419.9 219.4 421.3 219.2 422.3 219.1 423.6 218.9 424.8 218.8 425.9 218.6 427.3 218.5 428.3 218.4 429.6 218.3 430.9 218.1 431.9 218.1 433.3 217.9 434.6 217.8 435.8 217.8 436.9 217.7 438.3 217.6 439.6 217.5 440.9 217.5 441.9 217.4 443.3 217.3 444.6 217.3 445.9 217.2 447.3 217.1 448.6 217.1 449.3 217.1 450.6 217.2 451.9 217.2 453.3 217.3 454.6 217.4 455.6 217.5 456.9 217.6 458.3 217.7 459.3 217.8 460.6 217.9 461.9 218.1 462.9 218.2 464.3 218.3 465.6 218.4 466.6 218.5 467.9 218.5 469.3 218.6 470.6 218.7 471.9 218.7 473.1 218.8 474.3 218.8 475.6 218.8 476.9 218.9 478.3 218.9 479.6 218.9 480.9 218.9 482.3 218.9 483.6 219.0 484.9 219.0 486.3 219.1 487.3 219.1 488.6 219.2 489.9 219.3 491.3 219.4 492.3 219.6 493.4 219.8 494.6 220.0 495.6 220.2 496.9 220.4 497.9 220.6 498.9 220.9 499.9 221.1 501.1 221.4 502.2 221.8 503.2 222.1 504.3 222.4 505.3 222.7 506.3 223.1 507.1 223.4 507.9 223.8 508.9 224.3 509.6 224.8 510.4 225.4 511.0 226.1 511.3 227.1 511.0 228.1 510.5 228.8 509.7 229.4 508.9 229.9 507.9 230.4 507.0 230.8 506.0 231.1 504.9 231.4 503.9 231.7 502.9 231.9 501.9 232.2 500.8 232.4 499.6 232.7 498.6 232.9 497.4 233.1 496.3 233.3 495.3 233.5 493.9 233.7 492.9 233.8 491.6 234.0 490.6 234.1 489.3 234.3 488.0 234.4 486.9 234.5 485.6 234.7 484.6 234.8 483.3 234.9 481.9 235.0 480.9 235.1 479.6 235.2 478.3 235.3 476.9 235.4 475.9 235.5 474.6 235.6 473.3 235.6 471.9 235.7 470.6 235.8 469.6 235.8 468.3 235.9 466.9 235.9 465.6 236.0 464.3 236.0 462.9 236.0 461.6 236.1 460.3 236.1 459.3 236.1 457.9 236.1 456.6 236.1 455.3 236.1 453.9 236.1 452.6 236.1 451.3 236.1 449.9 236.1 448.9 236.1 447.6 236.1 446.3 236.0 444.9 236.0 443.6 236.0 442.3 235.9 440.9 235.9 439.6 235.8 438.4 235.8 437.3 235.7 435.9 235.6 434.6 235.6 433.3 235.5 432.3 235.4 430.9 235.3 429.6 235.2 428.3 235.1 427.3 235.0 425.9 234.9 424.6 234.8 423.6 234.7 422.3 234.6 421.1 234.4 419.9 234.3 418.6 234.1 417.6 234.0 416.3 233.8 415.3 233.7 413.9 233.5 412.9 233.3 411.7 233.1 410.6 232.9 409.6 232.7 408.3 232.4M476.3 201.8 474.9 201.8 473.6 201.9 472.3 202.0 470.9 202.0 469.6 202.0 468.3 202.0 466.9 202.0 465.6 202.0 464.3 202.0 462.9 201.9 461.6 201.8 460.6 201.7 459.3 201.5 458.3 201.4 456.9 201.1 455.9 201.0 454.9 200.8 453.6 200.5 452.6 200.3 451.6 200.1 450.3 199.8 449.3 199.6 448.0 199.4 446.9 199.3 445.8 199.1 444.6 198.9 443.3 198.8 442.3 198.7 440.9 198.5 439.8 198.4 438.6 198.3 437.3 198.2 435.9 198.1 434.9 198.0 433.6 197.9 432.3 197.8 431.3 197.7 429.9 197.6 428.6 197.5 427.6 197.3 426.3 197.1 425.3 197.0 424.1 196.8 423.0 196.4 421.9 196.1 420.9 195.8 419.9 195.5 418.9 195.1 418.0 194.8 417.2 194.4 416.3 194.0 415.3 193.4 414.6 193.0 413.9 192.4 413.3 191.4 413.3 190.8 413.9 189.8 414.6 189.2 415.3 188.7 416.3 188.2 417.1 187.8 417.9 187.4 418.9 187.0 419.9 186.7 420.9 186.4 421.9 186.1 422.9 185.8 424.1 185.4 425.3 185.1 426.3 184.9 427.3 184.6 428.3 184.4 429.5 184.1 430.6 183.8 431.6 183.6 432.6 183.4 433.8 183.1 434.9 182.8 435.9 182.6 436.9 182.4 438.3 182.1 439.3 182.0 440.3 181.8 441.6 181.5 442.6 181.4 443.9 181.2 444.9 181.0 446.3 180.8 447.3 180.7 448.6 180.5 449.6 180.4 450.9 180.3 452.3 180.2 453.6 180.3 454.9 180.3 456.3 180.3 457.6 180.3 458.9 180.4 459.9 180.4 461.3 180.5 462.6 180.5 463.9 180.6 465.3 180.6 466.6 180.6 467.9 180.6 469.3 180.6 470.6 180.5 471.9 180.5 473.3 180.5 474.3 180.4 475.6 180.4 476.9 180.4 477.9 180.5 479.3 180.5 480.6 180.6 481.6 180.8 482.9 180.9 484.1 181.1 485.3 181.3 486.6 181.4 487.6 181.5 488.9 181.7 489.9 181.8 491.3 182.0 492.3 182.1 493.6 182.3 494.9 182.4 495.9 182.6 496.9 182.9 498.0 183.1 499.2 183.4 500.3 183.7 501.3 184.0 502.3 184.4 503.3 184.7 504.3 185.1 505.0 185.4 505.9 185.8 506.9 186.4 507.6 186.8 508.6 187.4 509.3 187.9 509.9 188.5 510.6 189.2 511.2 190.1 511.6 191.1 511.6 191.8 511.3 192.8 510.6 193.8 509.9 194.4 509.3 194.9 508.5 195.4 507.6 196.0 506.6 196.4 505.9 196.8 504.9 197.1 503.9 197.5 502.9 197.8 501.9 198.1 500.9 198.4 499.7 198.8 498.6 199.0 497.6 199.2 496.3 199.4 495.3 199.5 493.9 199.7 492.9 199.8 491.6 200.0 490.6 200.1 489.3 200.3 488.0 200.4 486.9 200.6 485.6 200.7 484.6 200.9 483.3 201.0 482.3 201.2 480.9 201.3 479.9 201.4 478.6 201.6 477.3 201.7 476.3 201.8M466.6 233.4 465.3 233.5 463.9 233.5 462.6 233.6 461.3 233.6 459.9 233.7 458.6 233.7 457.3 233.7 455.9 233.7 454.6 233.7 453.3 233.7 451.9 233.7 450.6 233.7 449.3 233.7 447.9 233.6 446.6 233.6 445.3 233.5 443.9 233.5 442.6 233.4 441.6 233.4 440.3 233.3 438.9 233.2 437.6 233.2 436.6 233.1 435.3 233.0 433.9 232.9 432.9 232.8 431.6 232.6 430.3 232.5 429.3 232.4 427.9 232.2 426.9 232.1 425.6 231.9 424.6 231.7 423.3 231.5 422.3 231.3 421.0 231.1 419.9 230.9 418.9 230.6 417.9 230.4 416.9 230.1 415.9 229.8 414.9 229.4 413.9 228.9 413.2 228.4 412.5 227.8 412.2 226.8 412.6 226.1 413.4 225.4 414.3 224.9 415.3 224.5 416.3 224.1 417.3 223.8 418.3 223.5 419.3 223.3 420.3 223.1 421.6 222.8 422.6 222.6 423.6 222.4 424.9 222.2 425.9 222.0 427.3 221.8 428.3 221.7 429.6 221.5 430.6 221.3 431.9 221.1 432.9 221.0 434.3 220.9 435.3 220.8 436.6 220.6 437.9 220.5 439.1 220.4 440.3 220.3 441.6 220.3 442.9 220.2 444.3 220.1 445.3 220.1 446.6 220.0 447.9 220.0 449.3 219.9 450.6 219.9 451.9 219.9 453.3 219.9 454.6 219.8 455.9 219.8 457.3 219.9 458.6 219.9 459.9 219.9 461.3 220.0 462.6 220.0 463.6 220.1 464.9 220.2 466.3 220.2 467.6 220.3 468.9 220.4 469.9 220.5 471.3 220.5 472.6 220.6 473.9 220.7 475.3 220.8 476.3 220.9 477.6 221.0 478.6 221.1 479.9 221.3 480.9 221.4 482.3 221.7 483.3 221.8 484.6 222.1 485.6 222.3 486.6 222.5 487.8 222.8 488.9 223.1 489.9 223.3 490.9 223.6 491.9 223.9 492.9 224.2 493.9 224.5 494.9 225.0 495.7 225.4 496.5 226.1 496.9 227.1 496.3 228.1 495.6 228.6 494.8 229.1 493.9 229.5 492.9 229.8 491.9 230.1 490.9 230.4 489.6 230.8 488.6 231.0 487.6 231.2 486.3 231.4 485.3 231.6 484.3 231.8 482.9 232.0 481.9 232.1 480.6 232.3 479.4 232.4 478.3 232.6 476.9 232.7 475.9 232.8 474.6 232.9 473.3 233.0 472.2 233.1 470.9 233.2 469.6 233.3 468.3 233.3 466.9 233.4M474.3 199.4 472.9 199.5 471.6 199.5 470.3 199.6 468.9 199.6 467.6 199.6 466.3 199.6 464.9 199.6 463.6 199.6 462.3 199.6 460.9 199.5 459.6 199.4 458.6 199.3 457.3 199.2 456.3 199.1 454.9 198.9 453.7 198.8 452.6 198.6 451.3 198.5 450.3 198.3 448.9 198.2 447.9 198.0 446.6 197.9 445.6 197.8 444.3 197.6 443.0 197.4 441.9 197.3 440.6 197.2 439.6 197.0 438.3 196.9 437.3 196.7 435.9 196.6 434.9 196.4 433.6 196.2 432.6 196.1 431.3 195.8 430.3 195.6 429.3 195.3 428.3 195.1 427.2 194.8 426.2 194.4 425.3 194.1 424.3 193.7 423.3 193.2 422.6 192.8 421.8 192.1 421.3 191.1 421.7 190.1 422.5 189.4 423.3 189.0 424.3 188.5 425.2 188.1 426.1 187.8 427.2 187.4 428.3 187.1 429.3 186.8 430.3 186.6 431.3 186.3 432.3 186.1 433.6 185.8 434.6 185.6 435.6 185.4 436.9 185.2 437.9 185.0 439.2 184.8 440.3 184.6 441.3 184.4 442.6 184.2 443.6 184.0 444.9 183.8 445.9 183.7 447.3 183.5 448.3 183.4 449.6 183.2 450.8 183.1 451.9 183.0 453.3 182.9 454.6 182.8 455.6 182.7 456.9 182.6 458.3 182.5 459.6 182.5 460.7 182.4 461.9 182.4 463.3 182.4 464.6 182.4 465.9 182.4 467.3 182.4 468.6 182.4 469.9 182.4 471.2 182.4 472.3 182.5 473.6 182.5 474.9 182.6 476.3 182.7 477.4 182.8 478.6 182.9 479.9 183.0 481.1 183.1 482.3 183.2 483.6 183.4 484.6 183.5 485.9 183.7 486.9 183.8 488.3 184.0 489.3 184.1 490.6 184.3 491.6 184.5 492.9 184.7 493.9 184.9 495.3 185.1 496.3 185.3 497.3 185.5 498.4 185.8 499.6 186.1 500.6 186.4 501.6 186.7 502.6 187.1 503.4 187.4 504.3 187.9 505.2 188.4 505.9 189.0 506.6 189.6 507.1 190.4 507.3 191.4 507.0 192.4 506.4 193.1 505.6 193.7 504.9 194.2 503.9 194.7 502.9 195.1 501.9 195.4 500.9 195.8 499.9 196.1 498.9 196.4 497.9 196.6 496.9 196.8 495.6 197.0 494.6 197.2 493.3 197.4 492.3 197.6 491.2 197.8 489.9 198.0 488.9 198.1 487.6 198.3 486.3 198.4 485.3 198.5 483.9 198.7 482.9 198.8 481.6 198.9 480.3 199.0 479.3 199.1 477.9 199.2 476.6 199.3 475.3 199.4 474.3 199.4M463.6 230.8 462.3 230.9 460.9 230.9 459.6 231.0 458.3 231.0 456.9 231.0 455.6 231.0 454.3 231.0 452.9 231.0 451.6 231.0 450.3 231.0 448.9 230.9 447.6 230.9 446.3 230.8 445.2 230.8 443.9 230.7 442.6 230.6 441.3 230.5 440.3 230.3 438.9 230.2 437.9 230.1 436.6 229.9 435.6 229.7 434.3 229.5 433.3 229.2 432.3 229.0 431.3 228.7 430.3 228.2 429.5 227.8 429.1 226.8 429.7 226.1 430.6 225.6 431.6 225.2 432.6 224.9 433.6 224.7 434.8 224.4 435.9 224.2 436.9 224.1 438.3 223.9 439.3 223.8 440.6 223.6 441.9 223.5 442.9 223.4 444.3 223.3 445.6 223.2 446.9 223.1 447.9 223.1 449.3 223.0 450.6 222.9 451.9 222.9 453.3 222.9 454.6 222.9 455.9 222.9 457.3 222.9 458.6 222.9 459.9 223.0 461.3 223.0 462.6 223.1 463.6 223.1 464.9 223.2 466.3 223.4 467.3 223.5 468.6 223.6 469.9 223.8 470.9 223.9 472.3 224.1 473.3 224.3 474.3 224.4 475.6 224.7 476.6 225.0 477.6 225.3 478.6 225.7 479.4 226.1 480.0 226.8 479.6 227.7 478.9 228.2 477.9 228.6 476.9 228.9 475.9 229.2 474.9 229.4 473.6 229.7 472.6 229.9 471.3 230.0 470.3 230.2 468.9 230.3 467.9 230.4 466.6 230.6 465.3 230.7 463.9 230.8M473.9 197.4 472.6 197.5 471.3 197.5 469.9 197.6 468.6 197.6 467.3 197.6 465.9 197.6 464.6 197.6 463.3 197.6 461.9 197.6 460.6 197.5 459.3 197.5 458.3 197.4 456.9 197.4 455.6 197.3 454.3 197.2 453.2 197.1 451.9 197.0 450.6 196.8 449.6 196.7 448.3 196.6 447.2 196.4 445.9 196.3 444.6 196.1 443.6 196.0 442.3 195.8 441.3 195.7 439.9 195.4 438.9 195.3 437.9 195.0 436.7 194.8 435.6 194.5 434.6 194.2 433.6 193.9 432.6 193.6 431.6 193.2 430.7 192.8 429.9 192.3 429.3 191.6 429.3 190.6 429.9 189.9 430.6 189.4 431.6 189.0 432.6 188.6 433.6 188.2 434.6 188.0 435.6 187.7 436.6 187.4 437.9 187.1 438.9 186.9 439.9 186.7 441.3 186.5 442.3 186.3 443.6 186.1 444.6 186.0 445.9 185.8 446.9 185.7 448.3 185.6 449.4 185.4 450.6 185.3 451.9 185.2 453.0 185.1 454.3 185.0 455.6 184.9 456.9 184.8 457.9 184.7 459.3 184.7 460.6 184.6 461.9 184.6 463.3 184.6 464.6 184.5 465.9 184.5 467.3 184.5 468.6 184.6 469.9 184.6 471.3 184.6 472.6 184.7 473.9 184.7 474.9 184.8 476.3 184.9 477.6 185.0 478.9 185.1 479.9 185.1 481.3 185.3 482.6 185.4 483.6 185.5 484.9 185.6 486.0 185.8 487.3 185.9 488.6 186.1 489.6 186.2 490.8 186.4 491.9 186.6 492.9 186.8 494.3 187.1 495.3 187.3 496.3 187.5 497.3 187.8 498.3 188.1 499.3 188.5 500.3 189.0 501.0 189.4 501.7 190.1 502.2 191.1 501.8 192.1 501.0 192.8 500.3 193.2 499.3 193.7 498.4 194.1 497.3 194.4 496.3 194.7 495.3 194.9 494.3 195.1 492.9 195.4 491.9 195.6 490.7 195.8 489.6 195.9 488.5 196.1 487.3 196.3 485.9 196.4 484.9 196.6 483.6 196.7 482.6 196.8 481.3 196.9 479.9 197.1 478.9 197.1 477.6 197.2 476.3 197.3 474.9 197.4 473.9 197.4M472.9 195.8 471.6 195.8 470.3 195.9 468.9 195.9 467.6 195.9 466.3 195.9 464.9 195.9 463.6 195.9 462.3 195.9 460.9 195.8 459.6 195.8 458.6 195.7 457.3 195.7 455.9 195.6 454.6 195.5 453.6 195.4 452.3 195.3 450.9 195.1 449.9 195.0 448.6 194.8 447.6 194.7 446.3 194.5 445.3 194.3 444.2 194.1 442.9 193.8 441.9 193.6 440.9 193.3 439.9 193.0 438.9 192.6 438.0 192.1 437.3 191.4 437.3 190.8 437.9 190.1 438.9 189.6 439.9 189.2 440.9 188.9 441.9 188.6 442.9 188.4 444.1 188.1 445.3 187.9 446.3 187.7 447.6 187.5 448.6 187.3 449.9 187.2 450.9 187.0 452.3 186.9 453.6 186.8 454.6 186.7 455.9 186.6 457.3 186.5 458.6 186.5 459.6 186.4 460.9 186.4 462.3 186.3 463.6 186.3 464.9 186.3 466.3 186.3 467.6 186.3 468.9 186.3 470.3 186.3 471.6 186.4 472.9 186.4 473.9 186.5 475.3 186.5 476.6 186.6 477.9 186.7 478.9 186.8 480.3 186.9 481.6 187.0 482.6 187.2 483.9 187.3 484.9 187.5 486.3 187.7 487.3 187.9 488.4 188.1 489.6 188.4 490.6 188.6 491.6 188.9 492.6 189.2 493.6 189.6 494.6 190.1 495.3 190.8 495.2 191.4 494.6 192.1 493.6 192.6 492.6 193.0 491.6 193.3 490.6 193.6 489.6 193.8 488.3 194.1 487.3 194.3 486.3 194.5 484.9 194.7 483.9 194.8 482.6 195.0 481.6 195.1 480.3 195.3 478.9 195.4 477.9 195.5 476.6 195.6 475.3 195.7 473.9 195.7 472.9 195.8M471.3 194.1 469.9 194.2 468.6 194.2 467.3 194.2 465.9 194.2 464.6 194.2 463.3 194.2 461.9 194.1 460.9 194.1 459.6 194.0 458.3 193.9 456.9 193.8 455.9 193.7 454.6 193.5 453.6 193.4 452.3 193.2 451.3 193.0 450.0 192.8 448.9 192.5 447.9 192.2 447.1 191.8 446.5 191.1 447.0 190.4 447.9 190.0 448.9 189.7 449.9 189.4 451.3 189.2 452.3 189.0 453.6 188.8 454.6 188.6 455.9 188.5 456.9 188.4 458.3 188.3 459.6 188.2 460.8 188.1 461.9 188.0 463.3 188.0 464.6 188.0 465.9 188.0 467.3 188.0 468.6 188.0 469.9 188.0 471.3 188.1 472.3 188.1 473.6 188.2 474.9 188.3 476.2 188.4 477.3 188.6 478.6 188.7 479.6 188.9 480.9 189.1 481.9 189.3 482.9 189.5 483.9 189.8 484.9 190.2 485.9 190.8 485.9 191.4 484.9 192.0 483.9 192.4 482.9 192.7 481.9 192.9 480.9 193.1 479.6 193.3 478.6 193.5 477.3 193.6 476.0 193.8 474.9 193.9 473.6 194.0 472.3 194.1 471.3 194.1" fill="none" stroke="#303030" stroke-opacity="0.6" stroke-width="0.7"/>
</g>
<rect x="407.6" y="137.1" width="117.6" height="103.5" fill="none" stroke="#1a1a1a" stroke-width="0.9"/>
<line x1="407.6" y1="137.1" x2="407.6" y2="241.1" stroke="#111" stroke-width="1.1"/>
<line x1="407.1" y1="240.6" x2="525.2" y2="240.6" stroke="#111" stroke-width="1.1"/>
<line x1="407.6" y1="240.6" x2="405.2" y2="240.6" stroke="#111" stroke-width="0.9"/>
<text x="405" y="243.5" font-size="8.6" text-anchor="end" font-weight="bold" fill="#111">1</text>
<line x1="407.6" y1="214.72" x2="405.2" y2="214.72" stroke="#111" stroke-width="0.9"/>
<text x="405" y="217.62" font-size="8.6" text-anchor="end" font-weight="bold" fill="#111">2</text>
<line x1="407.6" y1="188.85" x2="405.2" y2="188.85" stroke="#111" stroke-width="0.9"/>
<text x="405" y="191.75" font-size="8.6" text-anchor="end" font-weight="bold" fill="#111">3</text>
<line x1="407.6" y1="162.97" x2="405.2" y2="162.97" stroke="#111" stroke-width="0.9"/>
<text x="405" y="165.88" font-size="8.6" text-anchor="end" font-weight="bold" fill="#111">4</text>
<line x1="407.6" y1="137.1" x2="405.2" y2="137.1" stroke="#111" stroke-width="0.9"/>
<text x="405" y="140" font-size="8.6" text-anchor="end" font-weight="bold" fill="#111">5</text>
<line x1="407.6" y1="227.66" x2="406.3" y2="227.66" stroke="#111" stroke-width="0.8"/>
<line x1="407.6" y1="201.79" x2="406.3" y2="201.79" stroke="#111" stroke-width="0.8"/>
<line x1="407.6" y1="175.91" x2="406.3" y2="175.91" stroke="#111" stroke-width="0.8"/>
<line x1="407.6" y1="150.04" x2="406.3" y2="150.04" stroke="#111" stroke-width="0.8"/>
<line x1="407.6" y1="240.6" x2="407.6" y2="243" stroke="#111" stroke-width="0.9"/>
<text x="407.6" y="251.2" font-size="8.6" text-anchor="middle" font-weight="bold" fill="#111">0</text>
<line x1="427.2" y1="240.6" x2="427.2" y2="243" stroke="#111" stroke-width="0.9"/>
<text x="427.2" y="251.2" font-size="8.6" text-anchor="middle" font-weight="bold" fill="#111">2</text>
<line x1="446.8" y1="240.6" x2="446.8" y2="243" stroke="#111" stroke-width="0.9"/>
<text x="446.8" y="251.2" font-size="8.6" text-anchor="middle" font-weight="bold" fill="#111">4</text>
<line x1="466.4" y1="240.6" x2="466.4" y2="243" stroke="#111" stroke-width="0.9"/>
<text x="466.4" y="251.2" font-size="8.6" text-anchor="middle" font-weight="bold" fill="#111">6</text>
<line x1="486" y1="240.6" x2="486" y2="243" stroke="#111" stroke-width="0.9"/>
<text x="486" y="251.2" font-size="8.6" text-anchor="middle" font-weight="bold" fill="#111">8</text>
<line x1="505.6" y1="240.6" x2="505.6" y2="243" stroke="#111" stroke-width="0.9"/>
<text x="505.6" y="251.2" font-size="8.6" text-anchor="middle" font-weight="bold" fill="#111">10</text>
<line x1="525.2" y1="240.6" x2="525.2" y2="243" stroke="#111" stroke-width="0.9"/>
<text x="525.2" y="251.2" font-size="8.6" text-anchor="middle" font-weight="bold" fill="#111">12</text>
<line x1="417.4" y1="240.6" x2="417.4" y2="241.9" stroke="#111" stroke-width="0.8"/>
<line x1="437" y1="240.6" x2="437" y2="241.9" stroke="#111" stroke-width="0.8"/>
<line x1="456.6" y1="240.6" x2="456.6" y2="241.9" stroke="#111" stroke-width="0.8"/>
<line x1="476.2" y1="240.6" x2="476.2" y2="241.9" stroke="#111" stroke-width="0.8"/>
<line x1="495.8" y1="240.6" x2="495.8" y2="241.9" stroke="#111" stroke-width="0.8"/>
<line x1="515.4" y1="240.6" x2="515.4" y2="241.9" stroke="#111" stroke-width="0.8"/>
<text x="466.4" y="261.8" font-size="8.8" text-anchor="middle" font-weight="bold" fill="#111">k (Å<tspan font-size="5.5" dy="-3">-1</tspan><tspan dy="3">)</tspan></text>
<text x="395.5" y="188.85" font-size="8.8" text-anchor="middle" font-weight="bold" fill="#111" transform="rotate(-90 395.5 188.85)">R+α (Å)</text>
<text x="411.9" y="151" font-size="10.8" text-anchor="start" font-weight="bold" fill="#f4f4f4">ZnO</text>
<g clip-path="url(#cpd4)"><g filter="url(#cm)">
<rect x="559.6" y="135" width="122.5" height="107.6" fill="rgb(31,31,31)"/>
<g style="isolation:isolate">
<ellipse cx="607.02" cy="226.35" rx="133.31" ry="10.1" fill="url(#gw)" fill-opacity="0.3" style="mix-blend-mode:plus-lighter"/>
<ellipse cx="610.98" cy="226.35" rx="148.12" ry="31.08" fill="url(#gw)" fill-opacity="0.7" style="mix-blend-mode:plus-lighter"/>
<ellipse cx="588.26" cy="191.91" rx="44.44" ry="21.76" fill="url(#gw)" fill-opacity="0.2" style="mix-blend-mode:plus-lighter"/>
<ellipse cx="591.23" cy="193.98" rx="88.88" ry="46.62" fill="url(#gw)" fill-opacity="0.25" style="mix-blend-mode:plus-lighter"/>
<ellipse cx="586.29" cy="162.9" rx="74.06" ry="46.62" fill="url(#gw)" fill-opacity="0.12" style="mix-blend-mode:plus-lighter"/>
</g>
<ellipse cx="592.9" cy="171.45" rx="23.7" ry="7.77" fill="url(#gb)" fill-opacity="0.75"/>
<ellipse cx="629.74" cy="200.2" rx="26.66" ry="7.77" fill="url(#gb)" fill-opacity="0.57"/>
<ellipse cx="652.45" cy="207.45" rx="26.66" ry="6.22" fill="url(#gb)" fill-opacity="0.57"/>
<ellipse cx="638.62" cy="214.96" rx="29.62" ry="5.44" fill="url(#gb)" fill-opacity="0.69"/>
<ellipse cx="660.35" cy="175.85" rx="65.18" ry="77.7" fill="url(#gb)" fill-opacity="0.46"/>
<ellipse cx="630.73" cy="178.44" rx="23.7" ry="7.77" fill="url(#gb)" fill-opacity="0.34"/>
</g>
<path d="M679.9 147.3 679.3 146.6 678.6 146.0 677.8 145.3 676.9 144.7 676.3 144.2 675.6 143.7 674.6 143.0 673.9 142.6 672.9 142.1 672.1 141.7 671.3 141.3 670.3 140.8 669.3 140.4 668.3 140.1 667.3 139.8 666.3 139.5 665.3 139.3 663.9 139.1 662.9 139.0 661.6 138.9 660.3 138.8 658.9 138.9 657.6 139.0 656.6 139.1 655.3 139.3 654.3 139.5 653.3 139.8 652.3 140.1 651.3 140.4 650.4 141.0 649.7 141.7 649.0 142.3 648.3 143.0 647.6 143.7 647.0 144.3 646.4 145.0 645.8 145.7 645.3 146.3 644.6 147.2 644.0 148.0 643.5 148.7 643.0 149.7 642.6 150.5 642.2 151.3 641.7 152.3 641.3 153.2 640.9 154.0 640.5 155.0 640.5 156.3 640.6 157.7 640.6 158.7 640.7 160.0 640.7 161.3 640.7 162.7 640.6 164.0 640.7 165.3 640.8 166.7 641.0 167.7 641.2 169.0 641.3 170.0 641.6 171.3 641.6 172.3 641.5 173.3 641.1 174.3 640.3 175.0 639.6 175.4 638.6 175.7 637.6 176.1 636.3 176.3 635.3 176.5 634.3 176.7 632.9 177.0 631.9 177.3 631.2 177.7 631.4 178.7 632.3 179.0 633.4 179.3 634.6 179.5 635.9 179.7 636.9 179.7 638.3 179.8 639.6 180.0 640.6 180.2 641.6 180.5 642.6 180.8 643.5 181.3 644.3 181.9 644.9 182.6 645.5 183.3 646.0 184.0 646.5 185.0 646.9 186.0 647.3 186.8 647.6 187.7 648.1 188.7 648.6 189.6 649.0 190.3 649.5 191.3 649.9 192.1 650.4 193.0 650.9 193.8 651.5 194.7 651.9 195.4 652.4 196.3 653.3 196.7 654.3 197.1 655.3 197.5 656.3 197.9 657.3 198.2 658.3 198.5 659.3 198.7 660.6 199.0 661.6 199.2 662.6 199.3 663.9 199.6 665.0 199.7 666.3 199.7 667.6 199.8 668.9 199.8 670.3 199.9 671.6 199.9 672.9 199.9 674.3 199.9 675.6 199.9 676.9 199.8 678.3 199.8 679.6 199.7M595.6 172.3 596.6 172.0 597.1 171.0 596.3 170.4 595.3 170.2 594.2 170.0 592.9 169.9 591.8 170.0 590.6 170.2 589.6 170.5 588.9 171.0 589.3 171.9 590.3 172.3 591.3 172.5 592.6 172.6 593.9 172.6 595.3 172.4M634.3 201.0 635.3 200.8 636.3 200.4 636.8 199.7 635.9 199.1 634.9 198.8 633.9 198.6 632.6 198.6 631.3 198.6 630.2 198.7 628.9 198.9 627.9 199.3 627.3 199.7 627.6 200.5 628.6 200.9 629.6 201.1 630.9 201.2 632.3 201.2 633.6 201.1M657.0 208.3 658.3 208.1 659.3 207.9 660.3 207.6 661.1 207.0 660.8 206.0 659.9 205.6 658.8 205.3 657.6 205.2 656.3 205.1 654.9 205.0 653.6 205.1 652.3 205.2 651.0 205.3 649.9 205.5 648.9 205.7 647.9 206.1 647.0 206.7 647.2 207.3 647.9 207.7 648.9 208.1 650.3 208.3 651.3 208.4 652.6 208.5 653.9 208.5 655.3 208.5 656.6 208.4M561.6 161.8 562.2 161.0 562.7 160.3 563.3 159.7 564.0 159.0 564.7 158.3 565.5 157.7 566.3 157.0 566.9 156.4 567.6 155.9 568.4 155.3 569.3 154.8 570.0 154.3 570.9 153.9 571.9 153.4 572.7 153.0 573.6 152.7 574.6 152.3 575.6 152.0 576.6 151.7 577.9 151.3 578.9 151.1 579.9 150.9 581.3 150.7 582.3 150.6 583.6 150.5 584.9 150.4 586.3 150.3 587.6 150.4 588.9 150.4 590.3 150.5 591.6 150.7 592.6 150.8 593.7 151.0 594.9 151.3 595.9 151.5 596.9 151.8 597.9 152.1 598.9 152.5 599.9 153.0 600.6 153.3 601.6 153.9 602.3 154.3 603.2 155.0 603.9 155.5 604.6 156.0 605.5 156.7 606.3 157.3 606.9 157.8 607.6 158.4 608.3 159.2 608.9 160.0 609.6 160.7 610.2 161.3 610.8 162.0 611.3 162.7 611.9 163.5 612.5 164.3 612.9 165.1 613.6 165.9 614.2 166.7 614.6 167.3 615.3 168.3 615.7 169.0 616.3 169.9 616.8 170.7 617.3 171.3 617.8 172.3 618.0 173.3 617.9 174.7 617.8 175.7 617.9 177.0 618.2 178.0 618.6 178.9 619.2 179.7 619.8 180.3 620.6 181.0 621.3 181.4 622.1 182.0 622.9 182.6 623.6 183.0 624.4 183.7 625.1 184.3 625.7 185.0 626.3 185.7 626.7 186.7 627.1 187.7 627.4 188.7 627.7 189.7 627.9 190.8 628.1 192.0 627.8 193.0 627.3 193.9 626.6 194.5 625.8 195.0 624.9 195.4 623.9 196.0 623.3 196.3 622.3 196.8 621.4 197.3 620.6 197.8 619.9 198.3 619.2 199.0 618.9 200.0 619.3 201.0 619.9 201.5 620.7 202.0 621.6 202.5 622.6 202.8 623.6 203.2 624.6 203.4 625.7 203.7 626.9 203.9 627.9 204.1 629.3 204.3 630.3 204.5 631.4 204.7 632.6 204.9 633.6 205.2 634.6 205.6 635.4 206.0 636.3 206.6 637.0 207.0 637.9 207.6 638.6 208.0 639.6 208.5 640.6 208.8 641.6 209.2 642.6 209.4 643.6 209.7 644.9 210.0 645.9 210.2 647.0 210.3 648.3 210.5 649.4 210.7 650.6 210.8 651.9 210.9 653.3 211.0 654.3 211.1 655.6 211.1 656.9 211.2 658.3 211.2 659.6 211.3 660.9 211.3 662.3 211.3 663.3 211.3 664.6 211.4 665.9 211.5 667.3 211.6 668.5 211.7 669.6 211.7 670.9 211.9 672.0 212.0 673.3 212.2 674.6 212.3 675.6 212.4 676.9 212.6 677.9 212.7 679.3 212.9M597.5 174.3 598.6 174.2 599.8 174.0 600.9 173.7 601.9 173.5 602.9 173.1 603.9 172.7 604.7 172.3 605.6 171.7 605.8 170.7 605.3 169.9 604.4 169.3 603.6 169.0 602.6 168.6 601.5 168.3 600.3 168.1 599.3 167.9 597.9 167.8 596.6 167.7 595.6 167.6 594.3 167.6 592.9 167.6 591.6 167.6 590.6 167.7 589.3 167.8 588.2 168.0 586.9 168.2 585.9 168.5 584.9 168.8 583.9 169.2 583.1 169.7 582.3 170.3 582.1 171.3 582.6 172.1 583.4 172.7 584.3 173.1 585.3 173.5 586.3 173.8 587.4 174.0 588.6 174.2 589.6 174.3 590.9 174.5 592.3 174.5 593.6 174.5 594.9 174.5 596.3 174.4 597.5 174.3M642.2 216.0 643.3 215.9 644.6 215.8 645.6 215.7 646.9 215.4 647.9 215.1 648.8 214.7 648.7 214.0 647.9 213.6 646.8 213.3 645.6 213.1 644.3 213.0 643.3 212.9 641.9 212.9 640.6 212.9 639.3 212.9 637.9 213.0 636.9 213.1 635.6 213.2 634.6 213.4 633.3 213.6 632.3 213.9 631.6 214.7 632.6 215.3 633.6 215.5 634.6 215.7 635.9 215.9 637.3 216.0 638.3 216.0 639.6 216.1 640.9 216.0 642.2 216.0M561.6 209.0 562.3 208.6 563.3 208.1 563.9 207.5 564.6 206.7 565.1 206.0 565.6 205.2 565.7 204.0 565.5 203.0 565.3 202.0 564.7 201.0 564.3 200.0 563.9 199.2 563.6 198.1 563.4 197.0 563.0 196.0 562.6 195.3 562.2 194.3 561.9 193.3 561.7 192.0 561.8 190.7 561.9 189.7 562.3 188.4 562.6 187.6 563.1 186.7 563.6 185.8 564.2 185.0 564.7 184.3 565.3 183.7 565.9 183.0 566.7 182.3 567.4 181.7 568.2 181.0 568.9 180.4 569.6 179.9 570.4 179.3 571.3 178.8 571.9 178.3 572.9 177.8 573.7 177.3 574.6 176.9 575.6 176.5 576.8 176.3 577.9 176.2 579.3 176.1 580.6 176.1 581.9 176.1 583.3 176.2 584.6 176.3 585.6 176.4 586.9 176.5 588.3 176.5 589.6 176.6 590.6 176.7 591.9 176.7 593.3 176.8 594.6 176.8 595.9 176.9 597.3 177.0 598.3 177.0 599.6 177.2 600.8 177.3 601.9 177.6 602.9 177.8 604.0 178.0 604.9 178.4 605.9 179.0 606.6 179.4 607.4 180.0 608.3 180.7 608.9 181.2 609.6 181.7 610.3 182.3 611.1 183.0 611.8 183.7 612.3 184.3 612.9 185.0 613.6 185.9 614.1 186.7 614.6 187.7 614.9 188.4 615.3 189.3 615.6 190.5 615.8 191.7 615.7 193.0 615.4 194.0 614.9 194.7 614.4 195.7 613.9 196.4 613.3 197.3 612.8 198.0 612.3 199.0 611.9 199.9 611.9 200.9 612.3 201.8 612.8 202.7 613.6 203.3 614.3 203.7 615.2 204.3 615.9 204.7 616.9 205.2 617.9 205.6 618.9 206.0 619.9 206.3 620.9 206.6 621.9 206.9 622.9 207.1 623.9 207.4 625.0 207.7 626.0 208.0 626.9 208.4 627.9 208.7 629.1 209.0 630.2 209.3 631.2 209.7 631.9 210.1 632.9 210.7 632.9 211.3 631.9 211.8 630.9 212.1 629.9 212.4 628.9 212.8 627.9 213.2 627.1 213.7 626.9 214.7 627.6 215.2 628.6 215.6 629.6 215.9 630.6 216.1 631.8 216.3 632.9 216.5 634.3 216.6 635.3 216.7 636.6 216.8 637.9 216.9 639.3 216.9 640.6 216.9 641.9 216.9 643.3 216.9 644.6 216.9 645.9 216.9 647.3 216.8 648.6 216.7 649.9 216.7 650.9 216.6 652.3 216.5 653.6 216.4 654.9 216.3 655.9 216.3 657.3 216.2 658.6 216.2 659.9 216.2 661.3 216.3 662.3 216.4 663.6 216.6 664.6 216.7 665.9 216.9 666.9 217.1 668.2 217.3 669.3 217.5 670.3 217.7 671.6 217.9 672.6 218.1 673.6 218.3 674.9 218.6 675.9 218.8 676.9 219.1 678.1 219.3 679.3 219.6M679.9 233.4 678.9 233.7 677.9 234.0 676.6 234.3 675.6 234.6 674.6 234.9 673.6 235.1 672.6 235.4 671.6 235.7 670.6 236.0 669.3 236.3 668.3 236.6 667.3 236.8 666.3 237.1 665.0 237.3 663.9 237.6 662.9 237.8 661.8 238.0 660.6 238.2 659.6 238.4 658.3 238.7 657.3 238.8 656.2 239.0 654.9 239.2 653.9 239.4 652.6 239.6 651.6 239.7 650.3 239.9 649.3 240.0 647.9 240.2 646.7 240.3M573.1 240.3 571.9 240.2 570.6 240.0 569.6 239.9 568.3 239.7 567.3 239.6 565.9 239.4 564.9 239.2 563.6 239.0 562.6 238.9M591.9 204.0 590.6 204.1 589.6 204.0 588.3 203.8 587.3 203.6 586.3 203.3 584.9 203.0 583.9 202.7 582.9 202.4 581.9 202.0 581.1 201.7 580.3 201.3 579.3 200.8 578.3 200.4 577.5 200.0 576.6 199.4 575.9 198.9 575.2 198.3 574.6 197.7 573.9 196.8 573.4 196.0 572.7 195.3 572.2 194.7 571.7 193.7 571.4 192.7 571.2 191.7 571.3 190.7 571.6 189.7 572.1 188.7 572.6 187.9 573.3 187.1 573.9 186.5 574.6 186.0 575.5 185.3 576.3 184.9 577.3 184.3 577.9 184.0 578.9 183.6 579.9 183.2 580.9 182.9 581.9 182.6 583.2 182.3 584.3 182.1 585.3 182.0 586.6 181.9 587.9 181.8 589.3 181.8 590.6 181.8 591.9 181.9 592.9 182.0 594.3 182.3 595.3 182.5 596.3 182.7 597.3 183.1 598.3 183.5 599.3 183.9 600.1 184.3 600.9 184.8 601.8 185.3 602.6 185.9 603.3 186.4 603.9 187.0 604.6 187.7 605.3 188.6 605.7 189.3 606.1 190.3 606.3 191.3 606.3 192.7 606.1 193.7 605.6 194.6 605.2 195.3 604.9 196.3 604.4 197.3 603.9 198.0 603.3 198.7 602.5 199.3 601.6 200.0 600.9 200.4 600.2 201.0 599.3 201.7 598.6 202.0 597.6 202.5 596.6 202.8 595.6 203.1 594.6 203.5 593.6 203.8 592.3 204.0M561.6 216.0 562.6 215.6 563.6 215.2 564.6 214.9 565.6 214.6 566.6 214.3 567.6 214.0 568.7 213.7 569.9 213.3 570.9 213.0 571.9 212.7 572.9 212.4 573.9 212.1 574.9 211.8 575.9 211.4 576.9 211.1 577.9 210.8 578.9 210.5 579.9 210.2 580.9 210.0 582.2 209.7 583.3 209.4 584.3 209.1 585.3 208.9 586.3 208.6 587.3 208.3 588.5 208.0 589.6 207.7 590.6 207.5 591.6 207.3 592.9 207.2 594.3 207.3 595.3 207.4 596.6 207.6 597.6 207.7 598.9 207.9 599.9 208.1 601.3 208.3 602.3 208.4 603.6 208.6 604.6 208.8 605.9 209.0 606.9 209.2 607.9 209.4 609.3 209.6 610.3 209.8 611.3 210.0 612.6 210.3 613.6 210.4 614.9 210.6 615.9 210.8 617.3 211.0 618.2 211.3 619.1 211.7 619.9 212.0 620.6 212.7 621.1 213.7 621.6 214.3 622.4 215.0 623.3 215.4 624.3 215.8 625.3 216.1 626.3 216.3 627.6 216.6 628.6 216.8 629.9 217.0 630.9 217.1 632.3 217.3 633.3 217.4 634.6 217.5 635.9 217.6 637.2 217.7 638.3 217.7 639.6 217.8 640.9 217.9 642.3 217.9 643.6 218.0 644.9 218.0 645.9 218.0 647.3 218.1 648.6 218.1 649.9 218.2 651.3 218.3 652.3 218.4 653.6 218.5 654.8 218.7 655.9 218.8 657.3 219.0 658.3 219.2 659.3 219.4 660.5 219.7 661.6 219.9 662.6 220.1 663.6 220.4 664.9 220.6 665.9 220.9 666.9 221.1 668.0 221.3 669.3 221.6 670.3 221.8 671.3 222.1 672.3 222.3 673.5 222.7 674.6 223.0 675.6 223.3 676.6 223.6 677.5 224.0 678.3 224.3 679.3 224.9 679.9 225.6M679.9 227.1 679.3 227.7 678.3 228.3 677.6 228.7 676.6 229.1 675.6 229.5 674.6 229.9 673.6 230.2 672.6 230.5 671.6 230.8 670.6 231.1 669.6 231.3 668.4 231.7 667.3 232.0 666.3 232.2 665.3 232.5 664.3 232.7 663.2 233.0 661.9 233.3 660.9 233.5 659.9 233.8 658.9 234.0 657.6 234.3 656.6 234.5 655.6 234.7 654.3 235.0 653.3 235.2 652.3 235.4 650.9 235.6 649.9 235.8 648.7 236.0 647.6 236.2 646.6 236.4 645.3 236.6 644.3 236.8 642.9 237.0 641.9 237.1 640.6 237.3 639.6 237.4 638.3 237.6 637.3 237.7 635.9 237.8 634.6 237.9 633.6 238.0 632.3 238.2 630.9 238.3 629.9 238.4 628.6 238.5 627.3 238.6 625.9 238.7 624.9 238.7 623.6 238.8 622.3 238.9 620.9 238.9 619.6 239.0 618.6 239.0 617.3 239.0 615.9 239.1 614.6 239.1 613.3 239.1 611.9 239.1 610.6 239.1 609.3 239.1 607.9 239.1 606.6 239.1 605.3 239.1 603.9 239.1 602.6 239.0 601.6 239.0 600.3 239.0 598.9 238.9 597.6 238.9 596.3 238.8 594.9 238.7 593.7 238.7 592.6 238.6 591.3 238.5 589.9 238.4 588.8 238.3 587.6 238.2 586.3 238.1 584.9 238.0 583.9 237.9 582.6 237.8 581.6 237.7 580.3 237.5 578.9 237.4 577.9 237.2 576.6 237.1 575.6 236.9 574.3 236.7 573.3 236.6 571.9 236.4 570.9 236.2 569.9 236.0 568.6 235.8 567.6 235.6 566.3 235.4 565.3 235.2 564.0 235.0 562.9 234.8 561.9 234.6M589.6 195.7 588.3 195.7 587.3 195.6 585.9 195.4 584.9 195.1 583.9 194.8 583.1 194.3 582.3 193.7 581.7 193.0 581.3 192.1 581.3 191.2 581.6 190.3 582.3 189.6 583.1 189.0 583.9 188.6 584.9 188.2 585.9 188.0 587.3 187.7 588.6 187.7 589.9 187.7 591.3 187.9 592.3 188.1 593.3 188.4 594.3 188.9 595.0 189.3 595.9 190.0 596.4 190.7 596.7 191.7 596.3 192.7 595.8 193.3 595.1 194.0 594.3 194.5 593.3 194.9 592.3 195.2 591.3 195.5 589.9 195.7M561.6 220.1 562.6 219.8 563.6 219.6 564.6 219.3 565.8 219.0 566.9 218.7 567.9 218.5 568.9 218.2 569.9 217.9 570.9 217.7 572.2 217.3 573.3 217.1 574.3 216.9 575.3 216.7 576.6 216.4 577.6 216.2 578.6 216.0 579.9 215.7 580.9 215.5 581.9 215.3 583.3 215.0 584.3 214.9 585.5 214.7 586.6 214.5 587.9 214.3 588.9 214.2 590.3 214.1 591.3 214.0 592.6 213.9 593.9 213.8 595.3 213.7 596.3 213.6 597.6 213.6 598.9 213.5 600.3 213.5 601.6 213.5 602.9 213.5 604.3 213.5 605.6 213.6 606.6 213.7 607.9 213.8 609.3 213.9 610.3 214.1 611.5 214.3 612.6 214.5 613.6 214.7 614.7 215.0 615.9 215.3 616.9 215.6 617.9 215.9 618.9 216.1 619.9 216.4 621.3 216.6 622.3 216.8 623.3 217.0 624.6 217.2 625.6 217.4 626.9 217.6 627.9 217.8 629.3 217.9 630.3 218.0 631.6 218.2 632.9 218.3 633.9 218.4 635.3 218.6 636.4 218.7 637.6 218.8 638.9 218.9 639.9 219.0 641.3 219.2 642.6 219.3 643.6 219.4 644.9 219.6 645.9 219.7 647.3 219.9 648.3 220.0 649.6 220.3 650.6 220.5 651.6 220.7 652.9 221.0 653.9 221.2 654.9 221.4 656.1 221.7 657.3 221.9 658.3 222.2 659.3 222.4 660.3 222.7 661.6 223.0 662.6 223.3 663.6 223.6 664.6 223.9 665.6 224.2 666.6 224.6 667.3 225.0 668.2 225.7 668.4 226.7 667.9 227.3 666.9 227.9 666.1 228.3 665.3 228.7 664.3 229.1 663.3 229.4 662.3 229.7 661.1 230.0 659.9 230.3 658.9 230.6 657.9 230.8 656.9 231.0 655.7 231.3 654.6 231.6 653.6 231.8 652.5 232.0 651.3 232.3 650.3 232.5 649.2 232.7 647.9 232.9 646.9 233.1 645.6 233.3 644.6 233.5 643.5 233.7 642.3 233.9 641.3 234.0 639.9 234.2 638.9 234.4 637.6 234.6 636.6 234.7 635.3 234.9 634.0 235.0 632.9 235.1 631.6 235.3 630.6 235.4 629.3 235.5 627.9 235.6 626.9 235.7 625.6 235.8 624.3 235.9 622.9 236.0 621.9 236.0 620.6 236.1 619.3 236.2 617.9 236.2 616.6 236.3 615.3 236.3 614.3 236.3 612.9 236.4 611.6 236.4 610.3 236.4 608.9 236.4 607.6 236.4 606.3 236.4 605.3 236.3 603.9 236.3 602.6 236.3 601.3 236.2 599.9 236.2 598.6 236.1 597.3 236.1 596.3 236.0 594.9 235.9 593.6 235.8 592.3 235.8 591.0 235.7 589.9 235.6 588.6 235.5 587.3 235.4 586.3 235.3 584.9 235.1 583.7 235.0 582.6 234.9 581.3 234.7 580.3 234.6 578.9 234.4 577.9 234.3 576.6 234.1 575.6 233.9 574.3 233.7 573.3 233.6 571.9 233.4 570.9 233.2 569.8 233.0 568.6 232.8 567.6 232.6 566.3 232.4 565.3 232.2 564.3 232.0 562.9 231.7 561.9 231.5M561.6 222.9 562.6 222.7 563.9 222.3 564.9 222.1 565.9 221.8 566.9 221.6 568.2 221.3 569.3 221.1 570.3 220.9 571.4 220.7 572.6 220.4 573.6 220.2 574.9 220.0 575.9 219.8 576.9 219.6 578.3 219.4 579.3 219.2 580.4 219.0 581.6 218.8 582.6 218.6 583.9 218.4 584.9 218.3 586.3 218.1 587.3 218.0 588.6 217.8 589.9 217.7 590.9 217.6 592.3 217.4 593.3 217.3 594.6 217.2 595.9 217.1 597.3 217.1 598.4 217.0 599.6 217.0 600.9 216.9 602.3 216.9 603.6 216.9 604.9 216.9 606.3 216.9 607.6 216.9 608.9 217.0 609.9 217.1 611.3 217.1 612.6 217.3 613.6 217.4 614.9 217.6 615.9 217.7 617.3 217.8 618.6 218.0 619.6 218.1 620.9 218.3 621.9 218.4 623.3 218.6 624.3 218.7 625.6 218.9 626.7 219.0 627.9 219.1 629.3 219.3 630.3 219.4 631.6 219.6 632.6 219.7 633.9 219.9 635.0 220.0 636.3 220.2 637.4 220.3 638.6 220.5 639.6 220.7 640.9 221.0 641.9 221.1 643.0 221.3 644.3 221.6 645.3 221.8 646.4 222.0 647.6 222.2 648.6 222.5 649.6 222.7 650.9 223.0 651.9 223.2 652.9 223.5 653.9 223.8 654.9 224.2 655.9 224.5 656.9 225.0 657.6 225.5 658.2 226.3 657.6 227.3 656.9 227.7 655.9 228.2 654.9 228.5 653.9 228.9 652.9 229.1 651.9 229.4 650.9 229.7 649.6 229.9 648.6 230.2 647.6 230.4 646.3 230.7 645.3 230.8 644.3 231.0 642.9 231.2 641.9 231.4 640.6 231.6 639.6 231.8 638.3 232.0 637.3 232.1 635.9 232.3 634.9 232.4 633.6 232.6 632.6 232.7 631.3 232.9 630.1 233.0 628.9 233.1 627.6 233.2 626.6 233.3 625.3 233.4 623.9 233.5 622.6 233.6 621.6 233.7 620.3 233.8 618.9 233.9 617.6 234.0 616.5 234.0 615.3 234.0 613.9 234.1 612.6 234.1 611.3 234.1 609.9 234.1 608.6 234.1 607.3 234.1 605.9 234.1 604.6 234.0 603.5 234.0 602.3 234.0 600.9 233.9 599.6 233.9 598.3 233.8 596.9 233.7 595.9 233.6 594.6 233.6 593.3 233.5 591.9 233.4 590.9 233.3 589.6 233.2 588.3 233.1 587.3 233.0 585.9 232.8 584.6 232.7 583.6 232.6 582.3 232.4 581.3 232.3 579.9 232.2 578.7 232.0 577.6 231.8 576.3 231.7 575.3 231.5 574.0 231.3 572.9 231.2 571.8 231.0 570.6 230.8 569.6 230.6 568.3 230.4 567.3 230.2 566.2 230.0 564.9 229.7 563.9 229.5 562.9 229.3 561.7 229.0M616.9 232.0 615.6 232.1 614.3 232.1 612.9 232.1 611.6 232.1 610.3 232.1 608.9 232.1 607.6 232.1 606.3 232.1 604.9 232.1 603.6 232.1 602.3 232.0 601.3 232.0 599.9 231.9 598.6 231.9 597.3 231.8 595.9 231.7 594.6 231.7 593.6 231.6 592.3 231.5 590.9 231.4 589.9 231.3 588.6 231.2 587.3 231.1 586.2 231.0 584.9 230.9 583.6 230.7 582.6 230.6 581.3 230.5 580.0 230.3 578.9 230.2 577.6 230.0 576.6 229.8 575.5 229.7 574.3 229.5 573.3 229.3 571.9 229.0 570.9 228.8 569.9 228.6 568.9 228.3 567.7 228.0 566.8 227.7 565.9 227.3 564.9 226.7 564.6 226.0 564.9 225.3 565.9 224.7 566.7 224.3 567.6 224.0 568.7 223.7 569.9 223.3 570.9 223.1 571.9 222.9 572.9 222.6 574.3 222.4 575.3 222.2 576.3 222.0 577.6 221.8 578.6 221.6 579.9 221.4 580.9 221.3 582.3 221.1 583.3 220.9 584.6 220.8 585.6 220.6 586.9 220.5 588.3 220.4 589.3 220.2 590.6 220.1 591.9 220.0 592.9 219.9 594.3 219.8 595.6 219.7 596.7 219.7 597.9 219.6 599.3 219.5 600.6 219.5 601.9 219.5 603.3 219.4 604.6 219.4 605.9 219.4 607.3 219.4 608.6 219.5 609.9 219.5 611.3 219.6 612.6 219.6 613.6 219.7 614.9 219.8 616.3 219.8 617.6 219.9 618.6 220.0 619.9 220.1 621.3 220.2 622.3 220.3 623.6 220.5 624.9 220.6 625.9 220.7 627.3 220.9 628.5 221.0 629.6 221.1 630.9 221.3 631.9 221.5 633.2 221.7 634.3 221.8 635.4 222.0 636.6 222.2 637.6 222.4 638.9 222.6 639.9 222.8 641.0 223.0 642.3 223.3 643.3 223.5 644.3 223.7 645.3 224.0 646.4 224.3 647.3 224.7 648.3 225.1 649.0 225.7 648.9 226.9 648.3 227.4 647.3 227.8 646.3 228.2 645.3 228.5 644.3 228.8 643.3 229.0 641.9 229.3 640.9 229.5 639.9 229.7 638.6 229.9 637.6 230.1 636.3 230.3 635.3 230.4 633.9 230.6 632.9 230.7 631.6 230.9 630.4 231.0 629.3 231.1 627.9 231.2 626.9 231.3 625.6 231.5 624.3 231.6 622.9 231.7 621.9 231.7 620.6 231.8 619.3 231.9 617.9 232.0 616.9 232.0M617.9 230.3 616.6 230.4 615.3 230.5 613.9 230.5 612.6 230.5 611.3 230.6 609.9 230.6 608.6 230.6 607.3 230.6 605.9 230.5 604.6 230.5 603.3 230.5 601.9 230.5 600.6 230.4 599.3 230.4 598.3 230.3 596.9 230.3 595.6 230.2 594.3 230.1 592.9 230.0 591.9 229.9 590.6 229.8 589.3 229.7 588.3 229.6 586.9 229.4 585.9 229.3 584.6 229.2 583.4 229.0 582.3 228.8 581.2 228.7 579.9 228.5 578.9 228.3 577.7 228.0 576.6 227.7 575.6 227.5 574.6 227.1 573.8 226.7 573.4 225.7 574.3 225.0 575.1 224.7 576.1 224.3 577.3 224.0 578.3 223.8 579.3 223.6 580.5 223.3 581.6 223.1 582.6 223.0 583.9 222.8 584.9 222.6 586.3 222.5 587.5 222.3 588.6 222.2 589.9 222.1 590.9 222.0 592.3 221.9 593.6 221.7 594.6 221.7 595.9 221.6 597.3 221.5 598.6 221.4 599.9 221.4 600.9 221.3 602.3 221.3 603.6 221.3 604.9 221.2 606.3 221.2 607.6 221.2 608.9 221.3 610.3 221.3 611.3 221.3 612.6 221.4 613.9 221.5 615.3 221.5 616.6 221.6 617.6 221.7 618.9 221.8 620.3 221.9 621.6 222.0 622.6 222.1 623.9 222.2 625.1 222.3 626.3 222.5 627.6 222.6 628.6 222.7 629.9 222.9 630.9 223.1 632.3 223.3 633.3 223.5 634.3 223.7 635.6 224.0 636.6 224.3 637.6 224.5 638.6 224.9 639.6 225.3 640.3 226.0 640.1 226.7 639.3 227.3 638.3 227.7 637.3 228.0 636.3 228.2 635.3 228.5 634.2 228.7 632.9 228.9 631.9 229.1 630.6 229.3 629.6 229.4 628.3 229.5 627.1 229.7 625.9 229.8 624.6 229.9 623.3 230.0 622.3 230.1 620.9 230.2 619.6 230.2 618.3 230.3M614.3 229.0 612.9 229.1 611.6 229.1 610.3 229.1 608.9 229.1 607.6 229.1 606.3 229.1 604.9 229.1 603.6 229.0 602.6 229.0 601.3 228.9 599.9 228.9 598.6 228.8 597.3 228.7 596.3 228.6 594.9 228.5 593.6 228.4 592.6 228.3 591.3 228.2 589.9 228.0 588.9 227.9 587.6 227.7 586.6 227.5 585.6 227.2 584.6 226.9 583.6 226.3 583.6 225.7 584.6 225.1 585.6 224.8 586.6 224.5 587.6 224.3 588.9 224.1 589.9 223.9 591.3 223.8 592.3 223.6 593.6 223.5 594.9 223.4 595.9 223.3 597.3 223.2 598.6 223.1 599.9 223.1 601.3 223.0 602.3 223.0 603.6 222.9 604.9 222.9 606.3 222.9 607.6 222.9 608.9 222.9 610.3 222.9 611.6 223.0 612.6 223.0 613.9 223.1 615.3 223.2 616.6 223.3 617.7 223.3 618.9 223.4 620.3 223.6 621.3 223.7 622.6 223.8 623.8 224.0 624.9 224.2 625.9 224.4 627.3 224.7 628.3 224.9 629.3 225.2 630.1 225.7 630.3 226.4 629.3 227.0 628.3 227.3 627.3 227.6 626.3 227.8 625.1 228.0 623.9 228.2 622.7 228.3 621.6 228.4 620.3 228.6 619.3 228.7 617.9 228.8 616.6 228.9 615.3 229.0 614.3 229.0" fill="none" stroke="#303030" stroke-opacity="0.6" stroke-width="0.7"/>
</g>
<rect x="561.6" y="137" width="118.5" height="103.6" fill="none" stroke="#1a1a1a" stroke-width="0.9"/>
<line x1="561.6" y1="137" x2="561.6" y2="241.1" stroke="#111" stroke-width="1.1"/>
<line x1="561.1" y1="240.6" x2="680.1" y2="240.6" stroke="#111" stroke-width="1.1"/>
<line x1="561.6" y1="240.6" x2="559.2" y2="240.6" stroke="#111" stroke-width="0.9"/>
<text x="559" y="243.5" font-size="8.6" text-anchor="end" font-weight="bold" fill="#111">1</text>
<line x1="561.6" y1="214.7" x2="559.2" y2="214.7" stroke="#111" stroke-width="0.9"/>
<text x="559" y="217.6" font-size="8.6" text-anchor="end" font-weight="bold" fill="#111">2</text>
<line x1="561.6" y1="188.8" x2="559.2" y2="188.8" stroke="#111" stroke-width="0.9"/>
<text x="559" y="191.7" font-size="8.6" text-anchor="end" font-weight="bold" fill="#111">3</text>
<line x1="561.6" y1="162.9" x2="559.2" y2="162.9" stroke="#111" stroke-width="0.9"/>
<text x="559" y="165.8" font-size="8.6" text-anchor="end" font-weight="bold" fill="#111">4</text>
<line x1="561.6" y1="137" x2="559.2" y2="137" stroke="#111" stroke-width="0.9"/>
<text x="559" y="139.9" font-size="8.6" text-anchor="end" font-weight="bold" fill="#111">5</text>
<line x1="561.6" y1="227.65" x2="560.3" y2="227.65" stroke="#111" stroke-width="0.8"/>
<line x1="561.6" y1="201.75" x2="560.3" y2="201.75" stroke="#111" stroke-width="0.8"/>
<line x1="561.6" y1="175.85" x2="560.3" y2="175.85" stroke="#111" stroke-width="0.8"/>
<line x1="561.6" y1="149.95" x2="560.3" y2="149.95" stroke="#111" stroke-width="0.8"/>
<line x1="561.6" y1="240.6" x2="561.6" y2="243" stroke="#111" stroke-width="0.9"/>
<text x="561.6" y="251.2" font-size="8.6" text-anchor="middle" font-weight="bold" fill="#111">0</text>
<line x1="581.35" y1="240.6" x2="581.35" y2="243" stroke="#111" stroke-width="0.9"/>
<text x="581.35" y="251.2" font-size="8.6" text-anchor="middle" font-weight="bold" fill="#111">2</text>
<line x1="601.1" y1="240.6" x2="601.1" y2="243" stroke="#111" stroke-width="0.9"/>
<text x="601.1" y="251.2" font-size="8.6" text-anchor="middle" font-weight="bold" fill="#111">4</text>
<line x1="620.85" y1="240.6" x2="620.85" y2="243" stroke="#111" stroke-width="0.9"/>
<text x="620.85" y="251.2" font-size="8.6" text-anchor="middle" font-weight="bold" fill="#111">6</text>
<line x1="640.6" y1="240.6" x2="640.6" y2="243" stroke="#111" stroke-width="0.9"/>
<text x="640.6" y="251.2" font-size="8.6" text-anchor="middle" font-weight="bold" fill="#111">8</text>
<line x1="660.35" y1="240.6" x2="660.35" y2="243" stroke="#111" stroke-width="0.9"/>
<text x="660.35" y="251.2" font-size="8.6" text-anchor="middle" font-weight="bold" fill="#111">10</text>
<line x1="680.1" y1="240.6" x2="680.1" y2="243" stroke="#111" stroke-width="0.9"/>
<text x="680.1" y="251.2" font-size="8.6" text-anchor="middle" font-weight="bold" fill="#111">12</text>
<line x1="571.48" y1="240.6" x2="571.48" y2="241.9" stroke="#111" stroke-width="0.8"/>
<line x1="591.23" y1="240.6" x2="591.23" y2="241.9" stroke="#111" stroke-width="0.8"/>
<line x1="610.98" y1="240.6" x2="610.98" y2="241.9" stroke="#111" stroke-width="0.8"/>
<line x1="630.73" y1="240.6" x2="630.73" y2="241.9" stroke="#111" stroke-width="0.8"/>
<line x1="650.48" y1="240.6" x2="650.48" y2="241.9" stroke="#111" stroke-width="0.8"/>
<line x1="670.23" y1="240.6" x2="670.23" y2="241.9" stroke="#111" stroke-width="0.8"/>
<text x="620.85" y="261.8" font-size="8.8" text-anchor="middle" font-weight="bold" fill="#111">k (Å<tspan font-size="5.5" dy="-3">-1</tspan><tspan dy="3">)</tspan></text>
<text x="549.5" y="188.8" font-size="8.8" text-anchor="middle" font-weight="bold" fill="#111" transform="rotate(-90 549.5 188.8)">R+α (Å)</text>
<text x="565.9" y="150.9" font-size="10.8" text-anchor="start" font-weight="bold" fill="#f4f4f4">Zn SATs</text>
<g clip-path="url(#cph1)"><g filter="url(#cm)">
<rect x="405.6" y="266.6" width="121.4" height="107.5" fill="rgb(36,36,36)"/>
<g style="isolation:isolate">
<ellipse cx="499.56" cy="328.63" rx="58.7" ry="10.87" fill="url(#gw)" fill-opacity="0.3" style="mix-blend-mode:plus-lighter" transform="rotate(-8 499.56 328.63)"/>
<ellipse cx="498.59" cy="329.15" rx="88.05" ry="31.05" fill="url(#gw)" fill-opacity="0.36" style="mix-blend-mode:plus-lighter" transform="rotate(-8 498.59 329.15)"/>
<ellipse cx="461.41" cy="336.39" rx="76.31" ry="17.08" fill="url(#gw)" fill-opacity="0.35" style="mix-blend-mode:plus-lighter" transform="rotate(-6 461.41 336.39)"/>
<ellipse cx="485.87" cy="333.29" rx="146.75" ry="34.93" fill="url(#gw)" fill-opacity="0.22" style="mix-blend-mode:plus-lighter"/>
<ellipse cx="480.98" cy="289.3" rx="102.72" ry="54.34" fill="url(#gw)" fill-opacity="0.45" style="mix-blend-mode:plus-lighter"/>
<ellipse cx="510.32" cy="271.19" rx="44.02" ry="23.29" fill="url(#gw)" fill-opacity="0.2" style="mix-blend-mode:plus-lighter"/>
<ellipse cx="466.3" cy="364.34" rx="176.1" ry="11.64" fill="url(#gw)" fill-opacity="0.1" style="mix-blend-mode:plus-lighter"/>
</g>
<ellipse cx="479.02" cy="273.26" rx="14.67" ry="7.76" fill="url(#gb)" fill-opacity="0.8"/>
<ellipse cx="493.2" cy="291.11" rx="17.61" ry="7.76" fill="url(#gb)" fill-opacity="0.8"/>
<ellipse cx="446.15" cy="299.13" rx="20.54" ry="7.76" fill="url(#gb)" fill-opacity="0.75"/>
<ellipse cx="463.56" cy="310.26" rx="20.54" ry="6.21" fill="url(#gb)" fill-opacity="0.75"/>
<ellipse cx="498.29" cy="309.74" rx="20.54" ry="6.21" fill="url(#gb)" fill-opacity="0.75"/>
<ellipse cx="442.82" cy="327.34" rx="20.54" ry="4.66" fill="url(#gb)" fill-opacity="0.69"/>
<ellipse cx="513.75" cy="343.9" rx="23.48" ry="4.66" fill="url(#gb)" fill-opacity="0.63"/>
<ellipse cx="410.54" cy="289.3" rx="23.48" ry="93.15" fill="url(#gb)" fill-opacity="0.63"/>
<ellipse cx="466.3" cy="353.47" rx="176.1" ry="7.76" fill="url(#gb)" fill-opacity="0.75"/>
<ellipse cx="466.3" cy="367.44" rx="146.75" ry="5.43" fill="url(#gb)" fill-opacity="0.34"/>
</g>
<path d="M407.6 315.3 408.5 315.9 409.4 316.3 410.4 316.3 411.3 315.9 412.0 315.3 412.6 314.5 413.2 313.6 413.6 312.6 413.9 311.7 414.3 310.8 414.6 309.7 414.8 308.6 414.9 307.4 415.1 306.3 415.3 304.9 415.4 303.9 415.6 302.6 415.6 301.5 415.6 300.3 415.6 298.9 415.6 297.6 415.6 296.3 415.6 294.9 415.6 293.6 415.6 292.3 415.6 290.9 415.6 289.6 415.6 288.3 415.6 286.9 415.6 285.6 415.6 284.3 415.6 282.9 415.6 281.6 415.6 280.3 415.6 278.9 415.6 277.6 415.6 276.6 415.5 275.3 415.5 273.9 415.4 272.6 415.4 271.3 415.3 269.9 415.3 268.6M479.7 273.9 480.5 273.3 479.9 272.6 478.6 272.4 477.6 272.8 477.6 273.6 478.6 274.0 479.7 273.9M446.4 299.9 447.6 299.6 448.0 298.9 447.3 298.5 445.9 298.3 444.6 298.4 443.6 298.9 443.9 299.6 444.9 299.9 445.9 300.0M464.8 310.6 465.3 310.2 464.3 309.7 462.9 309.7 461.7 309.9 461.9 310.6 462.9 310.8 464.3 310.7M524.9 352.9 523.6 352.8 522.3 352.7 521.0 352.6 519.9 352.5 518.6 352.5 517.3 352.4 515.9 352.3 514.6 352.3 513.6 352.3 512.3 352.2 510.9 352.2 509.6 352.1 508.3 352.1 506.9 352.1 505.6 352.0 504.3 352.0 502.9 351.9 501.9 351.9 500.6 351.9 499.3 351.9 497.9 351.8 496.6 351.8 495.3 351.8 493.9 351.8 492.6 351.8 491.3 351.7 489.9 351.7 488.6 351.7 487.3 351.7 485.9 351.6 484.6 351.6 483.6 351.6 482.3 351.6 480.9 351.6 479.6 351.5 478.3 351.5 476.9 351.5 475.6 351.5 474.3 351.5 472.9 351.5 471.6 351.5 470.3 351.5 468.9 351.5 467.6 351.5 466.3 351.5 464.9 351.5 463.6 351.5 462.3 351.4 460.9 351.4 459.6 351.4 458.3 351.4 456.9 351.4 455.6 351.4 454.3 351.4 452.9 351.4 451.6 351.4 450.3 351.4 448.9 351.4 447.6 351.4 446.3 351.4 444.9 351.4 443.6 351.4 442.3 351.4 440.9 351.4 439.6 351.4 438.3 351.5 436.9 351.5 435.6 351.5 434.3 351.5 432.9 351.5 431.6 351.5 430.3 351.5 428.9 351.5 427.6 351.5 426.3 351.5 424.9 351.5 423.6 351.4 422.3 351.4 420.9 351.4 419.6 351.3 418.3 351.3 416.9 351.3 415.7 351.3 414.6 351.3 413.3 351.2 411.9 351.2 410.6 351.3 409.6 351.3 408.3 351.3M407.6 355.7 408.9 355.7 410.3 355.8 411.6 355.8 412.9 355.8 414.3 355.8 415.6 355.8 416.9 355.8 418.3 355.8 419.6 355.8 420.9 355.8 422.3 355.8 423.6 355.8 424.9 355.8 426.3 355.8 427.6 355.8 428.9 355.8 430.3 355.8 431.6 355.8 432.9 355.8 434.3 355.8 435.6 355.8 436.9 355.8 438.3 355.8 439.6 355.8 440.9 355.8 442.3 355.8 443.6 355.8 444.9 355.8 446.3 355.8 447.6 355.8 448.9 355.8 450.3 355.8 451.6 355.8 452.9 355.8 454.3 355.8 455.6 355.8 456.9 355.8 458.3 355.8 459.6 355.8 460.9 355.8 462.3 355.8 463.6 355.8 464.9 355.8 466.3 355.8 467.6 355.8 468.9 355.8 470.3 355.8 471.6 355.7 472.9 355.7 474.3 355.7 475.6 355.7 476.9 355.7 478.3 355.7 479.6 355.7 480.9 355.6 482.3 355.6 483.6 355.6 484.6 355.6 485.9 355.6 487.3 355.6 488.6 355.5 489.9 355.5 491.3 355.5 492.6 355.5 493.9 355.5 495.3 355.4 496.6 355.4 497.9 355.4 499.3 355.4 500.6 355.3 501.9 355.3 502.9 355.3 504.3 355.2 505.6 355.2 506.9 355.2 508.3 355.1 509.6 355.1 510.9 355.0 512.3 355.0 513.6 354.9 514.6 354.9 515.9 354.9 517.3 354.8 518.6 354.7 519.9 354.7 521.3 354.6 522.3 354.6 523.6 354.5 524.9 354.4M524.9 348.5 523.6 348.6 522.6 348.7 521.3 348.7 519.9 348.8 518.6 348.9 517.3 348.9 516.3 349.0 514.9 349.1 513.6 349.1 512.3 349.2 510.9 349.2 509.6 349.3 508.6 349.3 507.3 349.3 505.9 349.4 504.6 349.4 503.3 349.4 501.9 349.4 500.6 349.5 499.3 349.5 497.9 349.5 496.6 349.5 495.3 349.5 493.9 349.5 492.6 349.6 491.3 349.6 489.9 349.6 488.6 349.6 487.3 349.6 486.3 349.6 484.9 349.6 483.6 349.6 482.3 349.6 480.9 349.6 479.6 349.6 478.3 349.6 476.9 349.6 475.6 349.6 474.3 349.6 472.9 349.6 471.6 349.6 470.6 349.6 469.3 349.6 467.9 349.6 466.6 349.6 465.3 349.6 463.9 349.5 462.6 349.5 461.3 349.5 459.9 349.5 458.6 349.5 457.3 349.5 455.9 349.4 454.6 349.4 453.3 349.4 451.9 349.4 450.6 349.4 449.3 349.3 447.9 349.3 446.6 349.3 445.6 349.3 444.3 349.2 442.9 349.2 441.6 349.2 440.3 349.1 438.9 349.1 437.6 349.1 436.3 349.0 434.9 349.0 433.9 348.9 432.6 348.8 431.3 348.8 429.9 348.7 428.6 348.6 427.6 348.5 426.3 348.4 425.0 348.3 423.9 348.1 422.6 347.9 421.6 347.7 420.6 347.5 419.6 347.3 418.6 346.9 417.6 346.6 416.6 346.2 415.6 345.6 414.9 345.1 414.3 344.5 413.6 343.8 412.9 343.0 412.5 342.3 412.3 340.9 412.5 339.6 412.9 338.6 413.3 337.9 413.9 336.9 414.3 336.3 414.9 335.4 415.6 334.6 416.1 333.9 416.7 333.3 417.3 332.6 417.9 331.8 418.5 330.9 418.9 330.3 419.6 329.3 420.0 328.6 420.6 327.8 421.3 327.0 421.9 326.3 422.5 325.6 422.9 324.9 423.5 323.9 423.9 323.3 424.5 322.3 424.9 321.5 425.4 320.6 425.9 319.6 426.3 318.9 426.7 317.9 426.9 316.6 427.1 315.6 427.4 314.6 427.4 313.3 427.4 311.9 427.3 310.9 426.9 309.6 426.7 308.6 426.5 307.6 426.2 306.6 425.9 305.6 425.6 304.3 425.5 303.3 425.3 301.9 425.2 300.9 424.9 299.9 424.6 298.7 424.4 297.6 424.2 296.6 424.0 295.3 423.9 294.3 423.8 292.9 423.7 291.6 423.7 290.3 423.7 288.9 423.7 287.6 423.8 286.3 423.9 284.9 424.0 283.9 424.1 282.6 424.3 281.6 424.5 280.3 424.7 279.3 425.0 278.3 425.3 277.1 425.6 275.9 425.9 274.9 426.3 273.9 426.6 273.1 427.0 272.3 427.5 271.3 427.9 270.5 428.6 269.6 429.1 268.9M480.8 275.3 481.8 274.9 482.6 274.4 483.3 273.6 483.3 272.6 482.8 271.9 481.9 271.3 481.0 270.9 479.9 270.7 478.6 270.6 477.3 270.8 476.3 271.0 475.3 271.5 474.6 272.1 474.3 272.9 474.6 273.9 475.3 274.6 475.9 274.9 476.9 275.3 478.3 275.5 479.6 275.5 480.8 275.3M495.0 292.9 496.3 292.6 496.9 292.3 497.7 291.6 497.6 290.5 496.9 289.9 495.9 289.5 494.9 289.3 493.6 289.1 492.3 289.2 491.3 289.4 490.3 289.7 489.3 290.3 488.8 290.9 489.2 291.9 489.9 292.4 490.9 292.8 491.9 293.0 493.3 293.1 494.6 293.0M447.6 301.9 448.9 301.7 449.9 301.4 450.9 301.0 451.7 300.6 452.5 299.9 452.7 298.9 452.3 298.3 451.4 297.6 450.6 297.3 449.6 296.9 448.3 296.6 447.3 296.5 445.9 296.4 444.6 296.4 443.3 296.4 441.9 296.6 440.9 296.8 439.9 297.0 438.9 297.4 437.9 297.9 437.3 298.4 436.9 299.3 437.3 300.2 437.9 300.7 438.9 301.2 439.9 301.5 440.9 301.8 441.9 301.9 443.3 302.1 444.6 302.1 445.9 302.1 447.3 302.0M501.2 311.3 502.3 311.1 503.3 310.8 504.2 310.3 504.6 309.6 504.2 308.9 503.3 308.5 502.3 308.2 500.9 308.0 499.9 307.9 498.6 307.8 497.3 307.8 496.3 307.9 494.9 308.1 493.9 308.4 492.9 308.8 492.3 309.5 492.6 310.3 493.3 310.7 494.3 311.0 495.5 311.3 496.6 311.4 497.9 311.5 499.3 311.5 500.6 311.3M465.4 312.3 466.6 312.1 467.6 311.9 468.6 311.6 469.6 311.1 470.2 310.3 469.6 309.4 468.7 308.9 467.6 308.6 466.6 308.4 465.6 308.3 464.3 308.1 462.9 308.1 461.6 308.1 460.3 308.2 459.3 308.4 458.2 308.6 457.1 308.9 456.3 309.3 455.6 309.9 455.8 310.9 456.6 311.4 457.6 311.8 458.6 312.0 459.9 312.2 460.9 312.3 462.3 312.4 463.6 312.4 464.9 312.3M442.9 328.6 443.9 328.5 445.3 328.4 446.3 328.2 447.3 327.9 448.3 327.3 448.0 326.6 447.3 326.3 446.1 325.9 444.9 325.7 443.6 325.6 442.6 325.5 441.3 325.5 439.9 325.5 438.9 325.6 437.6 325.7 436.3 325.9 435.3 326.2 434.4 326.6 434.3 327.3 435.3 327.9 436.3 328.2 437.3 328.3 438.6 328.5 439.9 328.6 440.9 328.6 442.3 328.6M518.2 345.6 519.3 345.5 520.6 345.3 521.6 345.2 522.6 344.9 523.5 344.3 522.9 343.5 521.9 343.2 520.9 342.9 519.6 342.7 518.6 342.6 517.3 342.5 515.9 342.4 514.6 342.4 513.3 342.5 511.9 342.5 510.9 342.6 509.6 342.8 508.6 343.0 507.6 343.4 506.9 343.9 507.4 344.6 508.3 344.9 509.6 345.3 510.6 345.4 511.9 345.5 512.9 345.6 514.3 345.7 515.6 345.7 516.9 345.7 518.2 345.6M491.6 364.6 490.3 364.6 488.9 364.6 487.6 364.6 486.3 364.7 484.9 364.7 483.6 364.7 482.3 364.7 480.9 364.7 479.6 364.7 478.3 364.7 476.9 364.7 475.6 364.7 474.3 364.7 472.9 364.7 471.6 364.7 470.3 364.7 468.9 364.7 467.6 364.7 466.3 364.7 464.9 364.7 463.6 364.7 462.3 364.7 460.9 364.7 459.6 364.7 458.3 364.7 456.9 364.7 455.6 364.7 454.3 364.7 452.9 364.7 451.6 364.7 450.3 364.6 448.9 364.6 447.6 364.6 446.6 364.6 445.3 364.6 443.9 364.5 442.6 364.5 441.3 364.5 439.9 364.5 438.6 364.4 437.3 364.4 435.9 364.4 434.6 364.3 433.3 364.3 432.3 364.2 430.9 364.2 429.6 364.1 428.3 364.0 426.9 364.0 425.9 363.9 424.6 363.8 423.6 363.5 422.9 362.9 423.6 362.4 424.6 362.0 425.6 361.8 426.9 361.6 427.9 361.6 429.3 361.4 430.6 361.3 431.6 361.3 432.9 361.2 434.3 361.1 435.6 361.0 436.8 360.9 437.9 360.9 439.3 360.9 440.6 360.8 441.9 360.8 443.3 360.7 444.6 360.7 445.9 360.7 447.3 360.6 448.3 360.6 449.6 360.5 450.9 360.4 452.3 360.4 453.6 360.3 454.9 360.3 455.9 360.2 457.3 360.2 458.6 360.2 459.9 360.1 461.3 360.1 462.6 360.1 463.9 360.0 465.3 360.0 466.6 360.0 467.9 360.0 469.3 360.0 470.6 360.0 471.9 360.0 473.3 360.0 474.6 360.0 475.9 360.0 477.3 360.0 478.6 360.0 479.9 360.0 481.3 360.1 482.6 360.1 483.9 360.1 485.3 360.2 486.6 360.2 487.9 360.3 488.9 360.3 490.3 360.4 491.6 360.4 492.9 360.5 494.3 360.6 495.3 360.6 496.6 360.7 497.9 360.7 499.3 360.8 500.6 360.8 501.9 360.9 503.3 360.9 504.3 361.0 505.6 361.1 506.9 361.2 507.9 361.3 509.3 361.4 510.6 361.6 511.6 361.7 512.9 361.8 513.9 362.0 515.3 362.2 516.3 362.5 516.6 363.1 515.6 363.5 514.6 363.6 513.3 363.8 511.9 363.9 510.9 364.0 509.6 364.1 508.3 364.1 506.9 364.2 505.6 364.3 504.6 364.3 503.3 364.3 501.9 364.4 500.6 364.4 499.3 364.5 497.9 364.5 496.6 364.5 495.3 364.6 493.9 364.6 492.6 364.6 491.6 364.6M524.9 341.2 523.6 341.2 522.3 341.3 520.9 341.3 519.9 341.3 518.6 341.3 517.3 341.3 515.9 341.3 514.6 341.4 513.3 341.5 511.9 341.6 510.9 341.6 509.6 341.8 508.3 341.9 507.3 342.1 506.1 342.3 504.9 342.5 503.9 342.8 502.9 343.2 502.2 343.6 501.4 344.3 501.4 345.6 500.6 346.1 499.6 346.4 498.6 346.6 497.3 346.9 496.3 347.0 494.9 347.1 493.6 347.2 492.3 347.2 491.3 347.3 489.9 347.3 488.6 347.4 487.3 347.4 485.9 347.5 484.6 347.5 483.3 347.5 481.9 347.5 480.6 347.6 479.3 347.6 478.3 347.6 476.9 347.6 475.6 347.6 474.3 347.6 472.9 347.6 471.6 347.6 470.3 347.6 468.9 347.6 467.6 347.6 466.6 347.6 465.3 347.6 463.9 347.6 462.6 347.5 461.3 347.5 459.9 347.5 458.6 347.5 457.3 347.4 455.9 347.4 454.6 347.4 453.3 347.3 452.3 347.3 450.9 347.2 449.6 347.2 448.3 347.1 446.9 347.0 445.6 347.0 444.6 346.9 443.3 346.8 441.9 346.7 440.9 346.6 439.6 346.5 438.3 346.3 437.3 346.2 435.9 346.1 434.6 345.9 433.6 345.8 432.3 345.6 431.3 345.4 430.3 345.1 429.3 344.9 428.3 344.5 427.3 344.1 426.3 343.6 425.6 343.2 424.7 342.6 424.0 341.9 423.4 341.3 422.9 340.3 422.7 339.3 422.9 338.0 423.3 337.2 423.8 336.3 424.4 335.6 425.0 334.9 425.6 334.3 426.3 333.6 426.9 332.9 427.6 332.3 428.5 331.6 429.3 331.0 430.1 330.6 431.1 330.3 432.3 330.0 433.3 329.9 434.6 329.8 435.9 329.8 437.3 329.7 438.6 329.7 439.9 329.6 441.0 329.6 442.3 329.5 443.6 329.4 444.9 329.3 445.9 329.2 447.3 329.0 448.3 328.8 449.3 328.5 450.3 328.2 451.3 327.7 451.8 326.9 451.3 326.1 450.5 325.6 449.6 325.2 448.6 324.8 447.6 324.5 446.5 324.3 445.6 323.9 444.6 323.3 444.6 322.5 445.6 322.0 446.4 321.6 447.3 321.2 448.2 320.6 448.9 319.9 449.5 319.3 450.2 318.6 450.9 317.9 451.5 317.3 451.9 316.3 452.3 315.5 453.3 315.1 454.3 314.8 455.3 314.6 456.6 314.5 457.9 314.4 459.3 314.3 460.5 314.3 461.6 314.2 462.9 314.1 464.3 314.0 465.3 313.9 466.6 313.7 467.6 313.5 468.9 313.3 469.9 313.0 470.9 312.7 471.9 312.4 472.9 311.9 473.6 311.4 474.2 310.6 473.9 309.6 473.2 308.9 472.3 308.4 471.3 308.0 470.3 307.7 469.3 307.5 468.2 307.3 466.9 307.1 465.7 306.9 464.6 306.8 463.3 306.8 461.9 306.7 460.6 306.7 459.3 306.7 457.9 306.8 456.6 306.8 455.3 306.9 454.3 307.0 452.9 307.1 451.6 307.1 450.3 307.1 448.9 307.0 447.9 306.7 447.5 305.9 448.0 305.3 448.9 304.7 449.9 304.3 450.6 303.9 451.6 303.5 452.6 303.1 453.5 302.6 454.3 302.2 455.1 301.6 455.8 300.9 456.3 300.1 456.3 298.9 455.9 298.2 455.3 297.5 454.4 296.9 453.6 296.5 452.6 296.1 451.6 295.7 450.6 295.4 449.6 295.2 448.3 294.9 447.3 294.8 445.9 294.6 444.9 294.5 443.6 294.3 442.6 294.3 441.3 294.1 439.9 293.9 438.9 293.8 437.9 293.5 436.9 293.1 436.1 292.6 435.6 291.9 435.4 290.6 435.3 289.3 435.4 287.9 435.6 286.6 435.8 285.6 436.2 284.6 436.6 283.6 436.9 282.9 437.5 281.9 437.9 281.2 438.6 280.3 439.1 279.6 439.7 278.9 440.3 278.3 441.0 277.6 441.7 276.9 442.5 276.3 443.3 275.7 443.9 275.2 444.7 274.6 445.6 274.0 446.3 273.6 447.3 273.0 448.0 272.6 448.9 272.1 449.9 271.6 450.6 271.3 451.6 270.8 452.6 270.4 453.6 270.0 454.5 269.6 455.4 269.3 456.4 268.9 457.4 268.6M477.2 268.6 475.9 268.8 474.9 269.0 473.9 269.4 473.0 269.9 472.3 270.5 471.6 271.3 471.3 272.3 471.3 272.9 471.7 273.9 472.3 274.6 473.2 275.3 473.9 275.7 474.9 276.1 475.9 276.3 477.3 276.6 478.3 276.6 479.6 276.6 480.6 276.5 481.8 276.3 482.8 275.9 483.6 275.6 484.6 274.9 485.2 274.3 485.6 273.5 485.6 272.3 485.3 271.5 484.6 270.7 483.9 270.2 482.9 269.6 482.0 269.3 480.9 268.9 479.9 268.7 478.6 268.6M496.5 293.9 497.6 293.7 498.6 293.3 499.3 292.9 500.1 292.3 500.6 291.3 500.3 290.3 499.6 289.6 498.6 289.0 497.6 288.7 496.6 288.4 495.6 288.2 494.3 288.1 492.9 288.1 491.6 288.2 490.6 288.3 489.6 288.6 488.6 288.9 487.6 289.5 486.9 290.0 486.5 290.9 486.7 291.9 487.4 292.6 488.3 293.2 489.3 293.6 490.3 293.9 491.3 294.1 492.6 294.2 493.9 294.2 495.3 294.1 496.5 293.9M524.9 295.7 524.6 296.9 524.4 297.9 524.1 298.9 523.8 299.9 523.6 300.9 523.4 302.3 523.3 303.3 523.1 304.6 523.6 305.6 524.0 306.3 524.6 307.3M503.1 312.3 504.3 312.1 505.3 311.9 506.3 311.6 507.3 311.3 508.3 310.8 509.1 310.3 509.5 309.3 508.9 308.5 508.0 307.9 507.2 307.6 506.0 307.3 504.9 307.1 503.9 306.9 502.6 306.7 501.3 306.7 499.9 306.6 498.6 306.6 497.3 306.6 495.9 306.7 494.6 306.9 493.6 307.0 492.4 307.3 491.3 307.6 490.3 307.9 489.6 308.3 488.7 308.9 488.3 309.9 488.9 310.7 489.9 311.3 490.8 311.6 491.9 311.9 492.9 312.1 493.9 312.3 495.3 312.4 496.6 312.5 497.9 312.6 499.3 312.6 500.6 312.5 501.9 312.4 503.1 312.3M517.3 268.6 518.2 269.3 518.9 269.9 519.6 270.6 520.1 271.3 520.6 272.3 520.9 273.3 521.0 274.3 520.9 275.6 520.7 276.6 520.3 277.6 519.9 278.3 519.3 279.3 518.9 279.9 518.3 280.9 517.8 281.6 517.3 282.3 516.6 283.3 516.1 283.9 515.6 284.7 515.1 285.6 514.6 286.3 514.1 287.3 513.6 288.2 513.2 288.9 512.8 289.9 512.3 290.9 511.9 291.6 511.3 292.6 510.8 293.3 510.2 293.9 509.6 294.7 508.9 295.6 508.4 296.3 507.8 296.9 507.3 297.7 506.6 298.6 506.1 299.3 505.6 300.0 504.9 300.7 504.3 301.4 503.6 302.0 502.8 302.6 502.1 303.3 501.3 303.7 499.9 303.9 498.9 304.0 497.6 304.3 496.6 304.4 495.6 304.6 494.3 304.8 493.2 304.9 491.9 305.1 490.9 305.3 489.6 305.6 488.6 305.8 487.6 306.0 486.3 306.3 485.3 306.5 484.3 306.8 483.3 307.1 482.3 307.4 480.9 307.4 479.6 307.3 478.6 307.1 477.6 306.7 476.6 306.5 475.6 306.2 474.5 305.9 473.3 305.6 472.3 305.4 471.3 305.2 470.2 304.9 468.9 304.6 467.9 304.4 466.9 304.2 465.9 303.9 464.9 303.6 463.9 303.2 463.3 302.4 462.8 301.6 462.3 300.6 461.9 299.7 461.5 298.9 460.9 298.1 460.3 297.4 459.6 296.8 458.9 296.3 457.9 295.6 457.3 295.2 456.3 294.7 455.5 294.3 454.6 293.8 453.6 293.3 452.9 292.9 452.0 292.3 451.3 291.8 450.6 290.9 450.5 289.9 450.5 288.6 450.6 287.6 450.9 286.5 451.3 285.6 451.8 284.6 452.3 283.8 452.9 282.9 453.5 282.3 454.2 281.6 454.9 280.9 455.6 280.3 456.3 279.8 457.1 279.3 457.9 278.7 458.7 278.3 459.6 277.8 460.6 277.3 461.4 276.9 462.3 276.6 463.3 276.2 464.3 275.8 465.2 275.6 466.3 275.8 467.6 275.9 468.6 276.1 469.6 276.4 470.6 276.7 471.6 277.0 472.6 277.3 473.9 277.6 474.9 277.8 476.0 277.9 477.3 278.0 478.6 278.0 479.9 278.0 480.9 277.9 482.3 277.6 483.3 277.4 484.3 277.1 485.3 276.6 485.9 276.3 486.9 275.6 487.6 275.0 488.2 274.3 488.6 273.5 488.9 272.5 489.1 271.3 489.4 270.3 489.9 269.4 490.6 268.6M497.5 295.6 498.6 295.5 499.6 295.3 500.9 294.9 501.9 294.6 502.9 294.3 503.6 293.9 504.5 293.3 505.0 292.6 505.2 291.3 504.7 290.3 504.1 289.6 503.3 289.0 502.5 288.6 501.6 288.2 500.6 287.8 499.6 287.6 498.3 287.3 497.3 287.1 495.9 286.9 494.9 286.9 493.6 286.8 492.3 286.9 491.3 287.0 489.9 287.2 488.9 287.4 487.9 287.7 486.9 288.1 485.9 288.5 485.3 289.0 484.5 289.6 483.9 290.6 483.9 291.6 484.3 292.4 484.9 293.1 485.6 293.6 486.6 294.2 487.5 294.6 488.5 294.9 489.6 295.2 490.6 295.4 491.9 295.6 492.9 295.6 494.3 295.7 495.6 295.7 496.9 295.7M524.9 336.7 523.9 337.1 522.9 337.6 522.0 337.9 521.1 338.3 520.2 338.6 519.2 338.9 518.1 339.3 516.9 339.5 515.9 339.7 514.6 339.9 513.6 340.0 512.3 340.2 511.3 340.3 509.9 340.5 508.9 340.6 507.6 340.8 506.6 341.0 505.3 341.2 504.3 341.3 502.9 341.6 501.9 341.7 500.9 342.0 499.6 342.3 498.6 342.5 497.6 342.8 496.6 343.0 495.6 343.3 494.3 343.6 493.3 343.8 492.3 344.0 490.9 344.3 489.9 344.4 488.6 344.5 487.6 344.6 486.3 344.7 484.9 344.8 483.6 344.9 482.3 344.9 481.3 345.0 479.9 345.0 478.6 345.1 477.3 345.1 475.9 345.2 474.6 345.2 473.3 345.3 472.3 345.3 470.9 345.3 469.6 345.3 468.3 345.3 466.9 345.3 465.6 345.3 464.3 345.3 462.9 345.3 461.7 345.3 460.6 345.2 459.3 345.2 457.9 345.1 456.6 345.1 455.3 345.0 453.9 345.0 452.9 344.9 451.6 344.8 450.3 344.7 448.9 344.6 447.9 344.5 446.6 344.4 445.6 344.3 444.3 344.1 443.1 343.9 441.9 343.8 440.9 343.6 439.6 343.3 438.6 343.1 437.6 342.8 436.6 342.6 435.6 342.2 434.6 341.8 433.6 341.3 432.9 340.9 432.1 340.3 431.6 339.6 431.2 338.6 431.4 337.6 431.9 336.6 432.4 335.9 433.0 335.3 433.7 334.6 434.6 333.9 435.3 333.5 436.1 332.9 436.9 332.5 437.9 332.0 438.9 331.6 439.9 331.3 440.9 331.1 441.9 330.9 443.3 330.6 444.3 330.5 445.5 330.3 446.6 330.1 447.6 329.9 448.9 329.7 449.9 329.5 450.9 329.2 451.9 328.9 452.9 328.6 453.9 328.1 454.8 327.6 455.5 326.9 455.9 325.9 456.3 324.9 456.9 324.3 457.6 323.8 458.6 323.3 459.5 322.9 460.3 322.6 461.3 322.2 462.3 321.7 463.3 321.3 464.0 320.9 464.9 320.6 465.9 320.2 466.9 319.8 467.9 319.3 468.9 318.9 469.7 318.6 470.6 318.2 471.6 317.6 472.3 317.3 473.3 316.8 474.3 316.4 475.2 315.9 475.9 315.5 476.7 314.9 477.6 314.6 478.6 314.1 479.6 313.7 480.4 313.3 481.5 312.9 482.6 312.9 483.6 313.0 484.9 313.1 486.3 313.3 487.3 313.4 488.6 313.5 489.6 313.6 490.9 313.8 492.3 313.9 493.3 314.0 494.6 314.0 495.9 314.1 497.3 314.1 498.6 314.1 499.9 314.1 501.3 314.1 502.6 314.1 503.9 314.0 505.3 313.9 506.3 313.9 507.6 313.8 508.9 313.8 510.3 313.8 511.6 313.8 512.9 313.8 513.9 314.0 514.9 314.3 515.9 314.6 517.0 314.9 518.2 315.3 519.3 315.6 520.3 315.8 521.3 316.0 522.3 316.3 523.4 316.6 524.4 316.9M478.9 295.7 477.7 295.6 476.6 295.4 475.6 295.2 474.6 294.9 473.6 294.6 472.6 294.1 471.6 293.6 470.9 293.1 470.3 292.6 469.6 291.9 468.9 290.9 468.6 290.0 468.5 288.9 468.8 287.9 469.3 287.0 469.9 286.3 470.6 285.6 471.3 285.2 472.2 284.6 472.9 284.3 473.9 283.8 474.8 283.3 475.6 282.9 476.6 282.5 477.6 282.2 478.6 281.9 479.9 281.6 480.9 281.3 481.9 281.1 482.9 280.9 483.9 280.6 485.3 280.3 486.3 280.3 487.6 280.0 488.6 279.9 489.9 279.8 490.9 279.5 491.9 279.2 492.9 278.9 493.9 278.3 494.6 277.8 495.6 277.3 496.3 276.9 497.3 276.3 497.9 275.8 498.8 275.3 499.6 274.7 500.4 274.3 501.3 273.9 502.5 273.6 503.6 273.3 504.5 273.3 505.6 273.5 506.6 273.9 507.3 274.5 507.2 275.3 506.6 276.2 505.9 276.9 505.3 277.3 504.3 277.9 503.6 278.3 502.6 278.8 501.8 279.3 500.9 279.8 500.3 280.4 499.3 280.9 498.6 281.3 497.9 282.2 497.3 282.9 496.8 283.6 495.6 283.7 494.3 283.9 493.3 283.9 491.9 284.1 490.9 284.3 489.6 284.5 488.6 284.8 487.6 285.1 486.6 285.4 485.6 285.8 484.6 286.1 483.6 286.5 482.6 286.9 481.9 287.3 481.0 287.9 480.3 288.6 479.8 289.3 479.3 289.9 478.8 290.9 478.7 292.3 479.0 293.3 479.0 294.6 478.9 295.7M524.9 331.5 524.3 331.9 523.3 332.6 522.6 333.0 521.6 333.5 520.7 333.9 519.9 334.3 518.9 334.8 517.9 335.3 517.1 335.6 516.3 335.9 515.3 336.3 514.3 336.6 513.3 337.0 512.3 337.3 511.2 337.6 510.1 337.9 509.0 338.3 507.9 338.6 506.9 338.8 505.9 339.1 504.9 339.3 503.6 339.6 502.6 339.8 501.6 340.0 500.3 340.2 499.3 340.4 497.9 340.6 496.9 340.8 495.9 340.9 494.6 341.2 493.6 341.3 492.3 341.5 491.3 341.6 489.9 341.8 488.6 341.9 487.6 342.0 486.3 342.1 484.9 342.3 483.9 342.3 482.6 342.5 481.3 342.5 480.3 342.6 478.9 342.7 477.6 342.8 476.3 342.8 474.9 342.9 473.6 342.9 472.6 343.0 471.3 343.0 469.9 343.0 468.6 343.0 467.3 343.0 465.9 343.0 464.6 343.0 463.3 343.0 461.9 343.0 460.6 343.0 459.3 342.9 458.3 342.9 456.9 342.8 455.6 342.7 454.3 342.6 453.3 342.6 451.9 342.4 450.6 342.3 449.6 342.1 448.3 341.9 447.3 341.8 446.3 341.6 445.0 341.3 443.9 341.0 442.9 340.6 442.1 340.3 441.3 339.8 440.6 339.3 439.9 338.6 439.6 337.3 440.0 336.3 440.6 335.6 441.3 334.9 442.1 334.3 442.9 333.7 443.7 333.3 444.6 332.8 445.6 332.3 446.3 331.9 447.3 331.6 448.5 331.3 449.6 330.9 450.6 330.6 451.6 330.3 452.6 330.1 453.6 329.8 454.6 329.5 455.6 329.1 456.6 328.8 457.6 328.4 458.6 327.9 459.3 327.6 460.3 327.1 461.3 326.6 462.0 326.3 462.9 325.8 463.9 325.5 464.9 325.2 465.9 324.9 466.9 324.6 468.0 324.3 469.0 323.9 470.1 323.6 471.2 323.3 472.3 323.0 473.3 322.7 474.3 322.4 475.3 322.1 476.3 321.8 477.3 321.6 478.5 321.3 479.6 321.0 480.6 320.8 481.6 320.5 482.6 320.3 483.9 320.0 484.9 319.7 485.9 319.5 487.3 319.3 488.3 319.1 489.6 318.9 490.6 318.8 491.9 318.7 492.9 318.6 494.3 318.4 495.6 318.3 496.6 318.3 497.9 318.2 499.3 318.1 500.6 318.1 501.9 318.1 503.3 318.1 504.6 318.2 505.9 318.2 506.9 318.3 508.3 318.4 509.6 318.5 510.9 318.6 511.9 318.7 513.3 318.8 514.3 319.0 515.6 319.1 516.6 319.3 517.9 319.5 518.9 319.7 520.3 319.9 521.3 320.1 522.3 320.3 523.6 320.6 524.6 320.9M475.3 340.9 473.9 341.0 472.6 341.1 471.3 341.1 469.9 341.1 468.6 341.2 467.3 341.2 465.9 341.2 464.6 341.1 463.3 341.1 461.9 341.0 460.6 341.0 459.6 340.9 458.3 340.8 456.9 340.7 455.9 340.6 454.6 340.4 453.6 340.2 452.3 340.0 451.3 339.7 450.3 339.4 449.3 339.1 448.3 338.6 447.6 338.1 447.0 337.3 447.3 335.9 447.8 335.3 448.4 334.6 449.3 334.0 449.9 333.6 450.9 333.0 451.9 332.6 452.6 332.3 453.6 331.8 454.6 331.4 455.6 331.0 456.6 330.7 457.6 330.3 458.6 330.0 459.6 329.6 460.6 329.3 461.6 328.9 462.6 328.6 463.6 328.3 464.6 328.0 465.6 327.7 466.6 327.4 467.6 327.1 468.6 326.8 469.6 326.5 470.6 326.2 471.8 325.9 472.9 325.6 473.9 325.4 474.9 325.1 475.9 324.9 477.0 324.6 478.3 324.3 479.3 324.1 480.3 323.9 481.5 323.6 482.6 323.4 483.6 323.2 484.8 322.9 485.9 322.7 486.9 322.6 488.3 322.3 489.3 322.2 490.6 322.0 491.6 321.9 492.9 321.7 493.9 321.6 495.3 321.4 496.6 321.3 497.6 321.3 498.9 321.2 500.3 321.1 501.6 321.1 502.9 321.0 504.3 321.0 505.6 321.0 506.9 321.0 508.3 321.1 509.6 321.1 510.9 321.2 512.1 321.3 513.3 321.4 514.6 321.5 515.6 321.6 516.9 321.8 517.9 322.0 519.3 322.3 520.3 322.5 521.3 322.8 522.3 323.2 523.1 323.6 523.9 324.2 524.6 324.9 524.8 325.9 524.4 326.9 523.9 327.6 523.2 328.3 522.5 328.9 521.6 329.6 520.9 330.0 520.0 330.6 519.3 331.0 518.3 331.5 517.5 331.9 516.6 332.4 515.6 332.8 514.6 333.2 513.8 333.6 512.9 333.9 511.9 334.3 510.9 334.7 509.9 335.0 508.9 335.4 507.9 335.7 506.9 336.0 505.9 336.3 504.9 336.6 503.8 336.9 502.6 337.2 501.6 337.5 500.6 337.7 499.6 337.9 498.3 338.2 497.3 338.4 496.2 338.6 494.9 338.8 493.9 339.0 492.6 339.2 491.6 339.4 490.3 339.6 489.3 339.7 487.9 339.9 486.9 340.0 485.6 340.1 484.3 340.3 483.3 340.4 481.9 340.5 480.6 340.6 479.6 340.7 478.3 340.8 476.9 340.8 475.6 340.9M470.9 339.3 469.6 339.3 468.3 339.3 467.3 339.2 465.9 339.2 464.6 339.1 463.3 339.1 461.9 339.0 460.9 338.8 459.6 338.6 458.6 338.4 457.6 338.2 456.6 337.9 455.6 337.4 454.9 336.9 454.8 335.6 455.3 334.8 455.9 334.2 456.8 333.6 457.6 333.1 458.6 332.6 459.3 332.2 460.3 331.8 461.3 331.4 462.3 331.0 463.3 330.7 464.3 330.3 465.3 330.0 466.3 329.6 467.3 329.3 468.3 329.0 469.3 328.7 470.3 328.4 471.3 328.1 472.3 327.9 473.3 327.6 474.6 327.3 475.6 327.0 476.6 326.8 477.6 326.5 478.7 326.3 479.9 326.0 480.9 325.8 481.9 325.6 483.3 325.3 484.3 325.1 485.3 324.9 486.6 324.7 487.6 324.5 488.9 324.3 489.9 324.1 491.3 324.0 492.3 323.8 493.6 323.7 494.6 323.5 495.9 323.4 497.3 323.3 498.3 323.2 499.6 323.1 500.9 323.1 502.3 323.0 503.6 323.0 504.9 322.9 506.3 322.9 507.6 323.0 508.9 323.0 510.3 323.1 511.6 323.2 512.6 323.3 513.9 323.5 514.9 323.7 515.9 324.0 516.9 324.3 517.9 324.7 518.7 325.3 519.3 326.1 519.2 326.9 518.6 327.8 517.9 328.5 517.3 329.0 516.3 329.6 515.6 330.0 514.6 330.5 513.8 330.9 512.9 331.3 511.9 331.7 510.9 332.2 509.9 332.6 508.9 332.9 508.0 333.3 506.9 333.6 505.9 333.9 504.9 334.2 503.9 334.5 502.9 334.8 501.9 335.1 500.9 335.4 499.9 335.6 498.6 335.9 497.6 336.2 496.6 336.4 495.5 336.6 494.3 336.8 493.3 337.0 492.1 337.3 490.9 337.5 489.9 337.6 488.6 337.8 487.6 337.9 486.3 338.1 485.1 338.3 483.9 338.4 482.6 338.6 481.6 338.7 480.3 338.8 478.9 338.9 477.9 339.0 476.6 339.1 475.3 339.1 473.9 339.2 472.6 339.2 471.3 339.3M480.3 336.9 478.9 337.0 477.6 337.1 476.3 337.2 474.9 337.2 473.6 337.2 472.3 337.2 470.9 337.2 469.6 337.1 468.3 337.0 467.3 336.9 465.9 336.7 464.9 336.4 463.9 336.0 463.3 335.6 462.9 334.6 463.5 333.9 464.2 333.3 464.9 332.9 465.9 332.3 466.7 331.9 467.6 331.5 468.6 331.1 469.6 330.8 470.6 330.4 471.6 330.1 472.6 329.8 473.6 329.4 474.6 329.1 475.6 328.8 476.6 328.6 477.7 328.3 478.9 327.9 479.9 327.7 480.9 327.5 481.9 327.2 483.3 327.0 484.3 326.7 485.3 326.6 486.6 326.3 487.6 326.1 488.7 325.9 489.9 325.7 490.9 325.6 492.3 325.4 493.3 325.3 494.6 325.1 495.9 325.0 496.9 324.9 498.3 324.8 499.6 324.7 500.9 324.6 501.9 324.6 503.3 324.6 504.6 324.6 505.6 324.6 506.9 324.7 508.3 324.8 509.6 324.9 510.6 325.1 511.6 325.4 512.6 325.7 513.4 326.3 513.8 327.3 513.3 328.2 512.6 328.8 511.8 329.3 510.9 329.8 510.0 330.3 509.3 330.6 508.3 331.0 507.3 331.4 506.3 331.8 505.3 332.1 504.3 332.4 503.3 332.8 502.3 333.1 501.3 333.3 500.3 333.6 499.0 333.9 497.9 334.2 496.9 334.4 495.9 334.7 494.7 334.9 493.6 335.1 492.6 335.3 491.3 335.5 490.3 335.7 488.9 335.9 487.9 336.1 486.6 336.3 485.6 336.4 484.3 336.6 483.3 336.7 481.9 336.8 480.6 336.9M484.6 334.6 483.3 334.7 481.9 334.8 480.6 334.9 479.3 334.9 477.9 334.9 476.6 334.8 475.3 334.7 474.3 334.5 473.3 334.2 472.5 333.6 472.9 332.7 473.6 332.1 474.5 331.6 475.3 331.3 476.3 330.8 477.3 330.5 478.3 330.1 479.3 329.8 480.3 329.5 481.3 329.2 482.3 328.9 483.5 328.6 484.6 328.3 485.6 328.1 486.6 327.9 487.9 327.6 488.9 327.5 490.0 327.3 491.3 327.1 492.3 326.9 493.6 326.8 494.9 326.6 495.9 326.5 497.3 326.4 498.6 326.3 499.8 326.3 500.9 326.2 502.2 326.3 503.3 326.3 504.6 326.5 505.6 326.7 506.6 327.1 507.3 327.7 507.1 328.6 506.3 329.3 505.6 329.7 504.6 330.2 503.7 330.6 502.8 330.9 501.8 331.3 500.7 331.6 499.6 331.9 498.6 332.2 497.6 332.5 496.6 332.7 495.5 332.9 494.3 333.2 493.3 333.4 492.0 333.6 490.9 333.8 489.9 334.0 488.6 334.2 487.6 334.3 486.3 334.4 484.9 334.6" fill="none" stroke="#303030" stroke-opacity="0.6" stroke-width="0.7"/>
</g>
<rect x="407.6" y="268.6" width="117.4" height="103.5" fill="none" stroke="#1a1a1a" stroke-width="0.9"/>
<line x1="407.6" y1="268.6" x2="407.6" y2="372.6" stroke="#111" stroke-width="1.1"/>
<line x1="407.1" y1="372.1" x2="525" y2="372.1" stroke="#111" stroke-width="1.1"/>
<line x1="407.6" y1="372.1" x2="405.2" y2="372.1" stroke="#111" stroke-width="0.9"/>
<text x="405" y="375" font-size="8.6" text-anchor="end" font-weight="bold" fill="#111">1</text>
<line x1="407.6" y1="346.23" x2="405.2" y2="346.23" stroke="#111" stroke-width="0.9"/>
<text x="405" y="349.12" font-size="8.6" text-anchor="end" font-weight="bold" fill="#111">2</text>
<line x1="407.6" y1="320.35" x2="405.2" y2="320.35" stroke="#111" stroke-width="0.9"/>
<text x="405" y="323.25" font-size="8.6" text-anchor="end" font-weight="bold" fill="#111">3</text>
<line x1="407.6" y1="294.48" x2="405.2" y2="294.48" stroke="#111" stroke-width="0.9"/>
<text x="405" y="297.38" font-size="8.6" text-anchor="end" font-weight="bold" fill="#111">4</text>
<line x1="407.6" y1="268.6" x2="405.2" y2="268.6" stroke="#111" stroke-width="0.9"/>
<text x="405" y="271.5" font-size="8.6" text-anchor="end" font-weight="bold" fill="#111">5</text>
<line x1="407.6" y1="359.16" x2="406.3" y2="359.16" stroke="#111" stroke-width="0.8"/>
<line x1="407.6" y1="333.29" x2="406.3" y2="333.29" stroke="#111" stroke-width="0.8"/>
<line x1="407.6" y1="307.41" x2="406.3" y2="307.41" stroke="#111" stroke-width="0.8"/>
<line x1="407.6" y1="281.54" x2="406.3" y2="281.54" stroke="#111" stroke-width="0.8"/>
<line x1="407.6" y1="372.1" x2="407.6" y2="374.5" stroke="#111" stroke-width="0.9"/>
<text x="407.6" y="382.7" font-size="8.6" text-anchor="middle" font-weight="bold" fill="#111">0</text>
<line x1="427.17" y1="372.1" x2="427.17" y2="374.5" stroke="#111" stroke-width="0.9"/>
<text x="427.17" y="382.7" font-size="8.6" text-anchor="middle" font-weight="bold" fill="#111">2</text>
<line x1="446.73" y1="372.1" x2="446.73" y2="374.5" stroke="#111" stroke-width="0.9"/>
<text x="446.73" y="382.7" font-size="8.6" text-anchor="middle" font-weight="bold" fill="#111">4</text>
<line x1="466.3" y1="372.1" x2="466.3" y2="374.5" stroke="#111" stroke-width="0.9"/>
<text x="466.3" y="382.7" font-size="8.6" text-anchor="middle" font-weight="bold" fill="#111">6</text>
<line x1="485.87" y1="372.1" x2="485.87" y2="374.5" stroke="#111" stroke-width="0.9"/>
<text x="485.87" y="382.7" font-size="8.6" text-anchor="middle" font-weight="bold" fill="#111">8</text>
<line x1="505.43" y1="372.1" x2="505.43" y2="374.5" stroke="#111" stroke-width="0.9"/>
<text x="505.43" y="382.7" font-size="8.6" text-anchor="middle" font-weight="bold" fill="#111">10</text>
<line x1="525" y1="372.1" x2="525" y2="374.5" stroke="#111" stroke-width="0.9"/>
<text x="525" y="382.7" font-size="8.6" text-anchor="middle" font-weight="bold" fill="#111">12</text>
<line x1="417.38" y1="372.1" x2="417.38" y2="373.4" stroke="#111" stroke-width="0.8"/>
<line x1="436.95" y1="372.1" x2="436.95" y2="373.4" stroke="#111" stroke-width="0.8"/>
<line x1="456.52" y1="372.1" x2="456.52" y2="373.4" stroke="#111" stroke-width="0.8"/>
<line x1="476.08" y1="372.1" x2="476.08" y2="373.4" stroke="#111" stroke-width="0.8"/>
<line x1="495.65" y1="372.1" x2="495.65" y2="373.4" stroke="#111" stroke-width="0.8"/>
<line x1="515.22" y1="372.1" x2="515.22" y2="373.4" stroke="#111" stroke-width="0.8"/>
<text x="466.3" y="393.3" font-size="8.8" text-anchor="middle" font-weight="bold" fill="#111">k (Å<tspan font-size="5.5" dy="-3">-1</tspan><tspan dy="3">)</tspan></text>
<text x="395.5" y="320.35" font-size="8.8" text-anchor="middle" font-weight="bold" fill="#111" transform="rotate(-90 395.5 320.35)">R+α (Å)</text>
<text x="411.9" y="282.9" font-size="10.8" text-anchor="start" font-weight="bold" fill="#f4f4f4">Pt foil</text>
<g clip-path="url(#cph2)"><g filter="url(#cm)">
<rect x="559.6" y="266.8" width="122.5" height="107.3" fill="rgb(33,33,33)"/>
<g style="isolation:isolate">
<ellipse cx="619.86" cy="356.61" rx="142.2" ry="10.07" fill="url(#gw)" fill-opacity="0.3" style="mix-blend-mode:plus-lighter"/>
<ellipse cx="620.85" cy="356.61" rx="154.05" ry="30.99" fill="url(#gw)" fill-opacity="0.7" style="mix-blend-mode:plus-lighter"/>
<ellipse cx="646.52" cy="315.29" rx="94.8" ry="21.69" fill="url(#gw)" fill-opacity="0.42" style="mix-blend-mode:plus-lighter"/>
<ellipse cx="603.08" cy="328.71" rx="71.1" ry="19.37" fill="url(#gw)" fill-opacity="0.42" style="mix-blend-mode:plus-lighter"/>
<ellipse cx="620.85" cy="323.03" rx="162.94" ry="46.48" fill="url(#gw)" fill-opacity="0.22" style="mix-blend-mode:plus-lighter"/>
</g>
<ellipse cx="621.84" cy="320.71" rx="17.77" ry="6.2" fill="url(#gb)" fill-opacity="0.95"/>
<ellipse cx="619.86" cy="341.37" rx="35.55" ry="6.2" fill="url(#gb)" fill-opacity="0.8"/>
<ellipse cx="669.24" cy="334.14" rx="26.66" ry="7.75" fill="url(#gb)" fill-opacity="0.69"/>
<ellipse cx="651.46" cy="302.37" rx="17.77" ry="6.2" fill="url(#gb)" fill-opacity="0.69"/>
<ellipse cx="564.07" cy="315.54" rx="14.81" ry="11.62" fill="url(#gb)" fill-opacity="0.69"/>
<ellipse cx="619.86" cy="292.04" rx="20.74" ry="7.75" fill="url(#gb)" fill-opacity="0.57"/>
<ellipse cx="656.4" cy="284.81" rx="20.74" ry="7.75" fill="url(#gb)" fill-opacity="0.57"/>
<ellipse cx="620.85" cy="268.8" rx="177.75" ry="38.74" fill="url(#gb)" fill-opacity="0.46"/>
</g>
<path d="M561.6 276.8 562.6 277.1 563.6 277.4 564.6 277.7 565.6 278.0 566.6 278.3 567.6 278.6 568.6 278.8 569.9 279.0 570.9 279.2 572.3 279.4 573.3 279.5 574.6 279.6 575.9 279.8 576.9 279.9 578.3 280.1 579.3 280.2 580.6 280.3 581.9 280.4 582.9 280.5 584.3 280.6 585.6 280.8 586.6 280.9 587.9 281.0 589.3 281.1 590.3 281.1 591.6 281.2 592.9 281.3 594.3 281.4 595.3 281.5 596.6 281.6 597.9 281.6 599.3 281.7 600.6 281.8 601.6 281.8 602.9 281.9 604.3 281.9 605.6 282.0 606.9 282.0 608.3 282.1 609.6 282.1 610.6 282.1 611.9 282.2 613.3 282.2 614.6 282.2 615.9 282.2 617.3 282.2 618.6 282.3 619.9 282.3 621.3 282.3 622.6 282.3 623.9 282.3 625.3 282.2 626.6 282.2 627.9 282.2 629.3 282.2 630.6 282.1 631.6 282.1 632.9 282.1 634.3 282.0 635.6 282.0 636.9 282.0 637.9 282.1 639.3 282.4 640.3 282.6 641.3 283.1 641.9 283.6 642.6 284.1 643.3 284.8 644.2 285.5 644.9 285.9 645.9 286.5 646.6 286.8 647.6 287.1 648.6 287.5 649.9 287.8 650.9 288.0 651.9 288.2 653.3 288.3 654.6 288.4 655.9 288.5 657.3 288.4 658.6 288.4 659.9 288.2 660.9 288.1 662.3 287.8 663.3 287.6 664.3 287.3 665.3 286.9 666.2 286.5 666.9 286.0 667.6 285.4 668.3 284.5 668.6 283.6 668.6 282.7 668.4 281.5 668.7 280.5 669.6 279.8 670.3 279.4 671.3 279.1 672.6 278.9 673.6 278.7 674.6 278.4 675.6 278.1 676.7 277.8 677.8 277.5 678.9 277.1 679.9 276.8M620.4 294.5 621.6 294.4 622.9 294.2 623.9 294.1 624.9 293.8 625.9 293.4 626.9 292.9 627.6 292.3 627.9 291.1 627.3 290.1 626.6 289.6 625.6 289.1 624.7 288.8 623.6 288.5 622.6 288.3 621.3 288.2 619.9 288.2 618.6 288.2 617.3 288.3 616.3 288.5 614.9 288.8 613.9 289.1 613.2 289.5 612.3 290.1 611.8 290.8 611.8 292.1 612.5 292.8 613.3 293.2 614.3 293.7 615.3 294.0 616.3 294.2 617.6 294.4 618.9 294.5 619.9 294.5M652.9 302.8 653.7 302.5 653.9 301.7 652.9 301.3 651.9 301.1 650.8 301.1 649.6 301.4 648.9 301.8 649.3 302.5 650.3 302.9 651.6 303.0 652.9 302.8M561.6 316.1 562.3 316.7 563.3 317.1 564.6 317.0 565.6 316.5 566.2 315.8 566.3 314.8 565.9 314.0 565.2 313.5 564.1 313.1 563.3 313.2 562.3 313.5 561.6 314.2M622.8 321.5 623.9 321.2 624.6 320.5 623.6 319.8 622.6 319.6 621.3 319.6 619.9 319.8 619.2 320.1 619.0 320.8 619.9 321.3 620.9 321.5 622.3 321.5M671.2 334.8 672.3 334.5 672.8 333.8 671.9 333.3 670.9 333.1 669.6 333.0 668.3 333.1 667.3 333.3 666.5 333.8 666.9 334.5 668.1 334.8 669.3 334.9 670.6 334.9M621.9 341.1 620.6 340.8 619.6 340.8 618.6 340.9 617.9 341.1 619.3 341.4 620.6 341.4 621.9 341.1M561.6 320.3 562.9 320.3 564.3 320.2 565.3 320.1 566.3 319.8 567.3 319.3 568.1 318.8 568.9 318.1 569.6 317.5 570.0 316.8 570.5 315.8 570.7 314.8 570.7 313.5 570.6 312.3 570.3 311.1 569.9 310.4 569.3 309.5 568.8 308.8 568.3 307.9 568.2 306.8 568.7 306.1 569.6 305.5 570.3 305.1 571.3 304.7 572.4 304.5 573.6 304.2 574.6 304.0 575.6 303.8 576.9 303.5 577.9 303.3 578.9 303.1 580.3 302.8 581.3 302.7 582.4 302.5 583.6 302.2 584.6 302.1 585.9 301.9 586.9 301.7 588.3 301.5 589.3 301.4 590.6 301.2 591.6 301.1 592.9 300.9 593.9 300.8 595.3 300.6 596.4 300.5 597.6 300.3 598.9 300.2 599.9 300.1 601.3 300.0 602.6 299.9 603.6 299.8 604.9 299.7 606.3 299.6 607.6 299.5 608.6 299.4 609.9 299.3 611.3 299.2 612.6 299.1 613.6 299.1 614.9 299.1 616.3 299.1 617.6 299.0 618.9 299.0 620.3 298.9 621.6 298.9 622.9 298.8 623.9 298.8 625.3 298.7 626.6 298.7 627.9 298.6 629.3 298.5 630.3 298.5 631.6 298.4 632.9 298.4 634.3 298.4 635.6 298.4 636.9 298.4 638.1 298.5 639.3 298.7 640.3 298.9 641.3 299.2 642.0 299.8 642.3 300.9 642.8 301.8 643.4 302.5 644.3 303.0 645.2 303.5 646.2 303.8 647.3 304.0 648.3 304.2 649.6 304.4 650.9 304.5 651.9 304.5 652.9 304.4 654.3 304.3 655.5 304.1 656.6 303.9 657.6 303.6 658.6 303.2 659.6 302.8 660.3 302.3 660.9 301.8 661.7 301.1 662.5 300.5 663.3 300.1 664.6 299.9 665.9 299.9 667.3 299.8 667.9 299.8 669.3 300.0 670.6 300.1 671.6 300.2 672.9 300.3 674.0 300.5 675.3 300.6 676.6 300.8 677.6 300.9 678.9 301.1 679.9 301.2M623.0 322.1 624.3 321.9 625.3 321.6 626.2 321.1 626.3 320.1 625.6 319.6 624.6 319.3 623.6 319.0 622.3 318.9 620.9 318.9 619.6 319.1 618.6 319.3 617.6 319.7 617.0 320.5 617.6 321.3 618.6 321.8 619.6 322.0 620.6 322.1 621.9 322.2 623.0 322.1M679.9 331.5 678.9 331.3 677.7 331.1 676.6 331.0 675.3 330.8 674.3 330.8 672.9 330.7 671.6 330.7 670.3 330.7 668.9 330.8 667.9 330.8 666.6 331.0 665.4 331.1 664.3 331.3 663.3 331.5 662.3 331.8 661.3 332.1 660.3 332.6 659.6 333.1 659.1 334.1 659.6 334.9 660.3 335.5 661.3 335.9 662.3 336.3 663.3 336.5 664.5 336.8 665.6 337.0 666.8 337.1 667.9 337.2 669.3 337.3 670.6 337.3 671.9 337.3 673.3 337.3 674.6 337.2 675.6 337.1 676.9 336.9 678.0 336.8 679.3 336.6M625.4 342.5 626.6 342.3 627.6 342.1 628.8 341.8 629.6 341.4 629.3 340.5 628.3 340.2 627.3 340.0 626.2 339.8 624.9 339.7 623.6 339.6 622.3 339.5 621.3 339.5 619.9 339.5 618.9 339.5 617.6 339.5 616.3 339.6 614.9 339.7 613.9 339.8 612.6 340.1 611.6 340.3 610.6 340.7 610.3 341.2 611.1 341.8 612.3 342.1 613.3 342.3 614.4 342.5 615.6 342.6 616.9 342.7 618.3 342.7 619.6 342.7 620.9 342.7 622.3 342.7 623.6 342.6 624.9 342.5M561.6 325.6 562.3 325.1 563.2 324.5 563.9 324.1 564.9 323.6 565.9 323.2 566.8 322.8 567.6 322.4 568.6 321.9 569.4 321.5 570.3 320.9 571.0 320.5 571.8 319.8 572.6 319.1 573.3 318.6 573.9 317.9 574.6 317.3 575.3 316.6 575.9 316.0 576.6 315.3 577.3 314.8 578.1 314.1 578.9 313.5 579.8 313.1 580.6 312.8 581.6 312.4 582.6 312.0 583.6 311.6 584.6 311.3 585.6 311.0 586.6 310.7 587.6 310.4 588.6 310.1 589.6 309.8 590.7 309.5 591.7 309.1 592.7 308.8 593.8 308.5 594.9 308.1 595.9 307.9 596.9 307.6 597.9 307.4 598.9 307.1 600.3 306.9 601.3 306.7 602.3 306.5 603.6 306.2 604.6 306.1 605.9 305.8 606.9 305.7 608.3 305.5 609.3 305.4 610.6 305.2 611.6 305.0 612.9 304.9 613.9 304.8 615.3 304.6 616.6 304.5 617.6 304.4 618.9 304.3 620.3 304.2 621.3 304.1 622.6 304.0 623.9 303.9 624.9 303.8 626.3 303.7 627.6 303.6 628.9 303.6 630.3 303.5 631.3 303.5 632.6 303.4 633.9 303.4 635.1 303.5 636.3 303.6 637.6 303.7 638.6 303.8 639.9 304.1 640.9 304.3 641.9 304.5 643.3 304.8 644.3 305.0 645.4 305.1 646.6 305.3 647.9 305.4 648.9 305.5 650.3 305.6 651.6 305.6 652.9 305.6 654.3 305.6 655.6 305.5 656.6 305.4 657.9 305.3 659.3 305.2 660.3 305.1 661.6 304.9 662.9 304.8 663.9 304.8 665.3 304.8 666.6 304.8 667.9 304.8 668.9 304.9 670.3 305.1 671.3 305.3 672.6 305.5 673.6 305.6 674.7 305.8 675.9 306.0 676.9 306.2 678.1 306.5 679.3 306.7M624.9 322.5 626.2 322.1 627.0 321.8 627.9 321.1 628.0 320.1 627.3 319.5 626.6 319.1 625.6 318.8 624.3 318.5 623.3 318.4 621.9 318.3 620.6 318.3 619.3 318.5 618.3 318.6 617.3 318.9 616.3 319.3 615.6 319.9 615.6 321.1 616.3 321.6 617.3 322.1 618.3 322.4 619.3 322.6 620.6 322.7 621.9 322.7 623.3 322.7 624.6 322.5M679.9 326.1 678.9 326.4 677.9 326.6 676.9 326.8 675.6 327.0 674.6 327.1 673.3 327.4 672.3 327.6 671.3 327.8 669.9 328.1 668.9 328.3 667.7 328.5 666.6 328.6 665.6 328.8 664.3 329.0 663.3 329.2 661.9 329.5 660.9 329.7 659.9 329.9 658.9 330.2 657.9 330.5 656.9 330.8 655.9 331.2 654.9 331.7 654.3 332.1 653.4 332.8 652.9 333.5 652.6 334.3 652.9 335.3 653.6 336.1 654.3 336.7 655.2 337.1 656.2 337.5 657.2 337.8 658.3 338.1 659.3 338.4 660.3 338.6 661.3 338.9 662.4 339.1 663.6 339.3 664.7 339.5 665.9 339.6 667.2 339.8 668.3 339.9 669.6 340.1 670.6 340.3 671.9 340.4 672.9 340.6 674.2 340.8 675.3 340.9 676.5 341.1 677.6 341.3 678.6 341.6 679.6 341.9M561.6 340.8 562.3 340.4 563.2 339.8 563.9 339.1 563.9 338.1 563.7 337.1 563.5 336.1 562.9 335.4 562.3 334.6 561.7 333.8M623.9 343.5 624.9 343.4 626.3 343.3 627.6 343.2 628.6 343.1 629.9 342.9 630.9 342.8 632.3 342.6 633.3 342.3 634.3 342.1 635.3 341.7 636.0 341.1 635.6 340.3 634.6 339.8 633.6 339.6 632.6 339.3 631.4 339.1 630.3 339.0 628.9 338.8 627.9 338.8 626.6 338.7 625.3 338.6 623.9 338.5 622.6 338.5 621.3 338.5 619.9 338.5 618.6 338.6 617.3 338.6 615.9 338.7 614.6 338.8 613.6 338.8 612.3 339.0 610.9 339.1 609.9 339.3 608.7 339.5 607.6 339.7 606.6 340.0 605.6 340.4 604.9 340.9 605.3 341.6 606.3 342.1 607.3 342.4 608.3 342.6 609.3 342.8 610.6 343.0 611.6 343.1 612.9 343.3 614.3 343.4 615.6 343.4 616.6 343.5 617.9 343.5 619.3 343.5 620.6 343.5 621.9 343.5 623.3 343.5M591.5 371.8 590.3 371.7 588.9 371.6 587.6 371.5 586.6 371.4 585.3 371.3 583.9 371.1 582.9 371.0 581.6 370.9 580.6 370.8 579.3 370.6 577.9 370.5 576.9 370.3 575.6 370.2 574.6 370.0 573.3 369.8 572.3 369.7 570.9 369.5 569.9 369.4 568.6 369.1 567.6 369.0 566.6 368.8 565.3 368.6 564.3 368.4 563.0 368.1 561.9 367.9M679.9 367.8 678.6 368.1 677.6 368.3 676.6 368.5 675.3 368.7 674.3 368.9 672.9 369.1 671.9 369.3 670.9 369.5 669.6 369.7 668.6 369.8 667.3 370.0 666.2 370.1 664.9 370.3 663.6 370.5 662.6 370.6 661.3 370.7 660.3 370.9 658.9 371.0 657.6 371.1 656.6 371.2 655.3 371.4 654.1 371.5 652.9 371.6 651.6 371.7 650.3 371.8M561.6 348.5 562.7 348.1 563.9 347.8 564.9 347.5 565.9 347.3 566.9 347.0 567.9 346.7 568.9 346.4 570.1 346.1 571.3 345.8 572.1 345.5 573.0 345.1 573.9 344.8 574.9 344.4 575.9 344.1 577.0 343.8 578.1 343.5 579.0 343.1 579.9 342.7 580.9 342.2 581.8 341.8 582.6 341.1 583.3 340.6 583.6 339.8 583.0 339.1 582.4 338.5 581.6 337.9 580.9 337.4 579.9 336.9 579.0 336.5 578.3 336.0 577.4 335.5 576.6 335.0 575.7 334.5 574.9 334.0 574.1 333.5 573.3 332.8 572.6 332.2 571.9 331.6 571.3 330.8 570.9 330.1 570.8 328.8 571.0 327.8 571.3 326.6 571.6 325.7 572.3 324.9 572.9 324.3 573.6 323.8 574.5 323.1 575.3 322.6 575.9 322.1 576.9 321.5 577.6 321.1 578.6 320.7 579.6 320.2 580.5 319.8 581.3 319.5 582.3 319.1 583.3 318.7 584.3 318.3 585.3 317.9 586.2 317.5 587.1 317.1 587.9 316.8 588.9 316.4 589.9 316.1 590.9 315.7 591.9 315.3 592.9 314.9 593.9 314.5 594.8 314.1 595.6 313.8 596.6 313.4 597.6 313.1 598.6 312.7 599.6 312.4 600.6 312.0 601.6 311.7 602.6 311.4 603.6 311.1 604.6 310.8 605.9 310.5 606.9 310.2 607.9 310.0 608.9 309.8 610.3 309.5 611.3 309.3 612.3 309.1 613.5 308.8 614.6 308.6 615.6 308.4 616.9 308.2 617.9 308.0 619.3 307.8 620.3 307.7 621.6 307.5 622.6 307.4 623.9 307.2 624.9 307.1 626.3 307.0 627.6 306.9 628.8 306.8 629.9 306.7 631.3 306.6 632.6 306.6 633.9 306.5 634.9 306.5 636.3 306.4 637.6 306.4 638.9 306.4 639.9 306.5 641.3 306.5 642.6 306.6 643.9 306.7 645.3 306.8 646.3 306.8 647.6 306.9 648.9 307.0 650.3 307.0 651.6 307.1 652.9 307.1 653.9 307.1 655.3 307.2 656.6 307.2 657.9 307.2 659.3 307.3 660.6 307.3 661.9 307.4 662.9 307.6 664.3 307.7 665.3 307.9 666.6 308.1 667.6 308.3 668.7 308.5 669.9 308.7 670.9 308.9 671.9 309.2 673.2 309.5 674.3 309.8 675.3 310.1 676.3 310.4 677.3 310.7 678.3 311.1 679.1 311.5 679.9 311.9M624.9 323.1 625.9 323.0 626.9 322.7 627.9 322.4 628.9 321.9 629.6 321.2 629.7 320.1 629.1 319.5 628.3 319.0 627.3 318.5 626.3 318.3 625.3 318.0 623.9 317.8 622.9 317.7 621.6 317.7 620.3 317.7 619.1 317.8 617.9 318.0 616.9 318.1 615.8 318.5 614.9 318.8 614.0 319.5 613.6 320.1 613.8 321.1 614.6 321.8 615.3 322.1 616.3 322.5 617.3 322.8 618.6 323.1 619.6 323.2 620.9 323.3 622.3 323.3 623.6 323.3 624.9 323.1M679.9 320.0 679.0 320.5 678.3 320.8 677.3 321.2 676.3 321.6 675.3 322.0 674.3 322.3 673.3 322.6 672.3 322.9 671.3 323.1 670.2 323.5 669.1 323.8 668.0 324.1 666.9 324.4 665.9 324.7 664.9 324.9 663.9 325.1 662.6 325.4 661.6 325.7 660.6 325.9 659.6 326.2 658.5 326.5 657.4 326.8 656.3 327.1 655.3 327.4 654.3 327.7 653.3 328.1 652.3 328.4 651.3 328.8 650.3 329.1 649.3 329.5 648.6 329.8 647.6 330.3 646.6 330.8 645.9 331.1 644.9 331.8 644.3 332.3 643.5 332.8 642.6 333.4 641.9 334.0 641.3 334.6 640.6 335.1 639.6 335.7 638.6 336.1 637.6 336.3 636.6 336.5 635.5 336.8 634.3 336.9 632.9 337.1 631.6 337.1 630.6 337.2 629.3 337.2 627.9 337.2 626.6 337.3 625.3 337.3 623.9 337.3 622.6 337.4 621.3 337.4 619.9 337.5 618.9 337.5 617.6 337.5 616.3 337.6 614.9 337.7 613.6 337.7 612.6 337.8 611.3 337.9 609.9 338.0 608.8 338.1 607.6 338.2 606.3 338.4 605.3 338.5 603.9 338.7 602.9 338.8 601.6 339.1 600.6 339.3 599.6 339.5 598.3 339.8 597.5 340.1 596.6 340.8 596.6 341.5 597.6 341.9 598.6 342.2 599.6 342.5 600.9 342.8 601.9 343.0 602.9 343.2 604.3 343.4 605.3 343.5 606.6 343.7 607.7 343.8 608.9 343.9 610.3 344.0 611.6 344.1 612.6 344.2 613.9 344.2 615.3 344.3 616.6 344.3 617.9 344.4 619.3 344.4 620.6 344.4 621.9 344.4 623.3 344.3 624.6 344.3 625.9 344.2 627.3 344.2 628.3 344.1 629.6 344.0 630.9 344.0 632.3 343.8 633.3 343.7 634.6 343.6 635.7 343.5 636.9 343.3 638.3 343.2 639.3 343.0 640.6 342.8 641.6 342.7 642.9 342.5 643.9 342.4 645.3 342.2 646.6 342.2 647.9 342.1 649.3 342.2 650.6 342.3 651.9 342.4 653.3 342.5 654.3 342.5 655.6 342.7 656.6 342.9 657.9 343.1 658.9 343.3 659.9 343.5 661.3 343.7 662.3 343.9 663.3 344.1 664.6 344.4 665.6 344.6 666.6 344.9 667.7 345.1 668.9 345.4 669.9 345.7 670.9 346.0 671.9 346.3 672.9 346.5 673.9 346.8 674.9 347.1 676.3 347.5 677.3 347.7 678.3 348.0 679.3 348.3M679.9 363.2 678.8 363.5 677.6 363.7 676.6 364.0 675.6 364.2 674.3 364.5 673.3 364.7 672.3 364.9 670.9 365.1 669.9 365.3 668.8 365.5 667.6 365.7 666.6 365.8 665.3 366.1 664.3 366.2 662.9 366.5 661.9 366.6 660.8 366.8 659.6 367.0 658.5 367.1 657.3 367.3 656.0 367.5 654.9 367.6 653.6 367.8 652.6 367.9 651.3 368.0 650.0 368.1 648.9 368.2 647.6 368.4 646.4 368.5 645.3 368.6 643.9 368.7 642.6 368.8 641.6 368.8 640.3 368.9 638.9 369.0 637.6 369.1 636.3 369.1 635.3 369.2 633.9 369.2 632.6 369.3 631.3 369.3 629.9 369.4 628.6 369.4 627.3 369.4 625.9 369.5 624.9 369.5 623.6 369.5 622.3 369.5 620.9 369.5 619.6 369.5 618.3 369.5 616.9 369.5 615.8 369.5 614.6 369.4 613.3 369.4 611.9 369.4 610.6 369.3 609.3 369.3 607.9 369.2 606.6 369.2 605.3 369.1 604.3 369.1 602.9 369.0 601.6 368.9 600.3 368.8 599.3 368.8 597.9 368.7 596.6 368.6 595.3 368.5 594.3 368.4 592.9 368.3 591.6 368.1 590.6 368.0 589.3 367.9 588.3 367.8 586.9 367.6 585.6 367.5 584.6 367.3 583.3 367.2 582.3 367.0 580.9 366.8 579.9 366.7 578.6 366.5 577.6 366.3 576.6 366.1 575.3 365.9 574.3 365.7 572.9 365.5 571.9 365.3 570.7 365.1 569.6 364.9 568.6 364.7 567.3 364.5 566.3 364.3 565.3 364.0 564.2 363.8 562.9 363.5 561.9 363.3M606.3 336.5 604.9 336.5 603.6 336.5 602.3 336.5 600.9 336.5 599.6 336.5 598.3 336.5 597.3 336.4 595.9 336.3 594.9 336.1 593.6 335.9 592.6 335.7 591.6 335.4 590.3 335.1 589.3 334.8 588.3 334.5 587.3 334.2 586.3 333.8 585.3 333.5 584.5 333.1 583.6 332.7 582.6 332.1 581.9 331.7 581.1 331.1 580.4 330.5 579.8 329.8 579.3 328.8 579.3 328.1 579.6 327.1 580.3 326.2 580.9 325.5 581.6 324.8 582.3 324.3 583.1 323.8 583.9 323.4 584.9 322.9 585.8 322.5 586.6 322.1 587.6 321.7 588.6 321.4 589.6 321.0 590.6 320.6 591.6 320.3 592.6 319.9 593.6 319.6 594.6 319.3 595.6 319.0 596.6 318.6 597.6 318.3 598.6 318.0 599.6 317.7 600.6 317.4 601.6 317.0 602.6 316.6 603.6 316.2 604.6 315.9 605.6 315.5 606.6 315.1 607.5 314.8 608.4 314.5 609.4 314.1 610.3 313.8 611.3 313.4 612.3 313.1 613.3 312.8 614.4 312.5 615.6 312.1 616.6 311.9 617.6 311.6 618.6 311.4 619.9 311.1 620.9 310.9 621.9 310.8 623.3 310.6 624.3 310.4 625.6 310.3 626.6 310.1 627.9 309.9 629.0 309.8 630.3 309.7 631.6 309.5 632.6 309.4 633.9 309.3 635.3 309.2 636.6 309.2 637.6 309.1 638.9 309.1 640.3 309.0 641.6 309.0 642.9 309.0 644.3 309.0 645.6 309.0 646.9 309.1 648.3 309.1 649.3 309.2 650.6 309.2 651.9 309.3 653.3 309.4 654.3 309.5 655.6 309.7 656.8 309.8 657.9 310.0 659.2 310.1 660.3 310.3 661.3 310.5 662.6 310.7 663.6 311.0 664.6 311.2 665.6 311.5 666.7 311.8 667.7 312.1 668.6 312.5 669.6 313.0 670.5 313.5 671.3 314.1 671.9 314.8 672.2 315.8 671.9 316.8 671.3 317.5 670.5 318.1 669.6 318.7 668.6 319.1 667.9 319.5 666.9 319.8 665.9 320.2 664.9 320.6 663.9 321.0 662.9 321.3 661.9 321.6 660.9 321.8 659.7 322.1 658.6 322.4 657.6 322.6 656.6 322.8 655.3 323.1 654.3 323.3 653.3 323.5 652.0 323.8 650.9 324.0 649.9 324.3 648.9 324.5 647.7 324.8 646.6 325.1 645.6 325.4 644.6 325.6 643.6 325.9 642.6 326.3 641.7 326.8 640.9 327.2 639.9 327.6 639.0 328.1 638.3 328.5 637.3 329.1 636.5 329.5 635.6 330.0 634.6 330.5 633.9 330.8 632.9 331.3 632.0 331.8 631.3 332.2 630.3 332.6 629.3 333.0 628.3 333.4 627.4 333.8 626.5 334.1 625.5 334.5 624.4 334.8 623.3 335.0 622.3 335.2 620.9 335.3 619.6 335.5 618.6 335.6 617.3 335.7 615.9 335.8 614.9 335.9 613.6 336.0 612.4 336.1 611.3 336.2 609.9 336.3 608.6 336.4 607.3 336.4 606.3 336.5M625.9 323.8 626.9 323.7 627.9 323.4 629.0 323.1 629.9 322.8 630.9 322.2 631.6 321.5 631.8 320.5 631.3 319.5 630.6 319.0 629.7 318.5 628.9 318.1 627.9 317.8 626.6 317.5 625.6 317.3 624.6 317.1 623.3 317.0 621.9 316.9 620.6 316.8 619.3 316.9 617.9 317.0 616.6 317.1 615.6 317.3 614.6 317.5 613.6 317.8 612.6 318.3 611.8 318.8 611.3 319.5 611.3 320.5 611.9 321.4 612.6 321.9 613.6 322.5 614.4 322.8 615.4 323.1 616.6 323.4 617.6 323.6 618.9 323.8 619.9 323.9 621.3 324.0 622.6 324.0 623.9 324.0 625.3 323.9M561.6 352.4 562.6 352.1 563.8 351.8 564.9 351.5 565.9 351.2 566.9 351.0 567.9 350.8 569.3 350.5 570.3 350.2 571.3 350.0 572.3 349.8 573.6 349.5 574.6 349.2 575.6 349.0 576.6 348.8 577.9 348.5 578.9 348.3 579.9 348.1 581.3 347.8 582.3 347.6 583.3 347.5 584.6 347.2 585.6 347.0 586.6 346.8 587.9 346.5 588.9 346.3 589.9 346.1 591.1 345.8 592.3 345.6 593.3 345.4 594.6 345.3 595.9 345.2 597.3 345.2 598.6 345.1 599.6 345.1 600.9 345.1 602.3 345.1 603.6 345.1 604.6 345.1 605.9 345.2 607.3 345.2 608.6 345.2 609.9 345.3 611.3 345.3 612.6 345.3 613.9 345.4 615.3 345.4 616.6 345.4 617.9 345.4 619.3 345.4 620.6 345.4 621.9 345.4 623.3 345.4 624.6 345.4 625.9 345.4 627.3 345.4 628.6 345.4 629.9 345.3 631.3 345.3 632.6 345.3 633.9 345.3 635.3 345.3 636.6 345.3 637.9 345.3 639.3 345.3 640.6 345.3 641.9 345.4 643.3 345.4 644.6 345.4 645.6 345.5 646.9 345.6 648.1 345.8 649.3 346.0 650.3 346.1 651.6 346.4 652.6 346.5 653.9 346.7 654.9 346.9 656.3 347.1 657.3 347.3 658.3 347.5 659.6 347.7 660.6 347.9 661.7 348.1 662.9 348.4 663.9 348.6 664.9 348.8 666.3 349.1 667.3 349.3 668.3 349.6 669.3 349.8 670.6 350.1 671.6 350.3 672.6 350.6 673.6 350.8 674.9 351.1 675.9 351.4 676.9 351.7 677.9 351.9 678.9 352.2 679.9 352.5M679.9 359.9 678.9 360.1 677.6 360.4 676.6 360.7 675.6 360.9 674.6 361.1 673.3 361.4 672.3 361.6 671.3 361.8 669.9 362.1 668.9 362.3 667.9 362.5 666.6 362.7 665.6 362.9 664.3 363.1 663.3 363.3 662.2 363.5 660.9 363.7 659.9 363.8 658.6 364.0 657.6 364.2 656.3 364.4 655.3 364.5 653.9 364.7 652.9 364.8 651.6 365.0 650.3 365.1 649.3 365.2 647.9 365.4 646.9 365.5 645.6 365.6 644.3 365.7 643.2 365.8 641.9 365.9 640.6 366.0 639.3 366.1 638.3 366.1 636.9 366.2 635.6 366.3 634.3 366.4 632.9 366.4 631.9 366.5 630.6 366.5 629.3 366.6 627.9 366.6 626.6 366.6 625.3 366.7 623.9 366.7 622.6 366.7 621.3 366.7 619.9 366.7 618.6 366.7 617.3 366.7 615.9 366.7 614.6 366.6 613.3 366.6 611.9 366.6 610.6 366.5 609.5 366.5 608.3 366.4 606.9 366.4 605.6 366.3 604.3 366.2 603.1 366.1 601.9 366.1 600.6 366.0 599.3 365.9 598.3 365.8 596.9 365.7 595.6 365.6 594.5 365.5 593.3 365.3 591.9 365.2 590.9 365.1 589.6 364.9 588.5 364.8 587.3 364.6 586.0 364.5 584.9 364.3 583.6 364.1 582.6 364.0 581.3 363.8 580.3 363.6 579.3 363.5 577.9 363.2 576.9 363.1 575.6 362.9 574.6 362.7 573.4 362.5 572.3 362.2 571.3 362.1 569.9 361.8 568.9 361.6 567.9 361.4 566.6 361.1 565.6 360.9 564.6 360.7 563.6 360.5 562.3 360.1M639.6 322.2 638.3 322.1 637.5 321.8 636.6 321.4 635.9 320.7 635.3 320.1 634.6 319.4 633.9 318.8 632.9 318.2 632.1 317.8 631.3 317.4 630.3 317.0 629.3 316.7 628.3 316.3 627.3 316.0 626.3 315.6 625.3 315.2 624.6 314.7 624.6 314.3 625.6 314.1 626.8 313.8 627.9 313.5 628.9 313.3 629.9 313.1 631.3 312.9 632.3 312.7 633.6 312.6 634.6 312.5 635.9 312.3 637.3 312.3 638.6 312.2 639.9 312.2 641.3 312.2 642.6 312.2 643.9 312.2 645.3 312.2 646.6 312.3 647.9 312.4 649.2 312.5 650.3 312.6 651.6 312.8 652.6 312.9 653.7 313.1 654.9 313.4 655.9 313.7 656.9 314.1 657.6 314.5 658.4 315.1 658.6 316.1 658.3 317.0 657.6 317.7 656.9 318.1 655.9 318.5 654.9 318.8 653.9 319.1 652.6 319.5 651.6 319.7 650.6 320.0 649.6 320.2 648.5 320.5 647.3 320.7 646.3 320.9 645.0 321.1 643.9 321.3 642.8 321.5 641.6 321.7 640.6 322.0 639.6 322.2M607.6 333.5 606.3 333.5 604.9 333.5 603.9 333.5 602.6 333.4 601.3 333.3 599.9 333.2 598.9 333.1 597.6 332.9 596.6 332.7 595.4 332.5 594.3 332.2 593.3 331.9 592.3 331.6 591.3 331.2 590.3 330.8 589.6 330.4 588.7 329.8 588.1 329.1 587.9 328.1 588.3 327.4 588.9 326.6 589.6 326.1 590.4 325.5 591.3 324.9 592.0 324.5 592.9 324.1 593.9 323.7 594.9 323.4 595.9 323.0 596.9 322.7 597.9 322.4 599.1 322.1 600.3 321.8 601.3 321.6 602.3 321.3 603.3 321.1 604.6 321.0 605.6 321.2 606.9 321.4 607.9 321.7 608.9 322.1 609.8 322.5 610.6 322.8 611.6 323.2 612.6 323.5 613.7 323.8 614.9 324.1 615.9 324.3 616.9 324.5 618.3 324.7 619.3 324.9 620.6 325.0 621.9 325.1 622.9 325.2 624.3 325.3 625.6 325.4 626.6 325.5 627.9 325.7 628.9 325.9 629.6 326.1 628.8 326.8 628.0 327.5 627.3 328.1 626.6 328.5 625.6 329.1 624.9 329.5 623.9 330.0 622.9 330.4 622.1 330.8 621.3 331.1 620.3 331.5 619.2 331.8 617.9 332.1 616.9 332.4 615.9 332.6 614.7 332.8 613.6 333.0 612.3 333.1 611.3 333.2 609.9 333.4 608.6 333.4 607.6 333.5M631.6 364.1 630.3 364.2 628.9 364.2 627.6 364.3 626.3 364.3 624.9 364.3 623.6 364.4 622.3 364.4 620.9 364.4 619.6 364.4 618.3 364.4 616.9 364.3 615.6 364.3 614.3 364.3 612.9 364.3 611.6 364.2 610.3 364.2 609.3 364.1 607.9 364.0 606.6 364.0 605.3 363.9 603.9 363.8 602.9 363.7 601.6 363.6 600.3 363.5 599.3 363.5 597.9 363.4 596.6 363.2 595.6 363.1 594.3 363.0 592.9 362.9 591.9 362.7 590.6 362.6 589.5 362.5 588.3 362.3 586.9 362.2 585.9 362.0 584.6 361.8 583.6 361.7 582.3 361.5 581.3 361.4 579.9 361.2 578.9 361.0 577.7 360.8 576.6 360.6 575.6 360.4 574.3 360.2 573.3 360.0 572.3 359.8 570.9 359.5 569.9 359.2 568.9 359.0 567.9 358.7 566.9 358.4 565.9 358.0 564.9 357.5 564.3 357.1 563.8 356.1 564.3 355.4 565.2 354.8 565.9 354.5 566.9 354.1 567.9 353.7 568.9 353.4 570.1 353.1 571.3 352.8 572.3 352.6 573.3 352.4 574.4 352.1 575.6 351.9 576.6 351.7 577.9 351.5 578.9 351.3 579.9 351.1 581.3 350.8 582.3 350.7 583.5 350.5 584.6 350.3 585.6 350.1 586.9 349.9 587.9 349.8 589.3 349.6 590.3 349.4 591.6 349.2 592.6 349.1 593.9 348.9 595.0 348.8 596.3 348.6 597.6 348.5 598.6 348.4 599.9 348.2 601.0 348.1 602.3 348.0 603.6 347.9 604.6 347.8 605.9 347.7 607.3 347.6 608.5 347.5 609.6 347.4 610.9 347.3 612.3 347.3 613.6 347.3 614.9 347.2 616.3 347.2 617.6 347.2 618.9 347.2 620.3 347.2 621.6 347.2 622.9 347.2 624.3 347.2 625.6 347.2 626.9 347.3 628.3 347.3 629.6 347.3 630.9 347.4 632.2 347.5 633.3 347.5 634.6 347.6 635.9 347.7 636.9 347.8 638.3 347.9 639.6 348.0 640.6 348.1 641.9 348.3 643.3 348.4 644.3 348.5 645.6 348.7 646.6 348.8 647.9 349.0 648.9 349.1 650.3 349.3 651.5 349.5 652.6 349.6 653.7 349.8 654.9 350.0 655.9 350.2 657.3 350.4 658.3 350.5 659.6 350.8 660.6 350.9 661.6 351.1 662.9 351.4 663.9 351.6 665.1 351.8 666.3 352.0 667.3 352.2 668.3 352.5 669.6 352.8 670.6 353.0 671.6 353.3 672.6 353.6 673.6 353.9 674.6 354.3 675.6 354.7 676.3 355.1 677.0 355.8 676.9 356.8 676.1 357.5 675.3 357.9 674.3 358.3 673.3 358.6 672.3 358.9 671.3 359.2 670.2 359.5 668.9 359.7 667.9 360.0 666.9 360.2 665.6 360.4 664.6 360.6 663.5 360.8 662.3 361.0 661.3 361.2 659.9 361.4 658.9 361.5 657.6 361.7 656.6 361.9 655.3 362.0 654.3 362.2 652.9 362.3 651.9 362.5 650.6 362.6 649.3 362.8 648.3 362.9 646.9 363.0 645.8 363.1 644.6 363.2 643.3 363.4 642.1 363.5 640.9 363.6 639.6 363.7 638.3 363.8 637.3 363.8 635.9 363.9 634.6 364.0 633.3 364.1 631.9 364.1M608.9 329.2 607.6 329.4 606.3 329.3 604.9 329.3 603.6 329.1 602.6 329.0 601.6 328.6 601.6 327.7 602.3 326.9 603.3 326.6 604.3 326.5 605.6 326.3 606.9 326.1 607.9 326.0 609.3 325.9 610.6 326.0 611.6 326.2 612.6 326.7 612.3 327.5 611.8 328.1 610.9 328.5 609.9 328.9 608.9 329.2M631.9 362.1 630.6 362.2 629.3 362.2 627.9 362.3 626.6 362.3 625.3 362.3 623.9 362.4 622.6 362.4 621.3 362.4 619.9 362.4 618.6 362.4 617.3 362.4 615.9 362.3 614.6 362.3 613.3 362.3 611.9 362.2 610.6 362.2 609.3 362.1 608.3 362.1 606.9 362.0 605.6 362.0 604.3 361.9 603.0 361.8 601.9 361.7 600.6 361.6 599.3 361.5 598.3 361.4 596.9 361.3 595.6 361.2 594.6 361.1 593.3 361.0 591.9 360.8 590.9 360.7 589.6 360.6 588.6 360.5 587.3 360.3 586.2 360.1 584.9 359.9 583.9 359.8 582.6 359.5 581.6 359.4 580.4 359.1 579.3 358.9 578.3 358.7 577.3 358.4 576.3 358.1 575.3 357.8 574.3 357.3 573.5 356.8 573.6 355.7 574.3 355.1 575.3 354.7 576.3 354.3 577.3 354.0 578.3 353.8 579.6 353.5 580.6 353.3 581.6 353.1 582.9 352.8 583.9 352.6 584.9 352.4 586.3 352.2 587.3 352.1 588.6 351.9 589.6 351.8 590.9 351.6 591.9 351.4 593.3 351.3 594.6 351.1 595.6 351.0 596.9 350.9 597.9 350.8 599.3 350.7 600.6 350.5 601.6 350.5 602.9 350.4 604.3 350.3 605.6 350.2 606.6 350.1 607.9 350.0 609.3 350.0 610.6 349.9 611.9 349.8 613.2 349.8 614.3 349.8 615.6 349.7 616.9 349.7 618.3 349.7 619.6 349.7 620.9 349.7 622.3 349.7 623.6 349.7 624.9 349.7 626.3 349.7 627.6 349.8 628.6 349.8 629.9 349.9 631.3 349.9 632.6 350.0 633.9 350.1 635.2 350.1 636.3 350.2 637.6 350.3 638.9 350.4 639.9 350.5 641.3 350.6 642.6 350.7 643.6 350.8 644.9 351.0 646.3 351.1 647.3 351.2 648.6 351.4 649.6 351.5 650.9 351.7 652.0 351.8 653.3 352.0 654.3 352.1 655.6 352.4 656.6 352.5 657.9 352.7 658.9 352.9 659.9 353.1 661.3 353.4 662.3 353.7 663.3 353.9 664.3 354.2 665.3 354.5 666.3 355.0 667.1 355.5 667.6 356.1 667.3 356.9 666.4 357.5 665.6 357.8 664.6 358.2 663.6 358.5 662.3 358.8 661.3 359.0 660.3 359.2 658.9 359.5 657.9 359.6 656.9 359.8 655.6 360.0 654.6 360.2 653.3 360.4 652.3 360.5 650.9 360.6 649.6 360.8 648.6 360.9 647.3 361.0 646.3 361.1 644.9 361.3 643.6 361.4 642.6 361.5 641.3 361.6 639.9 361.7 638.6 361.8 637.6 361.8 636.3 361.9 634.9 362.0 633.6 362.1 632.3 362.1M633.6 360.5 632.3 360.5 630.9 360.6 629.6 360.6 628.3 360.7 626.9 360.7 625.6 360.8 624.3 360.8 622.9 360.8 621.6 360.8 620.3 360.8 618.9 360.8 617.6 360.8 616.3 360.8 614.9 360.7 613.6 360.7 612.3 360.7 610.9 360.6 609.6 360.6 608.3 360.5 607.2 360.5 605.9 360.4 604.6 360.3 603.3 360.2 601.9 360.1 600.9 360.1 599.6 359.9 598.3 359.8 597.3 359.7 595.9 359.6 594.9 359.4 593.6 359.3 592.6 359.1 591.3 358.9 590.3 358.8 588.9 358.6 587.9 358.4 586.9 358.1 585.6 357.8 584.6 357.5 583.7 357.1 582.9 356.5 583.1 355.8 583.9 355.3 584.9 354.9 585.9 354.6 586.9 354.3 587.9 354.1 589.3 353.8 590.3 353.7 591.5 353.5 592.6 353.3 593.9 353.1 594.9 353.0 596.3 352.8 597.3 352.7 598.6 352.6 599.7 352.5 600.9 352.3 602.3 352.2 603.4 352.1 604.6 352.0 605.9 351.9 607.3 351.9 608.3 351.8 609.6 351.7 610.9 351.7 612.3 351.6 613.6 351.6 614.9 351.6 616.3 351.5 617.6 351.5 618.9 351.5 620.3 351.5 621.6 351.5 622.9 351.5 624.3 351.5 625.6 351.5 626.9 351.6 628.3 351.6 629.6 351.7 630.9 351.7 632.3 351.8 633.3 351.8 634.6 351.9 635.9 352.0 637.3 352.1 638.3 352.2 639.6 352.3 640.9 352.4 641.9 352.5 643.3 352.7 644.5 352.8 645.6 352.9 646.9 353.1 647.9 353.2 649.3 353.4 650.3 353.6 651.5 353.8 652.6 354.0 653.6 354.2 654.6 354.5 655.7 354.8 656.7 355.1 657.6 355.7 657.9 356.5 657.3 357.1 656.4 357.5 655.4 357.8 654.3 358.1 653.3 358.3 652.3 358.5 650.9 358.7 649.9 358.9 648.6 359.1 647.6 359.3 646.3 359.4 645.3 359.5 643.9 359.7 642.9 359.8 641.6 359.9 640.3 360.0 639.2 360.1 637.9 360.2 636.6 360.3 635.3 360.4 633.9 360.5M628.9 359.1 627.6 359.2 626.3 359.2 624.9 359.3 623.6 359.3 622.3 359.3 620.9 359.3 619.6 359.3 618.3 359.3 616.9 359.3 615.6 359.3 614.3 359.2 612.9 359.2 611.9 359.1 610.6 359.1 609.3 359.0 607.9 358.9 606.6 358.8 605.6 358.7 604.3 358.6 602.9 358.5 601.9 358.4 600.6 358.2 599.6 358.1 598.3 357.9 597.3 357.7 596.1 357.5 595.0 357.1 594.3 356.8 593.9 356.0 594.7 355.5 595.7 355.1 596.9 354.8 597.9 354.7 599.1 354.5 600.3 354.3 601.6 354.1 602.6 354.0 603.9 353.9 604.9 353.8 606.3 353.7 607.6 353.6 608.9 353.5 609.9 353.4 611.3 353.4 612.6 353.3 613.9 353.3 615.3 353.2 616.6 353.2 617.9 353.2 619.3 353.1 620.6 353.1 621.9 353.1 623.3 353.2 624.6 353.2 625.9 353.2 627.3 353.3 628.6 353.3 629.9 353.4 631.3 353.5 632.3 353.5 633.6 353.6 634.9 353.7 636.0 353.8 637.3 353.9 638.6 354.1 639.6 354.2 640.9 354.3 641.9 354.5 643.3 354.7 644.3 354.9 645.3 355.2 646.3 355.5 647.1 356.1 646.6 356.8 645.6 357.2 644.6 357.5 643.3 357.8 642.3 357.9 641.0 358.1 639.9 358.3 638.6 358.4 637.6 358.5 636.3 358.7 634.9 358.8 633.9 358.8 632.6 358.9 631.3 359.0 629.9 359.1 628.9 359.1" fill="none" stroke="#303030" stroke-opacity="0.6" stroke-width="0.7"/>
</g>
<rect x="561.6" y="268.8" width="118.5" height="103.3" fill="none" stroke="#1a1a1a" stroke-width="0.9"/>
<line x1="561.6" y1="268.8" x2="561.6" y2="372.6" stroke="#111" stroke-width="1.1"/>
<line x1="561.1" y1="372.1" x2="680.1" y2="372.1" stroke="#111" stroke-width="1.1"/>
<line x1="561.6" y1="372.1" x2="559.2" y2="372.1" stroke="#111" stroke-width="0.9"/>
<text x="559" y="375" font-size="8.6" text-anchor="end" font-weight="bold" fill="#111">1</text>
<line x1="561.6" y1="346.28" x2="559.2" y2="346.28" stroke="#111" stroke-width="0.9"/>
<text x="559" y="349.18" font-size="8.6" text-anchor="end" font-weight="bold" fill="#111">2</text>
<line x1="561.6" y1="320.45" x2="559.2" y2="320.45" stroke="#111" stroke-width="0.9"/>
<text x="559" y="323.35" font-size="8.6" text-anchor="end" font-weight="bold" fill="#111">3</text>
<line x1="561.6" y1="294.62" x2="559.2" y2="294.62" stroke="#111" stroke-width="0.9"/>
<text x="559" y="297.52" font-size="8.6" text-anchor="end" font-weight="bold" fill="#111">4</text>
<line x1="561.6" y1="268.8" x2="559.2" y2="268.8" stroke="#111" stroke-width="0.9"/>
<text x="559" y="271.7" font-size="8.6" text-anchor="end" font-weight="bold" fill="#111">5</text>
<line x1="561.6" y1="359.19" x2="560.3" y2="359.19" stroke="#111" stroke-width="0.8"/>
<line x1="561.6" y1="333.36" x2="560.3" y2="333.36" stroke="#111" stroke-width="0.8"/>
<line x1="561.6" y1="307.54" x2="560.3" y2="307.54" stroke="#111" stroke-width="0.8"/>
<line x1="561.6" y1="281.71" x2="560.3" y2="281.71" stroke="#111" stroke-width="0.8"/>
<line x1="561.6" y1="372.1" x2="561.6" y2="374.5" stroke="#111" stroke-width="0.9"/>
<text x="561.6" y="382.7" font-size="8.6" text-anchor="middle" font-weight="bold" fill="#111">0</text>
<line x1="581.35" y1="372.1" x2="581.35" y2="374.5" stroke="#111" stroke-width="0.9"/>
<text x="581.35" y="382.7" font-size="8.6" text-anchor="middle" font-weight="bold" fill="#111">2</text>
<line x1="601.1" y1="372.1" x2="601.1" y2="374.5" stroke="#111" stroke-width="0.9"/>
<text x="601.1" y="382.7" font-size="8.6" text-anchor="middle" font-weight="bold" fill="#111">4</text>
<line x1="620.85" y1="372.1" x2="620.85" y2="374.5" stroke="#111" stroke-width="0.9"/>
<text x="620.85" y="382.7" font-size="8.6" text-anchor="middle" font-weight="bold" fill="#111">6</text>
<line x1="640.6" y1="372.1" x2="640.6" y2="374.5" stroke="#111" stroke-width="0.9"/>
<text x="640.6" y="382.7" font-size="8.6" text-anchor="middle" font-weight="bold" fill="#111">8</text>
<line x1="660.35" y1="372.1" x2="660.35" y2="374.5" stroke="#111" stroke-width="0.9"/>
<text x="660.35" y="382.7" font-size="8.6" text-anchor="middle" font-weight="bold" fill="#111">10</text>
<line x1="680.1" y1="372.1" x2="680.1" y2="374.5" stroke="#111" stroke-width="0.9"/>
<text x="680.1" y="382.7" font-size="8.6" text-anchor="middle" font-weight="bold" fill="#111">12</text>
<line x1="571.48" y1="372.1" x2="571.48" y2="373.4" stroke="#111" stroke-width="0.8"/>
<line x1="591.23" y1="372.1" x2="591.23" y2="373.4" stroke="#111" stroke-width="0.8"/>
<line x1="610.98" y1="372.1" x2="610.98" y2="373.4" stroke="#111" stroke-width="0.8"/>
<line x1="630.73" y1="372.1" x2="630.73" y2="373.4" stroke="#111" stroke-width="0.8"/>
<line x1="650.48" y1="372.1" x2="650.48" y2="373.4" stroke="#111" stroke-width="0.8"/>
<line x1="670.23" y1="372.1" x2="670.23" y2="373.4" stroke="#111" stroke-width="0.8"/>
<text x="620.85" y="393.3" font-size="8.8" text-anchor="middle" font-weight="bold" fill="#111">k (Å<tspan font-size="5.5" dy="-3">-1</tspan><tspan dy="3">)</tspan></text>
<text x="549.5" y="320.45" font-size="8.8" text-anchor="middle" font-weight="bold" fill="#111" transform="rotate(-90 549.5 320.45)">R+α (Å)</text>
<text x="565.9" y="282.8" font-size="10.8" text-anchor="start" font-weight="bold" fill="#f4f4f4">Zn/Pt SATs</text>
<g clip-path="url(#cph3)"><g filter="url(#cm)">
<rect x="405.5" y="396.9" width="121.2" height="107.7" fill="rgb(33,33,33)"/>
<g style="isolation:isolate">
<ellipse cx="465.12" cy="487.05" rx="140.64" ry="10.11" fill="url(#gw)" fill-opacity="0.3" style="mix-blend-mode:plus-lighter"/>
<ellipse cx="466.1" cy="487.05" rx="152.36" ry="31.11" fill="url(#gw)" fill-opacity="0.7" style="mix-blend-mode:plus-lighter"/>
<ellipse cx="492.47" cy="445.05" rx="105.48" ry="21" fill="url(#gw)" fill-opacity="0.44" style="mix-blend-mode:plus-lighter"/>
<ellipse cx="449.5" cy="460.34" rx="70.32" ry="19.44" fill="url(#gw)" fill-opacity="0.44" style="mix-blend-mode:plus-lighter"/>
<ellipse cx="438.75" cy="442.97" rx="35.16" ry="15.56" fill="url(#gw)" fill-opacity="0.15" style="mix-blend-mode:plus-lighter"/>
<ellipse cx="466.1" cy="453.34" rx="161.15" ry="46.67" fill="url(#gw)" fill-opacity="0.22" style="mix-blend-mode:plus-lighter"/>
<ellipse cx="500.28" cy="404.08" rx="58.6" ry="31.11" fill="url(#gw)" fill-opacity="0.15" style="mix-blend-mode:plus-lighter"/>
</g>
<ellipse cx="467.66" cy="451.79" rx="17.58" ry="6.22" fill="url(#gb)" fill-opacity="0.95"/>
<ellipse cx="464.63" cy="472.79" rx="38.09" ry="6.22" fill="url(#gb)" fill-opacity="0.8"/>
<ellipse cx="512" cy="465.53" rx="26.37" ry="7.78" fill="url(#gb)" fill-opacity="0.69"/>
<ellipse cx="493.45" cy="431.57" rx="17.58" ry="6.22" fill="url(#gb)" fill-opacity="0.69"/>
<ellipse cx="408.09" cy="451.01" rx="14.65" ry="11.67" fill="url(#gb)" fill-opacity="0.69"/>
<ellipse cx="466.59" cy="421.2" rx="29.3" ry="9.33" fill="url(#gb)" fill-opacity="0.57"/>
<ellipse cx="499.31" cy="416.01" rx="20.51" ry="7.78" fill="url(#gb)" fill-opacity="0.57"/>
<ellipse cx="466.1" cy="398.9" rx="175.8" ry="38.89" fill="url(#gb)" fill-opacity="0.46"/>
</g>
<path d="M407.5 406.9 408.5 407.3 409.5 407.6 410.5 407.9 411.6 408.2 412.8 408.6 413.8 408.8 414.8 409.1 415.8 409.2 417.2 409.4 418.4 409.6 419.5 409.7 420.8 409.9 421.8 410.0 423.2 410.1 424.2 410.3 425.5 410.4 426.8 410.5 427.8 410.6 429.2 410.8 430.5 410.9 431.5 411.0 432.8 411.1 434.2 411.2 435.2 411.3 436.5 411.4 437.8 411.5 439.2 411.6 440.2 411.6 441.5 411.7 442.8 411.8 444.2 411.8 445.5 411.7 446.8 411.6 447.8 411.5 449.2 411.4 450.5 411.3 451.5 411.2 452.8 411.1 454.2 410.9 455.2 410.8 456.5 410.6 457.5 410.4 458.5 410.2 459.5 409.9 460.8 409.6 461.8 409.3 462.8 408.9 463.7 408.6 464.5 408.2 465.5 407.8 466.5 407.3 467.2 406.9 468.2 406.3 468.8 405.8 469.7 405.2 470.4 404.6 471.1 403.9 471.8 403.2 472.5 402.6 473.2 402.0 473.8 401.2 474.3 400.6 474.8 399.8 475.5 398.9M501.6 417.9 502.8 417.6 503.6 417.2 504.4 416.6 504.5 415.8 503.8 415.1 502.8 414.6 501.8 414.3 500.8 414.2 499.5 414.0 498.2 414.1 496.8 414.2 495.8 414.4 494.8 414.7 493.9 415.2 493.5 415.9 493.8 416.8 494.5 417.3 495.5 417.7 496.5 417.9 497.8 418.1 499.2 418.1 500.5 418.1 501.6 417.9M470.4 423.9 471.5 423.7 472.5 423.5 473.5 423.2 474.5 422.9 475.5 422.4 476.2 421.8 476.6 420.9 476.2 419.9 475.5 419.3 474.8 418.9 473.8 418.4 472.8 418.1 471.8 417.8 470.8 417.5 469.5 417.3 468.5 417.1 467.2 417.0 466.2 416.9 464.8 416.8 463.5 416.8 462.2 416.9 461.2 417.0 459.8 417.2 458.8 417.3 457.8 417.6 456.8 418.0 455.8 418.4 455.2 418.9 454.5 419.8 454.5 420.8 455.0 421.6 455.8 422.2 456.5 422.6 457.5 423.0 458.5 423.3 459.7 423.6 460.8 423.8 461.8 423.9 463.2 424.1 464.5 424.1 465.8 424.2 467.2 424.2 468.5 424.1 469.8 424.0M494.9 432.2 495.9 431.9 496.2 430.9 495.5 430.6 494.2 430.3 492.8 430.3 491.5 430.5 490.5 430.9 490.5 431.7 491.5 432.1 492.5 432.3 493.8 432.4 494.9 432.2M407.5 452.2 408.2 452.2 409.2 451.8 409.6 450.9 409.2 449.9 408.5 449.6M469.4 452.6 470.2 452.2 470.0 451.2 469.1 450.9 467.8 450.8 466.5 450.8 465.5 451.1 464.8 451.6 465.2 452.3 466.2 452.6 467.5 452.8 468.8 452.7M514.0 466.2 515.2 465.9 515.2 465.2 514.2 464.8 512.8 464.7 511.5 464.7 510.2 464.9 509.5 465.2 509.8 466.0 510.8 466.2 512.2 466.4 513.5 466.3M407.5 436.5 408.5 436.1 409.5 435.7 410.5 435.4 411.5 435.1 412.5 434.8 413.5 434.5 414.5 434.2 415.6 433.9 416.8 433.6 417.8 433.4 418.8 433.1 419.8 432.9 421.2 432.6 422.2 432.4 423.2 432.2 424.5 431.9 425.5 431.7 426.5 431.6 427.8 431.4 428.8 431.2 430.2 431.0 431.2 430.9 432.5 430.7 433.7 430.6 434.8 430.5 436.2 430.3 437.2 430.2 438.5 430.1 439.8 430.0 441.2 429.9 442.2 429.9 443.5 429.8 444.8 429.7 446.2 429.6 447.5 429.6 448.5 429.6 449.8 429.5 451.2 429.5 452.5 429.4 453.8 429.4 455.2 429.4 456.5 429.4 457.8 429.4 459.2 429.4 460.5 429.3 461.8 429.3 463.2 429.3 464.5 429.2 465.5 429.2 466.8 429.1 468.2 429.1 469.5 429.0 470.8 428.9 471.8 428.9 473.2 428.8 474.5 428.8 475.8 428.7 477.2 428.6 478.5 428.6 479.8 428.8 481.1 428.9 482.1 429.2 482.8 429.8 483.4 430.6 484.0 431.2 484.8 431.9 485.5 432.3 486.5 432.8 487.5 433.1 488.5 433.4 489.5 433.6 490.8 433.8 492.2 433.9 493.2 433.9 494.2 433.9 495.5 433.8 496.8 433.7 497.8 433.5 499.0 433.2 500.2 432.9 501.0 432.6 501.8 432.1 502.8 431.6 503.5 431.0 504.2 430.5 505.2 429.9 506.2 429.6 507.2 429.5 508.5 429.3 509.5 429.2 510.5 429.3 511.8 429.4 513.2 429.6 514.2 429.7 515.5 429.8 516.5 429.9 517.8 430.1 519.0 430.2 520.2 430.4 521.5 430.5 522.5 430.7 523.8 430.8M407.5 455.7 408.5 455.5 409.6 455.2 410.5 454.8 411.5 454.2 412.2 453.7 412.8 452.9 413.2 452.2 413.5 451.2 413.6 449.9 413.3 448.9 412.8 448.0 412.2 447.2 411.5 446.6 410.8 446.1 409.9 445.6 409.1 445.2 408.2 444.9M470.0 453.2 471.2 452.9 471.8 452.5 472.3 451.6 471.6 450.9 470.8 450.6 469.5 450.2 468.5 450.1 467.2 450.1 465.8 450.2 464.8 450.4 463.8 450.7 463.0 451.2 462.8 451.9 463.5 452.6 464.5 453.0 465.5 453.3 466.8 453.4 468.2 453.4 469.5 453.3M524.5 463.6 523.5 463.3 522.5 463.1 521.5 462.8 520.2 462.6 519.2 462.4 517.8 462.3 516.5 462.3 515.5 462.2 514.2 462.2 513.1 462.2 511.8 462.3 510.5 462.4 509.2 462.5 508.2 462.6 506.8 462.9 505.8 463.2 504.8 463.5 503.8 463.9 503.2 464.3 502.4 464.9 502.5 466.2 503.2 466.8 504.1 467.2 505.0 467.6 506.1 467.9 507.2 468.1 508.2 468.3 509.5 468.5 510.5 468.6 511.8 468.7 513.2 468.7 514.5 468.7 515.8 468.6 516.9 468.6 518.2 468.4 519.5 468.3 520.5 468.1 521.5 467.9 522.8 467.6 523.8 467.3M466.5 474.2 467.8 474.2 469.2 474.1 470.5 474.0 471.5 473.8 472.8 473.6 473.8 473.3 474.5 472.7 474.1 472.2 473.2 471.9 471.8 471.6 470.8 471.5 469.5 471.3 468.2 471.2 467.2 471.2 465.8 471.2 464.5 471.2 463.2 471.2 462.0 471.2 460.8 471.3 459.5 471.4 458.3 471.6 457.2 471.8 456.2 472.0 455.2 472.5 455.5 473.2 456.5 473.5 457.5 473.7 458.5 473.9 459.8 474.0 461.2 474.2 462.5 474.2 463.5 474.2 464.8 474.3 466.2 474.2M407.5 460.3 408.2 459.8 409.2 459.3 409.8 458.9 410.8 458.3 411.5 457.9 412.3 457.2 413.1 456.6 413.8 456.0 414.5 455.3 415.2 454.6 415.7 453.9 416.2 453.2 416.6 452.2 417.1 451.2 417.3 450.2 417.4 448.9 417.4 447.6 417.2 446.2 417.2 444.9 417.6 443.9 418.2 442.9 418.6 442.2 419.2 441.6 420.0 440.9 420.8 440.3 421.5 439.9 422.5 439.3 423.3 438.9 424.2 438.5 425.2 438.1 426.2 437.7 427.2 437.3 428.2 437.0 429.2 436.7 430.2 436.5 431.3 436.2 432.5 436.0 433.5 435.8 434.8 435.6 435.8 435.5 437.2 435.3 438.2 435.2 439.5 435.1 440.8 435.0 442.0 434.9 443.2 434.8 444.5 434.8 445.8 434.7 447.2 434.7 448.5 434.6 449.8 434.6 450.8 434.6 452.2 434.5 453.5 434.5 454.8 434.4 456.2 434.4 457.5 434.4 458.8 434.3 460.2 434.3 461.2 434.2 462.5 434.2 463.8 434.1 465.2 434.0 466.5 434.0 467.8 433.9 468.8 433.9 470.2 433.8 471.5 433.7 472.8 433.7 474.2 433.6 475.4 433.6 476.5 433.5 477.5 433.6 478.8 433.7 480.2 433.8 481.4 433.9 482.5 434.0 483.7 434.2 484.8 434.4 485.8 434.6 487.2 434.7 488.5 434.9 489.5 435.0 490.8 435.1 492.2 435.1 493.5 435.2 494.8 435.1 496.2 435.1 497.5 435.0 498.8 434.9 499.8 434.8 501.2 434.7 502.5 434.6 503.5 434.5 504.8 434.4 506.2 434.3 507.5 434.3 508.8 434.3 510.2 434.4 511.5 434.5 512.5 434.6 513.8 434.7 515.2 434.9 516.2 435.0 517.5 435.1 518.5 435.2 519.8 435.4 521.0 435.6 522.2 435.7 523.3 435.9 524.5 436.1M469.9 453.9 471.2 453.7 472.2 453.4 473.2 453.0 473.8 452.4 473.8 451.3 473.2 450.7 472.2 450.2 471.2 449.9 470.2 449.7 468.9 449.6 467.8 449.5 466.5 449.5 465.5 449.6 464.2 449.8 463.2 450.1 462.2 450.5 461.5 451.0 461.3 452.2 462.1 452.9 462.8 453.3 463.8 453.6 465.2 453.9 466.2 454.0 467.5 454.0 468.8 454.0 469.9 453.9M524.5 456.5 523.5 456.8 522.5 457.0 521.2 457.2 520.2 457.4 519.2 457.6 518.2 457.9 517.0 458.2 515.8 458.5 514.8 458.8 513.8 459.1 512.8 459.3 511.5 459.5 510.5 459.7 509.4 459.9 508.2 460.1 507.2 460.3 505.9 460.6 504.8 460.8 503.8 461.1 502.8 461.3 501.8 461.6 500.8 462.0 499.8 462.4 498.8 462.9 498.2 463.3 497.4 463.9 496.7 464.6 496.3 465.6 496.6 466.6 497.2 467.2 498.2 467.9 498.9 468.2 499.8 468.6 500.8 468.9 501.8 469.2 503.0 469.6 504.2 469.8 505.2 470.0 506.2 470.2 507.5 470.5 508.5 470.6 509.8 470.8 510.8 470.9 512.2 471.0 513.5 471.2 514.5 471.3 515.8 471.4 517.2 471.5 518.2 471.6 519.5 471.8 520.5 471.9 521.8 472.1 522.8 472.3 524.2 472.5M407.5 470.5 408.2 469.9 408.2 468.8 408.0 467.6 407.8 466.6M469.7 474.9 470.8 474.8 472.2 474.7 473.5 474.6 474.5 474.5 475.8 474.3 476.8 474.1 478.0 473.9 479.2 473.6 480.0 473.2 480.7 472.6 480.2 471.8 479.2 471.5 478.2 471.2 476.8 471.0 475.8 470.8 474.5 470.7 473.2 470.6 472.2 470.5 470.8 470.4 469.5 470.4 468.2 470.3 466.8 470.3 465.5 470.3 464.2 470.3 462.8 470.3 461.5 470.4 460.2 470.5 458.8 470.5 457.8 470.6 456.5 470.7 455.2 470.9 454.2 471.0 453.0 471.2 451.8 471.5 450.8 471.8 449.9 472.2 449.8 473.1 450.7 473.6 451.8 473.9 452.8 474.1 453.8 474.3 455.2 474.5 456.2 474.6 457.5 474.7 458.8 474.8 459.8 474.9 461.2 475.0 462.5 475.0 463.8 475.0 465.2 475.0 466.5 475.0 467.8 475.0 469.2 474.9M437.1 502.6 435.8 502.5 434.5 502.4 433.2 502.2 432.2 502.1 430.8 502.0 429.6 501.9 428.5 501.8 427.2 501.6 426.2 501.5 424.8 501.4 423.7 501.2 422.5 501.1 421.2 500.9 420.2 500.8 418.8 500.6 417.8 500.4 416.6 500.2 415.5 500.1 414.5 499.9 413.2 499.7 412.2 499.5 410.8 499.2 409.8 499.1 408.8 498.9 407.5 498.6M524.5 498.6 523.2 498.9 522.2 499.1 521.2 499.2 519.8 499.5 518.8 499.7 517.5 499.9 516.5 500.1 515.4 500.2 514.2 500.4 513.2 500.6 511.8 500.8 510.8 500.9 509.5 501.1 508.3 501.2 507.2 501.4 505.8 501.5 504.8 501.6 503.5 501.8 502.4 501.9 501.2 502.0 499.8 502.1 498.8 502.2 497.5 502.4 496.2 502.5 494.9 502.6M407.5 479.1 408.5 478.8 409.5 478.5 410.5 478.2 411.7 477.9 412.8 477.6 413.8 477.3 414.8 477.0 415.7 476.6 416.5 476.2 417.5 475.8 418.5 475.4 419.5 475.1 420.5 474.7 421.5 474.3 422.4 473.9 423.2 473.5 424.1 472.9 424.7 472.2 425.4 471.6 425.5 470.8 424.8 469.9 424.4 469.2 423.7 468.6 422.8 467.9 422.2 467.5 421.4 466.9 420.6 466.2 420.0 465.6 419.2 465.0 418.5 464.4 417.8 463.6 417.3 462.9 416.8 462.1 416.5 461.0 416.6 460.2 417.2 459.2 417.5 458.6 418.2 457.7 418.7 456.9 419.3 456.2 419.8 455.5 420.5 454.7 421.1 453.9 421.7 453.2 422.2 452.6 422.8 451.9 423.5 451.1 424.1 450.2 424.6 449.6 424.9 448.6 425.2 447.6 425.4 446.2 425.7 445.2 426.1 444.2 426.6 443.6 427.2 442.9 428.0 442.2 428.8 441.7 429.5 441.2 430.5 440.6 431.3 440.2 432.2 439.9 433.2 439.5 434.2 439.2 435.5 438.9 436.5 438.7 437.5 438.5 438.8 438.3 439.8 438.2 441.2 438.1 442.5 438.0 443.8 437.9 444.8 437.9 446.2 437.8 447.5 437.8 448.8 437.8 450.2 437.8 451.5 437.8 452.8 437.8 454.2 437.7 455.5 437.7 456.8 437.7 458.2 437.6 459.4 437.6 460.5 437.5 461.8 437.4 463.2 437.3 464.5 437.3 465.5 437.2 466.8 437.1 468.2 437.0 469.5 436.9 470.5 436.9 471.8 436.8 473.2 436.7 474.5 436.7 475.8 436.6 476.8 436.5 478.2 436.5 479.5 436.4 480.8 436.4 482.2 436.4 483.5 436.4 484.8 436.5 486.2 436.5 487.5 436.6 488.5 436.6 489.8 436.6 491.2 436.7 492.5 436.7 493.8 436.7 495.2 436.7 496.5 436.8 497.8 436.8 499.2 436.8 500.5 436.8 501.8 436.8 503.2 436.8 504.2 436.9 505.5 437.0 506.8 437.1 507.8 437.2 509.2 437.4 510.5 437.5 511.5 437.6 512.8 437.8 513.8 438.0 515.2 438.2 516.2 438.3 517.5 438.5 518.5 438.7 519.5 438.9 520.8 439.2 521.8 439.4 522.8 439.6 523.9 439.9M470.0 454.6 471.2 454.4 472.2 454.2 473.4 453.9 474.3 453.6 475.2 453.0 475.8 452.2 475.8 451.6 475.2 450.8 474.4 450.2 473.5 449.9 472.5 449.5 471.2 449.2 470.2 449.1 468.8 448.9 467.5 448.9 466.2 448.9 464.8 449.0 463.6 449.2 462.5 449.5 461.5 449.8 460.6 450.2 459.8 450.8 459.4 451.6 459.8 452.6 460.5 453.1 461.4 453.6 462.3 453.9 463.5 454.2 464.5 454.4 465.8 454.6 466.8 454.6 468.2 454.7 469.5 454.6M524.5 451.5 523.5 451.8 522.5 452.1 521.5 452.3 520.5 452.6 519.2 452.9 518.2 453.1 517.2 453.3 515.9 453.6 514.8 453.8 513.8 454.1 512.8 454.3 511.6 454.6 510.5 454.8 509.5 455.0 508.5 455.2 507.2 455.5 506.2 455.7 505.2 455.9 503.9 456.2 502.8 456.5 501.8 456.7 500.8 456.9 499.8 457.3 498.8 457.7 497.8 458.2 496.9 458.6 496.1 458.9 495.2 459.5 494.4 459.9 493.5 460.4 492.5 460.9 491.8 461.3 490.9 461.9 490.2 462.5 489.5 463.1 488.8 463.7 488.2 464.3 487.5 465.2 486.9 465.9 486.7 466.9 486.9 467.9 486.2 468.2 485.2 468.6 483.9 468.9 482.8 469.0 481.5 469.1 480.2 469.2 478.8 469.2 477.8 469.2 476.8 469.2 475.5 469.2 474.2 469.2 472.8 469.2 471.8 469.2 470.5 469.3 469.2 469.3 467.8 469.3 466.5 469.3 465.2 469.3 463.8 469.4 462.5 469.4 461.2 469.5 459.8 469.5 458.8 469.6 457.5 469.6 456.2 469.7 454.8 469.8 453.8 469.9 452.5 470.1 451.2 470.2 450.2 470.3 448.8 470.5 447.8 470.7 446.5 470.9 445.5 471.1 444.5 471.3 443.5 471.6 442.5 472.0 442.2 472.9 442.8 473.3 443.8 473.7 444.8 474.0 445.8 474.3 447.2 474.6 448.2 474.7 449.4 474.9 450.5 475.0 451.8 475.2 452.8 475.3 454.2 475.4 455.5 475.5 456.8 475.6 457.8 475.6 459.2 475.7 460.5 475.7 461.8 475.8 463.2 475.8 464.5 475.8 465.8 475.8 467.2 475.8 468.5 475.7 469.8 475.7 471.2 475.7 472.5 475.6 473.5 475.5 474.8 475.4 476.2 475.3 477.4 475.2 478.5 475.1 479.8 475.0 480.8 474.9 482.2 474.7 483.2 474.5 484.5 474.3 485.5 474.2 486.8 473.9 487.8 473.7 488.8 473.5 490.2 473.3 491.2 473.1 492.5 473.0 493.8 472.9 495.2 472.9 496.5 473.0 497.8 473.1 498.8 473.2 500.2 473.4 501.5 473.5 502.5 473.6 503.8 473.9 504.8 474.1 505.8 474.3 507.2 474.5 508.2 474.7 509.2 475.0 510.4 475.2 511.5 475.5 512.5 475.8 513.5 476.0 514.5 476.3 515.5 476.6 516.7 476.9 517.8 477.2 518.8 477.5 519.8 477.8 520.8 478.1 521.8 478.3 522.8 478.6 523.9 478.9M524.5 493.9 523.2 494.2 522.2 494.5 521.2 494.7 520.2 494.9 518.8 495.2 517.8 495.4 516.8 495.6 515.5 495.8 514.5 496.0 513.3 496.2 512.2 496.4 511.2 496.6 509.8 496.8 508.8 497.0 507.5 497.2 506.5 497.4 505.4 497.6 504.2 497.8 503.1 497.9 501.8 498.1 500.6 498.2 499.5 498.4 498.2 498.5 497.2 498.6 495.8 498.8 494.7 498.9 493.5 499.0 492.2 499.1 491.0 499.2 489.8 499.3 488.5 499.4 487.2 499.5 486.2 499.6 484.8 499.7 483.5 499.8 482.2 499.8 480.9 499.9 479.8 500.0 478.5 500.0 477.2 500.1 475.8 500.1 474.5 500.1 473.2 500.2 471.8 500.2 470.5 500.2 469.5 500.2 468.2 500.2 466.8 500.3 465.5 500.3 464.2 500.3 462.8 500.2 461.8 500.2 460.5 500.2 459.2 500.2 457.8 500.2 456.5 500.1 455.2 500.1 453.8 500.0 452.5 500.0 451.2 499.9 450.2 499.9 448.8 499.8 447.5 499.7 446.2 499.6 445.2 499.6 443.8 499.5 442.5 499.4 441.2 499.3 440.2 499.2 438.8 499.0 437.5 498.9 436.5 498.8 435.2 498.7 434.2 498.6 432.8 498.4 431.5 498.2 430.5 498.1 429.2 497.9 428.2 497.8 426.8 497.6 425.8 497.4 424.5 497.2 423.5 497.1 422.5 496.9 421.2 496.7 420.2 496.5 418.8 496.3 417.8 496.1 416.7 495.9 415.5 495.7 414.5 495.5 413.3 495.2 412.2 495.0 411.2 494.8 410.2 494.5 408.8 494.2 407.8 494.0M452.5 468.6 451.2 468.6 449.8 468.7 448.5 468.7 447.2 468.7 445.8 468.8 444.5 468.7 443.2 468.7 441.8 468.6 440.8 468.6 439.5 468.4 438.2 468.3 437.2 468.0 436.2 467.7 435.2 467.3 434.2 467.0 433.2 466.7 432.2 466.3 431.3 465.9 430.5 465.5 429.5 465.0 428.7 464.6 427.8 464.0 427.2 463.6 426.5 462.9 425.8 462.1 425.3 461.2 424.9 460.2 425.1 458.9 425.5 458.2 426.2 457.6 426.9 456.9 427.5 456.2 428.2 455.6 429.1 454.9 429.8 454.4 430.5 453.8 431.3 453.2 432.2 452.6 432.8 452.1 433.5 451.3 434.0 450.6 434.5 449.6 434.5 448.6 434.4 447.6 434.2 446.2 434.4 444.9 434.8 444.1 435.5 443.4 436.2 442.9 437.2 442.5 438.2 442.1 439.2 441.8 440.5 441.6 441.5 441.5 442.8 441.3 443.8 441.2 445.2 441.1 446.5 441.1 447.8 441.1 449.2 441.1 450.5 441.1 451.8 441.1 453.2 441.1 454.5 441.1 455.8 441.1 457.2 441.0 458.5 440.9 459.5 440.9 460.8 440.8 462.2 440.6 463.2 440.5 464.5 440.4 465.8 440.2 466.8 440.1 468.2 440.0 469.2 439.9 470.5 439.8 471.8 439.6 472.9 439.6 474.2 439.4 475.5 439.3 476.7 439.2 477.8 439.2 479.2 439.1 480.5 439.0 481.8 439.0 483.2 438.9 484.2 438.9 485.5 438.8 486.8 438.8 488.2 438.8 489.5 438.8 490.8 438.9 492.2 438.9 493.2 438.9 494.5 439.0 495.8 439.0 497.2 439.1 498.5 439.2 499.5 439.2 500.8 439.3 502.2 439.5 503.3 439.6 504.5 439.7 505.8 439.9 506.8 440.0 508.2 440.2 509.2 440.3 510.5 440.6 511.5 440.8 512.5 441.0 513.6 441.2 514.8 441.5 515.8 441.8 516.8 442.2 517.8 442.5 518.7 442.9 519.5 443.3 520.3 443.9 521.0 444.6 521.4 445.6 521.0 446.6 520.4 447.2 519.5 447.9 518.8 448.3 517.8 448.7 516.8 449.1 515.8 449.5 514.8 449.8 513.8 450.1 512.8 450.3 511.8 450.6 510.5 450.9 509.5 451.2 508.5 451.4 507.5 451.7 506.4 451.9 505.2 452.2 504.2 452.3 502.9 452.6 501.8 452.7 500.8 452.9 499.5 453.2 498.5 453.3 497.2 453.6 496.2 453.7 495.2 453.9 493.9 454.2 492.8 454.5 491.8 454.7 490.8 454.9 489.6 455.2 488.5 455.5 487.5 455.8 486.5 456.2 485.8 456.7 485.0 457.2 484.3 457.9 483.5 458.6 482.9 459.2 482.3 459.9 481.5 460.5 480.8 461.1 480.2 461.7 479.5 462.3 478.8 462.9 477.8 463.5 477.2 464.0 476.3 464.6 475.5 465.0 474.5 465.4 473.5 465.9 472.8 466.2 471.8 466.7 470.8 466.9 469.5 467.2 468.5 467.3 467.2 467.5 466.2 467.7 464.8 467.8 463.5 467.9 462.5 468.0 461.2 468.1 459.8 468.2 458.8 468.2 457.5 468.3 456.2 468.4 454.8 468.4 453.5 468.5 452.5 468.6M472.2 455.2 473.5 455.0 474.5 454.8 475.5 454.6 476.5 454.2 477.5 453.6 478.1 452.9 478.2 451.9 477.8 451.2 477.2 450.5 476.2 449.9 475.4 449.6 474.5 449.2 473.4 448.9 472.2 448.6 471.2 448.4 469.8 448.3 468.8 448.2 467.5 448.1 466.2 448.2 464.8 448.2 463.8 448.3 462.5 448.5 461.5 448.7 460.5 449.0 459.5 449.3 458.5 449.8 457.8 450.3 457.2 451.2 457.5 452.4 458.2 453.1 459.0 453.6 459.8 454.0 460.8 454.3 461.8 454.6 463.1 454.9 464.2 455.1 465.3 455.2 466.5 455.3 467.8 455.4 469.2 455.4 470.5 455.4 471.8 455.3M407.5 483.0 408.5 482.8 409.5 482.5 410.5 482.2 411.7 481.9 412.8 481.6 413.8 481.4 414.8 481.2 415.9 480.9 417.2 480.6 418.2 480.4 419.2 480.1 420.2 479.9 421.5 479.6 422.5 479.4 423.5 479.2 424.7 478.9 425.8 478.7 426.8 478.4 427.8 478.2 428.9 477.9 430.2 477.6 431.2 477.4 432.2 477.1 433.2 476.9 434.5 476.6 435.5 476.5 436.8 476.4 438.2 476.3 439.5 476.2 440.5 476.2 441.8 476.2 443.2 476.2 444.5 476.2 445.8 476.2 446.8 476.2 448.2 476.3 449.5 476.4 450.8 476.4 452.2 476.5 453.5 476.5 454.8 476.5 455.8 476.6 457.2 476.6 458.5 476.7 459.8 476.7 461.2 476.7 462.5 476.7 463.8 476.7 465.2 476.7 466.5 476.7 467.8 476.7 469.2 476.7 470.5 476.7 471.8 476.6 473.2 476.6 474.2 476.6 475.5 476.5 476.8 476.5 478.2 476.5 479.5 476.4 480.8 476.4 482.2 476.3 483.5 476.3 484.8 476.3 486.2 476.3 487.5 476.3 488.8 476.4 490.2 476.4 491.5 476.5 492.8 476.5 493.8 476.6 495.2 476.7 496.2 476.9 497.5 477.1 498.5 477.3 499.8 477.5 500.8 477.7 502.1 477.9 503.2 478.1 504.2 478.3 505.5 478.5 506.5 478.7 507.5 479.0 508.7 479.2 509.8 479.5 510.8 479.7 511.8 479.9 513.1 480.2 514.2 480.5 515.2 480.7 516.2 481.0 517.3 481.2 518.5 481.5 519.5 481.8 520.5 482.0 521.5 482.3 522.5 482.6 523.6 482.9M524.5 490.6 523.5 490.8 522.5 491.1 521.5 491.3 520.4 491.6 519.2 491.9 518.2 492.1 517.2 492.3 515.8 492.5 514.8 492.7 513.8 492.9 512.5 493.2 511.5 493.4 510.5 493.6 509.2 493.8 508.2 494.0 506.8 494.2 505.8 494.4 504.6 494.6 503.5 494.7 502.3 494.9 501.2 495.1 500.0 495.2 498.8 495.4 497.5 495.6 496.5 495.7 495.2 495.8 494.2 496.0 492.8 496.1 491.5 496.2 490.5 496.3 489.2 496.4 487.8 496.6 486.8 496.6 485.5 496.7 484.2 496.8 482.9 496.9 481.8 497.0 480.5 497.0 479.2 497.1 477.8 497.2 476.5 497.2 475.5 497.3 474.2 497.3 472.8 497.4 471.5 497.4 470.2 497.4 468.8 497.4 467.5 497.4 466.2 497.4 464.8 497.4 463.5 497.4 462.2 497.4 460.8 497.4 459.5 497.4 458.2 497.3 456.8 497.3 455.6 497.2 454.5 497.2 453.2 497.1 451.8 497.1 450.5 497.0 449.2 496.9 448.2 496.8 446.8 496.8 445.5 496.7 444.3 496.6 443.2 496.5 441.8 496.4 440.5 496.2 439.5 496.1 438.2 496.0 437.2 495.9 435.8 495.7 434.5 495.6 433.5 495.4 432.2 495.3 431.2 495.1 429.8 494.9 428.8 494.8 427.5 494.6 426.5 494.4 425.3 494.2 424.2 494.0 423.2 493.9 421.8 493.7 420.8 493.5 419.5 493.2 418.5 493.0 417.5 492.8 416.2 492.6 415.2 492.4 414.2 492.2 412.8 491.9 411.8 491.7 410.8 491.5 409.8 491.2 408.5 490.9 407.5 490.7M486.8 451.3 485.5 451.4 484.3 451.2 483.2 450.9 482.2 450.6 481.2 450.2 480.4 449.9 479.5 449.5 478.5 449.1 477.5 448.7 476.5 448.4 475.5 448.1 474.5 447.8 473.5 447.6 472.2 447.3 471.2 447.1 469.8 446.9 468.8 446.8 467.5 446.7 466.5 446.6 465.2 446.4 464.0 446.2 462.8 446.2 461.5 446.1 460.5 445.9 461.3 445.6 462.3 445.2 463.5 444.9 464.5 444.7 465.5 444.4 466.5 444.1 467.5 443.9 468.8 443.6 469.8 443.4 470.9 443.2 472.2 443.1 473.4 442.9 474.5 442.8 475.8 442.6 476.8 442.4 478.2 442.3 479.2 442.1 480.5 442.0 481.8 441.9 482.8 441.8 484.2 441.8 485.5 441.7 486.8 441.7 488.2 441.6 489.5 441.6 490.8 441.7 492.2 441.7 493.5 441.8 494.8 441.9 495.8 442.0 497.2 442.1 498.3 442.2 499.5 442.4 500.6 442.6 501.8 442.8 502.8 443.0 503.8 443.3 504.9 443.6 505.8 443.9 506.8 444.5 507.5 445.1 507.5 446.2 506.9 446.9 506.2 447.3 505.2 447.7 504.2 448.0 503.2 448.3 502.2 448.7 501.2 448.9 500.0 449.2 498.8 449.5 497.8 449.7 496.5 449.9 495.5 450.1 494.5 450.2 493.2 450.4 492.2 450.6 490.8 450.8 489.5 450.9 488.5 451.0 487.2 451.2M452.5 465.9 451.2 465.9 450.2 465.9 448.8 465.8 447.5 465.7 446.2 465.6 445.2 465.5 443.8 465.3 442.8 465.1 441.7 464.9 440.5 464.6 439.5 464.3 438.5 464.0 437.5 463.6 436.7 463.2 435.8 462.8 435.0 462.2 434.2 461.6 433.5 461.0 433.1 460.2 433.3 459.2 433.8 458.5 434.5 457.8 435.2 457.2 436.2 456.7 437.0 456.2 437.8 455.7 438.7 455.2 439.5 454.9 440.5 454.5 441.5 454.0 442.5 453.6 443.5 453.3 444.5 452.9 445.5 452.6 446.4 452.2 447.2 451.9 448.2 451.5 449.2 451.2 450.2 450.9 450.8 451.4 451.7 451.9 452.5 452.3 453.5 452.7 454.4 453.2 455.2 453.6 456.2 454.1 457.2 454.5 458.2 454.8 459.2 455.2 460.2 455.4 461.2 455.7 462.2 455.9 463.5 456.1 464.5 456.3 465.8 456.5 466.8 456.6 468.2 456.8 469.4 456.9 470.5 457.1 471.5 457.4 472.5 457.7 472.5 458.6 472.1 459.6 471.5 460.2 470.8 460.9 470.1 461.6 469.2 462.2 468.5 462.6 467.5 463.1 466.5 463.5 465.5 463.8 464.5 464.2 463.5 464.4 462.5 464.7 461.5 464.9 460.2 465.2 459.2 465.3 457.8 465.5 456.8 465.6 455.5 465.8 454.2 465.8 452.8 465.9M475.5 494.9 474.2 495.0 472.8 495.0 471.5 495.0 470.2 495.1 468.8 495.1 467.5 495.1 466.2 495.1 464.8 495.1 463.5 495.1 462.2 495.1 460.8 495.0 459.5 495.0 458.2 495.0 456.8 494.9 455.8 494.9 454.5 494.8 453.2 494.8 451.8 494.7 450.5 494.6 449.5 494.5 448.2 494.4 446.8 494.3 445.5 494.2 444.5 494.2 443.2 494.0 441.8 493.9 440.8 493.8 439.5 493.7 438.5 493.6 437.2 493.4 435.8 493.3 434.8 493.1 433.5 493.0 432.5 492.9 431.2 492.7 430.2 492.5 428.8 492.3 427.8 492.2 426.5 492.0 425.5 491.8 424.2 491.6 423.2 491.5 422.0 491.2 420.8 491.0 419.8 490.8 418.5 490.6 417.5 490.3 416.5 490.1 415.5 489.9 414.4 489.6 413.3 489.2 412.4 488.9 411.5 488.5 410.5 488.0 409.8 487.4 409.8 486.4 410.5 485.8 411.5 485.3 412.3 484.9 413.2 484.6 414.3 484.2 415.4 483.9 416.5 483.6 417.5 483.4 418.5 483.1 419.6 482.9 420.8 482.6 421.8 482.4 422.9 482.2 424.2 482.0 425.2 481.8 426.4 481.6 427.5 481.4 428.5 481.2 429.8 481.0 430.8 480.8 432.2 480.6 433.2 480.4 434.5 480.2 435.5 480.1 436.8 479.9 437.8 479.8 439.2 479.6 440.2 479.4 441.5 479.2 442.5 479.1 443.8 478.9 444.8 478.8 446.2 478.6 447.2 478.5 448.5 478.4 449.8 478.3 451.2 478.3 452.5 478.2 453.5 478.2 454.8 478.2 456.2 478.2 457.5 478.1 458.8 478.1 460.2 478.1 461.5 478.1 462.8 478.1 464.2 478.1 465.5 478.1 466.8 478.1 468.2 478.1 469.5 478.1 470.8 478.1 472.2 478.2 473.5 478.2 474.8 478.2 475.8 478.2 477.2 478.3 478.5 478.3 479.8 478.3 481.2 478.4 482.5 478.5 483.7 478.6 484.8 478.7 486.2 478.8 487.2 478.9 488.5 479.1 489.8 479.2 490.8 479.3 492.2 479.5 493.2 479.7 494.5 479.8 495.5 480.0 496.8 480.2 497.8 480.3 499.2 480.5 500.2 480.7 501.5 480.9 502.5 481.1 503.5 481.2 504.8 481.5 505.8 481.7 507.0 481.9 508.2 482.1 509.2 482.3 510.5 482.6 511.5 482.8 512.5 483.0 513.5 483.2 514.8 483.6 515.8 483.8 516.8 484.1 517.8 484.4 518.8 484.8 519.8 485.2 520.6 485.6 521.4 486.2 521.7 487.2 521.1 487.9 520.2 488.4 519.2 488.9 518.2 489.2 517.2 489.5 516.2 489.8 515.2 490.1 514.2 490.3 513.0 490.6 511.8 490.8 510.8 491.0 509.7 491.2 508.5 491.4 507.5 491.6 506.2 491.8 505.2 492.0 503.8 492.2 502.8 492.3 501.5 492.5 500.5 492.7 499.2 492.9 498.2 493.0 496.8 493.2 495.8 493.3 494.5 493.4 493.3 493.6 492.2 493.7 490.8 493.8 489.8 493.9 488.5 494.1 487.2 494.2 486.2 494.3 484.8 494.4 483.5 494.5 482.2 494.5 481.2 494.6 479.8 494.7 478.5 494.8 477.2 494.8 475.8 494.9M452.2 461.9 450.8 461.9 449.8 461.9 448.5 461.6 447.5 461.3 446.5 461.0 445.5 460.6 444.9 459.9 444.8 459.2 445.8 458.6 446.8 458.3 447.8 458.1 448.8 457.9 450.2 457.6 451.2 457.5 452.5 457.4 453.8 457.4 455.2 457.5 456.2 457.6 457.5 457.9 458.5 458.2 459.0 458.9 458.7 459.9 457.9 460.6 457.1 460.9 456.0 461.2 454.8 461.6 453.8 461.7 452.5 461.9M475.5 492.9 474.2 493.0 472.8 493.0 471.5 493.0 470.2 493.1 468.8 493.1 467.5 493.1 466.2 493.1 464.8 493.1 463.5 493.1 462.2 493.1 460.8 493.0 459.5 493.0 458.2 493.0 456.8 492.9 455.8 492.9 454.5 492.8 453.2 492.8 451.8 492.7 450.5 492.6 449.5 492.6 448.2 492.5 446.8 492.4 445.5 492.3 444.5 492.2 443.2 492.1 441.8 492.0 440.8 491.9 439.5 491.7 438.2 491.6 437.2 491.5 435.8 491.3 434.8 491.2 433.5 491.1 432.4 490.9 431.2 490.7 430.2 490.6 428.8 490.3 427.8 490.2 426.5 489.9 425.5 489.7 424.5 489.5 423.5 489.2 422.3 488.9 421.3 488.6 420.5 488.2 419.5 487.7 419.0 486.9 419.5 486.2 420.5 485.6 421.3 485.2 422.3 484.9 423.4 484.6 424.5 484.3 425.5 484.1 426.5 483.9 427.8 483.6 428.8 483.4 429.8 483.2 431.2 483.0 432.2 482.8 433.5 482.6 434.5 482.5 435.8 482.3 436.8 482.2 438.2 482.0 439.2 481.9 440.5 481.7 441.8 481.6 442.8 481.5 444.2 481.4 445.5 481.2 446.5 481.1 447.8 481.0 449.2 480.9 450.2 480.9 451.5 480.8 452.8 480.7 454.2 480.6 455.2 480.6 456.5 480.5 457.8 480.4 459.2 480.4 460.5 480.4 461.8 480.3 463.2 480.3 464.5 480.3 465.8 480.3 467.2 480.3 468.5 480.3 469.8 480.3 471.2 480.4 472.5 480.4 473.8 480.4 475.2 480.5 476.5 480.5 477.5 480.6 478.8 480.7 480.2 480.8 481.5 480.8 482.5 480.9 483.8 481.0 485.2 481.1 486.3 481.2 487.5 481.3 488.8 481.5 489.8 481.6 491.2 481.7 492.5 481.9 493.5 482.0 494.8 482.2 495.8 482.3 497.2 482.5 498.2 482.6 499.5 482.8 500.5 483.0 501.8 483.2 502.8 483.4 503.8 483.6 505.2 483.9 506.2 484.1 507.2 484.3 508.2 484.6 509.2 484.9 510.2 485.3 511.2 485.7 512.0 486.2 512.3 487.2 511.6 487.9 510.8 488.3 509.8 488.7 508.8 489.0 507.8 489.3 506.6 489.6 505.5 489.8 504.5 490.0 503.3 490.2 502.2 490.4 501.2 490.6 499.8 490.8 498.8 491.0 497.5 491.1 496.5 491.3 495.2 491.4 493.8 491.6 492.8 491.7 491.5 491.8 490.5 491.9 489.2 492.0 487.8 492.2 486.8 492.2 485.5 492.3 484.2 492.4 482.8 492.5 481.8 492.6 480.5 492.7 479.2 492.7 477.8 492.8 476.5 492.9 475.5 492.9M477.2 491.2 475.8 491.3 474.5 491.3 473.2 491.4 471.8 491.4 470.5 491.5 469.2 491.5 467.8 491.5 466.5 491.5 465.2 491.5 463.8 491.5 462.5 491.5 461.2 491.5 459.8 491.4 458.5 491.4 457.2 491.4 455.8 491.3 454.5 491.3 453.5 491.2 452.2 491.1 450.8 491.1 449.5 491.0 448.3 490.9 447.2 490.8 445.8 490.7 444.5 490.6 443.5 490.5 442.2 490.3 441.2 490.2 439.8 490.0 438.7 489.9 437.5 489.7 436.4 489.6 435.2 489.3 434.2 489.2 432.9 488.9 431.8 488.6 430.8 488.4 429.8 488.0 429.0 487.6 428.7 486.6 429.5 486.0 430.5 485.6 431.5 485.3 432.5 485.0 433.5 484.8 434.5 484.6 435.8 484.3 436.8 484.2 438.2 484.0 439.2 483.8 440.5 483.6 441.5 483.5 442.8 483.4 443.9 483.2 445.2 483.1 446.5 483.0 447.5 482.9 448.8 482.8 450.2 482.7 451.5 482.6 452.5 482.5 453.8 482.4 455.2 482.4 456.5 482.3 457.8 482.3 458.8 482.2 460.2 482.2 461.5 482.2 462.8 482.1 464.2 482.1 465.5 482.1 466.8 482.1 468.2 482.1 469.5 482.2 470.8 482.2 472.2 482.2 473.2 482.2 474.5 482.3 475.8 482.3 477.2 482.4 478.5 482.5 479.8 482.5 480.8 482.6 482.2 482.7 483.5 482.8 484.5 482.9 485.8 483.0 487.2 483.2 488.2 483.3 489.5 483.4 490.5 483.6 491.8 483.7 493.0 483.9 494.2 484.1 495.2 484.2 496.5 484.5 497.5 484.7 498.5 484.9 499.8 485.2 500.8 485.5 501.7 485.9 502.5 486.4 502.5 487.4 501.8 487.9 500.8 488.3 499.8 488.6 498.5 488.9 497.5 489.1 496.5 489.3 495.2 489.5 494.2 489.7 492.8 489.9 491.8 490.0 490.5 490.2 489.5 490.3 488.2 490.5 487.1 490.6 485.8 490.7 484.5 490.8 483.3 490.9 482.2 491.0 480.8 491.1 479.5 491.1 478.2 491.2 477.2 491.2M471.8 489.9 470.5 489.9 469.2 490.0 467.8 490.0 466.5 490.0 465.2 490.0 463.8 490.0 462.5 490.0 461.2 490.0 459.8 489.9 458.8 489.9 457.5 489.8 456.2 489.8 454.8 489.7 453.5 489.6 452.5 489.5 451.2 489.4 449.8 489.3 448.8 489.2 447.5 489.1 446.2 488.9 445.2 488.8 443.8 488.6 442.8 488.4 441.8 488.2 440.8 487.9 439.8 487.5 439.5 486.7 440.2 486.2 441.2 485.8 442.2 485.6 443.5 485.3 444.5 485.1 445.8 484.9 446.8 484.8 448.2 484.7 449.2 484.6 450.5 484.4 451.8 484.3 453.1 484.2 454.2 484.2 455.5 484.1 456.8 484.0 458.2 483.9 459.3 483.9 460.5 483.9 461.8 483.8 463.2 483.8 464.5 483.8 465.8 483.8 467.2 483.8 468.5 483.8 469.8 483.8 471.2 483.9 472.3 483.9 473.5 483.9 474.8 484.0 476.2 484.1 477.5 484.2 478.5 484.2 479.8 484.3 481.2 484.5 482.3 484.6 483.5 484.7 484.8 484.8 485.8 485.0 487.2 485.2 488.2 485.4 489.2 485.6 490.5 485.9 491.4 486.2 492.0 486.9 491.4 487.6 490.5 487.9 489.3 488.2 488.2 488.5 487.2 488.6 485.8 488.8 484.8 489.0 483.5 489.1 482.5 489.2 481.2 489.4 479.8 489.5 478.5 489.6 477.5 489.6 476.2 489.7 474.8 489.8 473.5 489.8 472.2 489.9" fill="none" stroke="#303030" stroke-opacity="0.6" stroke-width="0.7"/>
</g>
<rect x="407.5" y="398.9" width="117.2" height="103.7" fill="none" stroke="#1a1a1a" stroke-width="0.9"/>
<line x1="407.5" y1="398.9" x2="407.5" y2="503.1" stroke="#111" stroke-width="1.1"/>
<line x1="407" y1="502.6" x2="524.7" y2="502.6" stroke="#111" stroke-width="1.1"/>
<line x1="407.5" y1="502.6" x2="405.1" y2="502.6" stroke="#111" stroke-width="0.9"/>
<text x="404.9" y="505.5" font-size="8.6" text-anchor="end" font-weight="bold" fill="#111">1</text>
<line x1="407.5" y1="476.68" x2="405.1" y2="476.68" stroke="#111" stroke-width="0.9"/>
<text x="404.9" y="479.57" font-size="8.6" text-anchor="end" font-weight="bold" fill="#111">2</text>
<line x1="407.5" y1="450.75" x2="405.1" y2="450.75" stroke="#111" stroke-width="0.9"/>
<text x="404.9" y="453.65" font-size="8.6" text-anchor="end" font-weight="bold" fill="#111">3</text>
<line x1="407.5" y1="424.82" x2="405.1" y2="424.82" stroke="#111" stroke-width="0.9"/>
<text x="404.9" y="427.72" font-size="8.6" text-anchor="end" font-weight="bold" fill="#111">4</text>
<line x1="407.5" y1="398.9" x2="405.1" y2="398.9" stroke="#111" stroke-width="0.9"/>
<text x="404.9" y="401.8" font-size="8.6" text-anchor="end" font-weight="bold" fill="#111">5</text>
<line x1="407.5" y1="489.64" x2="406.2" y2="489.64" stroke="#111" stroke-width="0.8"/>
<line x1="407.5" y1="463.71" x2="406.2" y2="463.71" stroke="#111" stroke-width="0.8"/>
<line x1="407.5" y1="437.79" x2="406.2" y2="437.79" stroke="#111" stroke-width="0.8"/>
<line x1="407.5" y1="411.86" x2="406.2" y2="411.86" stroke="#111" stroke-width="0.8"/>
<line x1="407.5" y1="502.6" x2="407.5" y2="505" stroke="#111" stroke-width="0.9"/>
<text x="407.5" y="513.2" font-size="8.6" text-anchor="middle" font-weight="bold" fill="#111">0</text>
<line x1="427.03" y1="502.6" x2="427.03" y2="505" stroke="#111" stroke-width="0.9"/>
<text x="427.03" y="513.2" font-size="8.6" text-anchor="middle" font-weight="bold" fill="#111">2</text>
<line x1="446.57" y1="502.6" x2="446.57" y2="505" stroke="#111" stroke-width="0.9"/>
<text x="446.57" y="513.2" font-size="8.6" text-anchor="middle" font-weight="bold" fill="#111">4</text>
<line x1="466.1" y1="502.6" x2="466.1" y2="505" stroke="#111" stroke-width="0.9"/>
<text x="466.1" y="513.2" font-size="8.6" text-anchor="middle" font-weight="bold" fill="#111">6</text>
<line x1="485.63" y1="502.6" x2="485.63" y2="505" stroke="#111" stroke-width="0.9"/>
<text x="485.63" y="513.2" font-size="8.6" text-anchor="middle" font-weight="bold" fill="#111">8</text>
<line x1="505.17" y1="502.6" x2="505.17" y2="505" stroke="#111" stroke-width="0.9"/>
<text x="505.17" y="513.2" font-size="8.6" text-anchor="middle" font-weight="bold" fill="#111">10</text>
<line x1="524.7" y1="502.6" x2="524.7" y2="505" stroke="#111" stroke-width="0.9"/>
<text x="524.7" y="513.2" font-size="8.6" text-anchor="middle" font-weight="bold" fill="#111">12</text>
<line x1="417.27" y1="502.6" x2="417.27" y2="503.9" stroke="#111" stroke-width="0.8"/>
<line x1="436.8" y1="502.6" x2="436.8" y2="503.9" stroke="#111" stroke-width="0.8"/>
<line x1="456.33" y1="502.6" x2="456.33" y2="503.9" stroke="#111" stroke-width="0.8"/>
<line x1="475.87" y1="502.6" x2="475.87" y2="503.9" stroke="#111" stroke-width="0.8"/>
<line x1="495.4" y1="502.6" x2="495.4" y2="503.9" stroke="#111" stroke-width="0.8"/>
<line x1="514.93" y1="502.6" x2="514.93" y2="503.9" stroke="#111" stroke-width="0.8"/>
<text x="466.1" y="523.8" font-size="8.8" text-anchor="middle" font-weight="bold" fill="#111">k (Å<tspan font-size="5.5" dy="-3">-1</tspan><tspan dy="3">)</tspan></text>
<text x="395.4" y="450.75" font-size="8.8" text-anchor="middle" font-weight="bold" fill="#111" transform="rotate(-90 395.4 450.75)">R+α (Å)</text>
<text x="413.2" y="412.9" font-size="10.8" text-anchor="start" font-weight="bold" fill="#f4f4f4">PtO<tspan font-size="7.2" dy="3.4">2</tspan></text>
<g clip-path="url(#cph4)"><g filter="url(#cm)">
<rect x="559.6" y="396.9" width="122.7" height="107.9" fill="rgb(33,33,33)"/>
<g style="isolation:isolate">
<ellipse cx="622.93" cy="488.25" rx="163.21" ry="10.13" fill="url(#gw)" fill-opacity="0.3" style="mix-blend-mode:plus-lighter"/>
<ellipse cx="621.94" cy="488.25" rx="163.21" ry="31.17" fill="url(#gw)" fill-opacity="0.7" style="mix-blend-mode:plus-lighter"/>
<ellipse cx="596.22" cy="456.05" rx="77.15" ry="38.96" fill="url(#gw)" fill-opacity="0.4" style="mix-blend-mode:plus-lighter"/>
<ellipse cx="613.04" cy="445.65" rx="35.61" ry="31.17" fill="url(#gw)" fill-opacity="0.15" style="mix-blend-mode:plus-lighter"/>
<ellipse cx="581.38" cy="419.68" rx="74.19" ry="46.76" fill="url(#gw)" fill-opacity="0.12" style="mix-blend-mode:plus-lighter"/>
</g>
<ellipse cx="609.48" cy="431.11" rx="20.77" ry="7.79" fill="url(#gb)" fill-opacity="0.69"/>
<ellipse cx="638.36" cy="409.81" rx="17.8" ry="7.79" fill="url(#gb)" fill-opacity="0.57"/>
<ellipse cx="645.68" cy="423.32" rx="17.8" ry="7.79" fill="url(#gb)" fill-opacity="0.57"/>
<ellipse cx="634.3" cy="469.81" rx="32.64" ry="7.01" fill="url(#gb)" fill-opacity="0.75"/>
<ellipse cx="659.03" cy="462.02" rx="26.71" ry="6.23" fill="url(#gb)" fill-opacity="0.63"/>
<ellipse cx="669.42" cy="435.78" rx="20.77" ry="7.79" fill="url(#gb)" fill-opacity="0.57"/>
<ellipse cx="564.07" cy="449.03" rx="14.84" ry="11.69" fill="url(#gb)" fill-opacity="0.69"/>
<ellipse cx="660.52" cy="437.86" rx="74.19" ry="93.51" fill="url(#gb)" fill-opacity="0.4"/>
</g>
<path d="M680.3 416.3 679.7 415.6 679.2 414.9 678.6 414.1 677.9 413.3 677.3 412.6 676.6 411.9 675.9 411.3 675.3 410.7 674.6 410.2 673.8 409.6 672.9 408.9 672.3 408.5 671.3 407.9 670.6 407.5 669.6 407.0 668.6 406.6 667.7 406.2 666.8 405.9 665.6 405.6 664.6 405.3 663.6 405.2 662.3 405.0 660.9 404.9 659.6 405.0 658.3 405.1 657.0 405.2 655.9 405.4 654.9 405.7 653.9 406.0 652.9 405.8 651.6 405.6 650.3 405.7 648.9 405.6 647.9 405.5 646.6 405.4 645.3 405.2 644.3 405.2 642.9 405.1 641.6 405.0 640.3 405.1 638.9 405.1 637.9 405.2 636.6 405.4 635.6 405.6 634.6 405.9 633.5 406.2 632.6 406.6 631.6 407.2 630.9 407.7 630.3 408.3 629.8 409.2 629.9 410.6 630.3 411.3 630.9 412.0 631.7 412.6 632.6 413.1 633.6 413.5 634.6 413.9 635.6 414.2 636.6 414.5 637.6 414.8 638.6 415.0 639.7 415.2 640.9 415.5 641.5 416.2 641.1 417.2 640.3 417.8 639.4 418.2 638.6 418.7 637.6 419.2 636.9 419.7 636.3 420.3 635.6 420.9 635.0 421.9 634.9 422.8 635.2 423.9 635.6 424.6 636.3 425.5 636.9 426.1 637.6 426.6 638.5 427.2 639.3 427.8 640.0 428.2 640.9 428.8 641.6 429.3 642.3 429.9 643.0 430.6 643.6 431.2 644.1 432.2 644.5 433.2 644.8 434.2 645.3 435.2 645.6 435.9 646.1 436.9 646.6 437.9 646.9 438.6 647.4 439.6 647.8 440.6 648.3 441.5 648.7 442.2 649.3 443.0 649.9 443.9 650.3 444.6 650.9 445.5 651.4 446.2 651.9 447.0 652.5 447.9 652.9 448.6 653.5 449.6 654.0 450.2 654.6 451.2 655.0 451.9 655.6 452.8 656.2 453.6 656.6 454.2 657.3 455.2 657.3 455.9 656.6 456.6 655.6 457.1 654.6 457.5 653.9 457.9 652.9 458.4 651.9 458.8 651.1 459.2 650.3 459.6 649.3 460.2 648.6 460.7 648.1 461.6 648.6 462.5 649.3 462.9 650.3 463.3 651.3 463.7 652.3 463.9 653.6 464.2 654.6 464.3 655.9 464.5 656.9 464.6 658.3 464.7 659.6 464.7 660.9 464.8 662.3 464.7 663.6 464.7 664.9 464.6 666.0 464.6 667.3 464.5 668.6 464.3 669.6 464.2 670.9 464.0 671.9 463.8 672.9 463.5 673.9 463.2 674.9 462.8 675.9 462.2 676.6 461.7 677.3 461.2 678.1 460.6 678.9 460.1 679.9 459.6M611.9 431.9 612.9 431.5 613.3 430.6 612.6 430.0 611.6 429.7 610.3 429.6 609.4 429.6 608.3 429.7 607.3 430.0 606.3 430.6 606.4 431.2 607.3 431.7 608.3 432.0 609.6 432.1 610.9 432.1 611.9 431.9M564.8 449.9 565.4 449.2 565.3 448.1 564.5 447.6 563.3 447.5 562.4 447.9 562.0 448.9 562.6 449.8 563.6 450.2 564.8 449.9M639.1 470.6 640.3 470.4 641.3 470.1 642.0 469.6 641.6 468.9 640.6 468.5 639.3 468.3 638.3 468.2 636.9 468.2 635.6 468.2 634.3 468.2 633.3 468.3 631.9 468.5 630.9 468.7 629.9 469.1 629.6 469.7 630.4 470.2 631.6 470.5 632.6 470.6 633.9 470.8 635.3 470.8 636.6 470.8 637.9 470.7 639.1 470.6M561.6 413.5 562.3 412.7 562.9 412.0 563.6 411.4 564.3 410.9 565.2 410.2 565.9 409.7 566.8 409.2 567.6 408.8 568.6 408.3 569.6 407.9 570.5 407.6 571.5 407.2 572.6 406.9 573.6 406.7 574.6 406.4 575.7 406.2 576.9 406.0 578.3 405.9 579.3 405.8 580.6 405.8 581.9 405.8 583.3 405.8 584.5 405.9 585.6 406.0 586.9 406.2 587.9 406.4 588.9 406.6 590.1 406.9 591.1 407.2 591.9 407.6 592.9 408.0 593.9 408.6 594.6 408.9 595.6 409.6 596.3 410.0 597.0 410.6 597.7 411.2 598.4 411.9 599.0 412.6 599.6 413.2 600.3 414.2 600.7 414.9 601.1 415.9 601.6 416.7 602.3 417.4 603.0 417.9 603.9 418.6 604.6 419.1 605.3 419.6 605.9 420.2 606.8 420.9 607.5 421.6 608.2 422.2 608.9 422.9 609.4 423.6 609.2 424.6 608.5 425.2 607.6 425.6 606.6 426.0 605.6 426.3 604.6 426.6 603.6 426.9 602.6 427.4 601.6 427.9 600.9 428.3 600.2 428.9 599.6 429.7 599.5 430.9 599.9 431.6 600.7 432.2 601.6 432.7 602.6 433.1 603.6 433.4 604.6 433.7 605.8 433.9 606.9 434.1 608.3 434.2 609.3 434.2 610.6 434.3 611.9 434.2 612.9 434.2 614.3 434.1 615.6 434.0 616.6 433.8 617.9 433.7 619.3 433.6 620.3 433.6 621.4 433.6 622.6 433.7 623.6 434.0 624.6 434.5 625.3 434.9 626.3 435.5 626.9 436.1 627.6 436.8 628.2 437.6 628.8 438.2 629.3 438.9 629.9 439.8 630.5 440.6 630.9 441.4 631.5 442.2 631.9 443.0 632.5 443.9 632.9 444.8 633.3 445.6 633.7 446.6 634.1 447.6 634.4 448.6 634.7 449.6 635.0 450.6 635.2 451.9 635.3 452.9 635.5 454.2 635.6 455.6 635.6 456.9 635.9 457.9 636.2 458.9 636.3 459.9 636.4 461.2 636.7 462.2 636.9 463.6 636.4 464.6 635.6 465.1 634.6 465.4 633.6 465.7 632.6 465.9 631.3 466.2 630.3 466.4 629.3 466.6 627.9 466.9 626.9 467.1 625.9 467.4 624.9 467.8 624.0 468.2 623.3 468.7 622.8 469.6 623.3 470.2 624.3 470.7 625.3 471.1 626.3 471.4 627.3 471.6 628.6 471.8 629.6 472.0 630.9 472.1 632.3 472.2 633.3 472.3 634.6 472.4 635.9 472.4 637.3 472.4 638.6 472.4 639.9 472.4 641.3 472.3 642.6 472.3 643.8 472.2 644.9 472.2 646.3 472.0 647.6 471.9 648.6 471.9 649.9 471.7 651.3 471.6 652.3 471.6 653.6 471.5 654.9 471.4 656.3 471.3 657.6 471.3 658.9 471.3 660.3 471.3 661.6 471.4 662.9 471.4 664.3 471.5 665.6 471.5 666.6 471.6 667.9 471.7 669.3 471.8 670.6 471.8 671.9 471.9 672.9 471.9 674.3 472.0 675.6 472.0 676.9 472.0 678.3 472.1 679.6 472.1M561.6 453.8 562.9 453.8 564.3 453.7 565.3 453.4 566.3 453.0 567.1 452.6 567.9 451.9 568.5 451.2 569.0 450.6 569.4 449.6 569.5 448.2 569.3 447.0 568.9 446.2 568.3 445.3 567.6 444.7 566.9 444.2 565.9 443.6 565.0 443.2 563.9 442.9 562.9 442.7 561.6 442.6M561.6 472.3 562.3 471.9 563.3 471.4 563.9 470.8 564.6 470.2 565.2 469.2 565.7 468.6 566.3 467.6 566.3 466.6 566.2 465.6 566.1 464.2 565.7 463.2 565.5 462.2 565.3 460.9 565.7 459.9 566.3 459.1 566.6 458.2 567.2 457.2 567.8 456.6 568.5 455.9 569.2 455.2 569.8 454.6 570.4 453.9 571.0 453.2 571.6 452.3 572.0 451.6 572.5 450.6 572.8 449.6 573.1 448.6 573.3 447.5 573.4 446.2 573.5 444.9 573.7 443.9 574.1 442.9 574.6 442.0 575.1 441.2 575.9 440.7 576.9 440.2 577.6 439.9 578.6 439.4 579.6 439.0 580.5 438.6 581.3 438.2 582.3 437.8 583.3 437.5 584.3 437.1 585.3 436.8 586.3 436.5 587.4 436.2 588.6 436.0 589.6 435.8 590.6 435.6 591.9 435.3 593.3 435.3 594.6 435.4 595.9 435.4 597.3 435.5 598.6 435.6 599.6 435.6 600.9 435.7 602.3 435.9 603.3 436.0 604.6 436.0 605.9 436.2 607.1 436.2 608.3 436.3 609.6 436.4 610.9 436.5 611.9 436.6 613.3 436.7 614.4 436.9 615.6 437.1 616.6 437.4 617.6 437.7 618.6 438.2 619.3 438.7 619.9 439.2 620.7 439.9 621.4 440.6 622.0 441.2 622.6 441.9 623.3 442.7 623.9 443.6 624.3 444.2 624.9 445.2 625.3 445.9 625.7 446.9 626.0 447.9 626.3 448.9 626.6 450.1 626.8 451.2 626.9 452.6 626.8 453.9 626.7 455.2 626.5 456.2 626.3 457.6 626.3 458.9 626.2 459.9 626.0 461.2 625.8 462.2 625.5 463.2 624.9 463.9 624.1 464.6 623.3 465.2 622.6 465.6 621.6 466.0 620.6 466.5 619.7 466.9 618.9 467.3 618.1 467.9 617.5 468.6 617.3 469.3 617.7 470.2 618.6 470.8 619.4 471.2 620.3 471.6 621.4 471.9 622.6 472.2 623.6 472.5 624.6 472.6 625.9 472.9 626.9 473.0 628.3 473.2 629.3 473.3 630.6 473.4 631.9 473.6 632.9 473.7 634.3 473.8 635.6 473.8 636.9 473.9 637.9 474.0 639.3 474.0 640.6 474.1 641.9 474.2 643.3 474.2 644.3 474.3 645.6 474.3 646.9 474.4 648.3 474.5 649.3 474.6 650.6 474.7 651.9 474.8 652.9 474.9 654.3 475.0 655.6 475.1 656.6 475.3 657.9 475.5 658.9 475.6 660.3 475.8 661.3 476.0 662.6 476.1 663.6 476.2 664.9 476.4 666.3 476.5 667.3 476.6 668.6 476.7 669.9 476.9 670.9 477.0 672.3 477.1 673.6 477.2 674.6 477.3 675.9 477.5 677.0 477.6 678.3 477.7 679.6 477.8M680.3 499.7 679.3 499.9 677.9 500.1 676.9 500.3 675.6 500.5 674.6 500.6 673.3 500.8 672.3 500.9 670.9 501.1 669.9 501.2 668.6 501.4 667.3 501.6 666.3 501.7 664.9 501.8 663.9 502.0 662.6 502.1 661.3 502.2 660.3 502.3 658.9 502.5M579.2 502.6 577.9 502.4 576.6 502.3 575.6 502.2 574.3 502.0 573.3 501.9 571.9 501.7 570.9 501.6 569.6 501.4 568.6 501.2 567.3 501.0 566.3 500.9 564.9 500.7 563.9 500.5 562.6 500.3 561.6 500.1M561.6 479.6 562.6 479.3 563.6 479.0 564.6 478.7 565.6 478.3 566.6 477.9 567.6 477.6 568.5 477.2 569.3 476.9 570.3 476.5 571.3 476.1 572.3 475.8 573.3 475.4 574.2 474.9 574.9 474.5 575.9 474.1 576.9 473.6 577.7 473.2 578.6 472.8 579.6 472.2 580.3 471.8 581.0 471.2 581.6 470.6 582.3 469.7 582.8 468.9 582.6 467.8 582.3 466.6 581.9 465.8 581.3 465.1 580.6 464.2 580.2 463.6 579.6 462.9 578.9 462.1 578.4 461.2 577.9 460.2 577.7 459.2 577.7 457.9 577.3 457.0 577.0 455.9 577.0 454.6 577.4 453.6 577.8 452.6 578.3 451.7 578.7 450.9 579.3 450.1 579.9 449.4 580.6 448.8 581.4 448.2 582.3 447.6 583.0 447.2 583.9 446.7 584.8 446.2 585.6 445.8 586.6 445.4 587.6 445.0 588.6 444.6 589.6 444.3 590.6 443.9 591.6 443.6 592.6 443.3 593.6 443.0 594.6 442.7 595.6 442.4 596.6 442.1 597.6 441.8 598.7 441.6 599.9 441.3 600.9 441.1 602.3 440.9 603.3 440.8 604.6 440.7 605.9 440.6 607.3 440.7 608.6 440.8 609.6 440.9 610.9 441.2 611.9 441.6 612.7 441.9 613.6 442.3 614.6 442.9 615.3 443.3 616.0 443.9 616.8 444.6 617.4 445.2 617.9 445.9 618.6 446.9 618.9 447.6 619.3 448.6 619.6 449.6 619.8 450.9 619.9 452.2 619.7 453.6 619.5 454.6 619.2 455.6 618.7 456.6 618.3 457.5 617.9 458.6 617.6 459.3 617.1 460.2 616.6 461.0 615.9 461.9 615.5 462.6 614.9 463.4 614.3 464.1 613.6 464.6 612.6 465.2 611.9 465.8 611.3 466.3 610.6 466.9 609.8 467.6 609.4 468.6 609.6 469.9 610.3 470.5 611.0 470.9 611.9 471.4 612.9 471.8 613.9 472.2 614.9 472.6 615.9 472.8 616.9 473.0 617.9 473.3 619.3 473.5 620.3 473.7 621.3 473.9 622.6 474.2 623.6 474.3 624.9 474.5 625.9 474.7 627.3 474.9 628.3 475.0 629.6 475.2 630.6 475.3 631.9 475.5 632.9 475.6 634.3 475.8 635.4 475.9 636.6 476.1 637.9 476.2 638.9 476.3 640.3 476.5 641.3 476.6 642.6 476.9 643.6 477.0 644.7 477.2 645.9 477.4 646.9 477.6 648.3 477.8 649.3 478.0 650.6 478.2 651.6 478.3 652.9 478.5 653.9 478.7 655.3 478.9 656.3 479.0 657.6 479.2 658.6 479.3 659.9 479.5 660.9 479.6 662.3 479.8 663.3 479.9 664.6 480.1 665.9 480.2 666.9 480.3 668.3 480.5 669.3 480.6 670.6 480.8 671.8 480.9 672.9 481.0 674.3 481.2 675.3 481.3 676.6 481.5 677.6 481.6 678.9 481.8 679.9 481.9M680.3 495.0 678.9 495.2 677.9 495.4 676.9 495.6 675.6 495.8 674.6 496.0 673.3 496.2 672.3 496.4 671.1 496.6 669.9 496.8 668.9 496.9 667.6 497.1 666.6 497.3 665.3 497.4 664.3 497.6 662.9 497.8 661.8 497.9 660.6 498.1 659.6 498.2 658.3 498.4 657.2 498.6 655.9 498.7 654.7 498.9 653.6 499.0 652.3 499.2 651.3 499.3 649.9 499.4 648.8 499.6 647.6 499.7 646.3 499.8 645.3 499.9 643.9 500.0 642.6 500.1 641.3 500.2 640.3 500.3 638.9 500.4 637.6 500.5 636.6 500.6 635.3 500.6 633.9 500.7 632.6 500.8 631.3 500.8 629.9 500.9 628.9 500.9 627.6 501.0 626.3 501.0 624.9 501.1 623.6 501.1 622.3 501.1 620.9 501.1 619.6 501.1 618.3 501.1 616.9 501.1 615.6 501.1 614.3 501.1 612.9 501.1 611.6 501.1 610.3 501.0 608.9 501.0 607.6 501.0 606.3 500.9 605.1 500.9 603.9 500.8 602.6 500.8 601.3 500.7 599.9 500.6 598.9 500.5 597.6 500.5 596.3 500.4 594.9 500.3 593.9 500.2 592.6 500.1 591.3 499.9 590.3 499.8 588.9 499.7 587.6 499.6 586.6 499.5 585.3 499.3 584.3 499.2 582.9 499.0 581.9 498.9 580.6 498.7 579.6 498.6 578.3 498.4 577.3 498.2 575.9 498.0 574.9 497.8 573.6 497.6 572.6 497.4 571.3 497.2 570.3 497.1 569.2 496.9 567.9 496.7 566.9 496.5 565.6 496.2 564.6 496.0 563.6 495.8 562.3 495.6M601.9 458.6 600.6 458.9 599.3 458.8 598.3 458.2 597.7 457.6 596.9 457.1 595.9 456.9 594.9 456.4 594.3 455.6 594.0 454.6 594.0 453.2 594.6 452.3 595.3 451.9 596.2 451.2 596.9 450.7 597.6 450.2 598.6 449.6 599.6 449.2 600.6 448.9 601.6 448.7 602.6 448.5 603.9 448.2 604.9 448.1 606.3 448.2 607.3 448.4 608.3 448.7 609.1 449.2 609.7 449.9 610.2 450.9 610.4 451.9 610.3 453.0 609.9 453.9 609.3 454.9 608.6 455.5 607.9 455.9 606.9 456.5 605.9 456.8 605.0 457.2 604.3 457.7 603.3 458.1 602.3 458.5M561.6 483.5 562.6 483.2 563.9 482.9 564.9 482.7 565.9 482.4 566.9 482.2 568.1 481.9 569.3 481.6 570.3 481.4 571.3 481.1 572.3 480.8 573.3 480.6 574.6 480.3 575.6 480.0 576.6 479.7 577.6 479.5 578.6 479.2 579.8 478.9 580.9 478.6 581.9 478.4 582.9 478.2 584.0 477.9 585.2 477.6 586.3 477.3 587.3 477.0 588.3 476.7 589.3 476.5 590.5 476.2 591.6 476.0 592.6 475.8 593.9 475.6 594.9 475.5 596.3 475.4 597.6 475.3 598.9 475.2 599.9 475.2 601.3 475.2 602.6 475.1 603.9 475.1 605.3 475.1 606.6 475.2 607.6 475.2 608.9 475.3 610.3 475.4 611.6 475.6 612.6 475.7 613.9 475.8 614.9 475.9 616.3 476.1 617.3 476.3 618.6 476.4 619.7 476.6 620.9 476.7 622.2 476.9 623.3 477.1 624.3 477.2 625.6 477.4 626.6 477.6 627.9 477.8 628.9 477.9 630.3 478.1 631.3 478.2 632.6 478.4 633.6 478.6 634.9 478.8 635.9 478.9 637.3 479.1 638.3 479.3 639.6 479.5 640.6 479.6 641.9 479.8 642.9 479.9 644.3 480.1 645.3 480.3 646.6 480.5 647.6 480.6 648.9 480.8 649.9 481.0 651.3 481.2 652.3 481.3 653.6 481.5 654.6 481.6 655.9 481.8 656.9 481.9 658.3 482.1 659.6 482.2 660.6 482.3 661.9 482.5 662.9 482.6 664.3 482.8 665.5 482.9 666.6 483.0 667.9 483.2 668.9 483.3 670.3 483.4 671.3 483.6 672.6 483.7 673.8 483.9 674.9 484.1 676.2 484.2 677.3 484.4 678.6 484.6 679.6 484.7M680.3 491.7 679.3 491.9 677.9 492.2 676.9 492.3 675.6 492.6 674.6 492.7 673.4 492.9 672.3 493.1 671.2 493.2 669.9 493.4 668.9 493.6 667.6 493.8 666.6 493.9 665.3 494.1 664.3 494.3 662.9 494.5 661.9 494.6 660.6 494.8 659.6 494.9 658.3 495.1 657.3 495.2 655.9 495.4 654.8 495.6 653.6 495.7 652.3 495.9 651.3 496.0 649.9 496.2 648.9 496.3 647.6 496.5 646.6 496.6 645.3 496.7 643.9 496.9 642.9 497.0 641.6 497.1 640.3 497.2 639.3 497.3 637.9 497.4 636.6 497.5 635.6 497.6 634.3 497.7 632.9 497.8 631.6 497.8 630.3 497.9 629.3 497.9 627.9 498.0 626.6 498.0 625.3 498.1 623.9 498.1 622.6 498.1 621.3 498.2 619.9 498.2 618.6 498.2 617.3 498.2 615.9 498.2 614.6 498.2 613.3 498.1 611.9 498.1 610.6 498.1 609.3 498.1 607.9 498.0 606.6 498.0 605.3 497.9 604.3 497.9 602.9 497.8 601.6 497.7 600.3 497.6 599.3 497.6 597.9 497.5 596.6 497.4 595.3 497.2 594.3 497.2 592.9 497.0 591.7 496.9 590.6 496.8 589.3 496.6 588.3 496.5 586.9 496.4 585.9 496.2 584.6 496.1 583.4 495.9 582.3 495.7 581.0 495.6 579.9 495.4 578.8 495.2 577.6 495.1 576.6 494.9 575.3 494.7 574.3 494.5 572.9 494.3 571.9 494.1 570.6 493.9 569.6 493.7 568.6 493.6 567.3 493.3 566.3 493.1 565.1 492.9 563.9 492.7 562.9 492.5 561.7 492.2M561.6 487.2 562.5 486.6 563.3 486.2 564.3 485.9 565.3 485.5 566.3 485.2 567.6 484.9 568.6 484.7 569.6 484.4 570.6 484.2 571.9 483.9 572.9 483.7 573.9 483.5 575.3 483.2 576.3 483.0 577.3 482.8 578.6 482.6 579.6 482.4 580.6 482.2 581.9 482.0 582.9 481.8 584.2 481.6 585.3 481.4 586.3 481.2 587.6 481.0 588.6 480.8 589.9 480.6 590.9 480.4 592.2 480.2 593.3 480.1 594.6 479.9 595.6 479.8 596.9 479.7 598.3 479.6 599.3 479.5 600.6 479.4 601.9 479.4 603.3 479.3 604.6 479.3 605.9 479.2 606.9 479.2 608.3 479.2 609.6 479.2 610.6 479.3 611.9 479.3 613.3 479.4 614.6 479.4 615.9 479.5 616.9 479.6 618.3 479.7 619.6 479.7 620.9 479.8 621.9 479.9 623.3 480.0 624.6 480.1 625.6 480.3 626.9 480.4 628.3 480.6 629.3 480.7 630.6 480.8 631.6 480.9 632.9 481.1 634.3 481.2 635.3 481.3 636.6 481.5 637.6 481.6 638.9 481.8 639.9 481.9 641.3 482.1 642.6 482.2 643.6 482.4 644.9 482.5 645.9 482.6 647.3 482.8 648.3 482.9 649.6 483.1 650.6 483.2 651.9 483.4 653.3 483.5 654.3 483.7 655.6 483.8 656.6 483.9 657.9 484.1 659.0 484.2 660.3 484.4 661.6 484.6 662.6 484.7 663.9 484.9 664.9 485.0 666.3 485.2 667.3 485.4 668.4 485.6 669.6 485.8 670.6 486.0 671.9 486.2 672.9 486.5 673.9 486.7 674.9 487.1 675.9 487.5 676.6 488.2 676.3 488.8 675.5 489.2 674.6 489.6 673.6 489.9 672.4 490.2 671.3 490.5 670.3 490.7 669.3 490.9 667.9 491.1 666.9 491.3 665.6 491.6 664.6 491.7 663.4 491.9 662.3 492.1 661.2 492.2 659.9 492.4 658.7 492.6 657.6 492.7 656.3 492.9 655.3 493.0 653.9 493.2 652.9 493.3 651.6 493.5 650.6 493.6 649.3 493.7 647.9 493.9 646.9 494.0 645.6 494.2 644.6 494.3 643.3 494.4 641.9 494.5 640.9 494.6 639.6 494.7 638.3 494.9 637.3 494.9 635.9 495.0 634.6 495.1 633.3 495.2 632.3 495.3 630.9 495.4 629.6 495.4 628.3 495.5 626.9 495.6 625.9 495.6 624.6 495.6 623.3 495.7 621.9 495.7 620.6 495.7 619.3 495.8 617.9 495.8 616.6 495.7 615.3 495.7 613.9 495.7 612.6 495.7 611.3 495.7 609.9 495.6 608.6 495.6 607.6 495.6 606.3 495.5 604.9 495.4 603.6 495.4 602.3 495.3 601.0 495.2 599.9 495.2 598.6 495.0 597.3 494.9 596.3 494.8 594.9 494.7 593.6 494.6 592.6 494.5 591.3 494.4 589.9 494.2 588.9 494.1 587.6 494.0 586.6 493.9 585.3 493.7 584.2 493.6 582.9 493.4 581.6 493.2 580.6 493.1 579.3 492.9 578.3 492.8 576.9 492.6 575.9 492.4 574.8 492.2 573.6 492.0 572.6 491.9 571.3 491.6 570.3 491.4 569.3 491.2 567.9 490.9 566.9 490.7 565.9 490.4 564.9 490.1 563.9 489.8 562.9 489.4 561.9 488.9M627.3 493.6 625.9 493.6 624.6 493.7 623.3 493.7 621.9 493.7 620.6 493.7 619.3 493.7 617.9 493.8 616.6 493.8 615.3 493.7 613.9 493.7 612.6 493.7 611.3 493.7 609.9 493.7 608.6 493.6 607.3 493.6 606.3 493.5 604.9 493.5 603.6 493.4 602.3 493.4 600.9 493.3 599.7 493.2 598.6 493.1 597.3 493.0 595.9 492.9 594.9 492.9 593.6 492.7 592.3 492.6 591.3 492.5 589.9 492.4 588.6 492.2 587.6 492.1 586.3 492.0 585.3 491.8 583.9 491.6 582.9 491.5 581.6 491.3 580.6 491.1 579.3 490.9 578.3 490.7 577.3 490.5 576.0 490.2 574.9 490.0 573.9 489.7 572.9 489.3 572.0 488.9 571.3 488.2 571.3 487.6 572.1 486.9 572.9 486.5 573.9 486.2 574.9 485.9 576.0 485.6 577.3 485.3 578.3 485.0 579.3 484.8 580.6 484.6 581.6 484.4 582.6 484.2 583.9 484.0 584.9 483.8 586.3 483.6 587.3 483.5 588.6 483.3 589.6 483.1 590.9 483.0 591.9 482.9 593.3 482.7 594.6 482.6 595.6 482.5 596.9 482.4 598.3 482.3 599.3 482.2 600.6 482.2 601.9 482.1 603.3 482.0 604.6 482.0 605.9 481.9 606.9 481.9 608.3 481.9 609.6 481.8 610.9 481.8 612.3 481.9 613.6 481.9 614.9 481.9 615.9 481.9 617.3 482.0 618.6 482.0 619.9 482.1 621.3 482.2 622.6 482.2 623.6 482.3 624.9 482.4 626.3 482.4 627.6 482.5 628.6 482.6 629.9 482.7 631.3 482.9 632.3 483.0 633.6 483.1 634.9 483.2 635.9 483.3 637.3 483.4 638.6 483.6 639.6 483.7 640.9 483.8 641.9 484.0 643.3 484.1 644.3 484.3 645.6 484.4 646.6 484.6 647.9 484.8 649.0 484.9 650.3 485.1 651.5 485.2 652.6 485.4 653.7 485.6 654.9 485.8 655.9 485.9 657.3 486.2 658.3 486.4 659.3 486.6 660.6 486.9 661.6 487.2 662.5 487.6 663.1 488.2 662.6 488.9 661.6 489.4 660.6 489.7 659.6 489.9 658.3 490.2 657.3 490.4 656.3 490.6 654.9 490.9 653.9 491.0 652.7 491.2 651.6 491.4 650.3 491.6 649.3 491.7 647.9 491.9 646.9 492.0 645.6 492.1 644.6 492.2 643.3 492.4 641.9 492.5 640.9 492.6 639.6 492.7 638.3 492.9 637.3 493.0 635.9 493.1 634.6 493.1 633.3 493.2 632.3 493.3 630.9 493.4 629.6 493.5 628.3 493.5 627.3 493.6M626.3 491.9 624.9 492.0 623.6 492.0 622.3 492.0 620.9 492.1 619.6 492.1 618.3 492.1 616.9 492.1 615.6 492.1 614.3 492.1 612.9 492.1 611.6 492.1 610.3 492.1 608.9 492.0 607.6 492.0 606.3 492.0 604.9 491.9 603.9 491.9 602.6 491.8 601.3 491.7 599.9 491.7 598.9 491.6 597.6 491.4 596.3 491.3 595.3 491.2 593.9 491.1 592.6 490.9 591.6 490.8 590.3 490.6 589.3 490.4 587.9 490.2 586.9 490.1 585.9 489.9 584.6 489.6 583.6 489.3 582.6 488.9 581.8 488.6 581.6 487.6 582.3 487.1 583.3 486.7 584.3 486.3 585.3 486.1 586.3 485.9 587.6 485.6 588.6 485.4 589.8 485.2 590.9 485.1 592.1 484.9 593.3 484.7 594.6 484.6 595.6 484.5 596.9 484.3 598.2 484.2 599.3 484.2 600.6 484.1 601.9 484.0 603.3 483.9 604.3 483.9 605.6 483.8 606.9 483.8 608.3 483.7 609.6 483.7 610.9 483.7 612.3 483.7 613.6 483.7 614.9 483.7 616.3 483.7 617.6 483.8 618.9 483.8 620.3 483.9 621.3 483.9 622.6 484.0 623.9 484.0 625.3 484.1 626.6 484.2 627.6 484.3 628.9 484.4 630.3 484.5 631.4 484.6 632.6 484.7 633.9 484.8 634.9 484.9 636.3 485.1 637.6 485.2 638.6 485.3 639.9 485.5 640.9 485.7 642.3 485.9 643.3 486.0 644.3 486.2 645.6 486.5 646.6 486.7 647.7 486.9 648.9 487.2 649.7 487.6 650.4 488.2 649.8 488.9 648.9 489.3 647.9 489.6 646.6 489.9 645.6 490.1 644.6 490.2 643.3 490.4 642.3 490.6 640.9 490.7 639.6 490.9 638.6 491.0 637.3 491.2 636.3 491.3 634.9 491.4 633.6 491.5 632.3 491.6 631.3 491.6 629.9 491.7 628.6 491.8 627.3 491.9 626.3 491.9M619.6 490.6 618.3 490.6 616.9 490.6 615.6 490.6 614.3 490.6 613.3 490.6 611.9 490.5 610.6 490.5 609.3 490.4 607.9 490.4 606.6 490.3 605.6 490.2 604.3 490.1 602.9 490.0 601.6 489.9 600.6 489.8 599.3 489.7 598.2 489.6 596.9 489.4 595.9 489.2 594.8 488.9 593.9 488.6 593.5 487.6 594.3 487.1 595.3 486.8 596.3 486.6 597.6 486.4 598.6 486.2 599.9 486.1 601.3 486.0 602.3 485.9 603.6 485.8 604.9 485.7 606.3 485.6 607.4 485.6 608.6 485.5 609.9 485.5 611.3 485.4 612.6 485.4 613.9 485.4 615.3 485.4 616.6 485.4 617.9 485.4 619.3 485.4 620.6 485.5 621.9 485.6 622.9 485.6 624.3 485.7 625.6 485.8 626.6 485.9 627.9 486.0 629.3 486.1 630.3 486.2 631.6 486.4 632.6 486.6 633.9 486.8 634.9 487.1 635.9 487.4 636.9 487.9 636.6 488.5 635.8 488.9 634.6 489.2 633.6 489.5 632.6 489.6 631.3 489.8 630.2 489.9 628.9 490.0 627.6 490.1 626.3 490.2 625.3 490.3 623.9 490.4 622.6 490.5 621.3 490.5 619.9 490.6" fill="none" stroke="#303030" stroke-opacity="0.6" stroke-width="0.7"/>
</g>
<rect x="561.6" y="398.9" width="118.7" height="103.9" fill="none" stroke="#1a1a1a" stroke-width="0.9"/>
<line x1="561.6" y1="398.9" x2="561.6" y2="503.3" stroke="#111" stroke-width="1.1"/>
<line x1="561.1" y1="502.8" x2="680.3" y2="502.8" stroke="#111" stroke-width="1.1"/>
<line x1="561.6" y1="502.8" x2="559.2" y2="502.8" stroke="#111" stroke-width="0.9"/>
<text x="559" y="505.7" font-size="8.6" text-anchor="end" font-weight="bold" fill="#111">1</text>
<line x1="561.6" y1="476.82" x2="559.2" y2="476.82" stroke="#111" stroke-width="0.9"/>
<text x="559" y="479.72" font-size="8.6" text-anchor="end" font-weight="bold" fill="#111">2</text>
<line x1="561.6" y1="450.85" x2="559.2" y2="450.85" stroke="#111" stroke-width="0.9"/>
<text x="559" y="453.75" font-size="8.6" text-anchor="end" font-weight="bold" fill="#111">3</text>
<line x1="561.6" y1="424.88" x2="559.2" y2="424.88" stroke="#111" stroke-width="0.9"/>
<text x="559" y="427.77" font-size="8.6" text-anchor="end" font-weight="bold" fill="#111">4</text>
<line x1="561.6" y1="398.9" x2="559.2" y2="398.9" stroke="#111" stroke-width="0.9"/>
<text x="559" y="401.8" font-size="8.6" text-anchor="end" font-weight="bold" fill="#111">5</text>
<line x1="561.6" y1="489.81" x2="560.3" y2="489.81" stroke="#111" stroke-width="0.8"/>
<line x1="561.6" y1="463.84" x2="560.3" y2="463.84" stroke="#111" stroke-width="0.8"/>
<line x1="561.6" y1="437.86" x2="560.3" y2="437.86" stroke="#111" stroke-width="0.8"/>
<line x1="561.6" y1="411.89" x2="560.3" y2="411.89" stroke="#111" stroke-width="0.8"/>
<line x1="561.6" y1="502.8" x2="561.6" y2="505.2" stroke="#111" stroke-width="0.9"/>
<text x="561.6" y="513.4" font-size="8.6" text-anchor="middle" font-weight="bold" fill="#111">0</text>
<line x1="581.38" y1="502.8" x2="581.38" y2="505.2" stroke="#111" stroke-width="0.9"/>
<text x="581.38" y="513.4" font-size="8.6" text-anchor="middle" font-weight="bold" fill="#111">2</text>
<line x1="601.17" y1="502.8" x2="601.17" y2="505.2" stroke="#111" stroke-width="0.9"/>
<text x="601.17" y="513.4" font-size="8.6" text-anchor="middle" font-weight="bold" fill="#111">4</text>
<line x1="620.95" y1="502.8" x2="620.95" y2="505.2" stroke="#111" stroke-width="0.9"/>
<text x="620.95" y="513.4" font-size="8.6" text-anchor="middle" font-weight="bold" fill="#111">6</text>
<line x1="640.73" y1="502.8" x2="640.73" y2="505.2" stroke="#111" stroke-width="0.9"/>
<text x="640.73" y="513.4" font-size="8.6" text-anchor="middle" font-weight="bold" fill="#111">8</text>
<line x1="660.52" y1="502.8" x2="660.52" y2="505.2" stroke="#111" stroke-width="0.9"/>
<text x="660.52" y="513.4" font-size="8.6" text-anchor="middle" font-weight="bold" fill="#111">10</text>
<line x1="680.3" y1="502.8" x2="680.3" y2="505.2" stroke="#111" stroke-width="0.9"/>
<text x="680.3" y="513.4" font-size="8.6" text-anchor="middle" font-weight="bold" fill="#111">12</text>
<line x1="571.49" y1="502.8" x2="571.49" y2="504.1" stroke="#111" stroke-width="0.8"/>
<line x1="591.27" y1="502.8" x2="591.27" y2="504.1" stroke="#111" stroke-width="0.8"/>
<line x1="611.06" y1="502.8" x2="611.06" y2="504.1" stroke="#111" stroke-width="0.8"/>
<line x1="630.84" y1="502.8" x2="630.84" y2="504.1" stroke="#111" stroke-width="0.8"/>
<line x1="650.62" y1="502.8" x2="650.62" y2="504.1" stroke="#111" stroke-width="0.8"/>
<line x1="670.41" y1="502.8" x2="670.41" y2="504.1" stroke="#111" stroke-width="0.8"/>
<text x="620.95" y="524" font-size="8.8" text-anchor="middle" font-weight="bold" fill="#111">k (Å<tspan font-size="5.5" dy="-3">-1</tspan><tspan dy="3">)</tspan></text>
<text x="549.5" y="450.85" font-size="8.8" text-anchor="middle" font-weight="bold" fill="#111" transform="rotate(-90 549.5 450.85)">R+α (Å)</text>
<text x="565.9" y="413.4" font-size="10.8" text-anchor="start" font-weight="bold" fill="#f4f4f4">Pt SATs</text>
</svg></body></html>
